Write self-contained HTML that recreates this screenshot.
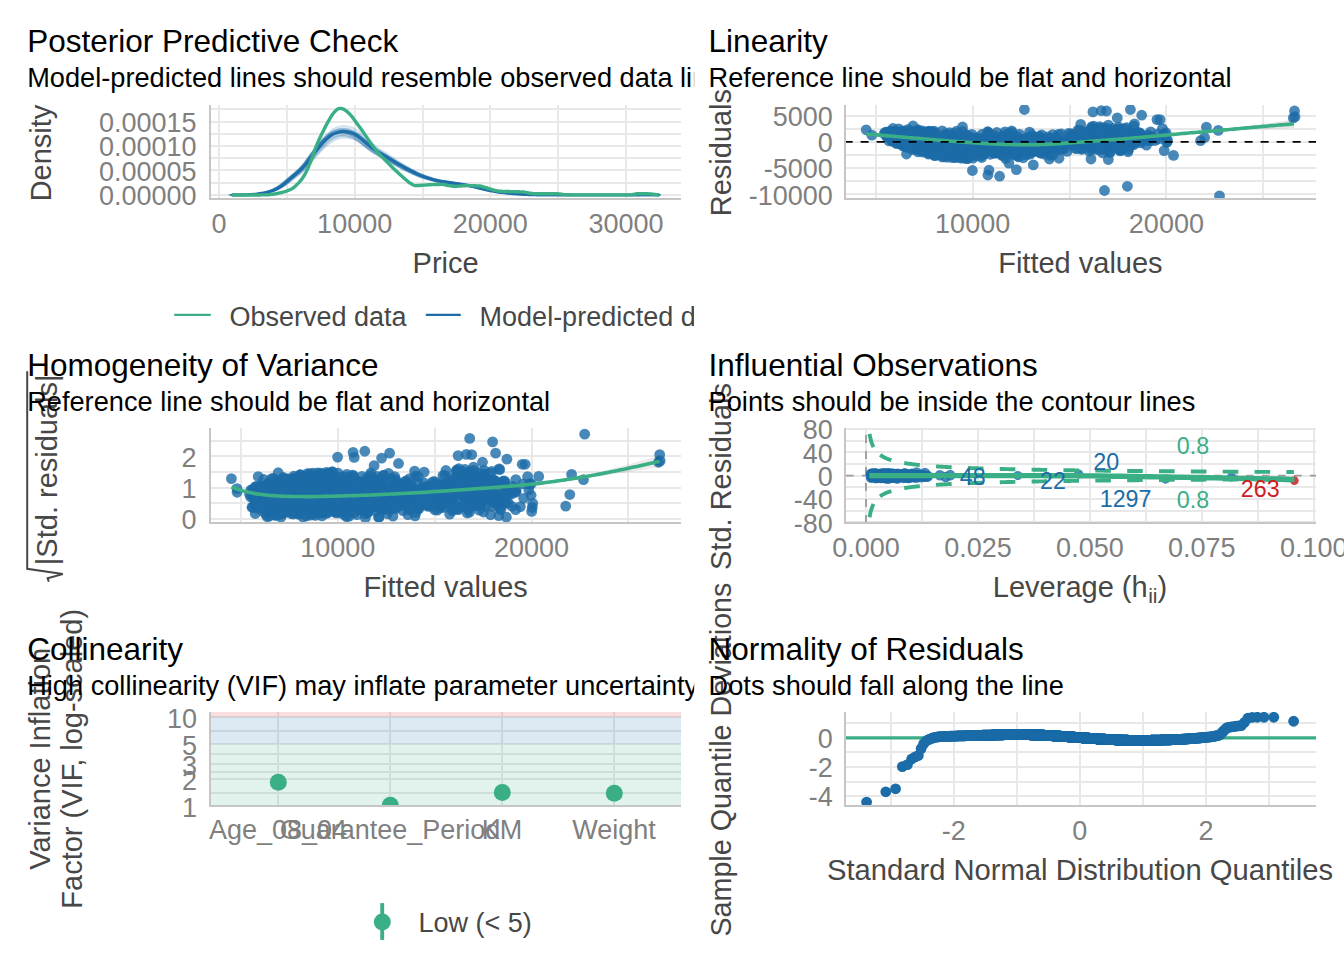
<!DOCTYPE html>
<html lang="en">
<head>
<meta charset="utf-8">
<title>Model assumption checks</title>
<style>
html,body{margin:0;padding:0;background:#fff;}
body{width:1344px;height:960px;overflow:hidden;}
svg{display:block;font-family:"Liberation Sans", sans-serif;}
text{font-family:"Liberation Sans", sans-serif;}
</style>
</head>
<body>
<svg width="1344" height="960" viewBox="0 0 1344 960">
<defs>
<clipPath id="cellL"><rect x="0" y="0" width="694.2" height="960"/></clipPath>
<clipPath id="c1"><rect x="211" y="105" width="470" height="93"/></clipPath>
<clipPath id="c2"><rect x="846" y="105" width="470" height="93"/></clipPath>
<clipPath id="c3"><rect x="211" y="428" width="470" height="94"/></clipPath>
<clipPath id="c4"><rect x="846" y="428" width="470" height="94"/></clipPath>
<clipPath id="c5"><rect x="211" y="712" width="470" height="93"/></clipPath>
<clipPath id="c6"><rect x="846" y="712" width="470" height="93"/></clipPath>
</defs>
<rect x="0" y="0" width="1344" height="960" fill="#fff"/>
<g>
<g shape-rendering="crispEdges" stroke="#e8e8e8" stroke-width="2">
<path d="M287 105 V199"/>
<path d="M423 105 V199"/>
<path d="M558 105 V199"/>
<path d="M219 105 V199"/>
<path d="M355 105 V199"/>
<path d="M490 105 V199"/>
<path d="M626 105 V199"/>
<path d="M210 183 H681"/>
<path d="M210 158 H681"/>
<path d="M210 134 H681"/>
<path d="M210 109 H681"/>
<path d="M210 195 H681"/>
<path d="M210 170 H681"/>
<path d="M210 146 H681"/>
<path d="M210 122 H681"/>
</g>
<g shape-rendering="crispEdges" stroke="#c6c6c6" stroke-width="2"><path d="M210 105 V200"/><path d="M209 199 H681"/></g>
<g clip-path="url(#c1)" fill="none" stroke-linejoin="round" stroke-linecap="butt">
<path d="M233.8 194.9 L235.45 194.89 L237.1 194.88 L238.75 194.87 L240.4 194.86 L242.05 194.85 L243.7 194.84 L245.35 194.82 L247 194.8 L248.66 194.76 L250.31 194.69 L251.96 194.6 L253.61 194.49 L255.26 194.36 L256.91 194.22 L258.56 194.06 L260.21 193.86 L261.86 193.62 L263.51 193.35 L265.16 193.05 L266.81 192.73 L268.46 192.36 L270.11 191.95 L271.76 191.49 L273.41 190.97 L275.06 190.4 L276.72 189.75 L278.37 188.95 L280.02 188.05 L281.67 187.07 L283.32 186.01 L284.97 184.82 L286.62 183.54 L288.27 182.17 L289.92 180.76 L291.57 179.33 L293.22 177.91 L294.87 176.5 L296.52 175.12 L298.17 173.72 L299.82 172.3 L301.47 170.83 L303.12 169.29 L304.77 167.65 L306.43 165.89 L308.08 163.92 L309.73 161.77 L311.38 159.51 L313.03 157.2 L314.68 154.92 L316.33 152.72 L317.98 150.68 L319.63 148.68 L321.28 146.67 L322.93 144.7 L324.58 142.8 L326.23 141.01 L327.88 139.37 L329.53 137.91 L331.18 136.57 L332.83 135.29 L334.49 134.16 L336.14 133.28 L337.79 132.67 L339.44 132.14 L341.09 131.68 L342.74 131.34 L344.39 131.15 L346.04 131.16 L347.69 131.31 L349.34 131.58 L350.99 131.91 L352.64 132.29 L354.29 132.84 L355.94 133.57 L357.59 134.42 L359.24 135.36 L360.89 136.48 L362.55 137.86 L364.2 139.33 L365.85 140.71 L367.5 142.08 L369.15 143.46 L370.8 144.85 L372.45 146.21 L374.1 147.52 L375.75 148.78 L377.4 149.95 L379.05 151.03 L380.7 152.05 L382.35 153.03 L384 153.99 L385.65 154.93 L387.3 155.88 L388.95 156.85 L390.61 157.85 L392.26 158.87 L393.91 159.89 L395.56 160.91 L397.21 161.92 L398.86 162.91 L400.51 163.89 L402.16 164.83 L403.81 165.77 L405.46 166.7 L407.11 167.61 L408.76 168.51 L410.41 169.38 L412.06 170.23 L413.71 171.05 L415.36 171.87 L417.01 172.68 L418.66 173.48 L420.32 174.24 L421.97 174.97 L423.62 175.64 L425.27 176.25 L426.92 176.83 L428.57 177.4 L430.22 177.94 L431.87 178.46 L433.52 178.96 L435.17 179.43 L436.82 179.87 L438.47 180.28 L440.12 180.65 L441.77 180.99 L443.42 181.29 L445.07 181.55 L446.72 181.79 L448.38 182.04 L450.03 182.29 L451.68 182.53 L453.33 182.78 L454.98 183.02 L456.63 183.26 L458.28 183.5 L459.93 183.75 L461.58 184.01 L463.23 184.27 L464.88 184.55 L466.53 184.82 L468.18 185.11 L469.83 185.4 L471.48 185.7 L473.13 186.01 L474.78 186.34 L476.44 186.68 L478.09 187.06 L479.74 187.47 L481.39 187.9 L483.04 188.34 L484.69 188.77 L486.34 189.2 L487.99 189.59 L489.64 189.95 L491.29 190.29 L492.94 190.62 L494.59 190.94 L496.24 191.25 L497.89 191.55 L499.54 191.82 L501.19 192.08 L502.84 192.31 L504.5 192.52 L506.15 192.72 L507.8 192.91 L509.45 193.09 L511.1 193.26 L512.75 193.41 L514.4 193.56 L516.05 193.69 L517.7 193.82 L519.35 193.94 L521 194.05 L522.65 194.16 L524.3 194.26 L525.95 194.35 L527.6 194.42 L529.25 194.49 L530.9 194.55 L532.55 194.6 L534.21 194.65 L535.86 194.7 L537.51 194.75 L539.16 194.79 L540.81 194.82 L542.46 194.85 L544.11 194.88 L545.76 194.89 L547.41 194.9 L549.06 194.91 L550.71 194.91 L552.36 194.92 L554.01 194.93 L555.66 194.93 L557.31 194.94 L558.96 194.94 L560.61 194.95 L562.27 194.95 L563.92 194.95 L565.57 194.96 L567.22 194.96 L568.87 194.97 L570.52 194.97 L572.17 194.97 L573.82 194.98 L575.47 194.98 L577.12 194.98 L578.77 194.98 L580.42 194.99 L582.07 194.99 L583.72 194.99 L585.37 194.99 L587.02 194.99 L588.67 194.99 L590.33 195 L591.98 195 L593.63 195 L595.28 195 L596.93 195 L598.58 195 L600.23 195 L601.88 195 L603.53 195 L605.18 195 L606.83 195 L608.48 195 L610.13 195 L611.78 195 L613.43 195 L615.08 195 L616.73 195 L618.38 195 L620.04 195 L621.69 195 L623.34 195 L624.99 195 L626.64 195 L628.29 195 L629.94 195 L631.59 195 L633.24 195 L634.89 195 L636.54 195 L638.19 195 L639.84 195 L641.49 195 L643.14 195 L644.79 195 L646.44 195 L648.1 195 L649.75 195 L651.4 195 L653.05 195 L654.7 195 L656.35 195 L658 195 L659.65 195 L661.3 195" stroke="#1b6ca8" stroke-width="1.6" stroke-opacity="0.22"/>
<path d="M233.39 194.9 L235.04 194.89 L236.69 194.88 L238.34 194.88 L239.99 194.87 L241.64 194.86 L243.29 194.84 L244.94 194.83 L246.59 194.81 L248.24 194.77 L249.89 194.71 L251.54 194.62 L253.19 194.51 L254.85 194.39 L256.5 194.26 L258.15 194.11 L259.8 193.91 L261.45 193.69 L263.1 193.42 L264.75 193.14 L266.4 192.83 L268.05 192.49 L269.7 192.09 L271.35 191.65 L273 191.16 L274.65 190.61 L276.3 189.99 L277.95 189.23 L279.6 188.37 L281.25 187.43 L282.91 186.42 L284.56 185.29 L286.21 184.06 L287.86 182.76 L289.51 181.42 L291.16 180.05 L292.81 178.69 L294.46 177.35 L296.11 176.03 L297.76 174.7 L299.41 173.35 L301.06 171.94 L302.71 170.47 L304.36 168.91 L306.01 167.23 L307.66 165.35 L309.31 163.3 L310.97 161.14 L312.62 158.94 L314.27 156.76 L315.92 154.67 L317.57 152.72 L319.22 150.81 L320.87 148.9 L322.52 147.02 L324.17 145.2 L325.82 143.5 L327.47 141.93 L329.12 140.54 L330.77 139.26 L332.42 138.04 L334.07 136.96 L335.72 136.11 L337.37 135.54 L339.02 135.03 L340.68 134.59 L342.33 134.26 L343.98 134.08 L345.63 134.09 L347.28 134.24 L348.93 134.5 L350.58 134.82 L352.23 135.17 L353.88 135.7 L355.53 136.39 L357.18 137.21 L358.83 138.1 L360.48 139.17 L362.13 140.49 L363.78 141.89 L365.43 143.21 L367.08 144.51 L368.74 145.83 L370.39 147.15 L372.04 148.45 L373.69 149.71 L375.34 150.9 L376.99 152.02 L378.64 153.05 L380.29 154.03 L381.94 154.96 L383.59 155.87 L385.24 156.77 L386.89 157.68 L388.54 158.6 L390.19 159.56 L391.84 160.53 L393.49 161.5 L395.14 162.48 L396.8 163.44 L398.45 164.39 L400.1 165.32 L401.75 166.22 L403.4 167.12 L405.05 168 L406.7 168.87 L408.35 169.72 L410 170.56 L411.65 171.37 L413.3 172.15 L414.95 172.93 L416.6 173.71 L418.25 174.47 L419.9 175.2 L421.55 175.89 L423.2 176.53 L424.85 177.11 L426.51 177.67 L428.16 178.21 L429.81 178.72 L431.46 179.22 L433.11 179.7 L434.76 180.14 L436.41 180.57 L438.06 180.96 L439.71 181.31 L441.36 181.64 L443.01 181.92 L444.66 182.17 L446.31 182.4 L447.96 182.63 L449.61 182.87 L451.26 183.11 L452.91 183.34 L454.57 183.57 L456.22 183.8 L457.87 184.03 L459.52 184.26 L461.17 184.51 L462.82 184.77 L464.47 185.03 L466.12 185.29 L467.77 185.56 L469.42 185.84 L471.07 186.13 L472.72 186.42 L474.37 186.73 L476.02 187.06 L477.67 187.42 L479.32 187.81 L480.97 188.22 L482.63 188.64 L484.28 189.06 L485.93 189.46 L487.58 189.84 L489.23 190.18 L490.88 190.51 L492.53 190.82 L494.18 191.13 L495.83 191.43 L497.48 191.71 L499.13 191.97 L500.78 192.21 L502.43 192.43 L504.08 192.63 L505.73 192.83 L507.38 193.01 L509.03 193.18 L510.69 193.34 L512.34 193.49 L513.99 193.62 L515.64 193.75 L517.29 193.87 L518.94 193.98 L520.59 194.09 L522.24 194.2 L523.89 194.29 L525.54 194.38 L527.19 194.45 L528.84 194.51 L530.49 194.57 L532.14 194.62 L533.79 194.67 L535.44 194.71 L537.09 194.76 L538.74 194.8 L540.4 194.83 L542.05 194.86 L543.7 194.88 L545.35 194.9 L547 194.91 L548.65 194.91 L550.3 194.92 L551.95 194.92 L553.6 194.93 L555.25 194.93 L556.9 194.94 L558.55 194.94 L560.2 194.95 L561.85 194.95 L563.5 194.96 L565.15 194.96 L566.8 194.96 L568.46 194.97 L570.11 194.97 L571.76 194.97 L573.41 194.98 L575.06 194.98 L576.71 194.98 L578.36 194.98 L580.01 194.99 L581.66 194.99 L583.31 194.99 L584.96 194.99 L586.61 194.99 L588.26 195 L589.91 195 L591.56 195 L593.21 195 L594.86 195 L596.52 195 L598.17 195 L599.82 195 L601.47 195 L603.12 195 L604.77 195 L606.42 195 L608.07 195 L609.72 195 L611.37 195 L613.02 195 L614.67 195 L616.32 195 L617.97 195 L619.62 195 L621.27 195 L622.92 195 L624.58 195 L626.23 195 L627.88 195 L629.53 195 L631.18 195 L632.83 195 L634.48 195 L636.13 195 L637.78 195 L639.43 195 L641.08 195 L642.73 195 L644.38 195 L646.03 195 L647.68 195 L649.33 195 L650.98 195 L652.63 195 L654.29 195 L655.94 195 L657.59 195 L659.24 195 L660.89 195" stroke="#1b6ca8" stroke-width="1.6" stroke-opacity="0.22"/>
<path d="M231.38 194.9 L233.03 194.89 L234.68 194.88 L236.33 194.87 L237.98 194.86 L239.63 194.85 L241.29 194.84 L242.94 194.82 L244.59 194.8 L246.24 194.76 L247.89 194.7 L249.54 194.6 L251.19 194.49 L252.84 194.37 L254.49 194.23 L256.14 194.08 L257.79 193.88 L259.44 193.64 L261.09 193.38 L262.74 193.08 L264.39 192.76 L266.04 192.41 L267.69 192 L269.34 191.54 L271 191.04 L272.65 190.48 L274.3 189.83 L275.95 189.05 L277.6 188.16 L279.25 187.2 L280.9 186.15 L282.55 184.98 L284.2 183.72 L285.85 182.38 L287.5 180.99 L289.15 179.58 L290.8 178.18 L292.45 176.8 L294.1 175.43 L295.75 174.06 L297.4 172.66 L299.06 171.21 L300.71 169.69 L302.36 168.08 L304.01 166.35 L305.66 164.41 L307.31 162.3 L308.96 160.07 L310.61 157.8 L312.26 155.55 L313.91 153.39 L315.56 151.38 L317.21 149.41 L318.86 147.44 L320.51 145.5 L322.16 143.63 L323.81 141.87 L325.46 140.25 L327.12 138.82 L328.77 137.5 L330.42 136.24 L332.07 135.13 L333.72 134.26 L335.37 133.66 L337.02 133.14 L338.67 132.69 L340.32 132.35 L341.97 132.16 L343.62 132.17 L345.27 132.32 L346.92 132.59 L348.57 132.91 L350.22 133.29 L351.87 133.83 L353.52 134.54 L355.18 135.38 L356.83 136.3 L358.48 137.4 L360.13 138.77 L361.78 140.21 L363.43 141.57 L365.08 142.92 L366.73 144.28 L368.38 145.64 L370.03 146.98 L371.68 148.28 L373.33 149.51 L374.98 150.66 L376.63 151.73 L378.28 152.74 L379.93 153.7 L381.58 154.64 L383.23 155.56 L384.89 156.5 L386.54 157.46 L388.19 158.44 L389.84 159.44 L391.49 160.45 L393.14 161.45 L394.79 162.44 L396.44 163.42 L398.09 164.38 L399.74 165.31 L401.39 166.23 L403.04 167.15 L404.69 168.05 L406.34 168.93 L407.99 169.79 L409.64 170.62 L411.29 171.43 L412.95 172.24 L414.6 173.04 L416.25 173.82 L417.9 174.57 L419.55 175.28 L421.2 175.95 L422.85 176.55 L424.5 177.12 L426.15 177.68 L427.8 178.21 L429.45 178.72 L431.1 179.21 L432.75 179.68 L434.4 180.11 L436.05 180.51 L437.7 180.88 L439.35 181.22 L441.01 181.51 L442.66 181.76 L444.31 182 L445.96 182.24 L447.61 182.49 L449.26 182.73 L450.91 182.97 L452.56 183.21 L454.21 183.44 L455.86 183.68 L457.51 183.93 L459.16 184.18 L460.81 184.44 L462.46 184.71 L464.11 184.98 L465.76 185.26 L467.41 185.55 L469.06 185.84 L470.72 186.15 L472.37 186.47 L474.02 186.81 L475.67 187.18 L477.32 187.59 L478.97 188.01 L480.62 188.44 L482.27 188.87 L483.92 189.29 L485.57 189.68 L487.22 190.03 L488.87 190.36 L490.52 190.69 L492.17 191.01 L493.82 191.31 L495.47 191.6 L497.12 191.87 L498.78 192.12 L500.43 192.35 L502.08 192.56 L503.73 192.76 L505.38 192.94 L507.03 193.12 L508.68 193.29 L510.33 193.44 L511.98 193.58 L513.63 193.71 L515.28 193.83 L516.93 193.95 L518.58 194.07 L520.23 194.17 L521.88 194.27 L523.53 194.36 L525.18 194.43 L526.84 194.5 L528.49 194.55 L530.14 194.61 L531.79 194.66 L533.44 194.7 L535.09 194.75 L536.74 194.79 L538.39 194.82 L540.04 194.85 L541.69 194.88 L543.34 194.89 L544.99 194.9 L546.64 194.91 L548.29 194.92 L549.94 194.92 L551.59 194.93 L553.24 194.93 L554.9 194.94 L556.55 194.94 L558.2 194.95 L559.85 194.95 L561.5 194.96 L563.15 194.96 L564.8 194.96 L566.45 194.97 L568.1 194.97 L569.75 194.97 L571.4 194.98 L573.05 194.98 L574.7 194.98 L576.35 194.98 L578 194.99 L579.65 194.99 L581.3 194.99 L582.95 194.99 L584.61 194.99 L586.26 194.99 L587.91 195 L589.56 195 L591.21 195 L592.86 195 L594.51 195 L596.16 195 L597.81 195 L599.46 195 L601.11 195 L602.76 195 L604.41 195 L606.06 195 L607.71 195 L609.36 195 L611.01 195 L612.67 195 L614.32 195 L615.97 195 L617.62 195 L619.27 195 L620.92 195 L622.57 195 L624.22 195 L625.87 195 L627.52 195 L629.17 195 L630.82 195 L632.47 195 L634.12 195 L635.77 195 L637.42 195 L639.07 195 L640.73 195 L642.38 195 L644.03 195 L645.68 195 L647.33 195 L648.98 195 L650.63 195 L652.28 195 L653.93 195 L655.58 195 L657.23 195 L658.88 195" stroke="#1b6ca8" stroke-width="1.6" stroke-opacity="0.22"/>
<path d="M232.05 194.89 L233.7 194.88 L235.35 194.87 L237 194.86 L238.65 194.85 L240.3 194.84 L241.96 194.82 L243.61 194.81 L245.26 194.78 L246.91 194.74 L248.56 194.67 L250.21 194.57 L251.86 194.44 L253.51 194.31 L255.16 194.16 L256.81 193.99 L258.46 193.77 L260.11 193.51 L261.76 193.22 L263.41 192.89 L265.06 192.55 L266.71 192.15 L268.36 191.7 L270.02 191.2 L271.67 190.65 L273.32 190.03 L274.97 189.32 L276.62 188.46 L278.27 187.49 L279.92 186.43 L281.57 185.28 L283.22 184 L284.87 182.61 L286.52 181.14 L288.17 179.61 L289.82 178.07 L291.47 176.52 L293.12 175.01 L294.77 173.51 L296.42 172 L298.08 170.47 L299.73 168.87 L301.38 167.21 L303.03 165.44 L304.68 163.54 L306.33 161.41 L307.98 159.08 L309.63 156.64 L311.28 154.15 L312.93 151.68 L314.58 149.3 L316.23 147.09 L317.88 144.93 L319.53 142.76 L321.18 140.63 L322.83 138.58 L324.48 136.65 L326.14 134.87 L327.79 133.29 L329.44 131.84 L331.09 130.46 L332.74 129.24 L334.39 128.28 L336.04 127.63 L337.69 127.06 L339.34 126.56 L340.99 126.19 L342.64 125.98 L344.29 125.99 L345.94 126.16 L347.59 126.45 L349.24 126.81 L350.89 127.22 L352.54 127.81 L354.19 128.6 L355.85 129.52 L357.5 130.53 L359.15 131.74 L360.8 133.24 L362.45 134.83 L364.1 136.32 L365.75 137.8 L367.4 139.3 L369.05 140.79 L370.7 142.26 L372.35 143.68 L374 145.04 L375.65 146.3 L377.3 147.47 L378.95 148.58 L380.6 149.64 L382.25 150.67 L383.91 151.69 L385.56 152.71 L387.21 153.77 L388.86 154.85 L390.51 155.95 L392.16 157.05 L393.81 158.15 L395.46 159.24 L397.11 160.32 L398.76 161.37 L400.41 162.39 L402.06 163.41 L403.71 164.41 L405.36 165.4 L407.01 166.36 L408.66 167.31 L410.31 168.22 L411.97 169.11 L413.62 170 L415.27 170.88 L416.92 171.74 L418.57 172.56 L420.22 173.35 L421.87 174.07 L423.52 174.73 L425.17 175.36 L426.82 175.97 L428.47 176.56 L430.12 177.12 L431.77 177.66 L433.42 178.17 L435.07 178.65 L436.72 179.09 L438.37 179.49 L440.03 179.86 L441.68 180.18 L443.33 180.46 L444.98 180.73 L446.63 180.99 L448.28 181.26 L449.93 181.53 L451.58 181.79 L453.23 182.05 L454.88 182.31 L456.53 182.57 L458.18 182.84 L459.83 183.12 L461.48 183.41 L463.13 183.7 L464.78 184 L466.43 184.31 L468.08 184.62 L469.74 184.95 L471.39 185.28 L473.04 185.63 L474.69 186.01 L476.34 186.41 L477.99 186.86 L479.64 187.32 L481.29 187.8 L482.94 188.27 L484.59 188.73 L486.24 189.15 L487.89 189.54 L489.54 189.91 L491.19 190.27 L492.84 190.62 L494.49 190.95 L496.14 191.27 L497.8 191.57 L499.45 191.84 L501.1 192.09 L502.75 192.32 L504.4 192.54 L506.05 192.74 L507.7 192.94 L509.35 193.12 L511 193.29 L512.65 193.44 L514.3 193.58 L515.95 193.72 L517.6 193.85 L519.25 193.97 L520.9 194.09 L522.55 194.2 L524.2 194.29 L525.86 194.38 L527.51 194.45 L529.16 194.51 L530.81 194.57 L532.46 194.62 L534.11 194.68 L535.76 194.72 L537.41 194.77 L539.06 194.81 L540.71 194.84 L542.36 194.87 L544.01 194.88 L545.66 194.89 L547.31 194.9 L548.96 194.91 L550.61 194.91 L552.26 194.92 L553.91 194.93 L555.57 194.93 L557.22 194.94 L558.87 194.94 L560.52 194.95 L562.17 194.95 L563.82 194.96 L565.47 194.96 L567.12 194.96 L568.77 194.97 L570.42 194.97 L572.07 194.97 L573.72 194.98 L575.37 194.98 L577.02 194.98 L578.67 194.99 L580.32 194.99 L581.97 194.99 L583.63 194.99 L585.28 194.99 L586.93 194.99 L588.58 195 L590.23 195 L591.88 195 L593.53 195 L595.18 195 L596.83 195 L598.48 195 L600.13 195 L601.78 195 L603.43 195 L605.08 195 L606.73 195 L608.38 195 L610.03 195 L611.69 195 L613.34 195 L614.99 195 L616.64 195 L618.29 195 L619.94 195 L621.59 195 L623.24 195 L624.89 195 L626.54 195 L628.19 195 L629.84 195 L631.49 195 L633.14 195 L634.79 195 L636.44 195 L638.09 195 L639.75 195 L641.4 195 L643.05 195 L644.7 195 L646.35 195 L648 195 L649.65 195 L651.3 195 L652.95 195 L654.6 195 L656.25 195 L657.9 195 L659.55 195" stroke="#1b6ca8" stroke-width="1.6" stroke-opacity="0.22"/>
<path d="M232.97 194.9 L234.62 194.89 L236.27 194.88 L237.92 194.87 L239.57 194.86 L241.22 194.85 L242.87 194.84 L244.52 194.82 L246.17 194.8 L247.82 194.76 L249.47 194.69 L251.12 194.6 L252.77 194.49 L254.42 194.36 L256.08 194.23 L257.73 194.07 L259.38 193.87 L261.03 193.63 L262.68 193.36 L264.33 193.06 L265.98 192.74 L267.63 192.38 L269.28 191.97 L270.93 191.51 L272.58 191 L274.23 190.43 L275.88 189.78 L277.53 188.99 L279.18 188.09 L280.83 187.12 L282.48 186.06 L284.14 184.89 L285.79 183.61 L287.44 182.25 L289.09 180.85 L290.74 179.43 L292.39 178.01 L294.04 176.62 L295.69 175.24 L297.34 173.85 L298.99 172.44 L300.64 170.98 L302.29 169.45 L303.94 167.82 L305.59 166.07 L307.24 164.11 L308.89 161.98 L310.54 159.73 L312.19 157.44 L313.85 155.17 L315.5 152.98 L317.15 150.95 L318.8 148.96 L320.45 146.97 L322.1 145.01 L323.75 143.13 L325.4 141.35 L327.05 139.71 L328.7 138.26 L330.35 136.93 L332 135.66 L333.65 134.54 L335.3 133.66 L336.95 133.06 L338.6 132.53 L340.25 132.07 L341.91 131.73 L343.56 131.54 L345.21 131.55 L346.86 131.71 L348.51 131.97 L350.16 132.3 L351.81 132.68 L353.46 133.23 L355.11 133.95 L356.76 134.79 L358.41 135.72 L360.06 136.84 L361.71 138.22 L363.36 139.67 L365.01 141.05 L366.66 142.41 L368.31 143.78 L369.97 145.16 L371.62 146.51 L373.27 147.82 L374.92 149.06 L376.57 150.22 L378.22 151.3 L379.87 152.32 L381.52 153.29 L383.17 154.24 L384.82 155.17 L386.47 156.12 L388.12 157.09 L389.77 158.08 L391.42 159.09 L393.07 160.11 L394.72 161.12 L396.37 162.12 L398.03 163.11 L399.68 164.08 L401.33 165.02 L402.98 165.95 L404.63 166.87 L406.28 167.78 L407.93 168.67 L409.58 169.54 L411.23 170.38 L412.88 171.2 L414.53 172.01 L416.18 172.82 L417.83 173.61 L419.48 174.37 L421.13 175.09 L422.78 175.76 L424.43 176.37 L426.08 176.94 L427.74 177.51 L429.39 178.05 L431.04 178.56 L432.69 179.06 L434.34 179.53 L435.99 179.96 L437.64 180.37 L439.29 180.74 L440.94 181.08 L442.59 181.37 L444.24 181.63 L445.89 181.87 L447.54 182.12 L449.19 182.37 L450.84 182.61 L452.49 182.85 L454.14 183.09 L455.8 183.33 L457.45 183.57 L459.1 183.82 L460.75 184.07 L462.4 184.34 L464.05 184.61 L465.7 184.89 L467.35 185.17 L469 185.46 L470.65 185.75 L472.3 186.07 L473.95 186.39 L475.6 186.73 L477.25 187.11 L478.9 187.51 L480.55 187.94 L482.2 188.38 L483.86 188.81 L485.51 189.23 L487.16 189.62 L488.81 189.98 L490.46 190.32 L492.11 190.65 L493.76 190.97 L495.41 191.28 L497.06 191.57 L498.71 191.84 L500.36 192.1 L502.01 192.32 L503.66 192.54 L505.31 192.74 L506.96 192.92 L508.61 193.1 L510.26 193.27 L511.92 193.42 L513.57 193.57 L515.22 193.7 L516.87 193.82 L518.52 193.94 L520.17 194.06 L521.82 194.16 L523.47 194.26 L525.12 194.35 L526.77 194.43 L528.42 194.49 L530.07 194.55 L531.72 194.6 L533.37 194.65 L535.02 194.7 L536.67 194.75 L538.32 194.79 L539.97 194.82 L541.63 194.85 L543.28 194.88 L544.93 194.89 L546.58 194.9 L548.23 194.91 L549.88 194.91 L551.53 194.92 L553.18 194.93 L554.83 194.93 L556.48 194.94 L558.13 194.94 L559.78 194.95 L561.43 194.95 L563.08 194.95 L564.73 194.96 L566.38 194.96 L568.03 194.97 L569.69 194.97 L571.34 194.97 L572.99 194.98 L574.64 194.98 L576.29 194.98 L577.94 194.98 L579.59 194.99 L581.24 194.99 L582.89 194.99 L584.54 194.99 L586.19 194.99 L587.84 194.99 L589.49 195 L591.14 195 L592.79 195 L594.44 195 L596.09 195 L597.75 195 L599.4 195 L601.05 195 L602.7 195 L604.35 195 L606 195 L607.65 195 L609.3 195 L610.95 195 L612.6 195 L614.25 195 L615.9 195 L617.55 195 L619.2 195 L620.85 195 L622.5 195 L624.15 195 L625.81 195 L627.46 195 L629.11 195 L630.76 195 L632.41 195 L634.06 195 L635.71 195 L637.36 195 L639.01 195 L640.66 195 L642.31 195 L643.96 195 L645.61 195 L647.26 195 L648.91 195 L650.56 195 L652.21 195 L653.86 195 L655.52 195 L657.17 195 L658.82 195 L660.47 195" stroke="#1b6ca8" stroke-width="1.6" stroke-opacity="0.22"/>
<path d="M231.75 194.89 L233.4 194.88 L235.05 194.87 L236.7 194.86 L238.35 194.85 L240 194.84 L241.65 194.83 L243.3 194.81 L244.96 194.79 L246.61 194.75 L248.26 194.68 L249.91 194.58 L251.56 194.46 L253.21 194.33 L254.86 194.19 L256.51 194.02 L258.16 193.81 L259.81 193.56 L261.46 193.27 L263.11 192.96 L264.76 192.62 L266.41 192.24 L268.06 191.81 L269.71 191.32 L271.36 190.78 L273.02 190.19 L274.67 189.5 L276.32 188.67 L277.97 187.73 L279.62 186.7 L281.27 185.59 L282.92 184.35 L284.57 183.01 L286.22 181.58 L287.87 180.11 L289.52 178.61 L291.17 177.11 L292.82 175.65 L294.47 174.2 L296.12 172.74 L297.77 171.25 L299.42 169.71 L301.07 168.1 L302.73 166.39 L304.38 164.55 L306.03 162.48 L307.68 160.23 L309.33 157.87 L310.98 155.45 L312.63 153.06 L314.28 150.77 L315.93 148.63 L317.58 146.54 L319.23 144.44 L320.88 142.38 L322.53 140.39 L324.18 138.52 L325.83 136.8 L327.48 135.27 L329.13 133.87 L330.79 132.53 L332.44 131.35 L334.09 130.42 L335.74 129.79 L337.39 129.24 L339.04 128.75 L340.69 128.39 L342.34 128.2 L343.99 128.2 L345.64 128.37 L347.29 128.65 L348.94 129 L350.59 129.39 L352.24 129.97 L353.89 130.73 L355.54 131.62 L357.19 132.6 L358.85 133.77 L360.5 135.22 L362.15 136.76 L363.8 138.2 L365.45 139.63 L367.1 141.08 L368.75 142.53 L370.4 143.95 L372.05 145.33 L373.7 146.64 L375.35 147.86 L377 149 L378.65 150.07 L380.3 151.09 L381.95 152.09 L383.6 153.07 L385.25 154.07 L386.91 155.09 L388.56 156.14 L390.21 157.2 L391.86 158.27 L393.51 159.33 L395.16 160.39 L396.81 161.43 L398.46 162.45 L400.11 163.44 L401.76 164.42 L403.41 165.39 L405.06 166.34 L406.71 167.28 L408.36 168.19 L410.01 169.08 L411.66 169.94 L413.31 170.8 L414.96 171.65 L416.62 172.48 L418.27 173.28 L419.92 174.04 L421.57 174.74 L423.22 175.38 L424.87 175.99 L426.52 176.58 L428.17 177.15 L429.82 177.7 L431.47 178.22 L433.12 178.71 L434.77 179.17 L436.42 179.6 L438.07 179.99 L439.72 180.35 L441.37 180.65 L443.02 180.93 L444.68 181.18 L446.33 181.44 L447.98 181.7 L449.63 181.96 L451.28 182.21 L452.93 182.46 L454.58 182.71 L456.23 182.97 L457.88 183.23 L459.53 183.5 L461.18 183.78 L462.83 184.06 L464.48 184.35 L466.13 184.65 L467.78 184.95 L469.43 185.27 L471.08 185.59 L472.74 185.93 L474.39 186.29 L476.04 186.69 L477.69 187.12 L479.34 187.57 L480.99 188.03 L482.64 188.49 L484.29 188.93 L485.94 189.34 L487.59 189.72 L489.24 190.07 L490.89 190.42 L492.54 190.76 L494.19 191.08 L495.84 191.39 L497.49 191.68 L499.14 191.94 L500.8 192.18 L502.45 192.41 L504.1 192.62 L505.75 192.82 L507.4 193 L509.05 193.18 L510.7 193.34 L512.35 193.49 L514 193.63 L515.65 193.76 L517.3 193.89 L518.95 194.01 L520.6 194.12 L522.25 194.22 L523.9 194.32 L525.55 194.4 L527.2 194.47 L528.85 194.52 L530.51 194.58 L532.16 194.63 L533.81 194.69 L535.46 194.73 L537.11 194.78 L538.76 194.81 L540.41 194.85 L542.06 194.87 L543.71 194.89 L545.36 194.9 L547.01 194.9 L548.66 194.91 L550.31 194.92 L551.96 194.92 L553.61 194.93 L555.26 194.93 L556.91 194.94 L558.57 194.94 L560.22 194.95 L561.87 194.95 L563.52 194.96 L565.17 194.96 L566.82 194.96 L568.47 194.97 L570.12 194.97 L571.77 194.97 L573.42 194.98 L575.07 194.98 L576.72 194.98 L578.37 194.99 L580.02 194.99 L581.67 194.99 L583.32 194.99 L584.97 194.99 L586.63 194.99 L588.28 195 L589.93 195 L591.58 195 L593.23 195 L594.88 195 L596.53 195 L598.18 195 L599.83 195 L601.48 195 L603.13 195 L604.78 195 L606.43 195 L608.08 195 L609.73 195 L611.38 195 L613.03 195 L614.69 195 L616.34 195 L617.99 195 L619.64 195 L621.29 195 L622.94 195 L624.59 195 L626.24 195 L627.89 195 L629.54 195 L631.19 195 L632.84 195 L634.49 195 L636.14 195 L637.79 195 L639.44 195 L641.09 195 L642.74 195 L644.4 195 L646.05 195 L647.7 195 L649.35 195 L651 195 L652.65 195 L654.3 195 L655.95 195 L657.6 195 L659.25 195" stroke="#1b6ca8" stroke-width="1.6" stroke-opacity="0.22"/>
<path d="M230.24 194.9 L231.89 194.89 L233.54 194.88 L235.19 194.87 L236.84 194.86 L238.49 194.85 L240.15 194.83 L241.8 194.82 L243.45 194.79 L245.1 194.75 L246.75 194.68 L248.4 194.59 L250.05 194.47 L251.7 194.34 L253.35 194.2 L255 194.04 L256.65 193.84 L258.3 193.59 L259.95 193.31 L261.6 193.01 L263.25 192.68 L264.9 192.31 L266.55 191.88 L268.21 191.41 L269.86 190.88 L271.51 190.3 L273.16 189.63 L274.81 188.82 L276.46 187.9 L278.11 186.89 L279.76 185.81 L281.41 184.6 L283.06 183.28 L284.71 181.89 L286.36 180.45 L288.01 178.99 L289.66 177.53 L291.31 176.09 L292.96 174.68 L294.61 173.25 L296.27 171.8 L297.92 170.3 L299.57 168.72 L301.22 167.05 L302.87 165.25 L304.52 163.23 L306.17 161.04 L307.82 158.72 L309.47 156.37 L311.12 154.03 L312.77 151.79 L314.42 149.7 L316.07 147.65 L317.72 145.61 L319.37 143.59 L321.02 141.65 L322.67 139.82 L324.33 138.14 L325.98 136.65 L327.63 135.28 L329.28 133.97 L330.93 132.82 L332.58 131.91 L334.23 131.3 L335.88 130.75 L337.53 130.28 L339.18 129.93 L340.83 129.74 L342.48 129.74 L344.13 129.91 L345.78 130.18 L347.43 130.52 L349.08 130.9 L350.73 131.47 L352.38 132.21 L354.04 133.08 L355.69 134.04 L357.34 135.18 L358.99 136.6 L360.64 138.1 L362.29 139.51 L363.94 140.91 L365.59 142.33 L367.24 143.74 L368.89 145.13 L370.54 146.47 L372.19 147.75 L373.84 148.95 L375.49 150.06 L377.14 151.11 L378.79 152.11 L380.44 153.08 L382.1 154.04 L383.75 155.01 L385.4 156.01 L387.05 157.03 L388.7 158.07 L390.35 159.11 L392 160.16 L393.65 161.19 L395.3 162.21 L396.95 163.2 L398.6 164.17 L400.25 165.13 L401.9 166.07 L403.55 167.01 L405.2 167.92 L406.85 168.81 L408.5 169.68 L410.16 170.52 L411.81 171.36 L413.46 172.19 L415.11 173 L416.76 173.78 L418.41 174.52 L420.06 175.21 L421.71 175.84 L423.36 176.43 L425.01 177.01 L426.66 177.56 L428.31 178.1 L429.96 178.6 L431.61 179.08 L433.26 179.54 L434.91 179.95 L436.56 180.34 L438.22 180.68 L439.87 180.99 L441.52 181.25 L443.17 181.5 L444.82 181.75 L446.47 182.01 L448.12 182.26 L449.77 182.51 L451.42 182.75 L453.07 183 L454.72 183.24 L456.37 183.5 L458.02 183.76 L459.67 184.04 L461.32 184.31 L462.97 184.6 L464.62 184.89 L466.27 185.18 L467.93 185.49 L469.58 185.81 L471.23 186.14 L472.88 186.49 L474.53 186.88 L476.18 187.3 L477.83 187.74 L479.48 188.19 L481.13 188.64 L482.78 189.07 L484.43 189.47 L486.08 189.84 L487.73 190.19 L489.38 190.53 L491.03 190.86 L492.68 191.17 L494.33 191.47 L495.99 191.75 L497.64 192.01 L499.29 192.25 L500.94 192.47 L502.59 192.67 L504.24 192.87 L505.89 193.05 L507.54 193.22 L509.19 193.38 L510.84 193.53 L512.49 193.66 L514.14 193.79 L515.79 193.91 L517.44 194.03 L519.09 194.14 L520.74 194.24 L522.39 194.33 L524.05 194.41 L525.7 194.48 L527.35 194.53 L529 194.59 L530.65 194.64 L532.3 194.69 L533.95 194.74 L535.6 194.78 L537.25 194.82 L538.9 194.85 L540.55 194.87 L542.2 194.89 L543.85 194.9 L545.5 194.91 L547.15 194.91 L548.8 194.92 L550.45 194.92 L552.1 194.93 L553.76 194.93 L555.41 194.94 L557.06 194.94 L558.71 194.95 L560.36 194.95 L562.01 194.96 L563.66 194.96 L565.31 194.97 L566.96 194.97 L568.61 194.97 L570.26 194.98 L571.91 194.98 L573.56 194.98 L575.21 194.98 L576.86 194.99 L578.51 194.99 L580.16 194.99 L581.82 194.99 L583.47 194.99 L585.12 194.99 L586.77 195 L588.42 195 L590.07 195 L591.72 195 L593.37 195 L595.02 195 L596.67 195 L598.32 195 L599.97 195 L601.62 195 L603.27 195 L604.92 195 L606.57 195 L608.22 195 L609.88 195 L611.53 195 L613.18 195 L614.83 195 L616.48 195 L618.13 195 L619.78 195 L621.43 195 L623.08 195 L624.73 195 L626.38 195 L628.03 195 L629.68 195 L631.33 195 L632.98 195 L634.63 195 L636.28 195 L637.94 195 L639.59 195 L641.24 195 L642.89 195 L644.54 195 L646.19 195 L647.84 195 L649.49 195 L651.14 195 L652.79 195 L654.44 195 L656.09 195 L657.74 195" stroke="#1b6ca8" stroke-width="1.6" stroke-opacity="0.22"/>
<path d="M231.1 194.9 L232.75 194.89 L234.4 194.88 L236.05 194.87 L237.7 194.86 L239.35 194.85 L241 194.84 L242.65 194.82 L244.3 194.8 L245.95 194.76 L247.6 194.7 L249.26 194.61 L250.91 194.5 L252.56 194.37 L254.21 194.24 L255.86 194.08 L257.51 193.89 L259.16 193.65 L260.81 193.38 L262.46 193.09 L264.11 192.78 L265.76 192.42 L267.41 192.01 L269.06 191.56 L270.71 191.05 L272.36 190.5 L274.01 189.85 L275.66 189.08 L277.32 188.19 L278.97 187.23 L280.62 186.19 L282.27 185.03 L283.92 183.77 L285.57 182.44 L287.22 181.06 L288.87 179.66 L290.52 178.26 L292.17 176.89 L293.82 175.53 L295.47 174.16 L297.12 172.77 L298.77 171.33 L300.42 169.82 L302.07 168.22 L303.72 166.49 L305.38 164.56 L307.03 162.46 L308.68 160.24 L310.33 157.98 L311.98 155.75 L313.63 153.6 L315.28 151.59 L316.93 149.64 L318.58 147.67 L320.23 145.74 L321.88 143.88 L323.53 142.13 L325.18 140.52 L326.83 139.09 L328.48 137.78 L330.13 136.53 L331.78 135.42 L333.43 134.55 L335.09 133.96 L336.74 133.44 L338.39 132.99 L340.04 132.65 L341.69 132.47 L343.34 132.48 L344.99 132.63 L346.64 132.89 L348.29 133.22 L349.94 133.59 L351.59 134.13 L353.24 134.84 L354.89 135.67 L356.54 136.59 L358.19 137.69 L359.84 139.04 L361.49 140.48 L363.15 141.84 L364.8 143.17 L366.45 144.53 L368.1 145.88 L369.75 147.22 L371.4 148.51 L373.05 149.73 L374.7 150.88 L376.35 151.94 L378 152.94 L379.65 153.9 L381.3 154.83 L382.95 155.76 L384.6 156.69 L386.25 157.64 L387.9 158.62 L389.55 159.62 L391.21 160.62 L392.86 161.61 L394.51 162.6 L396.16 163.58 L397.81 164.53 L399.46 165.46 L401.11 166.38 L402.76 167.28 L404.41 168.18 L406.06 169.05 L407.71 169.91 L409.36 170.74 L411.01 171.55 L412.66 172.35 L414.31 173.15 L415.96 173.92 L417.61 174.67 L419.27 175.38 L420.92 176.04 L422.57 176.64 L424.22 177.21 L425.87 177.76 L427.52 178.29 L429.17 178.8 L430.82 179.29 L432.47 179.75 L434.12 180.18 L435.77 180.58 L437.42 180.95 L439.07 181.28 L440.72 181.57 L442.37 181.83 L444.02 182.07 L445.67 182.3 L447.32 182.55 L448.98 182.79 L450.63 183.03 L452.28 183.26 L453.93 183.5 L455.58 183.74 L457.23 183.98 L458.88 184.23 L460.53 184.5 L462.18 184.76 L463.83 185.03 L465.48 185.31 L467.13 185.6 L468.78 185.89 L470.43 186.2 L472.08 186.51 L473.73 186.85 L475.38 187.22 L477.04 187.62 L478.69 188.05 L480.34 188.48 L481.99 188.9 L483.64 189.32 L485.29 189.7 L486.94 190.05 L488.59 190.39 L490.24 190.71 L491.89 191.03 L493.54 191.33 L495.19 191.62 L496.84 191.89 L498.49 192.14 L500.14 192.36 L501.79 192.57 L503.44 192.77 L505.1 192.95 L506.75 193.13 L508.4 193.29 L510.05 193.45 L511.7 193.59 L513.35 193.72 L515 193.84 L516.65 193.96 L518.3 194.07 L519.95 194.18 L521.6 194.27 L523.25 194.36 L524.9 194.44 L526.55 194.5 L528.2 194.55 L529.85 194.61 L531.5 194.66 L533.15 194.71 L534.81 194.75 L536.46 194.79 L538.11 194.83 L539.76 194.86 L541.41 194.88 L543.06 194.89 L544.71 194.9 L546.36 194.91 L548.01 194.92 L549.66 194.92 L551.31 194.93 L552.96 194.93 L554.61 194.94 L556.26 194.94 L557.91 194.95 L559.56 194.95 L561.21 194.96 L562.87 194.96 L564.52 194.96 L566.17 194.97 L567.82 194.97 L569.47 194.97 L571.12 194.98 L572.77 194.98 L574.42 194.98 L576.07 194.98 L577.72 194.99 L579.37 194.99 L581.02 194.99 L582.67 194.99 L584.32 194.99 L585.97 194.99 L587.62 195 L589.27 195 L590.93 195 L592.58 195 L594.23 195 L595.88 195 L597.53 195 L599.18 195 L600.83 195 L602.48 195 L604.13 195 L605.78 195 L607.43 195 L609.08 195 L610.73 195 L612.38 195 L614.03 195 L615.68 195 L617.33 195 L618.99 195 L620.64 195 L622.29 195 L623.94 195 L625.59 195 L627.24 195 L628.89 195 L630.54 195 L632.19 195 L633.84 195 L635.49 195 L637.14 195 L638.79 195 L640.44 195 L642.09 195 L643.74 195 L645.39 195 L647.04 195 L648.7 195 L650.35 195 L652 195 L653.65 195 L655.3 195 L656.95 195 L658.6 195" stroke="#1b6ca8" stroke-width="1.6" stroke-opacity="0.22"/>
<path d="M229.39 194.91 L231.04 194.9 L232.69 194.89 L234.34 194.88 L235.99 194.87 L237.64 194.86 L239.29 194.85 L240.94 194.83 L242.59 194.81 L244.24 194.78 L245.89 194.71 L247.54 194.62 L249.19 194.52 L250.84 194.4 L252.49 194.27 L254.15 194.12 L255.8 193.94 L257.45 193.71 L259.1 193.45 L260.75 193.18 L262.4 192.87 L264.05 192.53 L265.7 192.15 L267.35 191.71 L269 191.23 L270.65 190.7 L272.3 190.08 L273.95 189.34 L275.6 188.49 L277.25 187.58 L278.9 186.58 L280.55 185.47 L282.2 184.27 L283.86 182.99 L285.51 181.67 L287.16 180.33 L288.81 179 L290.46 177.69 L292.11 176.39 L293.76 175.08 L295.41 173.75 L297.06 172.38 L298.71 170.93 L300.36 169.4 L302.01 167.75 L303.66 165.91 L305.31 163.9 L306.96 161.78 L308.61 159.62 L310.26 157.48 L311.92 155.43 L313.57 153.51 L315.22 151.64 L316.87 149.76 L318.52 147.92 L320.17 146.14 L321.82 144.47 L323.47 142.93 L325.12 141.56 L326.77 140.31 L328.42 139.11 L330.07 138.05 L331.72 137.22 L333.37 136.66 L335.02 136.16 L336.67 135.73 L338.32 135.41 L339.98 135.23 L341.63 135.24 L343.28 135.39 L344.93 135.64 L346.58 135.95 L348.23 136.3 L349.88 136.82 L351.53 137.5 L353.18 138.29 L354.83 139.17 L356.48 140.22 L358.13 141.52 L359.78 142.89 L361.43 144.18 L363.08 145.46 L364.73 146.76 L366.38 148.05 L368.04 149.33 L369.69 150.56 L371.34 151.73 L372.99 152.83 L374.64 153.84 L376.29 154.8 L377.94 155.72 L379.59 156.61 L381.24 157.49 L382.89 158.38 L384.54 159.29 L386.19 160.23 L387.84 161.18 L389.49 162.14 L391.14 163.09 L392.79 164.04 L394.44 164.97 L396.09 165.88 L397.75 166.76 L399.4 167.64 L401.05 168.51 L402.7 169.36 L404.35 170.2 L406 171.02 L407.65 171.81 L409.3 172.58 L410.95 173.35 L412.6 174.11 L414.25 174.85 L415.9 175.57 L417.55 176.25 L419.2 176.88 L420.85 177.45 L422.5 177.99 L424.15 178.52 L425.81 179.03 L427.46 179.52 L429.11 179.98 L430.76 180.42 L432.41 180.84 L434.06 181.22 L435.71 181.57 L437.36 181.89 L439.01 182.17 L440.66 182.41 L442.31 182.64 L443.96 182.86 L445.61 183.1 L447.26 183.33 L448.91 183.56 L450.56 183.78 L452.21 184.01 L453.87 184.23 L455.52 184.47 L457.17 184.71 L458.82 184.96 L460.47 185.21 L462.12 185.47 L463.77 185.74 L465.42 186.01 L467.07 186.29 L468.72 186.58 L470.37 186.89 L472.02 187.21 L473.67 187.56 L475.32 187.95 L476.97 188.35 L478.62 188.76 L480.27 189.17 L481.92 189.57 L483.58 189.94 L485.23 190.27 L486.88 190.59 L488.53 190.9 L490.18 191.2 L491.83 191.49 L493.48 191.77 L495.13 192.03 L496.78 192.26 L498.43 192.48 L500.08 192.68 L501.73 192.87 L503.38 193.05 L505.03 193.21 L506.68 193.37 L508.33 193.52 L509.98 193.65 L511.64 193.77 L513.29 193.89 L514.94 194 L516.59 194.11 L518.24 194.21 L519.89 194.3 L521.54 194.39 L523.19 194.46 L524.84 194.52 L526.49 194.57 L528.14 194.62 L529.79 194.67 L531.44 194.72 L533.09 194.76 L534.74 194.8 L536.39 194.83 L538.04 194.86 L539.7 194.88 L541.35 194.9 L543 194.91 L544.65 194.91 L546.3 194.92 L547.95 194.92 L549.6 194.93 L551.25 194.94 L552.9 194.94 L554.55 194.94 L556.2 194.95 L557.85 194.95 L559.5 194.96 L561.15 194.96 L562.8 194.96 L564.45 194.97 L566.1 194.97 L567.76 194.97 L569.41 194.98 L571.06 194.98 L572.71 194.98 L574.36 194.98 L576.01 194.99 L577.66 194.99 L579.31 194.99 L580.96 194.99 L582.61 194.99 L584.26 195 L585.91 195 L587.56 195 L589.21 195 L590.86 195 L592.51 195 L594.16 195 L595.81 195 L597.47 195 L599.12 195 L600.77 195 L602.42 195 L604.07 195 L605.72 195 L607.37 195 L609.02 195 L610.67 195 L612.32 195 L613.97 195 L615.62 195 L617.27 195 L618.92 195 L620.57 195 L622.22 195 L623.87 195 L625.53 195 L627.18 195 L628.83 195 L630.48 195 L632.13 195 L633.78 195 L635.43 195 L637.08 195 L638.73 195 L640.38 195 L642.03 195 L643.68 195 L645.33 195 L646.98 195 L648.63 195 L650.28 195 L651.93 195 L653.59 195 L655.24 195 L656.89 195" stroke="#1b6ca8" stroke-width="1.6" stroke-opacity="0.22"/>
<path d="M231.42 194.91 L233.07 194.9 L234.72 194.89 L236.37 194.88 L238.02 194.87 L239.67 194.86 L241.32 194.85 L242.97 194.83 L244.62 194.81 L246.27 194.78 L247.92 194.71 L249.57 194.63 L251.23 194.53 L252.88 194.41 L254.53 194.28 L256.18 194.14 L257.83 193.95 L259.48 193.73 L261.13 193.48 L262.78 193.2 L264.43 192.9 L266.08 192.57 L267.73 192.19 L269.38 191.76 L271.03 191.28 L272.68 190.76 L274.33 190.15 L275.98 189.42 L277.63 188.59 L279.28 187.68 L280.94 186.7 L282.59 185.61 L284.24 184.42 L285.89 183.16 L287.54 181.86 L289.19 180.54 L290.84 179.22 L292.49 177.93 L294.14 176.65 L295.79 175.37 L297.44 174.05 L299.09 172.69 L300.74 171.27 L302.39 169.76 L304.04 168.14 L305.69 166.32 L307.34 164.33 L309 162.25 L310.65 160.12 L312.3 158.01 L313.95 155.98 L315.6 154.1 L317.25 152.25 L318.9 150.4 L320.55 148.58 L322.2 146.83 L323.85 145.18 L325.5 143.66 L327.15 142.32 L328.8 141.08 L330.45 139.9 L332.1 138.86 L333.75 138.04 L335.4 137.48 L337.06 136.99 L338.71 136.57 L340.36 136.25 L342.01 136.07 L343.66 136.08 L345.31 136.23 L346.96 136.47 L348.61 136.78 L350.26 137.13 L351.91 137.64 L353.56 138.31 L355.21 139.09 L356.86 139.96 L358.51 140.99 L360.16 142.27 L361.81 143.63 L363.46 144.9 L365.12 146.16 L366.77 147.44 L368.42 148.72 L370.07 149.97 L371.72 151.19 L373.37 152.34 L375.02 153.42 L376.67 154.42 L378.32 155.37 L379.97 156.27 L381.62 157.15 L383.27 158.02 L384.92 158.89 L386.57 159.79 L388.22 160.72 L389.87 161.66 L391.52 162.6 L393.17 163.54 L394.83 164.47 L396.48 165.39 L398.13 166.29 L399.78 167.16 L401.43 168.03 L403.08 168.88 L404.73 169.72 L406.38 170.55 L408.03 171.36 L409.68 172.14 L411.33 172.9 L412.98 173.66 L414.63 174.41 L416.28 175.14 L417.93 175.84 L419.58 176.51 L421.23 177.13 L422.89 177.7 L424.54 178.23 L426.19 178.75 L427.84 179.26 L429.49 179.74 L431.14 180.2 L432.79 180.63 L434.44 181.04 L436.09 181.41 L437.74 181.76 L439.39 182.07 L441.04 182.35 L442.69 182.59 L444.34 182.81 L445.99 183.04 L447.64 183.27 L449.29 183.5 L450.95 183.72 L452.6 183.94 L454.25 184.16 L455.9 184.39 L457.55 184.62 L459.2 184.85 L460.85 185.1 L462.5 185.35 L464.15 185.61 L465.8 185.87 L467.45 186.14 L469.1 186.42 L470.75 186.7 L472.4 187 L474.05 187.32 L475.7 187.67 L477.35 188.05 L479.01 188.45 L480.66 188.85 L482.31 189.25 L483.96 189.64 L485.61 190.01 L487.26 190.34 L488.91 190.65 L490.56 190.96 L492.21 191.26 L493.86 191.54 L495.51 191.82 L497.16 192.07 L498.81 192.3 L500.46 192.52 L502.11 192.71 L503.76 192.9 L505.41 193.07 L507.06 193.24 L508.72 193.39 L510.37 193.54 L512.02 193.67 L513.67 193.79 L515.32 193.91 L516.97 194.02 L518.62 194.12 L520.27 194.22 L521.92 194.31 L523.57 194.4 L525.22 194.47 L526.87 194.53 L528.52 194.58 L530.17 194.63 L531.82 194.68 L533.47 194.72 L535.12 194.76 L536.78 194.8 L538.43 194.84 L540.08 194.86 L541.73 194.89 L543.38 194.9 L545.03 194.91 L546.68 194.91 L548.33 194.92 L549.98 194.93 L551.63 194.93 L553.28 194.94 L554.93 194.94 L556.58 194.95 L558.23 194.95 L559.88 194.95 L561.53 194.96 L563.18 194.96 L564.84 194.97 L566.49 194.97 L568.14 194.97 L569.79 194.97 L571.44 194.98 L573.09 194.98 L574.74 194.98 L576.39 194.99 L578.04 194.99 L579.69 194.99 L581.34 194.99 L582.99 194.99 L584.64 194.99 L586.29 195 L587.94 195 L589.59 195 L591.24 195 L592.89 195 L594.55 195 L596.2 195 L597.85 195 L599.5 195 L601.15 195 L602.8 195 L604.45 195 L606.1 195 L607.75 195 L609.4 195 L611.05 195 L612.7 195 L614.35 195 L616 195 L617.65 195 L619.3 195 L620.95 195 L622.61 195 L624.26 195 L625.91 195 L627.56 195 L629.21 195 L630.86 195 L632.51 195 L634.16 195 L635.81 195 L637.46 195 L639.11 195 L640.76 195 L642.41 195 L644.06 195 L645.71 195 L647.36 195 L649.01 195 L650.67 195 L652.32 195 L653.97 195 L655.62 195 L657.27 195 L658.92 195" stroke="#1b6ca8" stroke-width="1.6" stroke-opacity="0.22"/>
<path d="M231.29 194.9 L232.94 194.89 L234.59 194.88 L236.24 194.87 L237.89 194.86 L239.54 194.85 L241.19 194.84 L242.84 194.82 L244.49 194.8 L246.14 194.76 L247.79 194.69 L249.44 194.6 L251.09 194.49 L252.74 194.37 L254.4 194.23 L256.05 194.08 L257.7 193.88 L259.35 193.64 L261 193.37 L262.65 193.07 L264.3 192.76 L265.95 192.4 L267.6 191.99 L269.25 191.53 L270.9 191.02 L272.55 190.46 L274.2 189.81 L275.85 189.02 L277.5 188.13 L279.15 187.16 L280.8 186.12 L282.46 184.94 L284.11 183.67 L285.76 182.33 L287.41 180.93 L289.06 179.52 L290.71 178.11 L292.36 176.73 L294.01 175.36 L295.66 173.98 L297.31 172.57 L298.96 171.12 L300.61 169.59 L302.26 167.98 L303.91 166.24 L305.56 164.29 L307.21 162.17 L308.86 159.93 L310.52 157.66 L312.17 155.4 L313.82 153.23 L315.47 151.21 L317.12 149.23 L318.77 147.25 L320.42 145.3 L322.07 143.43 L323.72 141.66 L325.37 140.04 L327.02 138.6 L328.67 137.27 L330.32 136.01 L331.97 134.89 L333.62 134.02 L335.27 133.42 L336.92 132.9 L338.58 132.44 L340.23 132.1 L341.88 131.91 L343.53 131.92 L345.18 132.08 L346.83 132.34 L348.48 132.67 L350.13 133.04 L351.78 133.59 L353.43 134.3 L355.08 135.15 L356.73 136.07 L358.38 137.18 L360.03 138.55 L361.68 140 L363.33 141.36 L364.98 142.71 L366.63 144.08 L368.29 145.45 L369.94 146.79 L371.59 148.09 L373.24 149.33 L374.89 150.48 L376.54 151.56 L378.19 152.57 L379.84 153.54 L381.49 154.48 L383.14 155.41 L384.79 156.35 L386.44 157.31 L388.09 158.3 L389.74 159.3 L391.39 160.31 L393.04 161.32 L394.69 162.32 L396.35 163.3 L398 164.26 L399.65 165.19 L401.3 166.12 L402.95 167.04 L404.6 167.94 L406.25 168.82 L407.9 169.69 L409.55 170.52 L411.2 171.34 L412.85 172.15 L414.5 172.95 L416.15 173.74 L417.8 174.49 L419.45 175.21 L421.1 175.87 L422.75 176.48 L424.41 177.05 L426.06 177.61 L427.71 178.14 L429.36 178.66 L431.01 179.15 L432.66 179.62 L434.31 180.05 L435.96 180.46 L437.61 180.83 L439.26 181.16 L440.91 181.45 L442.56 181.71 L444.21 181.95 L445.86 182.19 L447.51 182.44 L449.16 182.68 L450.81 182.92 L452.47 183.16 L454.12 183.4 L455.77 183.64 L457.42 183.88 L459.07 184.14 L460.72 184.4 L462.37 184.67 L464.02 184.94 L465.67 185.22 L467.32 185.51 L468.97 185.81 L470.62 186.12 L472.27 186.44 L473.92 186.78 L475.57 187.15 L477.22 187.56 L478.87 187.98 L480.52 188.42 L482.18 188.85 L483.83 189.27 L485.48 189.66 L487.13 190.01 L488.78 190.35 L490.43 190.67 L492.08 190.99 L493.73 191.3 L495.38 191.59 L497.03 191.86 L498.68 192.11 L500.33 192.34 L501.98 192.55 L503.63 192.75 L505.28 192.94 L506.93 193.11 L508.58 193.28 L510.24 193.43 L511.89 193.58 L513.54 193.71 L515.19 193.83 L516.84 193.95 L518.49 194.06 L520.14 194.17 L521.79 194.27 L523.44 194.35 L525.09 194.43 L526.74 194.5 L528.39 194.55 L530.04 194.6 L531.69 194.66 L533.34 194.7 L534.99 194.75 L536.64 194.79 L538.3 194.82 L539.95 194.85 L541.6 194.88 L543.25 194.89 L544.9 194.9 L546.55 194.91 L548.2 194.91 L549.85 194.92 L551.5 194.93 L553.15 194.93 L554.8 194.94 L556.45 194.94 L558.1 194.95 L559.75 194.95 L561.4 194.95 L563.05 194.96 L564.7 194.96 L566.36 194.97 L568.01 194.97 L569.66 194.97 L571.31 194.98 L572.96 194.98 L574.61 194.98 L576.26 194.98 L577.91 194.99 L579.56 194.99 L581.21 194.99 L582.86 194.99 L584.51 194.99 L586.16 194.99 L587.81 195 L589.46 195 L591.11 195 L592.76 195 L594.41 195 L596.07 195 L597.72 195 L599.37 195 L601.02 195 L602.67 195 L604.32 195 L605.97 195 L607.62 195 L609.27 195 L610.92 195 L612.57 195 L614.22 195 L615.87 195 L617.52 195 L619.17 195 L620.82 195 L622.47 195 L624.13 195 L625.78 195 L627.43 195 L629.08 195 L630.73 195 L632.38 195 L634.03 195 L635.68 195 L637.33 195 L638.98 195 L640.63 195 L642.28 195 L643.93 195 L645.58 195 L647.23 195 L648.88 195 L650.53 195 L652.19 195 L653.84 195 L655.49 195 L657.14 195 L658.79 195" stroke="#1b6ca8" stroke-width="1.6" stroke-opacity="0.22"/>
<path d="M229.66 194.9 L231.31 194.89 L232.96 194.88 L234.61 194.87 L236.27 194.86 L237.92 194.85 L239.57 194.84 L241.22 194.82 L242.87 194.8 L244.52 194.76 L246.17 194.69 L247.82 194.6 L249.47 194.49 L251.12 194.36 L252.77 194.22 L254.42 194.07 L256.07 193.86 L257.72 193.62 L259.37 193.35 L261.02 193.05 L262.67 192.73 L264.33 192.37 L265.98 191.95 L267.63 191.49 L269.28 190.98 L270.93 190.41 L272.58 189.75 L274.23 188.96 L275.88 188.06 L277.53 187.08 L279.18 186.02 L280.83 184.83 L282.48 183.55 L284.13 182.19 L285.78 180.78 L287.43 179.35 L289.08 177.92 L290.73 176.52 L292.39 175.14 L294.04 173.75 L295.69 172.33 L297.34 170.86 L298.99 169.32 L300.64 167.68 L302.29 165.93 L303.94 163.96 L305.59 161.81 L307.24 159.55 L308.89 157.25 L310.54 154.96 L312.19 152.77 L313.84 150.73 L315.49 148.73 L317.14 146.73 L318.79 144.76 L320.44 142.86 L322.1 141.08 L323.75 139.43 L325.4 137.98 L327.05 136.64 L328.7 135.36 L330.35 134.23 L332 133.35 L333.65 132.74 L335.3 132.22 L336.95 131.76 L338.6 131.41 L340.25 131.22 L341.9 131.23 L343.55 131.39 L345.2 131.65 L346.85 131.99 L348.5 132.36 L350.16 132.91 L351.81 133.64 L353.46 134.49 L355.11 135.42 L356.76 136.54 L358.41 137.93 L360.06 139.4 L361.71 140.77 L363.36 142.14 L365.01 143.52 L366.66 144.9 L368.31 146.26 L369.96 147.58 L371.61 148.83 L373.26 150 L374.91 151.08 L376.56 152.1 L378.22 153.08 L379.87 154.03 L381.52 154.97 L383.17 155.92 L384.82 156.89 L386.47 157.9 L388.12 158.91 L389.77 159.93 L391.42 160.95 L393.07 161.96 L394.72 162.95 L396.37 163.92 L398.02 164.87 L399.67 165.8 L401.32 166.73 L402.97 167.64 L404.62 168.54 L406.28 169.41 L407.93 170.26 L409.58 171.08 L411.23 171.9 L412.88 172.71 L414.53 173.5 L416.18 174.27 L417.83 174.99 L419.48 175.66 L421.13 176.27 L422.78 176.85 L424.43 177.42 L426.08 177.96 L427.73 178.48 L429.38 178.98 L431.03 179.45 L432.68 179.89 L434.33 180.3 L435.99 180.67 L437.64 181.01 L439.29 181.3 L440.94 181.57 L442.59 181.81 L444.24 182.05 L445.89 182.3 L447.54 182.55 L449.19 182.79 L450.84 183.03 L452.49 183.27 L454.14 183.51 L455.79 183.76 L457.44 184.02 L459.09 184.29 L460.74 184.56 L462.39 184.83 L464.05 185.12 L465.7 185.41 L467.35 185.71 L469 186.02 L470.65 186.35 L472.3 186.69 L473.95 187.07 L475.6 187.48 L477.25 187.91 L478.9 188.35 L480.55 188.78 L482.2 189.2 L483.85 189.6 L485.5 189.95 L487.15 190.29 L488.8 190.63 L490.45 190.95 L492.11 191.26 L493.76 191.55 L495.41 191.83 L497.06 192.08 L498.71 192.31 L500.36 192.52 L502.01 192.72 L503.66 192.91 L505.31 193.09 L506.96 193.26 L508.61 193.42 L510.26 193.56 L511.91 193.69 L513.56 193.82 L515.21 193.94 L516.86 194.05 L518.51 194.16 L520.16 194.26 L521.82 194.35 L523.47 194.43 L525.12 194.49 L526.77 194.55 L528.42 194.6 L530.07 194.65 L531.72 194.7 L533.37 194.75 L535.02 194.79 L536.67 194.82 L538.32 194.85 L539.97 194.88 L541.62 194.89 L543.27 194.9 L544.92 194.91 L546.57 194.91 L548.22 194.92 L549.88 194.93 L551.53 194.93 L553.18 194.94 L554.83 194.94 L556.48 194.95 L558.13 194.95 L559.78 194.95 L561.43 194.96 L563.08 194.96 L564.73 194.97 L566.38 194.97 L568.03 194.97 L569.68 194.98 L571.33 194.98 L572.98 194.98 L574.63 194.98 L576.28 194.99 L577.94 194.99 L579.59 194.99 L581.24 194.99 L582.89 194.99 L584.54 194.99 L586.19 195 L587.84 195 L589.49 195 L591.14 195 L592.79 195 L594.44 195 L596.09 195 L597.74 195 L599.39 195 L601.04 195 L602.69 195 L604.34 195 L606 195 L607.65 195 L609.3 195 L610.95 195 L612.6 195 L614.25 195 L615.9 195 L617.55 195 L619.2 195 L620.85 195 L622.5 195 L624.15 195 L625.8 195 L627.45 195 L629.1 195 L630.75 195 L632.4 195 L634.05 195 L635.71 195 L637.36 195 L639.01 195 L640.66 195 L642.31 195 L643.96 195 L645.61 195 L647.26 195 L648.91 195 L650.56 195 L652.21 195 L653.86 195 L655.51 195 L657.16 195" stroke="#1b6ca8" stroke-width="1.6" stroke-opacity="0.22"/>
<path d="M232.18 194.9 L233.83 194.89 L235.48 194.88 L237.13 194.87 L238.78 194.86 L240.43 194.85 L242.08 194.84 L243.74 194.82 L245.39 194.8 L247.04 194.76 L248.69 194.69 L250.34 194.6 L251.99 194.49 L253.64 194.36 L255.29 194.23 L256.94 194.07 L258.59 193.87 L260.24 193.63 L261.89 193.36 L263.54 193.07 L265.19 192.75 L266.84 192.38 L268.49 191.97 L270.14 191.51 L271.79 191 L273.45 190.44 L275.1 189.79 L276.75 189 L278.4 188.1 L280.05 187.13 L281.7 186.08 L283.35 184.9 L285 183.63 L286.65 182.27 L288.3 180.88 L289.95 179.45 L291.6 178.04 L293.25 176.65 L294.9 175.27 L296.55 173.89 L298.2 172.48 L299.85 171.02 L301.51 169.49 L303.16 167.86 L304.81 166.12 L306.46 164.16 L308.11 162.03 L309.76 159.79 L311.41 157.5 L313.06 155.23 L314.71 153.05 L316.36 151.02 L318.01 149.04 L319.66 147.05 L321.31 145.1 L322.96 143.21 L324.61 141.43 L326.26 139.8 L327.91 138.36 L329.57 137.03 L331.22 135.76 L332.87 134.64 L334.52 133.76 L336.17 133.16 L337.82 132.63 L339.47 132.18 L341.12 131.83 L342.77 131.65 L344.42 131.65 L346.07 131.81 L347.72 132.08 L349.37 132.41 L351.02 132.78 L352.67 133.33 L354.32 134.05 L355.97 134.89 L357.62 135.82 L359.28 136.93 L360.93 138.31 L362.58 139.77 L364.23 141.14 L365.88 142.49 L367.53 143.87 L369.18 145.24 L370.83 146.59 L372.48 147.89 L374.13 149.14 L375.78 150.3 L377.43 151.37 L379.08 152.39 L380.73 153.36 L382.38 154.31 L384.03 155.24 L385.68 156.18 L387.34 157.15 L388.99 158.14 L390.64 159.15 L392.29 160.16 L393.94 161.18 L395.59 162.18 L397.24 163.16 L398.89 164.13 L400.54 165.07 L402.19 166 L403.84 166.92 L405.49 167.82 L407.14 168.71 L408.79 169.58 L410.44 170.42 L412.09 171.24 L413.74 172.05 L415.4 172.86 L417.05 173.65 L418.7 174.4 L420.35 175.12 L422 175.79 L423.65 176.4 L425.3 176.97 L426.95 177.53 L428.6 178.07 L430.25 178.59 L431.9 179.08 L433.55 179.55 L435.2 179.99 L436.85 180.39 L438.5 180.77 L440.15 181.1 L441.8 181.4 L443.46 181.66 L445.11 181.9 L446.76 182.14 L448.41 182.39 L450.06 182.63 L451.71 182.87 L453.36 183.11 L455.01 183.35 L456.66 183.59 L458.31 183.84 L459.96 184.09 L461.61 184.36 L463.26 184.63 L464.91 184.9 L466.56 185.18 L468.21 185.47 L469.86 185.77 L471.51 186.08 L473.17 186.4 L474.82 186.74 L476.47 187.12 L478.12 187.53 L479.77 187.95 L481.42 188.39 L483.07 188.82 L484.72 189.24 L486.37 189.63 L488.02 189.99 L489.67 190.33 L491.32 190.66 L492.97 190.98 L494.62 191.28 L496.27 191.58 L497.92 191.85 L499.57 192.1 L501.23 192.33 L502.88 192.54 L504.53 192.74 L506.18 192.93 L507.83 193.11 L509.48 193.27 L511.13 193.43 L512.78 193.57 L514.43 193.7 L516.08 193.82 L517.73 193.94 L519.38 194.06 L521.03 194.16 L522.68 194.26 L524.33 194.35 L525.98 194.43 L527.63 194.49 L529.29 194.55 L530.94 194.6 L532.59 194.65 L534.24 194.7 L535.89 194.75 L537.54 194.79 L539.19 194.82 L540.84 194.85 L542.49 194.88 L544.14 194.89 L545.79 194.9 L547.44 194.91 L549.09 194.91 L550.74 194.92 L552.39 194.93 L554.04 194.93 L555.69 194.94 L557.35 194.94 L559 194.95 L560.65 194.95 L562.3 194.95 L563.95 194.96 L565.6 194.96 L567.25 194.97 L568.9 194.97 L570.55 194.97 L572.2 194.98 L573.85 194.98 L575.5 194.98 L577.15 194.98 L578.8 194.99 L580.45 194.99 L582.1 194.99 L583.75 194.99 L585.4 194.99 L587.06 194.99 L588.71 195 L590.36 195 L592.01 195 L593.66 195 L595.31 195 L596.96 195 L598.61 195 L600.26 195 L601.91 195 L603.56 195 L605.21 195 L606.86 195 L608.51 195 L610.16 195 L611.81 195 L613.46 195 L615.12 195 L616.77 195 L618.42 195 L620.07 195 L621.72 195 L623.37 195 L625.02 195 L626.67 195 L628.32 195 L629.97 195 L631.62 195 L633.27 195 L634.92 195 L636.57 195 L638.22 195 L639.87 195 L641.52 195 L643.18 195 L644.83 195 L646.48 195 L648.13 195 L649.78 195 L651.43 195 L653.08 195 L654.73 195 L656.38 195 L658.03 195 L659.68 195" stroke="#1b6ca8" stroke-width="1.6" stroke-opacity="0.22"/>
<path d="M230.45 194.9 L232.1 194.88 L233.75 194.87 L235.4 194.87 L237.05 194.86 L238.7 194.84 L240.35 194.83 L242 194.81 L243.65 194.79 L245.3 194.75 L246.95 194.68 L248.6 194.59 L250.25 194.47 L251.9 194.34 L253.55 194.2 L255.2 194.04 L256.86 193.83 L258.51 193.58 L260.16 193.3 L261.81 192.99 L263.46 192.66 L265.11 192.29 L266.76 191.86 L268.41 191.38 L270.06 190.85 L271.71 190.27 L273.36 189.59 L275.01 188.77 L276.66 187.85 L278.31 186.84 L279.96 185.74 L281.61 184.52 L283.26 183.2 L284.92 181.8 L286.57 180.35 L288.22 178.87 L289.87 177.4 L291.52 175.96 L293.17 174.53 L294.82 173.1 L296.47 171.63 L298.12 170.12 L299.77 168.53 L301.42 166.85 L303.07 165.04 L304.72 163.01 L306.37 160.79 L308.02 158.47 L309.67 156.09 L311.32 153.74 L312.98 151.48 L314.63 149.37 L316.28 147.32 L317.93 145.25 L319.58 143.22 L321.23 141.27 L322.88 139.43 L324.53 137.73 L326.18 136.23 L327.83 134.85 L329.48 133.54 L331.13 132.38 L332.78 131.46 L334.43 130.84 L336.08 130.29 L337.73 129.82 L339.38 129.46 L341.03 129.27 L342.69 129.28 L344.34 129.44 L345.99 129.72 L347.64 130.06 L349.29 130.45 L350.94 131.01 L352.59 131.76 L354.24 132.64 L355.89 133.6 L357.54 134.76 L359.19 136.18 L360.84 137.69 L362.49 139.12 L364.14 140.52 L365.79 141.95 L367.44 143.37 L369.09 144.77 L370.75 146.13 L372.4 147.42 L374.05 148.62 L375.7 149.74 L377.35 150.79 L379 151.8 L380.65 152.78 L382.3 153.75 L383.95 154.73 L385.6 155.73 L387.25 156.76 L388.9 157.81 L390.55 158.86 L392.2 159.91 L393.85 160.95 L395.5 161.97 L397.15 162.97 L398.81 163.95 L400.46 164.91 L402.11 165.87 L403.76 166.81 L405.41 167.73 L407.06 168.63 L408.71 169.5 L410.36 170.35 L412.01 171.19 L413.66 172.03 L415.31 172.84 L416.96 173.63 L418.61 174.38 L420.26 175.07 L421.91 175.7 L423.56 176.3 L425.21 176.88 L426.86 177.44 L428.52 177.98 L430.17 178.49 L431.82 178.97 L433.47 179.42 L435.12 179.85 L436.77 180.23 L438.42 180.58 L440.07 180.89 L441.72 181.15 L443.37 181.41 L445.02 181.65 L446.67 181.91 L448.32 182.17 L449.97 182.42 L451.62 182.66 L453.27 182.91 L454.92 183.16 L456.58 183.42 L458.23 183.68 L459.88 183.96 L461.53 184.24 L463.18 184.52 L464.83 184.81 L466.48 185.11 L468.13 185.42 L469.78 185.75 L471.43 186.08 L473.08 186.43 L474.73 186.82 L476.38 187.25 L478.03 187.69 L479.68 188.14 L481.33 188.59 L482.98 189.03 L484.64 189.43 L486.29 189.8 L487.94 190.15 L489.59 190.49 L491.24 190.83 L492.89 191.14 L494.54 191.45 L496.19 191.73 L497.84 191.99 L499.49 192.23 L501.14 192.45 L502.79 192.65 L504.44 192.85 L506.09 193.03 L507.74 193.21 L509.39 193.37 L511.04 193.52 L512.7 193.65 L514.35 193.78 L516 193.9 L517.65 194.02 L519.3 194.13 L520.95 194.24 L522.6 194.33 L524.25 194.41 L525.9 194.47 L527.55 194.53 L529.2 194.59 L530.85 194.64 L532.5 194.69 L534.15 194.74 L535.8 194.78 L537.45 194.82 L539.1 194.85 L540.75 194.87 L542.41 194.89 L544.06 194.9 L545.71 194.9 L547.36 194.91 L549.01 194.92 L550.66 194.92 L552.31 194.93 L553.96 194.93 L555.61 194.94 L557.26 194.94 L558.91 194.95 L560.56 194.95 L562.21 194.96 L563.86 194.96 L565.51 194.97 L567.16 194.97 L568.81 194.97 L570.47 194.98 L572.12 194.98 L573.77 194.98 L575.42 194.98 L577.07 194.99 L578.72 194.99 L580.37 194.99 L582.02 194.99 L583.67 194.99 L585.32 194.99 L586.97 195 L588.62 195 L590.27 195 L591.92 195 L593.57 195 L595.22 195 L596.87 195 L598.53 195 L600.18 195 L601.83 195 L603.48 195 L605.13 195 L606.78 195 L608.43 195 L610.08 195 L611.73 195 L613.38 195 L615.03 195 L616.68 195 L618.33 195 L619.98 195 L621.63 195 L623.28 195 L624.93 195 L626.59 195 L628.24 195 L629.89 195 L631.54 195 L633.19 195 L634.84 195 L636.49 195 L638.14 195 L639.79 195 L641.44 195 L643.09 195 L644.74 195 L646.39 195 L648.04 195 L649.69 195 L651.34 195 L652.99 195 L654.64 195 L656.3 195 L657.95 195" stroke="#1b6ca8" stroke-width="1.6" stroke-opacity="0.22"/>
<path d="M228.58 194.9 L230.23 194.89 L231.88 194.88 L233.53 194.87 L235.18 194.86 L236.83 194.85 L238.48 194.84 L240.13 194.82 L241.78 194.8 L243.43 194.77 L245.08 194.7 L246.73 194.61 L248.38 194.5 L250.03 194.37 L251.68 194.24 L253.33 194.08 L254.98 193.89 L256.64 193.65 L258.29 193.39 L259.94 193.09 L261.59 192.78 L263.24 192.42 L264.89 192.02 L266.54 191.56 L268.19 191.06 L269.84 190.5 L271.49 189.86 L273.14 189.09 L274.79 188.2 L276.44 187.25 L278.09 186.21 L279.74 185.05 L281.39 183.79 L283.04 182.46 L284.7 181.08 L286.35 179.68 L288 178.28 L289.65 176.91 L291.3 175.56 L292.95 174.2 L294.6 172.8 L296.25 171.37 L297.9 169.86 L299.55 168.26 L301.2 166.54 L302.85 164.61 L304.5 162.51 L306.15 160.3 L307.8 158.04 L309.45 155.81 L311.1 153.66 L312.76 151.66 L314.41 149.7 L316.06 147.74 L317.71 145.82 L319.36 143.96 L321.01 142.21 L322.66 140.6 L324.31 139.18 L325.96 137.86 L327.61 136.61 L329.26 135.51 L330.91 134.64 L332.56 134.05 L334.21 133.54 L335.86 133.09 L337.51 132.75 L339.16 132.56 L340.82 132.57 L342.47 132.73 L344.12 132.99 L345.77 133.31 L347.42 133.68 L349.07 134.22 L350.72 134.93 L352.37 135.76 L354.02 136.68 L355.67 137.77 L357.32 139.13 L358.97 140.57 L360.62 141.92 L362.27 143.25 L363.92 144.61 L365.57 145.96 L367.22 147.29 L368.87 148.58 L370.53 149.8 L372.18 150.94 L373.83 152.01 L375.48 153.01 L377.13 153.96 L378.78 154.89 L380.43 155.82 L382.08 156.74 L383.73 157.7 L385.38 158.68 L387.03 159.67 L388.68 160.67 L390.33 161.67 L391.98 162.65 L393.63 163.63 L395.28 164.58 L396.93 165.5 L398.59 166.42 L400.24 167.33 L401.89 168.22 L403.54 169.09 L405.19 169.95 L406.84 170.78 L408.49 171.58 L410.14 172.38 L411.79 173.18 L413.44 173.95 L415.09 174.7 L416.74 175.41 L418.39 176.07 L420.04 176.67 L421.69 177.24 L423.34 177.79 L424.99 178.32 L426.65 178.83 L428.3 179.31 L429.95 179.77 L431.6 180.21 L433.25 180.61 L434.9 180.97 L436.55 181.3 L438.2 181.59 L439.85 181.85 L441.5 182.09 L443.15 182.32 L444.8 182.57 L446.45 182.81 L448.1 183.05 L449.75 183.28 L451.4 183.52 L453.05 183.75 L454.71 184 L456.36 184.25 L458.01 184.51 L459.66 184.78 L461.31 185.05 L462.96 185.33 L464.61 185.61 L466.26 185.9 L467.91 186.21 L469.56 186.53 L471.21 186.86 L472.86 187.23 L474.51 187.63 L476.16 188.06 L477.81 188.49 L479.46 188.91 L481.11 189.32 L482.76 189.71 L484.42 190.06 L486.07 190.39 L487.72 190.72 L489.37 191.03 L491.02 191.34 L492.67 191.63 L494.32 191.89 L495.97 192.14 L497.62 192.37 L499.27 192.57 L500.92 192.77 L502.57 192.96 L504.22 193.13 L505.87 193.3 L507.52 193.45 L509.17 193.59 L510.82 193.72 L512.48 193.84 L514.13 193.96 L515.78 194.07 L517.43 194.18 L519.08 194.27 L520.73 194.36 L522.38 194.44 L524.03 194.5 L525.68 194.56 L527.33 194.61 L528.98 194.66 L530.63 194.71 L532.28 194.75 L533.93 194.79 L535.58 194.83 L537.23 194.86 L538.88 194.88 L540.54 194.89 L542.19 194.9 L543.84 194.91 L545.49 194.92 L547.14 194.92 L548.79 194.93 L550.44 194.93 L552.09 194.94 L553.74 194.94 L555.39 194.95 L557.04 194.95 L558.69 194.96 L560.34 194.96 L561.99 194.96 L563.64 194.97 L565.29 194.97 L566.94 194.97 L568.6 194.98 L570.25 194.98 L571.9 194.98 L573.55 194.98 L575.2 194.99 L576.85 194.99 L578.5 194.99 L580.15 194.99 L581.8 194.99 L583.45 194.99 L585.1 195 L586.75 195 L588.4 195 L590.05 195 L591.7 195 L593.35 195 L595 195 L596.65 195 L598.31 195 L599.96 195 L601.61 195 L603.26 195 L604.91 195 L606.56 195 L608.21 195 L609.86 195 L611.51 195 L613.16 195 L614.81 195 L616.46 195 L618.11 195 L619.76 195 L621.41 195 L623.06 195 L624.71 195 L626.37 195 L628.02 195 L629.67 195 L631.32 195 L632.97 195 L634.62 195 L636.27 195 L637.92 195 L639.57 195 L641.22 195 L642.87 195 L644.52 195 L646.17 195 L647.82 195 L649.47 195 L651.12 195 L652.77 195 L654.43 195 L656.08 195" stroke="#1b6ca8" stroke-width="1.6" stroke-opacity="0.22"/>
<path d="M228.29 194.9 L229.94 194.89 L231.59 194.88 L233.24 194.87 L234.89 194.86 L236.54 194.85 L238.19 194.84 L239.84 194.82 L241.49 194.8 L243.14 194.77 L244.79 194.7 L246.44 194.61 L248.09 194.5 L249.74 194.38 L251.39 194.24 L253.04 194.09 L254.69 193.89 L256.35 193.66 L258 193.39 L259.65 193.1 L261.3 192.79 L262.95 192.43 L264.6 192.03 L266.25 191.58 L267.9 191.08 L269.55 190.53 L271.2 189.89 L272.85 189.11 L274.5 188.24 L276.15 187.28 L277.8 186.25 L279.45 185.1 L281.1 183.84 L282.75 182.52 L284.4 181.15 L286.06 179.75 L287.71 178.36 L289.36 177 L291.01 175.65 L292.66 174.29 L294.31 172.91 L295.96 171.48 L297.61 169.98 L299.26 168.38 L300.91 166.67 L302.56 164.75 L304.21 162.66 L305.86 160.46 L307.51 158.22 L309.16 155.99 L310.81 153.86 L312.46 151.87 L314.12 149.92 L315.77 147.97 L317.42 146.05 L319.07 144.2 L320.72 142.46 L322.37 140.86 L324.02 139.44 L325.67 138.14 L327.32 136.89 L328.97 135.8 L330.62 134.93 L332.27 134.34 L333.92 133.83 L335.57 133.38 L337.22 133.04 L338.87 132.86 L340.52 132.87 L342.18 133.02 L343.83 133.28 L345.48 133.61 L347.13 133.97 L348.78 134.51 L350.43 135.21 L352.08 136.04 L353.73 136.96 L355.38 138.05 L357.03 139.4 L358.68 140.82 L360.33 142.17 L361.98 143.5 L363.63 144.85 L365.28 146.19 L366.93 147.52 L368.58 148.8 L370.24 150.02 L371.89 151.15 L373.54 152.21 L375.19 153.21 L376.84 154.16 L378.49 155.09 L380.14 156 L381.79 156.93 L383.44 157.87 L385.09 158.85 L386.74 159.84 L388.39 160.83 L390.04 161.82 L391.69 162.81 L393.34 163.77 L394.99 164.72 L396.64 165.64 L398.29 166.56 L399.95 167.46 L401.6 168.35 L403.25 169.22 L404.9 170.07 L406.55 170.89 L408.2 171.69 L409.85 172.49 L411.5 173.28 L413.15 174.05 L414.8 174.8 L416.45 175.5 L418.1 176.16 L419.75 176.75 L421.4 177.32 L423.05 177.87 L424.7 178.4 L426.35 178.91 L428.01 179.39 L429.66 179.85 L431.31 180.28 L432.96 180.67 L434.61 181.04 L436.26 181.37 L437.91 181.66 L439.56 181.91 L441.21 182.15 L442.86 182.38 L444.51 182.63 L446.16 182.87 L447.81 183.1 L449.46 183.34 L451.11 183.57 L452.76 183.81 L454.41 184.05 L456.07 184.3 L457.72 184.56 L459.37 184.83 L461.02 185.1 L462.67 185.37 L464.32 185.65 L465.97 185.95 L467.62 186.25 L469.27 186.57 L470.92 186.9 L472.57 187.27 L474.22 187.67 L475.87 188.09 L477.52 188.52 L479.17 188.94 L480.82 189.35 L482.47 189.74 L484.13 190.08 L485.78 190.42 L487.43 190.74 L489.08 191.05 L490.73 191.36 L492.38 191.64 L494.03 191.91 L495.68 192.16 L497.33 192.38 L498.98 192.59 L500.63 192.78 L502.28 192.97 L503.93 193.14 L505.58 193.3 L507.23 193.46 L508.88 193.6 L510.53 193.73 L512.18 193.85 L513.84 193.96 L515.49 194.08 L517.14 194.18 L518.79 194.28 L520.44 194.36 L522.09 194.44 L523.74 194.5 L525.39 194.56 L527.04 194.61 L528.69 194.66 L530.34 194.71 L531.99 194.75 L533.64 194.79 L535.29 194.83 L536.94 194.86 L538.59 194.88 L540.24 194.9 L541.9 194.9 L543.55 194.91 L545.2 194.92 L546.85 194.92 L548.5 194.93 L550.15 194.93 L551.8 194.94 L553.45 194.94 L555.1 194.95 L556.75 194.95 L558.4 194.96 L560.05 194.96 L561.7 194.96 L563.35 194.97 L565 194.97 L566.65 194.97 L568.3 194.98 L569.96 194.98 L571.61 194.98 L573.26 194.98 L574.91 194.99 L576.56 194.99 L578.21 194.99 L579.86 194.99 L581.51 194.99 L583.16 195 L584.81 195 L586.46 195 L588.11 195 L589.76 195 L591.41 195 L593.06 195 L594.71 195 L596.36 195 L598.02 195 L599.67 195 L601.32 195 L602.97 195 L604.62 195 L606.27 195 L607.92 195 L609.57 195 L611.22 195 L612.87 195 L614.52 195 L616.17 195 L617.82 195 L619.47 195 L621.12 195 L622.77 195 L624.42 195 L626.07 195 L627.73 195 L629.38 195 L631.03 195 L632.68 195 L634.33 195 L635.98 195 L637.63 195 L639.28 195 L640.93 195 L642.58 195 L644.23 195 L645.88 195 L647.53 195 L649.18 195 L650.83 195 L652.48 195 L654.13 195 L655.79 195" stroke="#1b6ca8" stroke-width="1.6" stroke-opacity="0.22"/>
<path d="M233.56 194.91 L235.21 194.9 L236.86 194.89 L238.51 194.88 L240.16 194.87 L241.82 194.86 L243.47 194.85 L245.12 194.83 L246.77 194.81 L248.42 194.78 L250.07 194.71 L251.72 194.63 L253.37 194.52 L255.02 194.4 L256.67 194.27 L258.32 194.13 L259.97 193.94 L261.62 193.72 L263.27 193.46 L264.92 193.18 L266.57 192.88 L268.22 192.54 L269.88 192.16 L271.53 191.73 L273.18 191.24 L274.83 190.71 L276.48 190.1 L278.13 189.36 L279.78 188.52 L281.43 187.61 L283.08 186.62 L284.73 185.51 L286.38 184.31 L288.03 183.04 L289.68 181.73 L291.33 180.4 L292.98 179.06 L294.63 177.76 L296.28 176.47 L297.94 175.17 L299.59 173.84 L301.24 172.47 L302.89 171.03 L304.54 169.51 L306.19 167.87 L307.84 166.03 L309.49 164.02 L311.14 161.92 L312.79 159.77 L314.44 157.64 L316.09 155.59 L317.74 153.68 L319.39 151.82 L321.04 149.95 L322.69 148.12 L324.34 146.34 L325.99 144.68 L327.65 143.14 L329.3 141.78 L330.95 140.53 L332.6 139.34 L334.25 138.29 L335.9 137.46 L337.55 136.9 L339.2 136.41 L340.85 135.98 L342.5 135.66 L344.15 135.48 L345.8 135.49 L347.45 135.64 L349.1 135.88 L350.75 136.19 L352.4 136.55 L354.05 137.06 L355.71 137.73 L357.36 138.53 L359.01 139.4 L360.66 140.45 L362.31 141.74 L363.96 143.11 L365.61 144.4 L367.26 145.67 L368.91 146.96 L370.56 148.25 L372.21 149.52 L373.86 150.74 L375.51 151.91 L377.16 153 L378.81 154.01 L380.46 154.97 L382.11 155.88 L383.77 156.77 L385.42 157.65 L387.07 158.53 L388.72 159.44 L390.37 160.37 L392.02 161.32 L393.67 162.27 L395.32 163.22 L396.97 164.16 L398.62 165.09 L400.27 166 L401.92 166.88 L403.57 167.75 L405.22 168.62 L406.87 169.47 L408.52 170.3 L410.17 171.12 L411.82 171.91 L413.48 172.68 L415.13 173.44 L416.78 174.2 L418.43 174.94 L420.08 175.65 L421.73 176.32 L423.38 176.95 L425.03 177.52 L426.68 178.07 L428.33 178.59 L429.98 179.1 L431.63 179.58 L433.28 180.05 L434.93 180.49 L436.58 180.9 L438.23 181.28 L439.88 181.63 L441.54 181.94 L443.19 182.22 L444.84 182.46 L446.49 182.69 L448.14 182.91 L449.79 183.15 L451.44 183.38 L453.09 183.61 L454.74 183.83 L456.39 184.05 L458.04 184.28 L459.69 184.51 L461.34 184.75 L462.99 185 L464.64 185.26 L466.29 185.51 L467.94 185.78 L469.6 186.05 L471.25 186.33 L472.9 186.62 L474.55 186.92 L476.2 187.24 L477.85 187.6 L479.5 187.98 L481.15 188.38 L482.8 188.79 L484.45 189.2 L486.1 189.59 L487.75 189.96 L489.4 190.29 L491.05 190.61 L492.7 190.92 L494.35 191.22 L496 191.51 L497.66 191.78 L499.31 192.04 L500.96 192.28 L502.61 192.49 L504.26 192.69 L505.91 192.88 L507.56 193.05 L509.21 193.22 L510.86 193.38 L512.51 193.52 L514.16 193.66 L515.81 193.78 L517.46 193.9 L519.11 194.01 L520.76 194.11 L522.41 194.22 L524.06 194.31 L525.71 194.39 L527.37 194.46 L529.02 194.52 L530.67 194.58 L532.32 194.63 L533.97 194.67 L535.62 194.72 L537.27 194.76 L538.92 194.8 L540.57 194.83 L542.22 194.86 L543.87 194.88 L545.52 194.9 L547.17 194.91 L548.82 194.91 L550.47 194.92 L552.12 194.93 L553.77 194.93 L555.43 194.94 L557.08 194.94 L558.73 194.94 L560.38 194.95 L562.03 194.95 L563.68 194.96 L565.33 194.96 L566.98 194.96 L568.63 194.97 L570.28 194.97 L571.93 194.97 L573.58 194.98 L575.23 194.98 L576.88 194.98 L578.53 194.98 L580.18 194.99 L581.83 194.99 L583.49 194.99 L585.14 194.99 L586.79 194.99 L588.44 195 L590.09 195 L591.74 195 L593.39 195 L595.04 195 L596.69 195 L598.34 195 L599.99 195 L601.64 195 L603.29 195 L604.94 195 L606.59 195 L608.24 195 L609.89 195 L611.55 195 L613.2 195 L614.85 195 L616.5 195 L618.15 195 L619.8 195 L621.45 195 L623.1 195 L624.75 195 L626.4 195 L628.05 195 L629.7 195 L631.35 195 L633 195 L634.65 195 L636.3 195 L637.95 195 L639.6 195 L641.26 195 L642.91 195 L644.56 195 L646.21 195 L647.86 195 L649.51 195 L651.16 195 L652.81 195 L654.46 195 L656.11 195 L657.76 195 L659.41 195 L661.06 195" stroke="#1b6ca8" stroke-width="1.6" stroke-opacity="0.22"/>
<path d="M233.08 194.91 L234.73 194.9 L236.38 194.89 L238.03 194.88 L239.68 194.87 L241.33 194.86 L242.98 194.85 L244.63 194.84 L246.28 194.82 L247.93 194.78 L249.58 194.72 L251.23 194.64 L252.88 194.54 L254.54 194.42 L256.19 194.3 L257.84 194.16 L259.49 193.98 L261.14 193.76 L262.79 193.52 L264.44 193.25 L266.09 192.96 L267.74 192.64 L269.39 192.26 L271.04 191.85 L272.69 191.39 L274.34 190.88 L275.99 190.29 L277.64 189.57 L279.29 188.77 L280.94 187.89 L282.6 186.93 L284.25 185.87 L285.9 184.72 L287.55 183.49 L289.2 182.23 L290.85 180.94 L292.5 179.66 L294.15 178.41 L295.8 177.16 L297.45 175.91 L299.1 174.64 L300.75 173.32 L302.4 171.93 L304.05 170.47 L305.7 168.89 L307.35 167.12 L309 165.19 L310.65 163.16 L312.31 161.09 L313.96 159.04 L315.61 157.07 L317.26 155.24 L318.91 153.44 L320.56 151.65 L322.21 149.88 L323.86 148.17 L325.51 146.57 L327.16 145.09 L328.81 143.79 L330.46 142.58 L332.11 141.44 L333.76 140.42 L335.41 139.63 L337.06 139.09 L338.71 138.61 L340.37 138.2 L342.02 137.89 L343.67 137.72 L345.32 137.72 L346.97 137.87 L348.62 138.11 L350.27 138.41 L351.92 138.74 L353.57 139.24 L355.22 139.89 L356.87 140.65 L358.52 141.49 L360.17 142.5 L361.82 143.74 L363.47 145.06 L365.12 146.3 L366.77 147.53 L368.43 148.77 L370.08 150.01 L371.73 151.23 L373.38 152.41 L375.03 153.53 L376.68 154.58 L378.33 155.55 L379.98 156.47 L381.63 157.35 L383.28 158.21 L384.93 159.05 L386.58 159.9 L388.23 160.78 L389.88 161.68 L391.53 162.59 L393.18 163.5 L394.83 164.42 L396.49 165.32 L398.14 166.22 L399.79 167.09 L401.44 167.94 L403.09 168.78 L404.74 169.61 L406.39 170.43 L408.04 171.23 L409.69 172.02 L411.34 172.78 L412.99 173.52 L414.64 174.25 L416.29 174.98 L417.94 175.69 L419.59 176.38 L421.24 177.03 L422.89 177.63 L424.54 178.18 L426.2 178.7 L427.85 179.21 L429.5 179.7 L431.15 180.16 L432.8 180.61 L434.45 181.03 L436.1 181.43 L437.75 181.79 L439.4 182.13 L441.05 182.43 L442.7 182.7 L444.35 182.93 L446 183.15 L447.65 183.37 L449.3 183.6 L450.95 183.82 L452.6 184.03 L454.26 184.25 L455.91 184.46 L457.56 184.68 L459.21 184.91 L460.86 185.14 L462.51 185.38 L464.16 185.62 L465.81 185.87 L467.46 186.12 L469.11 186.38 L470.76 186.65 L472.41 186.93 L474.06 187.23 L475.71 187.53 L477.36 187.87 L479.01 188.24 L480.66 188.63 L482.32 189.02 L483.97 189.42 L485.62 189.79 L487.27 190.15 L488.92 190.47 L490.57 190.77 L492.22 191.07 L493.87 191.36 L495.52 191.64 L497.17 191.9 L498.82 192.15 L500.47 192.38 L502.12 192.58 L503.77 192.78 L505.42 192.96 L507.07 193.13 L508.72 193.29 L510.37 193.44 L512.03 193.58 L513.68 193.71 L515.33 193.83 L516.98 193.94 L518.63 194.04 L520.28 194.15 L521.93 194.24 L523.58 194.33 L525.23 194.41 L526.88 194.48 L528.53 194.54 L530.18 194.59 L531.83 194.64 L533.48 194.69 L535.13 194.73 L536.78 194.77 L538.43 194.81 L540.09 194.84 L541.74 194.87 L543.39 194.89 L545.04 194.9 L546.69 194.91 L548.34 194.92 L549.99 194.92 L551.64 194.93 L553.29 194.93 L554.94 194.94 L556.59 194.94 L558.24 194.95 L559.89 194.95 L561.54 194.96 L563.19 194.96 L564.84 194.96 L566.49 194.97 L568.15 194.97 L569.8 194.97 L571.45 194.98 L573.1 194.98 L574.75 194.98 L576.4 194.98 L578.05 194.99 L579.7 194.99 L581.35 194.99 L583 194.99 L584.65 194.99 L586.3 194.99 L587.95 195 L589.6 195 L591.25 195 L592.9 195 L594.55 195 L596.21 195 L597.86 195 L599.51 195 L601.16 195 L602.81 195 L604.46 195 L606.11 195 L607.76 195 L609.41 195 L611.06 195 L612.71 195 L614.36 195 L616.01 195 L617.66 195 L619.31 195 L620.96 195 L622.61 195 L624.26 195 L625.92 195 L627.57 195 L629.22 195 L630.87 195 L632.52 195 L634.17 195 L635.82 195 L637.47 195 L639.12 195 L640.77 195 L642.42 195 L644.07 195 L645.72 195 L647.37 195 L649.02 195 L650.67 195 L652.32 195 L653.98 195 L655.63 195 L657.28 195 L658.93 195 L660.58 195" stroke="#1b6ca8" stroke-width="1.6" stroke-opacity="0.22"/>
<path d="M231.3 194.9 L232.95 194.89 L234.6 194.88 L236.25 194.87 L237.9 194.86 L239.55 194.85 L241.2 194.83 L242.85 194.82 L244.5 194.8 L246.16 194.76 L247.81 194.69 L249.46 194.59 L251.11 194.48 L252.76 194.35 L254.41 194.21 L256.06 194.05 L257.71 193.85 L259.36 193.61 L261.01 193.33 L262.66 193.03 L264.31 192.71 L265.96 192.34 L267.61 191.92 L269.26 191.45 L270.91 190.93 L272.56 190.35 L274.22 189.69 L275.87 188.89 L277.52 187.98 L279.17 186.99 L280.82 185.91 L282.47 184.72 L284.12 183.42 L285.77 182.04 L287.42 180.62 L289.07 179.17 L290.72 177.73 L292.37 176.31 L294.02 174.91 L295.67 173.5 L297.32 172.06 L298.97 170.58 L300.62 169.02 L302.28 167.37 L303.93 165.59 L305.58 163.6 L307.23 161.42 L308.88 159.14 L310.53 156.81 L312.18 154.5 L313.83 152.28 L315.48 150.21 L317.13 148.19 L318.78 146.17 L320.43 144.18 L322.08 142.26 L323.73 140.45 L325.38 138.79 L327.03 137.32 L328.68 135.96 L330.34 134.67 L331.99 133.53 L333.64 132.63 L335.29 132.02 L336.94 131.49 L338.59 131.02 L340.24 130.67 L341.89 130.48 L343.54 130.49 L345.19 130.65 L346.84 130.92 L348.49 131.26 L350.14 131.64 L351.79 132.19 L353.44 132.93 L355.09 133.79 L356.74 134.73 L358.39 135.87 L360.05 137.27 L361.7 138.75 L363.35 140.15 L365 141.53 L366.65 142.93 L368.3 144.32 L369.95 145.7 L371.6 147.03 L373.25 148.29 L374.9 149.47 L376.55 150.57 L378.2 151.61 L379.85 152.59 L381.5 153.56 L383.15 154.51 L384.8 155.47 L386.45 156.45 L388.11 157.47 L389.76 158.49 L391.41 159.52 L393.06 160.55 L394.71 161.57 L396.36 162.58 L398.01 163.56 L399.66 164.52 L401.31 165.47 L402.96 166.4 L404.61 167.32 L406.26 168.23 L407.91 169.11 L409.56 169.97 L411.21 170.8 L412.86 171.63 L414.51 172.45 L416.17 173.25 L417.82 174.02 L419.47 174.76 L421.12 175.44 L422.77 176.06 L424.42 176.64 L426.07 177.21 L427.72 177.76 L429.37 178.29 L431.02 178.79 L432.67 179.27 L434.32 179.71 L435.97 180.13 L437.62 180.5 L439.27 180.85 L440.92 181.15 L442.57 181.41 L444.22 181.66 L445.88 181.9 L447.53 182.15 L449.18 182.4 L450.83 182.65 L452.48 182.89 L454.13 183.13 L455.78 183.38 L457.43 183.63 L459.08 183.89 L460.73 184.16 L462.38 184.44 L464.03 184.72 L465.68 185 L467.33 185.3 L468.98 185.6 L470.63 185.92 L472.28 186.25 L473.94 186.59 L475.59 186.97 L477.24 187.39 L478.89 187.82 L480.54 188.27 L482.19 188.71 L483.84 189.14 L485.49 189.53 L487.14 189.9 L488.79 190.24 L490.44 190.58 L492.09 190.9 L493.74 191.22 L495.39 191.51 L497.04 191.79 L498.69 192.05 L500.34 192.28 L502 192.49 L503.65 192.7 L505.3 192.89 L506.95 193.07 L508.6 193.24 L510.25 193.4 L511.9 193.54 L513.55 193.68 L515.2 193.8 L516.85 193.92 L518.5 194.04 L520.15 194.15 L521.8 194.25 L523.45 194.34 L525.1 194.42 L526.75 194.48 L528.4 194.54 L530.06 194.59 L531.71 194.65 L533.36 194.7 L535.01 194.74 L536.66 194.78 L538.31 194.82 L539.96 194.85 L541.61 194.87 L543.26 194.89 L544.91 194.9 L546.56 194.91 L548.21 194.91 L549.86 194.92 L551.51 194.92 L553.16 194.93 L554.81 194.94 L556.46 194.94 L558.11 194.94 L559.77 194.95 L561.42 194.95 L563.07 194.96 L564.72 194.96 L566.37 194.97 L568.02 194.97 L569.67 194.97 L571.32 194.98 L572.97 194.98 L574.62 194.98 L576.27 194.98 L577.92 194.99 L579.57 194.99 L581.22 194.99 L582.87 194.99 L584.52 194.99 L586.17 194.99 L587.83 195 L589.48 195 L591.13 195 L592.78 195 L594.43 195 L596.08 195 L597.73 195 L599.38 195 L601.03 195 L602.68 195 L604.33 195 L605.98 195 L607.63 195 L609.28 195 L610.93 195 L612.58 195 L614.23 195 L615.89 195 L617.54 195 L619.19 195 L620.84 195 L622.49 195 L624.14 195 L625.79 195 L627.44 195 L629.09 195 L630.74 195 L632.39 195 L634.04 195 L635.69 195 L637.34 195 L638.99 195 L640.64 195 L642.29 195 L643.95 195 L645.6 195 L647.25 195 L648.9 195 L650.55 195 L652.2 195 L653.85 195 L655.5 195 L657.15 195 L658.8 195" stroke="#1b6ca8" stroke-width="1.6" stroke-opacity="0.22"/>
<path d="M232.64 194.9 L234.29 194.89 L235.95 194.88 L237.6 194.87 L239.25 194.86 L240.9 194.85 L242.55 194.83 L244.2 194.82 L245.85 194.8 L247.5 194.76 L249.15 194.69 L250.8 194.59 L252.45 194.48 L254.1 194.35 L255.75 194.21 L257.4 194.05 L259.05 193.84 L260.7 193.6 L262.35 193.32 L264 193.02 L265.66 192.69 L267.31 192.32 L268.96 191.9 L270.61 191.43 L272.26 190.91 L273.91 190.33 L275.56 189.66 L277.21 188.85 L278.86 187.94 L280.51 186.94 L282.16 185.86 L283.81 184.66 L285.46 183.35 L287.11 181.96 L288.76 180.53 L290.41 179.08 L292.06 177.63 L293.72 176.2 L295.37 174.79 L297.02 173.38 L298.67 171.93 L300.32 170.43 L301.97 168.87 L303.62 167.2 L305.27 165.42 L306.92 163.41 L308.57 161.23 L310.22 158.93 L311.87 156.59 L313.52 154.26 L315.17 152.03 L316.82 149.95 L318.47 147.92 L320.12 145.88 L321.78 143.88 L323.43 141.95 L325.08 140.13 L326.73 138.46 L328.38 136.98 L330.03 135.62 L331.68 134.32 L333.33 133.17 L334.98 132.27 L336.63 131.65 L338.28 131.12 L339.93 130.65 L341.58 130.3 L343.23 130.11 L344.88 130.11 L346.53 130.27 L348.18 130.55 L349.84 130.88 L351.49 131.27 L353.14 131.83 L354.79 132.56 L356.44 133.43 L358.09 134.38 L359.74 135.52 L361.39 136.93 L363.04 138.42 L364.69 139.83 L366.34 141.22 L367.99 142.62 L369.64 144.03 L371.29 145.41 L372.94 146.75 L374.59 148.02 L376.24 149.21 L377.89 150.31 L379.55 151.35 L381.2 152.35 L382.85 153.32 L384.5 154.27 L386.15 155.24 L387.8 156.23 L389.45 157.25 L391.1 158.28 L392.75 159.32 L394.4 160.35 L396.05 161.38 L397.7 162.39 L399.35 163.38 L401 164.34 L402.65 165.29 L404.3 166.24 L405.95 167.16 L407.61 168.07 L409.26 168.96 L410.91 169.82 L412.56 170.66 L414.21 171.49 L415.86 172.32 L417.51 173.13 L419.16 173.9 L420.81 174.64 L422.46 175.32 L424.11 175.95 L425.76 176.54 L427.41 177.11 L429.06 177.66 L430.71 178.19 L432.36 178.7 L434.01 179.17 L435.67 179.62 L437.32 180.04 L438.97 180.42 L440.62 180.76 L442.27 181.07 L443.92 181.33 L445.57 181.58 L447.22 181.82 L448.87 182.08 L450.52 182.33 L452.17 182.58 L453.82 182.82 L455.47 183.06 L457.12 183.31 L458.77 183.56 L460.42 183.83 L462.07 184.1 L463.73 184.38 L465.38 184.66 L467.03 184.94 L468.68 185.24 L470.33 185.55 L471.98 185.86 L473.63 186.19 L475.28 186.54 L476.93 186.93 L478.58 187.34 L480.23 187.78 L481.88 188.23 L483.53 188.67 L485.18 189.1 L486.83 189.5 L488.48 189.87 L490.13 190.21 L491.78 190.55 L493.44 190.88 L495.09 191.19 L496.74 191.49 L498.39 191.77 L500.04 192.03 L501.69 192.26 L503.34 192.48 L504.99 192.68 L506.64 192.88 L508.29 193.06 L509.94 193.23 L511.59 193.39 L513.24 193.53 L514.89 193.67 L516.54 193.8 L518.19 193.92 L519.84 194.03 L521.5 194.14 L523.15 194.25 L524.8 194.34 L526.45 194.41 L528.1 194.48 L529.75 194.54 L531.4 194.59 L533.05 194.65 L534.7 194.69 L536.35 194.74 L538 194.78 L539.65 194.82 L541.3 194.85 L542.95 194.87 L544.6 194.89 L546.25 194.9 L547.9 194.91 L549.56 194.91 L551.21 194.92 L552.86 194.92 L554.51 194.93 L556.16 194.93 L557.81 194.94 L559.46 194.94 L561.11 194.95 L562.76 194.95 L564.41 194.96 L566.06 194.96 L567.71 194.97 L569.36 194.97 L571.01 194.97 L572.66 194.98 L574.31 194.98 L575.96 194.98 L577.61 194.98 L579.27 194.99 L580.92 194.99 L582.57 194.99 L584.22 194.99 L585.87 194.99 L587.52 194.99 L589.17 195 L590.82 195 L592.47 195 L594.12 195 L595.77 195 L597.42 195 L599.07 195 L600.72 195 L602.37 195 L604.02 195 L605.67 195 L607.33 195 L608.98 195 L610.63 195 L612.28 195 L613.93 195 L615.58 195 L617.23 195 L618.88 195 L620.53 195 L622.18 195 L623.83 195 L625.48 195 L627.13 195 L628.78 195 L630.43 195 L632.08 195 L633.73 195 L635.39 195 L637.04 195 L638.69 195 L640.34 195 L641.99 195 L643.64 195 L645.29 195 L646.94 195 L648.59 195 L650.24 195 L651.89 195 L653.54 195 L655.19 195 L656.84 195 L658.49 195 L660.14 195" stroke="#1b6ca8" stroke-width="1.6" stroke-opacity="0.22"/>
<path d="M231.43 194.9 L233.08 194.88 L234.73 194.87 L236.38 194.86 L238.03 194.85 L239.68 194.84 L241.33 194.83 L242.99 194.81 L244.64 194.79 L246.29 194.75 L247.94 194.68 L249.59 194.58 L251.24 194.46 L252.89 194.33 L254.54 194.19 L256.19 194.02 L257.84 193.81 L259.49 193.56 L261.14 193.28 L262.79 192.97 L264.44 192.63 L266.09 192.25 L267.74 191.82 L269.39 191.34 L271.05 190.8 L272.7 190.21 L274.35 189.52 L276 188.69 L277.65 187.75 L279.3 186.73 L280.95 185.63 L282.6 184.39 L284.25 183.05 L285.9 181.63 L287.55 180.16 L289.2 178.67 L290.85 177.18 L292.5 175.72 L294.15 174.27 L295.8 172.82 L297.45 171.33 L299.11 169.8 L300.76 168.19 L302.41 166.49 L304.06 164.65 L305.71 162.6 L307.36 160.35 L309.01 158 L310.66 155.59 L312.31 153.21 L313.96 150.92 L315.61 148.79 L317.26 146.7 L318.91 144.61 L320.56 142.56 L322.21 140.58 L323.86 138.71 L325.51 137 L327.16 135.48 L328.82 134.08 L330.47 132.75 L332.12 131.57 L333.77 130.65 L335.42 130.02 L337.07 129.47 L338.72 128.99 L340.37 128.62 L342.02 128.43 L343.67 128.44 L345.32 128.6 L346.97 128.88 L348.62 129.23 L350.27 129.62 L351.92 130.19 L353.57 130.95 L355.22 131.84 L356.88 132.82 L358.53 133.98 L360.18 135.43 L361.83 136.96 L363.48 138.4 L365.13 139.83 L366.78 141.27 L368.43 142.71 L370.08 144.13 L371.73 145.5 L373.38 146.81 L375.03 148.03 L376.68 149.16 L378.33 150.22 L379.98 151.25 L381.63 152.24 L383.28 153.22 L384.94 154.21 L386.59 155.23 L388.24 156.27 L389.89 157.33 L391.54 158.39 L393.19 159.46 L394.84 160.51 L396.49 161.55 L398.14 162.56 L399.79 163.55 L401.44 164.53 L403.09 165.49 L404.74 166.44 L406.39 167.38 L408.04 168.29 L409.69 169.17 L411.34 170.03 L413 170.89 L414.65 171.73 L416.3 172.56 L417.95 173.36 L419.6 174.11 L421.25 174.81 L422.9 175.45 L424.55 176.06 L426.2 176.65 L427.85 177.21 L429.5 177.76 L431.15 178.28 L432.8 178.77 L434.45 179.23 L436.1 179.65 L437.75 180.04 L439.4 180.4 L441.05 180.7 L442.71 180.98 L444.36 181.23 L446.01 181.48 L447.66 181.75 L449.31 182 L450.96 182.25 L452.61 182.5 L454.26 182.75 L455.91 183.01 L457.56 183.27 L459.21 183.54 L460.86 183.82 L462.51 184.1 L464.16 184.39 L465.81 184.68 L467.46 184.99 L469.11 185.3 L470.77 185.63 L472.42 185.97 L474.07 186.32 L475.72 186.72 L477.37 187.15 L479.02 187.6 L480.67 188.05 L482.32 188.51 L483.97 188.95 L485.62 189.36 L487.27 189.73 L488.92 190.09 L490.57 190.44 L492.22 190.77 L493.87 191.1 L495.52 191.4 L497.17 191.69 L498.83 191.95 L500.48 192.19 L502.13 192.41 L503.78 192.62 L505.43 192.82 L507.08 193.01 L508.73 193.18 L510.38 193.35 L512.03 193.5 L513.68 193.63 L515.33 193.76 L516.98 193.89 L518.63 194.01 L520.28 194.12 L521.93 194.23 L523.58 194.32 L525.23 194.4 L526.89 194.47 L528.54 194.53 L530.19 194.58 L531.84 194.64 L533.49 194.69 L535.14 194.73 L536.79 194.78 L538.44 194.81 L540.09 194.85 L541.74 194.87 L543.39 194.89 L545.04 194.9 L546.69 194.9 L548.34 194.91 L549.99 194.92 L551.64 194.92 L553.29 194.93 L554.94 194.93 L556.6 194.94 L558.25 194.94 L559.9 194.95 L561.55 194.95 L563.2 194.96 L564.85 194.96 L566.5 194.96 L568.15 194.97 L569.8 194.97 L571.45 194.97 L573.1 194.98 L574.75 194.98 L576.4 194.98 L578.05 194.99 L579.7 194.99 L581.35 194.99 L583 194.99 L584.66 194.99 L586.31 194.99 L587.96 195 L589.61 195 L591.26 195 L592.91 195 L594.56 195 L596.21 195 L597.86 195 L599.51 195 L601.16 195 L602.81 195 L604.46 195 L606.11 195 L607.76 195 L609.41 195 L611.06 195 L612.72 195 L614.37 195 L616.02 195 L617.67 195 L619.32 195 L620.97 195 L622.62 195 L624.27 195 L625.92 195 L627.57 195 L629.22 195 L630.87 195 L632.52 195 L634.17 195 L635.82 195 L637.47 195 L639.12 195 L640.78 195 L642.43 195 L644.08 195 L645.73 195 L647.38 195 L649.03 195 L650.68 195 L652.33 195 L653.98 195 L655.63 195 L657.28 195 L658.93 195" stroke="#1b6ca8" stroke-width="1.6" stroke-opacity="0.22"/>
<path d="M230.83 194.9 L232.48 194.89 L234.13 194.88 L235.78 194.87 L237.43 194.86 L239.09 194.85 L240.74 194.84 L242.39 194.83 L244.04 194.81 L245.69 194.77 L247.34 194.7 L248.99 194.61 L250.64 194.5 L252.29 194.38 L253.94 194.25 L255.59 194.09 L257.24 193.9 L258.89 193.66 L260.54 193.4 L262.19 193.11 L263.84 192.8 L265.49 192.45 L267.15 192.04 L268.8 191.59 L270.45 191.1 L272.1 190.54 L273.75 189.91 L275.4 189.14 L277.05 188.26 L278.7 187.31 L280.35 186.29 L282 185.14 L283.65 183.89 L285.3 182.57 L286.95 181.2 L288.6 179.81 L290.25 178.43 L291.9 177.07 L293.55 175.73 L295.21 174.38 L296.86 173 L298.51 171.57 L300.16 170.08 L301.81 168.49 L303.46 166.79 L305.11 164.88 L306.76 162.79 L308.41 160.6 L310.06 158.37 L311.71 156.15 L313.36 154.02 L315.01 152.04 L316.66 150.1 L318.31 148.16 L319.96 146.25 L321.61 144.41 L323.27 142.68 L324.92 141.08 L326.57 139.67 L328.22 138.37 L329.87 137.13 L331.52 136.04 L333.17 135.18 L334.82 134.59 L336.47 134.08 L338.12 133.63 L339.77 133.3 L341.42 133.11 L343.07 133.12 L344.72 133.27 L346.37 133.53 L348.02 133.86 L349.67 134.22 L351.32 134.76 L352.98 135.46 L354.63 136.28 L356.28 137.19 L357.93 138.28 L359.58 139.62 L361.23 141.05 L362.88 142.38 L364.53 143.71 L366.18 145.05 L367.83 146.39 L369.48 147.71 L371.13 148.99 L372.78 150.2 L374.43 151.33 L376.08 152.38 L377.73 153.38 L379.38 154.33 L381.04 155.25 L382.69 156.16 L384.34 157.08 L385.99 158.03 L387.64 159 L389.29 159.98 L390.94 160.97 L392.59 161.96 L394.24 162.94 L395.89 163.9 L397.54 164.84 L399.19 165.76 L400.84 166.67 L402.49 167.57 L404.14 168.45 L405.79 169.32 L407.44 170.17 L409.1 170.99 L410.75 171.79 L412.4 172.58 L414.05 173.37 L415.7 174.14 L417.35 174.88 L419 175.58 L420.65 176.23 L422.3 176.83 L423.95 177.39 L425.6 177.94 L427.25 178.47 L428.9 178.97 L430.55 179.45 L432.2 179.91 L433.85 180.34 L435.5 180.73 L437.16 181.1 L438.81 181.42 L440.46 181.71 L442.11 181.96 L443.76 182.2 L445.41 182.43 L447.06 182.68 L448.71 182.92 L450.36 183.15 L452.01 183.38 L453.66 183.62 L455.31 183.85 L456.96 184.09 L458.61 184.34 L460.26 184.6 L461.91 184.87 L463.56 185.14 L465.21 185.41 L466.87 185.69 L468.52 185.98 L470.17 186.29 L471.82 186.6 L473.47 186.93 L475.12 187.3 L476.77 187.7 L478.42 188.12 L480.07 188.54 L481.72 188.97 L483.37 189.37 L485.02 189.76 L486.67 190.1 L488.32 190.43 L489.97 190.76 L491.62 191.07 L493.27 191.37 L494.93 191.66 L496.58 191.92 L498.23 192.17 L499.88 192.39 L501.53 192.6 L503.18 192.79 L504.83 192.98 L506.48 193.15 L508.13 193.31 L509.78 193.46 L511.43 193.6 L513.08 193.73 L514.73 193.85 L516.38 193.97 L518.03 194.08 L519.68 194.18 L521.33 194.28 L522.99 194.37 L524.64 194.44 L526.29 194.51 L527.94 194.56 L529.59 194.61 L531.24 194.66 L532.89 194.71 L534.54 194.75 L536.19 194.79 L537.84 194.83 L539.49 194.86 L541.14 194.88 L542.79 194.9 L544.44 194.9 L546.09 194.91 L547.74 194.92 L549.39 194.92 L551.04 194.93 L552.7 194.93 L554.35 194.94 L556 194.94 L557.65 194.95 L559.3 194.95 L560.95 194.96 L562.6 194.96 L564.25 194.96 L565.9 194.97 L567.55 194.97 L569.2 194.97 L570.85 194.98 L572.5 194.98 L574.15 194.98 L575.8 194.98 L577.45 194.99 L579.1 194.99 L580.76 194.99 L582.41 194.99 L584.06 194.99 L585.71 195 L587.36 195 L589.01 195 L590.66 195 L592.31 195 L593.96 195 L595.61 195 L597.26 195 L598.91 195 L600.56 195 L602.21 195 L603.86 195 L605.51 195 L607.16 195 L608.82 195 L610.47 195 L612.12 195 L613.77 195 L615.42 195 L617.07 195 L618.72 195 L620.37 195 L622.02 195 L623.67 195 L625.32 195 L626.97 195 L628.62 195 L630.27 195 L631.92 195 L633.57 195 L635.22 195 L636.88 195 L638.53 195 L640.18 195 L641.83 195 L643.48 195 L645.13 195 L646.78 195 L648.43 195 L650.08 195 L651.73 195 L653.38 195 L655.03 195 L656.68 195 L658.33 195" stroke="#1b6ca8" stroke-width="1.6" stroke-opacity="0.22"/>
<path d="M231.8 194.9 L233.45 194.89 L235.1 194.88 L236.75 194.87 L238.4 194.86 L240.05 194.85 L241.7 194.84 L243.35 194.82 L245 194.8 L246.66 194.76 L248.31 194.69 L249.96 194.6 L251.61 194.49 L253.26 194.36 L254.91 194.22 L256.56 194.07 L258.21 193.87 L259.86 193.63 L261.51 193.36 L263.16 193.06 L264.81 192.74 L266.46 192.38 L268.11 191.96 L269.76 191.5 L271.41 190.99 L273.06 190.42 L274.72 189.77 L276.37 188.98 L278.02 188.08 L279.67 187.1 L281.32 186.05 L282.97 184.87 L284.62 183.58 L286.27 182.23 L287.92 180.82 L289.57 179.4 L291.22 177.98 L292.87 176.58 L294.52 175.2 L296.17 173.81 L297.82 172.4 L299.47 170.93 L301.12 169.4 L302.77 167.77 L304.43 166.02 L306.08 164.05 L307.73 161.91 L309.38 159.66 L311.03 157.36 L312.68 155.09 L314.33 152.9 L315.98 150.87 L317.63 148.87 L319.28 146.88 L320.93 144.92 L322.58 143.03 L324.23 141.24 L325.88 139.61 L327.53 138.15 L329.18 136.82 L330.83 135.55 L332.49 134.42 L334.14 133.54 L335.79 132.94 L337.44 132.41 L339.09 131.95 L340.74 131.61 L342.39 131.42 L344.04 131.43 L345.69 131.58 L347.34 131.85 L348.99 132.18 L350.64 132.56 L352.29 133.11 L353.94 133.83 L355.59 134.68 L357.24 135.61 L358.89 136.73 L360.55 138.11 L362.2 139.57 L363.85 140.94 L365.5 142.3 L367.15 143.68 L368.8 145.06 L370.45 146.41 L372.1 147.73 L373.75 148.97 L375.4 150.14 L377.05 151.22 L378.7 152.24 L380.35 153.21 L382 154.16 L383.65 155.1 L385.3 156.04 L386.95 157.01 L388.61 158.01 L390.26 159.02 L391.91 160.04 L393.56 161.05 L395.21 162.06 L396.86 163.05 L398.51 164.02 L400.16 164.96 L401.81 165.9 L403.46 166.82 L405.11 167.73 L406.76 168.62 L408.41 169.49 L410.06 170.33 L411.71 171.15 L413.36 171.97 L415.01 172.78 L416.66 173.57 L418.32 174.33 L419.97 175.05 L421.62 175.72 L423.27 176.33 L424.92 176.91 L426.57 177.47 L428.22 178.01 L429.87 178.53 L431.52 179.03 L433.17 179.5 L434.82 179.93 L436.47 180.34 L438.12 180.72 L439.77 181.05 L441.42 181.35 L443.07 181.61 L444.72 181.85 L446.38 182.09 L448.03 182.34 L449.68 182.59 L451.33 182.83 L452.98 183.07 L454.63 183.31 L456.28 183.55 L457.93 183.8 L459.58 184.05 L461.23 184.32 L462.88 184.59 L464.53 184.87 L466.18 185.15 L467.83 185.44 L469.48 185.74 L471.13 186.05 L472.78 186.37 L474.44 186.71 L476.09 187.09 L477.74 187.5 L479.39 187.93 L481.04 188.37 L482.69 188.8 L484.34 189.22 L485.99 189.61 L487.64 189.97 L489.29 190.31 L490.94 190.64 L492.59 190.96 L494.24 191.27 L495.89 191.56 L497.54 191.84 L499.19 192.09 L500.84 192.32 L502.49 192.53 L504.15 192.73 L505.8 192.92 L507.45 193.1 L509.1 193.27 L510.75 193.42 L512.4 193.56 L514.05 193.7 L515.7 193.82 L517.35 193.94 L519 194.05 L520.65 194.16 L522.3 194.26 L523.95 194.35 L525.6 194.43 L527.25 194.49 L528.9 194.55 L530.55 194.6 L532.21 194.65 L533.86 194.7 L535.51 194.75 L537.16 194.79 L538.81 194.82 L540.46 194.85 L542.11 194.88 L543.76 194.89 L545.41 194.9 L547.06 194.91 L548.71 194.91 L550.36 194.92 L552.01 194.93 L553.66 194.93 L555.31 194.94 L556.96 194.94 L558.61 194.95 L560.27 194.95 L561.92 194.95 L563.57 194.96 L565.22 194.96 L566.87 194.97 L568.52 194.97 L570.17 194.97 L571.82 194.98 L573.47 194.98 L575.12 194.98 L576.77 194.98 L578.42 194.99 L580.07 194.99 L581.72 194.99 L583.37 194.99 L585.02 194.99 L586.67 194.99 L588.33 195 L589.98 195 L591.63 195 L593.28 195 L594.93 195 L596.58 195 L598.23 195 L599.88 195 L601.53 195 L603.18 195 L604.83 195 L606.48 195 L608.13 195 L609.78 195 L611.43 195 L613.08 195 L614.73 195 L616.38 195 L618.04 195 L619.69 195 L621.34 195 L622.99 195 L624.64 195 L626.29 195 L627.94 195 L629.59 195 L631.24 195 L632.89 195 L634.54 195 L636.19 195 L637.84 195 L639.49 195 L641.14 195 L642.79 195 L644.44 195 L646.1 195 L647.75 195 L649.4 195 L651.05 195 L652.7 195 L654.35 195 L656 195 L657.65 195 L659.3 195" stroke="#1b6ca8" stroke-width="3.2" stroke-opacity="0.9"/>
<path d="M231.8 195 L232.82 195 L233.84 195 L234.86 195 L235.88 195 L236.9 195 L237.92 195 L238.94 195 L239.96 195 L240.98 195 L242 195 L243.02 195 L244.04 195 L245.06 195 L246.08 195 L247.1 195 L248.12 195 L249.14 195 L250.17 195 L251.19 195 L252.21 195 L253.23 195 L254.25 195 L255.27 195 L256.29 195 L257.31 194.99 L258.33 194.98 L259.35 194.96 L260.37 194.94 L261.39 194.92 L262.41 194.9 L263.43 194.87 L264.45 194.84 L265.47 194.8 L266.49 194.77 L267.51 194.73 L268.53 194.69 L269.55 194.62 L270.57 194.53 L271.59 194.42 L272.61 194.28 L273.63 194.13 L274.65 193.96 L275.67 193.78 L276.69 193.58 L277.71 193.38 L278.73 193.17 L279.75 192.95 L280.77 192.73 L281.79 192.49 L282.81 192.22 L283.83 191.94 L284.85 191.62 L285.88 191.29 L286.9 190.92 L287.92 190.53 L288.94 190.11 L289.96 189.65 L290.98 189.17 L292 188.65 L293.02 188.02 L294.04 187.26 L295.06 186.38 L296.08 185.42 L297.1 184.41 L298.12 183.38 L299.14 182.3 L300.16 181.14 L301.18 179.9 L302.2 178.55 L303.22 177.09 L304.24 175.49 L305.26 173.67 L306.28 171.66 L307.3 169.48 L308.32 167.19 L309.34 164.82 L310.36 162.37 L311.38 159.67 L312.4 156.78 L313.42 153.82 L314.44 150.92 L315.46 148.19 L316.48 145.69 L317.5 143.28 L318.52 140.94 L319.54 138.68 L320.56 136.48 L321.59 134.32 L322.61 132.21 L323.63 130.14 L324.65 128.12 L325.67 126.15 L326.69 124.25 L327.71 122.41 L328.73 120.6 L329.75 118.81 L330.77 117.1 L331.79 115.49 L332.81 114.05 L333.83 112.75 L334.85 111.55 L335.87 110.52 L336.89 109.7 L337.91 108.93 L338.93 108.4 L339.95 108.32 L340.97 108.46 L341.99 108.71 L343.01 109 L344.03 109.43 L345.05 110.05 L346.07 110.79 L347.09 111.57 L348.11 112.46 L349.13 113.47 L350.15 114.58 L351.17 115.74 L352.19 116.95 L353.21 118.27 L354.23 119.65 L355.25 121.08 L356.27 122.5 L357.3 123.9 L358.32 125.29 L359.34 126.68 L360.36 128.08 L361.38 129.49 L362.4 130.92 L363.42 132.37 L364.44 133.85 L365.46 135.37 L366.48 136.9 L367.5 138.42 L368.52 139.91 L369.54 141.36 L370.56 142.79 L371.58 144.21 L372.6 145.61 L373.62 146.97 L374.64 148.29 L375.66 149.57 L376.68 150.8 L377.7 152 L378.72 153.17 L379.74 154.32 L380.76 155.44 L381.78 156.54 L382.8 157.62 L383.82 158.67 L384.84 159.71 L385.86 160.74 L386.88 161.78 L387.9 162.83 L388.92 163.88 L389.94 164.93 L390.96 165.97 L391.98 167 L393.01 168.01 L394.03 168.99 L395.05 169.95 L396.07 170.9 L397.09 171.85 L398.11 172.78 L399.13 173.72 L400.15 174.66 L401.17 175.6 L402.19 176.53 L403.21 177.45 L404.23 178.35 L405.25 179.21 L406.27 180.08 L407.29 180.95 L408.31 181.79 L409.33 182.57 L410.35 183.25 L411.37 183.83 L412.39 184.42 L413.41 184.96 L414.43 185.38 L415.45 185.59 L416.47 185.59 L417.49 185.56 L418.51 185.51 L419.53 185.44 L420.55 185.37 L421.57 185.29 L422.59 185.22 L423.61 185.16 L424.63 185.1 L425.65 185.03 L426.67 184.95 L427.69 184.88 L428.72 184.82 L429.74 184.76 L430.76 184.71 L431.78 184.67 L432.8 184.63 L433.82 184.59 L434.84 184.55 L435.86 184.51 L436.88 184.48 L437.9 184.45 L438.92 184.43 L439.94 184.41 L440.96 184.4 L441.98 184.4 L443 184.47 L444.02 184.61 L445.04 184.8 L446.06 185.03 L447.08 185.25 L448.1 185.46 L449.12 185.62 L450.14 185.76 L451.16 185.92 L452.18 186.06 L453.2 186.19 L454.22 186.27 L455.24 186.3 L456.26 186.28 L457.28 186.23 L458.3 186.17 L459.32 186.09 L460.34 186.01 L461.36 185.94 L462.38 185.88 L463.41 185.82 L464.43 185.76 L465.45 185.7 L466.47 185.65 L467.49 185.61 L468.51 185.6 L469.53 185.6 L470.55 185.61 L471.57 185.63 L472.59 185.66 L473.61 185.69 L474.63 185.73 L475.65 185.78 L476.67 185.83 L477.69 185.89 L478.71 185.96 L479.73 186.04 L480.75 186.21 L481.77 186.45 L482.79 186.74 L483.81 187.05 L484.83 187.35 L485.85 187.66 L486.87 187.99 L487.89 188.34 L488.91 188.68 L489.93 188.98 L490.95 189.26 L491.97 189.54 L492.99 189.82 L494.01 190.09 L495.03 190.36 L496.05 190.6 L497.07 190.82 L498.09 191.01 L499.12 191.16 L500.14 191.26 L501.16 191.32 L502.18 191.37 L503.2 191.4 L504.22 191.44 L505.24 191.46 L506.26 191.49 L507.28 191.51 L508.3 191.53 L509.32 191.56 L510.34 191.58 L511.36 191.61 L512.38 191.63 L513.4 191.66 L514.42 191.68 L515.44 191.7 L516.46 191.72 L517.48 191.74 L518.5 191.77 L519.52 191.79 L520.54 191.83 L521.56 191.87 L522.58 191.92 L523.6 192.03 L524.62 192.2 L525.64 192.39 L526.66 192.6 L527.68 192.79 L528.7 192.96 L529.72 193.1 L530.74 193.24 L531.76 193.38 L532.78 193.51 L533.8 193.61 L534.83 193.68 L535.85 193.7 L536.87 193.71 L537.89 193.72 L538.91 193.73 L539.93 193.73 L540.95 193.74 L541.97 193.74 L542.99 193.75 L544.01 193.75 L545.03 193.75 L546.05 193.75 L547.07 193.75 L548.09 193.76 L549.11 193.76 L550.13 193.76 L551.15 193.76 L552.17 193.77 L553.19 193.77 L554.21 193.78 L555.23 193.78 L556.25 193.79 L557.27 193.8 L558.29 193.85 L559.31 193.93 L560.33 194.04 L561.35 194.17 L562.37 194.31 L563.39 194.44 L564.41 194.57 L565.43 194.68 L566.45 194.76 L567.47 194.8 L568.49 194.81 L569.51 194.81 L570.54 194.82 L571.56 194.83 L572.58 194.83 L573.6 194.84 L574.62 194.84 L575.64 194.85 L576.66 194.85 L577.68 194.86 L578.7 194.86 L579.72 194.86 L580.74 194.87 L581.76 194.87 L582.78 194.88 L583.8 194.88 L584.82 194.88 L585.84 194.88 L586.86 194.89 L587.88 194.89 L588.9 194.89 L589.92 194.89 L590.94 194.89 L591.96 194.9 L592.98 194.9 L594 194.9 L595.02 194.9 L596.04 194.9 L597.06 194.9 L598.08 194.9 L599.1 194.9 L600.12 194.9 L601.14 194.9 L602.16 194.9 L603.18 194.9 L604.2 194.9 L605.22 194.9 L606.25 194.9 L607.27 194.9 L608.29 194.9 L609.31 194.9 L610.33 194.9 L611.35 194.9 L612.37 194.9 L613.39 194.9 L614.41 194.9 L615.43 194.9 L616.45 194.9 L617.47 194.9 L618.49 194.9 L619.51 194.9 L620.53 194.9 L621.55 194.9 L622.57 194.9 L623.59 194.9 L624.61 194.9 L625.63 194.9 L626.65 194.9 L627.67 194.9 L628.69 194.9 L629.71 194.9 L630.73 194.87 L631.75 194.74 L632.77 194.54 L633.79 194.32 L634.81 194.1 L635.83 193.92 L636.85 193.81 L637.87 193.8 L638.89 193.8 L639.91 193.8 L640.93 193.8 L641.96 193.8 L642.98 193.8 L644 193.8 L645.02 193.8 L646.04 193.8 L647.06 193.8 L648.08 193.8 L649.1 193.83 L650.12 193.91 L651.14 194.01 L652.16 194.14 L653.18 194.27 L654.2 194.41 L655.22 194.52 L656.24 194.64 L657.26 194.76 L658.28 194.88 L659.3 195" stroke="#3aaf85" stroke-width="3.4"/>
</g>
<text x="196.6" y="205.3" font-size="27" fill="#7f7f7f" text-anchor="end">0.00000</text>
<text x="196.6" y="180.8" font-size="27" fill="#7f7f7f" text-anchor="end">0.00005</text>
<text x="196.6" y="156.3" font-size="27" fill="#7f7f7f" text-anchor="end">0.00010</text>
<text x="196.6" y="131.8" font-size="27" fill="#7f7f7f" text-anchor="end">0.00015</text>
<text x="219" y="232.8" font-size="27" fill="#7f7f7f" text-anchor="middle">0</text>
<text x="354.67" y="232.8" font-size="27" fill="#7f7f7f" text-anchor="middle">10000</text>
<text x="490.34" y="232.8" font-size="27" fill="#7f7f7f" text-anchor="middle">20000</text>
<text x="626.01" y="232.8" font-size="27" fill="#7f7f7f" text-anchor="middle">30000</text>
<text x="445.6" y="272.6" font-size="29" fill="#474747" text-anchor="middle">Price</text>
<text x="51" y="153" font-size="29" fill="#474747" text-anchor="middle" transform="rotate(-90 51 153)">Density</text>
<g clip-path="url(#cellL)">
<line x1="174.2" y1="314.9" x2="210.8" y2="314.9" stroke="#3aaf85" stroke-width="2.2"/>
<text x="229.4" y="325.8" font-size="27" fill="#474747" text-anchor="start">Observed data</text>
<line x1="425.8" y1="314.9" x2="460.8" y2="314.9" stroke="#1b6ca8" stroke-width="2.2"/>
<text x="479.6" y="325.8" font-size="27" fill="#474747" text-anchor="start">Model-predicted data</text>
</g>
<g clip-path="url(#cellL)">
<text x="27.2" y="51.6" font-size="31.5" fill="#000" text-anchor="start">Posterior Predictive Check</text>
<text x="27.2" y="86.8" font-size="27.2" fill="#000" text-anchor="start">Model-predicted lines should resemble observed data line</text>
</g>
</g>
<g>
<g shape-rendering="crispEdges" stroke="#e8e8e8" stroke-width="2">
<path d="M876 105 V199"/>
<path d="M1070 105 V199"/>
<path d="M1263 105 V199"/>
<path d="M973 105 V199"/>
<path d="M1166 105 V199"/>
<path d="M845 129 H1316"/>
<path d="M845 155 H1316"/>
<path d="M845 181 H1316"/>
<path d="M845 116 H1316"/>
<path d="M845 142 H1316"/>
<path d="M845 168 H1316"/>
<path d="M845 194 H1316"/>
</g>
<g shape-rendering="crispEdges" stroke="#c6c6c6" stroke-width="2"><path d="M845 105 V200"/><path d="M844 199 H1316"/></g>
<g clip-path="url(#c2)">
<g fill="#1b6ca8" fill-opacity="0.8">
<circle cx="962.03" cy="141.97" r="5.4"/>
<circle cx="928.86" cy="143.28" r="5.4"/>
<circle cx="931.72" cy="141.49" r="5.4"/>
<circle cx="911.11" cy="143.47" r="5.4"/>
<circle cx="920.17" cy="145.15" r="5.4"/>
<circle cx="904.33" cy="143.36" r="5.4"/>
<circle cx="933.49" cy="139.41" r="5.4"/>
<circle cx="895.49" cy="133.32" r="5.4"/>
<circle cx="916.89" cy="147.33" r="5.4"/>
<circle cx="898.05" cy="132.17" r="5.4"/>
<circle cx="972.82" cy="147.35" r="5.4"/>
<circle cx="912.09" cy="149.55" r="5.4"/>
<circle cx="925.67" cy="143.68" r="5.4"/>
<circle cx="993.64" cy="145.66" r="5.4"/>
<circle cx="976.6" cy="138.48" r="5.4"/>
<circle cx="941.79" cy="139.94" r="5.4"/>
<circle cx="937.33" cy="144.99" r="5.4"/>
<circle cx="981.25" cy="149.89" r="5.4"/>
<circle cx="918.94" cy="144.73" r="5.4"/>
<circle cx="941.39" cy="148.26" r="5.4"/>
<circle cx="937.53" cy="146.49" r="5.4"/>
<circle cx="950.29" cy="149.52" r="5.4"/>
<circle cx="1016.46" cy="147.94" r="5.4"/>
<circle cx="929.76" cy="146.55" r="5.4"/>
<circle cx="923.82" cy="144.28" r="5.4"/>
<circle cx="953.63" cy="143.01" r="5.4"/>
<circle cx="1013.41" cy="139.35" r="5.4"/>
<circle cx="928.67" cy="152.81" r="5.4"/>
<circle cx="937.54" cy="143.71" r="5.4"/>
<circle cx="901.84" cy="137.43" r="5.4"/>
<circle cx="917.2" cy="144.21" r="5.4"/>
<circle cx="937.28" cy="147.17" r="5.4"/>
<circle cx="925.22" cy="151.22" r="5.4"/>
<circle cx="992.11" cy="137.93" r="5.4"/>
<circle cx="968.65" cy="156.75" r="5.4"/>
<circle cx="942.18" cy="156.84" r="5.4"/>
<circle cx="1006.28" cy="134.52" r="5.4"/>
<circle cx="938.63" cy="140.83" r="5.4"/>
<circle cx="1031.6" cy="152.25" r="5.4"/>
<circle cx="1054.41" cy="137.92" r="5.4"/>
<circle cx="925.52" cy="137.16" r="5.4"/>
<circle cx="985.98" cy="138.67" r="5.4"/>
<circle cx="933.6" cy="153.39" r="5.4"/>
<circle cx="957.34" cy="144.37" r="5.4"/>
<circle cx="978.5" cy="147.03" r="5.4"/>
<circle cx="980.31" cy="145.85" r="5.4"/>
<circle cx="916.59" cy="141.14" r="5.4"/>
<circle cx="933.1" cy="149.37" r="5.4"/>
<circle cx="1003.08" cy="139.64" r="5.4"/>
<circle cx="923.03" cy="137.39" r="5.4"/>
<circle cx="920.11" cy="138.83" r="5.4"/>
<circle cx="980.97" cy="143.49" r="5.4"/>
<circle cx="924.9" cy="147.63" r="5.4"/>
<circle cx="923.67" cy="143.79" r="5.4"/>
<circle cx="981.21" cy="142.47" r="5.4"/>
<circle cx="949.07" cy="149.04" r="5.4"/>
<circle cx="894.14" cy="132.02" r="5.4"/>
<circle cx="972.02" cy="141.68" r="5.4"/>
<circle cx="912.77" cy="135.95" r="5.4"/>
<circle cx="943.59" cy="147.28" r="5.4"/>
<circle cx="923.51" cy="138.25" r="5.4"/>
<circle cx="887.37" cy="136.92" r="5.4"/>
<circle cx="904.89" cy="143.76" r="5.4"/>
<circle cx="898.59" cy="128.78" r="5.4"/>
<circle cx="940.94" cy="148.02" r="5.4"/>
<circle cx="927.28" cy="140.13" r="5.4"/>
<circle cx="899.68" cy="142.11" r="5.4"/>
<circle cx="927.54" cy="138.13" r="5.4"/>
<circle cx="888.17" cy="134.87" r="5.4"/>
<circle cx="926.13" cy="151.05" r="5.4"/>
<circle cx="915.31" cy="132.85" r="5.4"/>
<circle cx="1039.52" cy="146.86" r="5.4"/>
<circle cx="976.45" cy="141.78" r="5.4"/>
<circle cx="1047.49" cy="145.68" r="5.4"/>
<circle cx="1026.02" cy="141.08" r="5.4"/>
<circle cx="896.54" cy="143.35" r="5.4"/>
<circle cx="986.26" cy="137.48" r="5.4"/>
<circle cx="911.63" cy="131.87" r="5.4"/>
<circle cx="902.04" cy="140.96" r="5.4"/>
<circle cx="907.24" cy="140.4" r="5.4"/>
<circle cx="959.48" cy="149.83" r="5.4"/>
<circle cx="940.21" cy="152" r="5.4"/>
<circle cx="918.49" cy="146.4" r="5.4"/>
<circle cx="967.61" cy="158.69" r="5.4"/>
<circle cx="950.88" cy="137.41" r="5.4"/>
<circle cx="957.32" cy="149.56" r="5.4"/>
<circle cx="922.75" cy="131" r="5.4"/>
<circle cx="965.96" cy="141.02" r="5.4"/>
<circle cx="964.98" cy="157.25" r="5.4"/>
<circle cx="916.72" cy="142.25" r="5.4"/>
<circle cx="963.39" cy="144.48" r="5.4"/>
<circle cx="945.98" cy="137.37" r="5.4"/>
<circle cx="1008.55" cy="134.01" r="5.4"/>
<circle cx="913.66" cy="146.84" r="5.4"/>
<circle cx="935.87" cy="142.39" r="5.4"/>
<circle cx="932.76" cy="146" r="5.4"/>
<circle cx="963.83" cy="158.01" r="5.4"/>
<circle cx="925.95" cy="132.35" r="5.4"/>
<circle cx="952.7" cy="147.69" r="5.4"/>
<circle cx="1003.46" cy="151.55" r="5.4"/>
<circle cx="908.92" cy="146.13" r="5.4"/>
<circle cx="988.07" cy="135.93" r="5.4"/>
<circle cx="988.26" cy="140.61" r="5.4"/>
<circle cx="971.34" cy="149.93" r="5.4"/>
<circle cx="919.58" cy="135.8" r="5.4"/>
<circle cx="989.64" cy="142.73" r="5.4"/>
<circle cx="950.95" cy="146.96" r="5.4"/>
<circle cx="908.09" cy="135.54" r="5.4"/>
<circle cx="901.33" cy="143.86" r="5.4"/>
<circle cx="928.21" cy="133.7" r="5.4"/>
<circle cx="925.05" cy="150.66" r="5.4"/>
<circle cx="919.19" cy="140.64" r="5.4"/>
<circle cx="906.87" cy="137.88" r="5.4"/>
<circle cx="932.45" cy="152.42" r="5.4"/>
<circle cx="1016.48" cy="146.36" r="5.4"/>
<circle cx="927.53" cy="138.27" r="5.4"/>
<circle cx="933.99" cy="147.15" r="5.4"/>
<circle cx="982.82" cy="143.68" r="5.4"/>
<circle cx="966.71" cy="158.63" r="5.4"/>
<circle cx="936.22" cy="145" r="5.4"/>
<circle cx="983.58" cy="149.88" r="5.4"/>
<circle cx="940.93" cy="149.98" r="5.4"/>
<circle cx="936.47" cy="146.69" r="5.4"/>
<circle cx="898.41" cy="136.05" r="5.4"/>
<circle cx="902.43" cy="139.07" r="5.4"/>
<circle cx="927.28" cy="136.88" r="5.4"/>
<circle cx="943.11" cy="148.19" r="5.4"/>
<circle cx="929.49" cy="144.25" r="5.4"/>
<circle cx="919.69" cy="144.49" r="5.4"/>
<circle cx="931.59" cy="143.4" r="5.4"/>
<circle cx="917.08" cy="137.78" r="5.4"/>
<circle cx="960.92" cy="158.21" r="5.4"/>
<circle cx="975.69" cy="154.28" r="5.4"/>
<circle cx="987.61" cy="131.7" r="5.4"/>
<circle cx="934.96" cy="144.6" r="5.4"/>
<circle cx="1017.77" cy="149.38" r="5.4"/>
<circle cx="985.2" cy="143.52" r="5.4"/>
<circle cx="930.42" cy="143.1" r="5.4"/>
<circle cx="921.78" cy="150.57" r="5.4"/>
<circle cx="967.48" cy="153.14" r="5.4"/>
<circle cx="938.77" cy="141.3" r="5.4"/>
<circle cx="954.99" cy="143.38" r="5.4"/>
<circle cx="902.01" cy="139.44" r="5.4"/>
<circle cx="920.84" cy="144.9" r="5.4"/>
<circle cx="971.94" cy="134.37" r="5.4"/>
<circle cx="925.57" cy="146.66" r="5.4"/>
<circle cx="943.72" cy="151.09" r="5.4"/>
<circle cx="890.54" cy="131.33" r="5.4"/>
<circle cx="898.23" cy="138.18" r="5.4"/>
<circle cx="1006.06" cy="142.15" r="5.4"/>
<circle cx="884.31" cy="133.43" r="5.4"/>
<circle cx="998.93" cy="150.74" r="5.4"/>
<circle cx="902.51" cy="145.79" r="5.4"/>
<circle cx="908.99" cy="135.89" r="5.4"/>
<circle cx="987.34" cy="142.73" r="5.4"/>
<circle cx="934.58" cy="154.3" r="5.4"/>
<circle cx="957.3" cy="143.16" r="5.4"/>
<circle cx="922.88" cy="149.23" r="5.4"/>
<circle cx="973.27" cy="138.99" r="5.4"/>
<circle cx="965.36" cy="152.97" r="5.4"/>
<circle cx="1018.21" cy="142.61" r="5.4"/>
<circle cx="894.91" cy="140.49" r="5.4"/>
<circle cx="900.47" cy="140.27" r="5.4"/>
<circle cx="968.37" cy="150.48" r="5.4"/>
<circle cx="1000.11" cy="144.63" r="5.4"/>
<circle cx="981.71" cy="157.5" r="5.4"/>
<circle cx="932.8" cy="140.38" r="5.4"/>
<circle cx="912.01" cy="143.77" r="5.4"/>
<circle cx="921.25" cy="145.48" r="5.4"/>
<circle cx="934.14" cy="141.56" r="5.4"/>
<circle cx="955.82" cy="139.02" r="5.4"/>
<circle cx="914.64" cy="142.39" r="5.4"/>
<circle cx="917.46" cy="137.35" r="5.4"/>
<circle cx="919.15" cy="143.94" r="5.4"/>
<circle cx="922.11" cy="145.12" r="5.4"/>
<circle cx="1057.33" cy="141.18" r="5.4"/>
<circle cx="939.76" cy="143.56" r="5.4"/>
<circle cx="943.8" cy="138.51" r="5.4"/>
<circle cx="1011.04" cy="142.28" r="5.4"/>
<circle cx="905.53" cy="135.32" r="5.4"/>
<circle cx="932.15" cy="149.8" r="5.4"/>
<circle cx="940.11" cy="147.27" r="5.4"/>
<circle cx="934.29" cy="137.26" r="5.4"/>
<circle cx="1008.04" cy="138.31" r="5.4"/>
<circle cx="910.46" cy="135.52" r="5.4"/>
<circle cx="988.37" cy="145.85" r="5.4"/>
<circle cx="918.47" cy="136.88" r="5.4"/>
<circle cx="963.95" cy="156.02" r="5.4"/>
<circle cx="936.75" cy="137.35" r="5.4"/>
<circle cx="920.57" cy="138.06" r="5.4"/>
<circle cx="961.16" cy="150.15" r="5.4"/>
<circle cx="926.88" cy="144.55" r="5.4"/>
<circle cx="934.99" cy="141.2" r="5.4"/>
<circle cx="921.49" cy="139.98" r="5.4"/>
<circle cx="958.53" cy="144.15" r="5.4"/>
<circle cx="1039.46" cy="136.39" r="5.4"/>
<circle cx="903.31" cy="133.5" r="5.4"/>
<circle cx="907.31" cy="136.23" r="5.4"/>
<circle cx="1041.64" cy="148.16" r="5.4"/>
<circle cx="944.42" cy="156.85" r="5.4"/>
<circle cx="1013.02" cy="147.07" r="5.4"/>
<circle cx="1048.8" cy="148.98" r="5.4"/>
<circle cx="951.07" cy="145.54" r="5.4"/>
<circle cx="958.76" cy="138.91" r="5.4"/>
<circle cx="932.69" cy="141.04" r="5.4"/>
<circle cx="1037.7" cy="144.95" r="5.4"/>
<circle cx="894.47" cy="134.23" r="5.4"/>
<circle cx="1017.12" cy="144.77" r="5.4"/>
<circle cx="953.25" cy="145.45" r="5.4"/>
<circle cx="1050.63" cy="146.02" r="5.4"/>
<circle cx="920.75" cy="138.83" r="5.4"/>
<circle cx="911.43" cy="140.12" r="5.4"/>
<circle cx="972.15" cy="142.91" r="5.4"/>
<circle cx="966.9" cy="145.33" r="5.4"/>
<circle cx="923.94" cy="140.61" r="5.4"/>
<circle cx="920.61" cy="140.91" r="5.4"/>
<circle cx="903.42" cy="137.19" r="5.4"/>
<circle cx="921.19" cy="145.2" r="5.4"/>
<circle cx="905.3" cy="138.31" r="5.4"/>
<circle cx="977.6" cy="137.84" r="5.4"/>
<circle cx="913.66" cy="139.75" r="5.4"/>
<circle cx="948.5" cy="138.12" r="5.4"/>
<circle cx="904.1" cy="133.41" r="5.4"/>
<circle cx="899.33" cy="136.67" r="5.4"/>
<circle cx="933.72" cy="144.33" r="5.4"/>
<circle cx="917.38" cy="138.81" r="5.4"/>
<circle cx="940.86" cy="140.39" r="5.4"/>
<circle cx="988.6" cy="133.42" r="5.4"/>
<circle cx="1018.18" cy="141.2" r="5.4"/>
<circle cx="970.61" cy="138.13" r="5.4"/>
<circle cx="907.13" cy="140.78" r="5.4"/>
<circle cx="917.66" cy="134.34" r="5.4"/>
<circle cx="932.16" cy="144.36" r="5.4"/>
<circle cx="910.49" cy="139.11" r="5.4"/>
<circle cx="928.51" cy="154.17" r="5.4"/>
<circle cx="937.37" cy="146.98" r="5.4"/>
<circle cx="1013.76" cy="144.21" r="5.4"/>
<circle cx="976.87" cy="148.7" r="5.4"/>
<circle cx="975.77" cy="155.97" r="5.4"/>
<circle cx="913.92" cy="140.58" r="5.4"/>
<circle cx="935.79" cy="147.49" r="5.4"/>
<circle cx="950.51" cy="144.86" r="5.4"/>
<circle cx="974.7" cy="151.53" r="5.4"/>
<circle cx="1044.31" cy="142.91" r="5.4"/>
<circle cx="930.47" cy="140.63" r="5.4"/>
<circle cx="931.74" cy="141.17" r="5.4"/>
<circle cx="903.99" cy="130.94" r="5.4"/>
<circle cx="903.43" cy="135.84" r="5.4"/>
<circle cx="930.28" cy="146.11" r="5.4"/>
<circle cx="980.44" cy="146.82" r="5.4"/>
<circle cx="908.2" cy="138.44" r="5.4"/>
<circle cx="958.58" cy="141.4" r="5.4"/>
<circle cx="989.84" cy="145.61" r="5.4"/>
<circle cx="904.61" cy="140.08" r="5.4"/>
<circle cx="1015.17" cy="143.45" r="5.4"/>
<circle cx="969.19" cy="148.83" r="5.4"/>
<circle cx="904.27" cy="132.52" r="5.4"/>
<circle cx="934.75" cy="140.45" r="5.4"/>
<circle cx="950.72" cy="140.76" r="5.4"/>
<circle cx="966.19" cy="155.87" r="5.4"/>
<circle cx="962.95" cy="145.71" r="5.4"/>
<circle cx="943.03" cy="142.44" r="5.4"/>
<circle cx="910.58" cy="140.44" r="5.4"/>
<circle cx="928.36" cy="144.37" r="5.4"/>
<circle cx="946.41" cy="142.96" r="5.4"/>
<circle cx="890.28" cy="132.23" r="5.4"/>
<circle cx="1010.09" cy="136.83" r="5.4"/>
<circle cx="932.19" cy="136.96" r="5.4"/>
<circle cx="977.51" cy="143.44" r="5.4"/>
<circle cx="970.85" cy="144.44" r="5.4"/>
<circle cx="980.09" cy="144.26" r="5.4"/>
<circle cx="983.7" cy="137.97" r="5.4"/>
<circle cx="939.42" cy="144.07" r="5.4"/>
<circle cx="948.98" cy="138.86" r="5.4"/>
<circle cx="1011.68" cy="132.29" r="5.4"/>
<circle cx="945.54" cy="139.09" r="5.4"/>
<circle cx="1002.61" cy="145.56" r="5.4"/>
<circle cx="962.48" cy="157.51" r="5.4"/>
<circle cx="918.19" cy="151.87" r="5.4"/>
<circle cx="988.98" cy="142.56" r="5.4"/>
<circle cx="926.59" cy="144.97" r="5.4"/>
<circle cx="907.98" cy="137.79" r="5.4"/>
<circle cx="966.39" cy="145.42" r="5.4"/>
<circle cx="973.62" cy="147.75" r="5.4"/>
<circle cx="938.22" cy="151.75" r="5.4"/>
<circle cx="920.21" cy="145.44" r="5.4"/>
<circle cx="940.35" cy="136.92" r="5.4"/>
<circle cx="1007.04" cy="149.08" r="5.4"/>
<circle cx="1040.86" cy="138.72" r="5.4"/>
<circle cx="1040.17" cy="152.8" r="5.4"/>
<circle cx="1020.57" cy="148.54" r="5.4"/>
<circle cx="927.21" cy="136.48" r="5.4"/>
<circle cx="897.25" cy="143.43" r="5.4"/>
<circle cx="946.91" cy="147.58" r="5.4"/>
<circle cx="1043.54" cy="142.98" r="5.4"/>
<circle cx="906.22" cy="141.29" r="5.4"/>
<circle cx="892.17" cy="139.8" r="5.4"/>
<circle cx="958.14" cy="147.13" r="5.4"/>
<circle cx="942.19" cy="155.11" r="5.4"/>
<circle cx="897.24" cy="135.58" r="5.4"/>
<circle cx="1008.98" cy="143.24" r="5.4"/>
<circle cx="918.15" cy="130.61" r="5.4"/>
<circle cx="944.66" cy="144.6" r="5.4"/>
<circle cx="913.62" cy="145.34" r="5.4"/>
<circle cx="938.33" cy="142.2" r="5.4"/>
<circle cx="914.79" cy="144.69" r="5.4"/>
<circle cx="957.05" cy="148.13" r="5.4"/>
<circle cx="887.92" cy="132.59" r="5.4"/>
<circle cx="954.27" cy="147.63" r="5.4"/>
<circle cx="935.66" cy="135.62" r="5.4"/>
<circle cx="969.32" cy="149.43" r="5.4"/>
<circle cx="996.21" cy="137.21" r="5.4"/>
<circle cx="956.82" cy="152.61" r="5.4"/>
<circle cx="915.12" cy="148.02" r="5.4"/>
<circle cx="894.37" cy="133.53" r="5.4"/>
<circle cx="924.19" cy="140.06" r="5.4"/>
<circle cx="924.08" cy="140.19" r="5.4"/>
<circle cx="941.33" cy="137.16" r="5.4"/>
<circle cx="921.8" cy="143.02" r="5.4"/>
<circle cx="910.71" cy="142.83" r="5.4"/>
<circle cx="924.05" cy="144.56" r="5.4"/>
<circle cx="937.65" cy="143.01" r="5.4"/>
<circle cx="890.05" cy="138.27" r="5.4"/>
<circle cx="908.27" cy="135.06" r="5.4"/>
<circle cx="939.87" cy="147.88" r="5.4"/>
<circle cx="938" cy="149.3" r="5.4"/>
<circle cx="897.35" cy="135.58" r="5.4"/>
<circle cx="948.62" cy="141.13" r="5.4"/>
<circle cx="951.29" cy="145.31" r="5.4"/>
<circle cx="956.88" cy="143.54" r="5.4"/>
<circle cx="947.68" cy="138.54" r="5.4"/>
<circle cx="999.78" cy="140.63" r="5.4"/>
<circle cx="1029.55" cy="132.11" r="5.4"/>
<circle cx="923.36" cy="140.99" r="5.4"/>
<circle cx="994.12" cy="142.12" r="5.4"/>
<circle cx="1007.28" cy="145.24" r="5.4"/>
<circle cx="911.92" cy="133.9" r="5.4"/>
<circle cx="950.77" cy="145.49" r="5.4"/>
<circle cx="979.47" cy="150.6" r="5.4"/>
<circle cx="909.06" cy="131.19" r="5.4"/>
<circle cx="966.83" cy="145.14" r="5.4"/>
<circle cx="948.78" cy="145.8" r="5.4"/>
<circle cx="957.72" cy="145.25" r="5.4"/>
<circle cx="964.24" cy="145.86" r="5.4"/>
<circle cx="949.34" cy="137.37" r="5.4"/>
<circle cx="945.85" cy="142.72" r="5.4"/>
<circle cx="997.27" cy="138.98" r="5.4"/>
<circle cx="956.31" cy="148.13" r="5.4"/>
<circle cx="894.69" cy="131.3" r="5.4"/>
<circle cx="925.92" cy="146.54" r="5.4"/>
<circle cx="931.71" cy="142.8" r="5.4"/>
<circle cx="944.8" cy="145.08" r="5.4"/>
<circle cx="997.03" cy="150.99" r="5.4"/>
<circle cx="1024.42" cy="152.47" r="5.4"/>
<circle cx="957.72" cy="147.64" r="5.4"/>
<circle cx="967.53" cy="152.02" r="5.4"/>
<circle cx="1000.67" cy="138.68" r="5.4"/>
<circle cx="927.98" cy="141.93" r="5.4"/>
<circle cx="927.67" cy="134.95" r="5.4"/>
<circle cx="942.63" cy="144.64" r="5.4"/>
<circle cx="961.41" cy="149.05" r="5.4"/>
<circle cx="902.96" cy="140.56" r="5.4"/>
<circle cx="1054.56" cy="148.03" r="5.4"/>
<circle cx="1023.1" cy="139.82" r="5.4"/>
<circle cx="994.7" cy="144.93" r="5.4"/>
<circle cx="962.22" cy="148.73" r="5.4"/>
<circle cx="913.15" cy="143.23" r="5.4"/>
<circle cx="918.39" cy="140.95" r="5.4"/>
<circle cx="912.23" cy="144.5" r="5.4"/>
<circle cx="918.52" cy="145.97" r="5.4"/>
<circle cx="963.01" cy="146.15" r="5.4"/>
<circle cx="966.91" cy="135.16" r="5.4"/>
<circle cx="991.21" cy="149.9" r="5.4"/>
<circle cx="990.31" cy="149.56" r="5.4"/>
<circle cx="998.33" cy="139.86" r="5.4"/>
<circle cx="885.48" cy="134.42" r="5.4"/>
<circle cx="935.37" cy="151.24" r="5.4"/>
<circle cx="910.65" cy="139.25" r="5.4"/>
<circle cx="961.44" cy="147.65" r="5.4"/>
<circle cx="919.8" cy="134.08" r="5.4"/>
<circle cx="943.47" cy="150.85" r="5.4"/>
<circle cx="971.58" cy="151.92" r="5.4"/>
<circle cx="940.53" cy="149.81" r="5.4"/>
<circle cx="958.53" cy="151.24" r="5.4"/>
<circle cx="925.09" cy="135.72" r="5.4"/>
<circle cx="1017.05" cy="136.29" r="5.4"/>
<circle cx="960.16" cy="141.03" r="5.4"/>
<circle cx="979.53" cy="142.99" r="5.4"/>
<circle cx="945.5" cy="146.27" r="5.4"/>
<circle cx="951.06" cy="147.66" r="5.4"/>
<circle cx="941.77" cy="149.73" r="5.4"/>
<circle cx="949.37" cy="144.63" r="5.4"/>
<circle cx="913.12" cy="142.03" r="5.4"/>
<circle cx="907.07" cy="133.62" r="5.4"/>
<circle cx="925.83" cy="136.95" r="5.4"/>
<circle cx="914.59" cy="138.06" r="5.4"/>
<circle cx="943.13" cy="151.39" r="5.4"/>
<circle cx="961.7" cy="143.72" r="5.4"/>
<circle cx="917.68" cy="137.16" r="5.4"/>
<circle cx="920.06" cy="138.2" r="5.4"/>
<circle cx="886.83" cy="136.85" r="5.4"/>
<circle cx="896.69" cy="132.27" r="5.4"/>
<circle cx="950.86" cy="142.62" r="5.4"/>
<circle cx="921.95" cy="135.75" r="5.4"/>
<circle cx="1010.96" cy="136.92" r="5.4"/>
<circle cx="1005.08" cy="131.87" r="5.4"/>
<circle cx="920.72" cy="136.99" r="5.4"/>
<circle cx="915.11" cy="140.58" r="5.4"/>
<circle cx="942.4" cy="145.93" r="5.4"/>
<circle cx="950.23" cy="143.61" r="5.4"/>
<circle cx="920.65" cy="135.82" r="5.4"/>
<circle cx="971.06" cy="137.95" r="5.4"/>
<circle cx="957.09" cy="151.44" r="5.4"/>
<circle cx="917.16" cy="132.69" r="5.4"/>
<circle cx="967.05" cy="145" r="5.4"/>
<circle cx="952.36" cy="143.87" r="5.4"/>
<circle cx="910.76" cy="134.42" r="5.4"/>
<circle cx="945.73" cy="135.47" r="5.4"/>
<circle cx="911.42" cy="141.51" r="5.4"/>
<circle cx="930.56" cy="137" r="5.4"/>
<circle cx="949.57" cy="132.54" r="5.4"/>
<circle cx="922.82" cy="142.29" r="5.4"/>
<circle cx="919.61" cy="142.84" r="5.4"/>
<circle cx="1025.25" cy="145.46" r="5.4"/>
<circle cx="920.13" cy="133.98" r="5.4"/>
<circle cx="938.28" cy="144.15" r="5.4"/>
<circle cx="994.66" cy="153.31" r="5.4"/>
<circle cx="918.06" cy="129.77" r="5.4"/>
<circle cx="981.13" cy="152.21" r="5.4"/>
<circle cx="980.08" cy="141.47" r="5.4"/>
<circle cx="914.72" cy="133.81" r="5.4"/>
<circle cx="966.72" cy="139.39" r="5.4"/>
<circle cx="953.28" cy="146.88" r="5.4"/>
<circle cx="936.08" cy="141.05" r="5.4"/>
<circle cx="929.81" cy="153.18" r="5.4"/>
<circle cx="1055.24" cy="148.41" r="5.4"/>
<circle cx="916.38" cy="132.75" r="5.4"/>
<circle cx="961.91" cy="149.99" r="5.4"/>
<circle cx="907.77" cy="139.63" r="5.4"/>
<circle cx="1016.83" cy="146.83" r="5.4"/>
<circle cx="900.81" cy="138.76" r="5.4"/>
<circle cx="980.93" cy="146.38" r="5.4"/>
<circle cx="912.35" cy="139.53" r="5.4"/>
<circle cx="970.31" cy="148.84" r="5.4"/>
<circle cx="907.74" cy="134.96" r="5.4"/>
<circle cx="942.27" cy="146.33" r="5.4"/>
<circle cx="1048.48" cy="148.79" r="5.4"/>
<circle cx="938.68" cy="144.98" r="5.4"/>
<circle cx="906.96" cy="136.77" r="5.4"/>
<circle cx="1001.09" cy="140.06" r="5.4"/>
<circle cx="901.76" cy="131.29" r="5.4"/>
<circle cx="971.73" cy="144.57" r="5.4"/>
<circle cx="1001.99" cy="153.94" r="5.4"/>
<circle cx="934.54" cy="155.45" r="5.4"/>
<circle cx="939.94" cy="146.74" r="5.4"/>
<circle cx="913.5" cy="138.33" r="5.4"/>
<circle cx="939.96" cy="151.99" r="5.4"/>
<circle cx="1044.47" cy="154.21" r="5.4"/>
<circle cx="942.71" cy="150.54" r="5.4"/>
<circle cx="931.92" cy="140.84" r="5.4"/>
<circle cx="985.82" cy="141.19" r="5.4"/>
<circle cx="912.82" cy="134.57" r="5.4"/>
<circle cx="949.65" cy="142.07" r="5.4"/>
<circle cx="1012.2" cy="148.29" r="5.4"/>
<circle cx="990.84" cy="138.36" r="5.4"/>
<circle cx="919.25" cy="149.68" r="5.4"/>
<circle cx="972.89" cy="142.46" r="5.4"/>
<circle cx="993.31" cy="147.63" r="5.4"/>
<circle cx="959.88" cy="145.45" r="5.4"/>
<circle cx="931.12" cy="144.27" r="5.4"/>
<circle cx="963.38" cy="148.78" r="5.4"/>
<circle cx="954.79" cy="143.32" r="5.4"/>
<circle cx="926.77" cy="142.99" r="5.4"/>
<circle cx="909.32" cy="137.24" r="5.4"/>
<circle cx="908.55" cy="141.4" r="5.4"/>
<circle cx="936.13" cy="146.38" r="5.4"/>
<circle cx="919.98" cy="135.26" r="5.4"/>
<circle cx="970.38" cy="142.66" r="5.4"/>
<circle cx="909.79" cy="133.29" r="5.4"/>
<circle cx="945.66" cy="140.99" r="5.4"/>
<circle cx="977.83" cy="140.42" r="5.4"/>
<circle cx="1004.27" cy="152.2" r="5.4"/>
<circle cx="949.08" cy="145.24" r="5.4"/>
<circle cx="939.74" cy="144.62" r="5.4"/>
<circle cx="908.84" cy="136.49" r="5.4"/>
<circle cx="898.64" cy="137.59" r="5.4"/>
<circle cx="934.28" cy="146.2" r="5.4"/>
<circle cx="916.32" cy="144.46" r="5.4"/>
<circle cx="929.08" cy="142.54" r="5.4"/>
<circle cx="969.02" cy="139.42" r="5.4"/>
<circle cx="952.41" cy="157.59" r="5.4"/>
<circle cx="900.83" cy="139.4" r="5.4"/>
<circle cx="948.88" cy="152.29" r="5.4"/>
<circle cx="1001.96" cy="136.28" r="5.4"/>
<circle cx="910.67" cy="137.19" r="5.4"/>
<circle cx="1002.32" cy="146.39" r="5.4"/>
<circle cx="952.91" cy="145.38" r="5.4"/>
<circle cx="933.1" cy="142.7" r="5.4"/>
<circle cx="892.93" cy="132.34" r="5.4"/>
<circle cx="959.21" cy="142.37" r="5.4"/>
<circle cx="1003.65" cy="141.46" r="5.4"/>
<circle cx="970" cy="137.52" r="5.4"/>
<circle cx="922.99" cy="144.69" r="5.4"/>
<circle cx="959.1" cy="137.96" r="5.4"/>
<circle cx="938.1" cy="142.82" r="5.4"/>
<circle cx="932.83" cy="136.9" r="5.4"/>
<circle cx="979.94" cy="141.12" r="5.4"/>
<circle cx="954.86" cy="145.78" r="5.4"/>
<circle cx="940.22" cy="149.6" r="5.4"/>
<circle cx="951.02" cy="150.44" r="5.4"/>
<circle cx="1015.38" cy="146.54" r="5.4"/>
<circle cx="957.04" cy="157.11" r="5.4"/>
<circle cx="1006.66" cy="142.05" r="5.4"/>
<circle cx="950.02" cy="152.37" r="5.4"/>
<circle cx="1026.27" cy="154.89" r="5.4"/>
<circle cx="945.59" cy="138.25" r="5.4"/>
<circle cx="974.26" cy="141.35" r="5.4"/>
<circle cx="954.89" cy="144.16" r="5.4"/>
<circle cx="907.16" cy="137.98" r="5.4"/>
<circle cx="929.86" cy="148.55" r="5.4"/>
<circle cx="980.08" cy="149.98" r="5.4"/>
<circle cx="939.39" cy="154.27" r="5.4"/>
<circle cx="955.89" cy="139.72" r="5.4"/>
<circle cx="946.44" cy="150.53" r="5.4"/>
<circle cx="977.02" cy="147.42" r="5.4"/>
<circle cx="940.75" cy="137.76" r="5.4"/>
<circle cx="1018.52" cy="146.67" r="5.4"/>
<circle cx="890.78" cy="136.13" r="5.4"/>
<circle cx="986.72" cy="145.48" r="5.4"/>
<circle cx="890.07" cy="134.23" r="5.4"/>
<circle cx="946.34" cy="143.22" r="5.4"/>
<circle cx="905.8" cy="136.49" r="5.4"/>
<circle cx="971.94" cy="144.96" r="5.4"/>
<circle cx="982.14" cy="153.55" r="5.4"/>
<circle cx="887.48" cy="132.04" r="5.4"/>
<circle cx="990.07" cy="146.05" r="5.4"/>
<circle cx="1000.71" cy="153.75" r="5.4"/>
<circle cx="958.3" cy="144.94" r="5.4"/>
<circle cx="988.99" cy="146.1" r="5.4"/>
<circle cx="903.33" cy="143.15" r="5.4"/>
<circle cx="914.75" cy="144.78" r="5.4"/>
<circle cx="920.78" cy="144.28" r="5.4"/>
<circle cx="1020.42" cy="150.34" r="5.4"/>
<circle cx="953.03" cy="148.18" r="5.4"/>
<circle cx="909.83" cy="135.3" r="5.4"/>
<circle cx="939.49" cy="141.47" r="5.4"/>
<circle cx="964.01" cy="145.7" r="5.4"/>
<circle cx="1027.97" cy="137.71" r="5.4"/>
<circle cx="902.6" cy="142.3" r="5.4"/>
<circle cx="935.03" cy="143.11" r="5.4"/>
<circle cx="943.91" cy="139.4" r="5.4"/>
<circle cx="890.15" cy="136.62" r="5.4"/>
<circle cx="947.67" cy="157.24" r="5.4"/>
<circle cx="962.8" cy="155.92" r="5.4"/>
<circle cx="946.33" cy="148.2" r="5.4"/>
<circle cx="931.18" cy="138.99" r="5.4"/>
<circle cx="901.76" cy="138.72" r="5.4"/>
<circle cx="944.91" cy="143.27" r="5.4"/>
<circle cx="918.45" cy="144.35" r="5.4"/>
<circle cx="949.03" cy="147.36" r="5.4"/>
<circle cx="923.07" cy="152.08" r="5.4"/>
<circle cx="966.7" cy="149.4" r="5.4"/>
<circle cx="939.33" cy="140.37" r="5.4"/>
<circle cx="927.36" cy="147.81" r="5.4"/>
<circle cx="905.19" cy="136.97" r="5.4"/>
<circle cx="937.54" cy="146.42" r="5.4"/>
<circle cx="1026.59" cy="145.06" r="5.4"/>
<circle cx="934.25" cy="139.28" r="5.4"/>
<circle cx="950.9" cy="144.71" r="5.4"/>
<circle cx="909.83" cy="142.57" r="5.4"/>
<circle cx="917.64" cy="131.25" r="5.4"/>
<circle cx="955.45" cy="133.2" r="5.4"/>
<circle cx="943.06" cy="141.67" r="5.4"/>
<circle cx="954.75" cy="145.33" r="5.4"/>
<circle cx="993.69" cy="135.16" r="5.4"/>
<circle cx="928.54" cy="136.42" r="5.4"/>
<circle cx="933.79" cy="141.42" r="5.4"/>
<circle cx="1001.12" cy="139.03" r="5.4"/>
<circle cx="935.93" cy="141.13" r="5.4"/>
<circle cx="1057.16" cy="149.58" r="5.4"/>
<circle cx="922.8" cy="132.66" r="5.4"/>
<circle cx="945.5" cy="137.9" r="5.4"/>
<circle cx="934.96" cy="144.81" r="5.4"/>
<circle cx="1014.14" cy="145.41" r="5.4"/>
<circle cx="901.97" cy="138.85" r="5.4"/>
<circle cx="907.57" cy="139.33" r="5.4"/>
<circle cx="926.35" cy="137.59" r="5.4"/>
<circle cx="976.04" cy="140.67" r="5.4"/>
<circle cx="902.2" cy="138.83" r="5.4"/>
<circle cx="893.1" cy="134.13" r="5.4"/>
<circle cx="894.93" cy="136.2" r="5.4"/>
<circle cx="938.85" cy="140.87" r="5.4"/>
<circle cx="953.22" cy="141.91" r="5.4"/>
<circle cx="993.58" cy="142.09" r="5.4"/>
<circle cx="929.69" cy="141.5" r="5.4"/>
<circle cx="989.04" cy="146.46" r="5.4"/>
<circle cx="910.14" cy="140.4" r="5.4"/>
<circle cx="950.16" cy="155.59" r="5.4"/>
<circle cx="942.4" cy="151.02" r="5.4"/>
<circle cx="944.51" cy="143.01" r="5.4"/>
<circle cx="889.09" cy="140.88" r="5.4"/>
<circle cx="978.96" cy="143.82" r="5.4"/>
<circle cx="946.86" cy="144.15" r="5.4"/>
<circle cx="904" cy="144.94" r="5.4"/>
<circle cx="952.57" cy="143.14" r="5.4"/>
<circle cx="1000.89" cy="148.06" r="5.4"/>
<circle cx="946.53" cy="141.31" r="5.4"/>
<circle cx="1026.08" cy="149.07" r="5.4"/>
<circle cx="904.9" cy="135.83" r="5.4"/>
<circle cx="968.83" cy="137.8" r="5.4"/>
<circle cx="968.91" cy="149.88" r="5.4"/>
<circle cx="928.11" cy="140.27" r="5.4"/>
<circle cx="929.3" cy="142.57" r="5.4"/>
<circle cx="964.13" cy="155.67" r="5.4"/>
<circle cx="939.24" cy="144.61" r="5.4"/>
<circle cx="896.55" cy="140.96" r="5.4"/>
<circle cx="940.35" cy="154.79" r="5.4"/>
<circle cx="908.27" cy="138.61" r="5.4"/>
<circle cx="891.81" cy="136.91" r="5.4"/>
<circle cx="997.66" cy="152.29" r="5.4"/>
<circle cx="948.58" cy="153.65" r="5.4"/>
<circle cx="936.49" cy="135.13" r="5.4"/>
<circle cx="944.89" cy="134.5" r="5.4"/>
<circle cx="965.86" cy="146.43" r="5.4"/>
<circle cx="925.67" cy="143.03" r="5.4"/>
<circle cx="946.83" cy="139.68" r="5.4"/>
<circle cx="966.19" cy="140.59" r="5.4"/>
<circle cx="931.44" cy="142.18" r="5.4"/>
<circle cx="932.87" cy="138.33" r="5.4"/>
<circle cx="961.57" cy="138.16" r="5.4"/>
<circle cx="899" cy="140.03" r="5.4"/>
<circle cx="956.28" cy="144.9" r="5.4"/>
<circle cx="962.54" cy="148.3" r="5.4"/>
<circle cx="920.65" cy="141.79" r="5.4"/>
<circle cx="1009.21" cy="147.23" r="5.4"/>
<circle cx="966.21" cy="138.45" r="5.4"/>
<circle cx="933.68" cy="141.47" r="5.4"/>
<circle cx="983.77" cy="154.28" r="5.4"/>
<circle cx="924.87" cy="138.32" r="5.4"/>
<circle cx="915.25" cy="140.4" r="5.4"/>
<circle cx="911.34" cy="137.46" r="5.4"/>
<circle cx="959.22" cy="148.48" r="5.4"/>
<circle cx="952.44" cy="138.36" r="5.4"/>
<circle cx="896.34" cy="135.37" r="5.4"/>
<circle cx="982.49" cy="150.52" r="5.4"/>
<circle cx="946.96" cy="145.93" r="5.4"/>
<circle cx="942.91" cy="149.21" r="5.4"/>
<circle cx="1041.68" cy="134.85" r="5.4"/>
<circle cx="999.3" cy="148.53" r="5.4"/>
<circle cx="927" cy="139.96" r="5.4"/>
<circle cx="894.53" cy="132.98" r="5.4"/>
<circle cx="1031.87" cy="134.74" r="5.4"/>
<circle cx="961.3" cy="148.09" r="5.4"/>
<circle cx="910.52" cy="140.97" r="5.4"/>
<circle cx="936.88" cy="146.1" r="5.4"/>
<circle cx="958.76" cy="147" r="5.4"/>
<circle cx="997.47" cy="150.69" r="5.4"/>
<circle cx="951.28" cy="145.15" r="5.4"/>
<circle cx="958.1" cy="140.66" r="5.4"/>
<circle cx="1054.35" cy="148.36" r="5.4"/>
<circle cx="915.89" cy="139.88" r="5.4"/>
<circle cx="932.76" cy="142.32" r="5.4"/>
<circle cx="914.61" cy="143.91" r="5.4"/>
<circle cx="1054.27" cy="141.88" r="5.4"/>
<circle cx="928.4" cy="146.8" r="5.4"/>
<circle cx="942.19" cy="130.86" r="5.4"/>
<circle cx="908.87" cy="140.79" r="5.4"/>
<circle cx="904.97" cy="134.25" r="5.4"/>
<circle cx="989.17" cy="145.83" r="5.4"/>
<circle cx="950.02" cy="137.91" r="5.4"/>
<circle cx="963.44" cy="144.61" r="5.4"/>
<circle cx="987.31" cy="140.47" r="5.4"/>
<circle cx="909.38" cy="140.73" r="5.4"/>
<circle cx="992.1" cy="149.94" r="5.4"/>
<circle cx="912.69" cy="143.3" r="5.4"/>
<circle cx="952.68" cy="140.84" r="5.4"/>
<circle cx="942.92" cy="145.71" r="5.4"/>
<circle cx="914.45" cy="146.47" r="5.4"/>
<circle cx="933.82" cy="133.51" r="5.4"/>
<circle cx="981.72" cy="150.2" r="5.4"/>
<circle cx="979.39" cy="152.95" r="5.4"/>
<circle cx="904.47" cy="146.54" r="5.4"/>
<circle cx="1050.5" cy="143.55" r="5.4"/>
<circle cx="890.17" cy="137.14" r="5.4"/>
<circle cx="955.15" cy="157.56" r="5.4"/>
<circle cx="897.85" cy="132.09" r="5.4"/>
<circle cx="1027.93" cy="145.14" r="5.4"/>
<circle cx="907.04" cy="135.95" r="5.4"/>
<circle cx="950.01" cy="154.41" r="5.4"/>
<circle cx="936.61" cy="142.49" r="5.4"/>
<circle cx="1010.96" cy="143.33" r="5.4"/>
<circle cx="976.62" cy="142.44" r="5.4"/>
<circle cx="1002.91" cy="152.78" r="5.4"/>
<circle cx="924.26" cy="136.75" r="5.4"/>
<circle cx="970.82" cy="138.9" r="5.4"/>
<circle cx="928.81" cy="138.87" r="5.4"/>
<circle cx="979.49" cy="146.93" r="5.4"/>
<circle cx="1001.94" cy="155.47" r="5.4"/>
<circle cx="904.08" cy="139.6" r="5.4"/>
<circle cx="915.64" cy="136.92" r="5.4"/>
<circle cx="919.68" cy="145.62" r="5.4"/>
<circle cx="921.25" cy="139.64" r="5.4"/>
<circle cx="954.13" cy="144.92" r="5.4"/>
<circle cx="1018.28" cy="156.46" r="5.4"/>
<circle cx="923.75" cy="136.7" r="5.4"/>
<circle cx="892.56" cy="136.02" r="5.4"/>
<circle cx="936.57" cy="137.51" r="5.4"/>
<circle cx="911.35" cy="139.7" r="5.4"/>
<circle cx="1001.22" cy="144.89" r="5.4"/>
<circle cx="978.76" cy="143.75" r="5.4"/>
<circle cx="936.17" cy="147.89" r="5.4"/>
<circle cx="992.5" cy="143.77" r="5.4"/>
<circle cx="929" cy="146.05" r="5.4"/>
<circle cx="910.41" cy="137.98" r="5.4"/>
<circle cx="1033.72" cy="145.13" r="5.4"/>
<circle cx="1007.86" cy="142.82" r="5.4"/>
<circle cx="954.17" cy="148.48" r="5.4"/>
<circle cx="955.18" cy="140.72" r="5.4"/>
<circle cx="1010.67" cy="144.65" r="5.4"/>
<circle cx="994.36" cy="152.33" r="5.4"/>
<circle cx="888.44" cy="134.85" r="5.4"/>
<circle cx="892.36" cy="135.93" r="5.4"/>
<circle cx="993.63" cy="141.54" r="5.4"/>
<circle cx="892.58" cy="137.66" r="5.4"/>
<circle cx="1035.23" cy="137.36" r="5.4"/>
<circle cx="904.02" cy="141.87" r="5.4"/>
<circle cx="919.11" cy="144.24" r="5.4"/>
<circle cx="907.84" cy="139.5" r="5.4"/>
<circle cx="893.58" cy="136.41" r="5.4"/>
<circle cx="1032.45" cy="140.28" r="5.4"/>
<circle cx="898.07" cy="136.05" r="5.4"/>
<circle cx="925.44" cy="138.58" r="5.4"/>
<circle cx="926.9" cy="140.54" r="5.4"/>
<circle cx="922.75" cy="139.4" r="5.4"/>
<circle cx="951.77" cy="152.77" r="5.4"/>
<circle cx="892.13" cy="141.28" r="5.4"/>
<circle cx="983.45" cy="153.4" r="5.4"/>
<circle cx="925.87" cy="141.17" r="5.4"/>
<circle cx="1002.41" cy="151.76" r="5.4"/>
<circle cx="909.45" cy="140.9" r="5.4"/>
<circle cx="949.09" cy="152.98" r="5.4"/>
<circle cx="908.66" cy="135.72" r="5.4"/>
<circle cx="915.77" cy="135.34" r="5.4"/>
<circle cx="948.4" cy="141.53" r="5.4"/>
<circle cx="1030.14" cy="143.26" r="5.4"/>
<circle cx="890.17" cy="131.35" r="5.4"/>
<circle cx="918.36" cy="139.38" r="5.4"/>
<circle cx="905.26" cy="143.54" r="5.4"/>
<circle cx="933.93" cy="139.96" r="5.4"/>
<circle cx="963.23" cy="137.61" r="5.4"/>
<circle cx="905.29" cy="138.52" r="5.4"/>
<circle cx="920.04" cy="141.85" r="5.4"/>
<circle cx="965.65" cy="134.65" r="5.4"/>
<circle cx="983.23" cy="143.26" r="5.4"/>
<circle cx="924.22" cy="140.01" r="5.4"/>
<circle cx="939.59" cy="141.32" r="5.4"/>
<circle cx="914.57" cy="143.83" r="5.4"/>
<circle cx="950.73" cy="142.01" r="5.4"/>
<circle cx="981.6" cy="148.3" r="5.4"/>
<circle cx="885.59" cy="132.15" r="5.4"/>
<circle cx="916.69" cy="138.77" r="5.4"/>
<circle cx="969.52" cy="143.87" r="5.4"/>
<circle cx="915.74" cy="140.9" r="5.4"/>
<circle cx="914.85" cy="135.98" r="5.4"/>
<circle cx="928.98" cy="136.18" r="5.4"/>
<circle cx="929.65" cy="141.21" r="5.4"/>
<circle cx="1022.67" cy="144.84" r="5.4"/>
<circle cx="948.65" cy="142.6" r="5.4"/>
<circle cx="949.93" cy="144.04" r="5.4"/>
<circle cx="932.1" cy="146.07" r="5.4"/>
<circle cx="989.94" cy="148.4" r="5.4"/>
<circle cx="920.75" cy="144.34" r="5.4"/>
<circle cx="1002.4" cy="146.7" r="5.4"/>
<circle cx="899.9" cy="141.52" r="5.4"/>
<circle cx="993.84" cy="141.47" r="5.4"/>
<circle cx="961.75" cy="149.21" r="5.4"/>
<circle cx="949.7" cy="150.37" r="5.4"/>
<circle cx="969.65" cy="143.76" r="5.4"/>
<circle cx="1049.24" cy="140.53" r="5.4"/>
<circle cx="934.21" cy="144.84" r="5.4"/>
<circle cx="1009.04" cy="152.6" r="5.4"/>
<circle cx="961.12" cy="144.55" r="5.4"/>
<circle cx="1002.34" cy="146.95" r="5.4"/>
<circle cx="934.09" cy="135.67" r="5.4"/>
<circle cx="943.23" cy="138.2" r="5.4"/>
<circle cx="975.77" cy="142.03" r="5.4"/>
<circle cx="922.65" cy="133.04" r="5.4"/>
<circle cx="900.85" cy="143.31" r="5.4"/>
<circle cx="1014.75" cy="147.84" r="5.4"/>
<circle cx="926.42" cy="142.2" r="5.4"/>
<circle cx="919.25" cy="139.12" r="5.4"/>
<circle cx="947.32" cy="134.43" r="5.4"/>
<circle cx="936.46" cy="142.35" r="5.4"/>
<circle cx="917.88" cy="146.29" r="5.4"/>
<circle cx="918.35" cy="143.19" r="5.4"/>
<circle cx="931.9" cy="150.11" r="5.4"/>
<circle cx="917.18" cy="137.4" r="5.4"/>
<circle cx="925.27" cy="150.09" r="5.4"/>
<circle cx="929.33" cy="131.62" r="5.4"/>
<circle cx="919.75" cy="138.49" r="5.4"/>
<circle cx="958.2" cy="145.36" r="5.4"/>
<circle cx="956.41" cy="154.08" r="5.4"/>
<circle cx="904.44" cy="132.49" r="5.4"/>
<circle cx="926.46" cy="132.27" r="5.4"/>
<circle cx="969.2" cy="139.39" r="5.4"/>
<circle cx="926.6" cy="142.39" r="5.4"/>
<circle cx="963.79" cy="140" r="5.4"/>
<circle cx="942.5" cy="141.42" r="5.4"/>
<circle cx="952.25" cy="135.63" r="5.4"/>
<circle cx="890.64" cy="135.73" r="5.4"/>
<circle cx="953.06" cy="150.78" r="5.4"/>
<circle cx="928.58" cy="131.26" r="5.4"/>
<circle cx="912.99" cy="140.74" r="5.4"/>
<circle cx="935.32" cy="147.91" r="5.4"/>
<circle cx="988.13" cy="132.21" r="5.4"/>
<circle cx="912.24" cy="144.56" r="5.4"/>
<circle cx="963.6" cy="139.59" r="5.4"/>
<circle cx="904.51" cy="142.13" r="5.4"/>
<circle cx="893.3" cy="136.09" r="5.4"/>
<circle cx="926.61" cy="144.34" r="5.4"/>
<circle cx="915.4" cy="149.08" r="5.4"/>
<circle cx="935.22" cy="150.03" r="5.4"/>
<circle cx="1003.43" cy="155.27" r="5.4"/>
<circle cx="941.26" cy="143.28" r="5.4"/>
<circle cx="1001.81" cy="149.8" r="5.4"/>
<circle cx="897.09" cy="136.41" r="5.4"/>
<circle cx="925.49" cy="139.6" r="5.4"/>
<circle cx="952.73" cy="136.45" r="5.4"/>
<circle cx="900.84" cy="143.82" r="5.4"/>
<circle cx="1050.28" cy="155.33" r="5.4"/>
<circle cx="1036.07" cy="138.65" r="5.4"/>
<circle cx="1005.37" cy="145.91" r="5.4"/>
<circle cx="956.8" cy="143.81" r="5.4"/>
<circle cx="984.02" cy="144.31" r="5.4"/>
<circle cx="955.09" cy="141.98" r="5.4"/>
<circle cx="904.38" cy="142.17" r="5.4"/>
<circle cx="994.92" cy="147.73" r="5.4"/>
<circle cx="956.45" cy="131.2" r="5.4"/>
<circle cx="900.57" cy="136.98" r="5.4"/>
<circle cx="908.29" cy="129.28" r="5.4"/>
<circle cx="983.54" cy="143.02" r="5.4"/>
<circle cx="1031.98" cy="138.76" r="5.4"/>
<circle cx="1029.86" cy="147.34" r="5.4"/>
<circle cx="1035.74" cy="146.33" r="5.4"/>
<circle cx="996.85" cy="132.45" r="5.4"/>
<circle cx="1017.92" cy="140.46" r="5.4"/>
<circle cx="966.78" cy="148.26" r="5.4"/>
<circle cx="1018.38" cy="156.78" r="5.4"/>
<circle cx="1046.38" cy="150.79" r="5.4"/>
<circle cx="970.48" cy="153.9" r="5.4"/>
<circle cx="912.02" cy="131.87" r="5.4"/>
<circle cx="993.93" cy="149.49" r="5.4"/>
<circle cx="1028.97" cy="149.71" r="5.4"/>
<circle cx="991.96" cy="150.07" r="5.4"/>
<circle cx="1004.99" cy="140.19" r="5.4"/>
<circle cx="994.21" cy="145.04" r="5.4"/>
<circle cx="896.35" cy="135.96" r="5.4"/>
<circle cx="908.03" cy="139.01" r="5.4"/>
<circle cx="1031.58" cy="140.88" r="5.4"/>
<circle cx="1047.85" cy="136.85" r="5.4"/>
<circle cx="1021.44" cy="148.55" r="5.4"/>
<circle cx="996.95" cy="150.22" r="5.4"/>
<circle cx="947.24" cy="148.39" r="5.4"/>
<circle cx="925.93" cy="138.9" r="5.4"/>
<circle cx="1044.86" cy="147.28" r="5.4"/>
<circle cx="1015.46" cy="154.52" r="5.4"/>
<circle cx="942.34" cy="147.9" r="5.4"/>
<circle cx="1029.38" cy="151.71" r="5.4"/>
<circle cx="969.21" cy="143.41" r="5.4"/>
<circle cx="974.78" cy="145.23" r="5.4"/>
<circle cx="955.75" cy="139.99" r="5.4"/>
<circle cx="1014.73" cy="137.74" r="5.4"/>
<circle cx="964.36" cy="140.92" r="5.4"/>
<circle cx="989.02" cy="144.15" r="5.4"/>
<circle cx="991.68" cy="143.54" r="5.4"/>
<circle cx="981.84" cy="149" r="5.4"/>
<circle cx="894.64" cy="132.63" r="5.4"/>
<circle cx="964.22" cy="146.77" r="5.4"/>
<circle cx="907.01" cy="142.25" r="5.4"/>
<circle cx="1041.99" cy="145.09" r="5.4"/>
<circle cx="983.14" cy="152.68" r="5.4"/>
<circle cx="948.96" cy="143.34" r="5.4"/>
<circle cx="1004.39" cy="142.33" r="5.4"/>
<circle cx="1037.85" cy="143.26" r="5.4"/>
<circle cx="989.7" cy="146.98" r="5.4"/>
<circle cx="933.2" cy="141.98" r="5.4"/>
<circle cx="967.13" cy="138.81" r="5.4"/>
<circle cx="929.52" cy="138.22" r="5.4"/>
<circle cx="897.87" cy="139.74" r="5.4"/>
<circle cx="917.62" cy="149.4" r="5.4"/>
<circle cx="930.55" cy="147.79" r="5.4"/>
<circle cx="978.36" cy="147.7" r="5.4"/>
<circle cx="916.81" cy="145.71" r="5.4"/>
<circle cx="929.51" cy="142.75" r="5.4"/>
<circle cx="911.19" cy="137.93" r="5.4"/>
<circle cx="899.56" cy="137.13" r="5.4"/>
<circle cx="1037.01" cy="141.87" r="5.4"/>
<circle cx="902.21" cy="137.03" r="5.4"/>
<circle cx="1005.97" cy="149.83" r="5.4"/>
<circle cx="1019.62" cy="134.33" r="5.4"/>
<circle cx="1019.83" cy="148.74" r="5.4"/>
<circle cx="910.22" cy="143.89" r="5.4"/>
<circle cx="920.48" cy="141.02" r="5.4"/>
<circle cx="896" cy="137.68" r="5.4"/>
<circle cx="1026.59" cy="142.19" r="5.4"/>
<circle cx="1030.27" cy="154.13" r="5.4"/>
<circle cx="1039.08" cy="137.26" r="5.4"/>
<circle cx="1038.24" cy="140.04" r="5.4"/>
<circle cx="1002.59" cy="136.38" r="5.4"/>
<circle cx="927.46" cy="138.85" r="5.4"/>
<circle cx="1039.57" cy="141.35" r="5.4"/>
<circle cx="936.69" cy="144.65" r="5.4"/>
<circle cx="1027.81" cy="143.92" r="5.4"/>
<circle cx="1003.04" cy="144.11" r="5.4"/>
<circle cx="995.92" cy="145.41" r="5.4"/>
<circle cx="1020.69" cy="142.65" r="5.4"/>
<circle cx="963.87" cy="138.94" r="5.4"/>
<circle cx="1015.08" cy="139.69" r="5.4"/>
<circle cx="1023.26" cy="157.74" r="5.4"/>
<circle cx="956.56" cy="143.52" r="5.4"/>
<circle cx="989.39" cy="146.47" r="5.4"/>
<circle cx="932.26" cy="136.52" r="5.4"/>
<circle cx="1015.01" cy="147.5" r="5.4"/>
<circle cx="948.17" cy="146.94" r="5.4"/>
<circle cx="972.29" cy="151.86" r="5.4"/>
<circle cx="950.32" cy="149.75" r="5.4"/>
<circle cx="1046.31" cy="150.5" r="5.4"/>
<circle cx="894.97" cy="133.83" r="5.4"/>
<circle cx="934.37" cy="142.04" r="5.4"/>
<circle cx="1010.49" cy="141.55" r="5.4"/>
<circle cx="998.41" cy="146.9" r="5.4"/>
<circle cx="997.5" cy="143.17" r="5.4"/>
<circle cx="951.56" cy="139.85" r="5.4"/>
<circle cx="947.95" cy="147.07" r="5.4"/>
<circle cx="905.92" cy="139.5" r="5.4"/>
<circle cx="984.09" cy="141.67" r="5.4"/>
<circle cx="920.15" cy="134.41" r="5.4"/>
<circle cx="931.59" cy="148.41" r="5.4"/>
<circle cx="912.33" cy="139.78" r="5.4"/>
<circle cx="918.82" cy="131.33" r="5.4"/>
<circle cx="966.87" cy="149.26" r="5.4"/>
<circle cx="910.93" cy="140.75" r="5.4"/>
<circle cx="1009.25" cy="150.15" r="5.4"/>
<circle cx="957.19" cy="144.13" r="5.4"/>
<circle cx="1024.26" cy="143.38" r="5.4"/>
<circle cx="1014.65" cy="139.75" r="5.4"/>
<circle cx="1032.02" cy="144.77" r="5.4"/>
<circle cx="1004.11" cy="149.8" r="5.4"/>
<circle cx="998" cy="143.28" r="5.4"/>
<circle cx="983.92" cy="138.74" r="5.4"/>
<circle cx="893.59" cy="141.24" r="5.4"/>
<circle cx="918.45" cy="145.15" r="5.4"/>
<circle cx="962.84" cy="144.21" r="5.4"/>
<circle cx="901.59" cy="133.34" r="5.4"/>
<circle cx="1011.56" cy="153.57" r="5.4"/>
<circle cx="908.79" cy="146.24" r="5.4"/>
<circle cx="942.33" cy="149.99" r="5.4"/>
<circle cx="913.25" cy="131.39" r="5.4"/>
<circle cx="1009.37" cy="142.32" r="5.4"/>
<circle cx="915.3" cy="137.61" r="5.4"/>
<circle cx="1024.68" cy="140.13" r="5.4"/>
<circle cx="917.25" cy="135.96" r="5.4"/>
<circle cx="970.45" cy="153.35" r="5.4"/>
<circle cx="932.06" cy="141.41" r="5.4"/>
<circle cx="1012.86" cy="150.06" r="5.4"/>
<circle cx="958.92" cy="139.03" r="5.4"/>
<circle cx="949.18" cy="145.03" r="5.4"/>
<circle cx="1016.97" cy="148.26" r="5.4"/>
<circle cx="1039.73" cy="148.22" r="5.4"/>
<circle cx="924.65" cy="142.53" r="5.4"/>
<circle cx="928.58" cy="139.92" r="5.4"/>
<circle cx="905.94" cy="138.76" r="5.4"/>
<circle cx="978.98" cy="147.72" r="5.4"/>
<circle cx="1040.25" cy="145.83" r="5.4"/>
<circle cx="965.73" cy="138.73" r="5.4"/>
<circle cx="941.33" cy="140.22" r="5.4"/>
<circle cx="933.8" cy="146.29" r="5.4"/>
<circle cx="906.27" cy="141.3" r="5.4"/>
<circle cx="1022.75" cy="139.64" r="5.4"/>
<circle cx="981.54" cy="144.32" r="5.4"/>
<circle cx="1022.18" cy="144.23" r="5.4"/>
<circle cx="941.54" cy="140.48" r="5.4"/>
<circle cx="1031.03" cy="147.56" r="5.4"/>
<circle cx="907.29" cy="136.18" r="5.4"/>
<circle cx="930.25" cy="144.79" r="5.4"/>
<circle cx="1005.66" cy="147.25" r="5.4"/>
<circle cx="935.12" cy="155.64" r="5.4"/>
<circle cx="898.79" cy="137.13" r="5.4"/>
<circle cx="1042.73" cy="143.65" r="5.4"/>
<circle cx="1040.87" cy="153.18" r="5.4"/>
<circle cx="1015.47" cy="149.64" r="5.4"/>
<circle cx="947.81" cy="145.28" r="5.4"/>
<circle cx="934.16" cy="131.24" r="5.4"/>
<circle cx="990.82" cy="142.8" r="5.4"/>
<circle cx="955.03" cy="141.4" r="5.4"/>
<circle cx="907.48" cy="147.7" r="5.4"/>
<circle cx="920.95" cy="145.26" r="5.4"/>
<circle cx="1003.09" cy="143.11" r="5.4"/>
<circle cx="937.41" cy="144.06" r="5.4"/>
<circle cx="985.57" cy="140.07" r="5.4"/>
<circle cx="958.97" cy="150.13" r="5.4"/>
<circle cx="969.26" cy="148.91" r="5.4"/>
<circle cx="990.27" cy="154.23" r="5.4"/>
<circle cx="949.46" cy="139.97" r="5.4"/>
<circle cx="991.64" cy="141.7" r="5.4"/>
<circle cx="1017.18" cy="144.67" r="5.4"/>
<circle cx="948.11" cy="135.59" r="5.4"/>
<circle cx="899.67" cy="133.12" r="5.4"/>
<circle cx="967.91" cy="145.88" r="5.4"/>
<circle cx="901.66" cy="140.06" r="5.4"/>
<circle cx="966.5" cy="144.75" r="5.4"/>
<circle cx="1010.94" cy="141.64" r="5.4"/>
<circle cx="931.43" cy="131.28" r="5.4"/>
<circle cx="962.37" cy="150.66" r="5.4"/>
<circle cx="946.72" cy="145.43" r="5.4"/>
<circle cx="909.63" cy="139.05" r="5.4"/>
<circle cx="913.86" cy="137.91" r="5.4"/>
<circle cx="1036.19" cy="151.23" r="5.4"/>
<circle cx="961.15" cy="150.32" r="5.4"/>
<circle cx="898.94" cy="135.75" r="5.4"/>
<circle cx="976.69" cy="144.77" r="5.4"/>
<circle cx="973" cy="158.07" r="5.4"/>
<circle cx="968.77" cy="143.61" r="5.4"/>
<circle cx="909.89" cy="136.02" r="5.4"/>
<circle cx="1047.58" cy="146.37" r="5.4"/>
<circle cx="1002.75" cy="143.86" r="5.4"/>
<circle cx="921.09" cy="135.88" r="5.4"/>
<circle cx="991.77" cy="144.3" r="5.4"/>
<circle cx="934.65" cy="139.57" r="5.4"/>
<circle cx="954.29" cy="139.24" r="5.4"/>
<circle cx="935.1" cy="132.67" r="5.4"/>
<circle cx="920.74" cy="142.29" r="5.4"/>
<circle cx="969.87" cy="139.26" r="5.4"/>
<circle cx="965.56" cy="147.74" r="5.4"/>
<circle cx="1039.46" cy="141.14" r="5.4"/>
<circle cx="1001.08" cy="141.9" r="5.4"/>
<circle cx="1011.12" cy="149.44" r="5.4"/>
<circle cx="923.98" cy="139.02" r="5.4"/>
<circle cx="952.86" cy="149.93" r="5.4"/>
<circle cx="1024.31" cy="139.11" r="5.4"/>
<circle cx="948.23" cy="142.76" r="5.4"/>
<circle cx="986.29" cy="147.21" r="5.4"/>
<circle cx="944.7" cy="138.13" r="5.4"/>
<circle cx="981.79" cy="134.52" r="5.4"/>
<circle cx="934.44" cy="143.76" r="5.4"/>
<circle cx="1012.92" cy="149.35" r="5.4"/>
<circle cx="899.5" cy="137.71" r="5.4"/>
<circle cx="916.47" cy="137.81" r="5.4"/>
<circle cx="995.08" cy="152.71" r="5.4"/>
<circle cx="967.87" cy="143.67" r="5.4"/>
<circle cx="926.16" cy="139.52" r="5.4"/>
<circle cx="925.7" cy="142.03" r="5.4"/>
<circle cx="985.69" cy="151.73" r="5.4"/>
<circle cx="1003.64" cy="145.29" r="5.4"/>
<circle cx="1037.25" cy="146.96" r="5.4"/>
<circle cx="954.34" cy="142.91" r="5.4"/>
<circle cx="959.5" cy="151.3" r="5.4"/>
<circle cx="900.87" cy="136.88" r="5.4"/>
<circle cx="1005.6" cy="158.32" r="5.4"/>
<circle cx="1043.85" cy="140.37" r="5.4"/>
<circle cx="1000.37" cy="143.26" r="5.4"/>
<circle cx="907.4" cy="137.56" r="5.4"/>
<circle cx="912.58" cy="141.36" r="5.4"/>
<circle cx="1033.39" cy="151.18" r="5.4"/>
<circle cx="1024.2" cy="143.36" r="5.4"/>
<circle cx="898.23" cy="140.64" r="5.4"/>
<circle cx="937.66" cy="149.35" r="5.4"/>
<circle cx="897.95" cy="142.94" r="5.4"/>
<circle cx="956.39" cy="141.76" r="5.4"/>
<circle cx="893.29" cy="133.09" r="5.4"/>
<circle cx="993.4" cy="145.49" r="5.4"/>
<circle cx="952.17" cy="145.99" r="5.4"/>
<circle cx="941.25" cy="136.23" r="5.4"/>
<circle cx="977.36" cy="147.62" r="5.4"/>
<circle cx="994.57" cy="152.34" r="5.4"/>
<circle cx="916.73" cy="137.07" r="5.4"/>
<circle cx="1000.2" cy="144.46" r="5.4"/>
<circle cx="1029.45" cy="143.03" r="5.4"/>
<circle cx="966.82" cy="147.82" r="5.4"/>
<circle cx="940.29" cy="151.55" r="5.4"/>
<circle cx="925.5" cy="140.77" r="5.4"/>
<circle cx="916.93" cy="138.72" r="5.4"/>
<circle cx="929.48" cy="132.78" r="5.4"/>
<circle cx="917.94" cy="141.56" r="5.4"/>
<circle cx="1002.43" cy="142.26" r="5.4"/>
<circle cx="1040.17" cy="144.64" r="5.4"/>
<circle cx="1002.53" cy="144.65" r="5.4"/>
<circle cx="1015.83" cy="150.65" r="5.4"/>
<circle cx="1031.89" cy="136.81" r="5.4"/>
<circle cx="898.38" cy="138.69" r="5.4"/>
<circle cx="1010.16" cy="136.4" r="5.4"/>
<circle cx="909.86" cy="145.61" r="5.4"/>
<circle cx="1042.72" cy="149.82" r="5.4"/>
<circle cx="950.89" cy="153.17" r="5.4"/>
<circle cx="949.56" cy="148.68" r="5.4"/>
<circle cx="972.94" cy="150.04" r="5.4"/>
<circle cx="937.98" cy="141.46" r="5.4"/>
<circle cx="1015.95" cy="145.77" r="5.4"/>
<circle cx="1022.96" cy="144.6" r="5.4"/>
<circle cx="962.59" cy="131.32" r="5.4"/>
<circle cx="1013.48" cy="154.73" r="5.4"/>
<circle cx="979.01" cy="145.02" r="5.4"/>
<circle cx="1028.42" cy="145.09" r="5.4"/>
<circle cx="933.28" cy="135.38" r="5.4"/>
<circle cx="1013.43" cy="144.21" r="5.4"/>
<circle cx="906.48" cy="144.08" r="5.4"/>
<circle cx="962.71" cy="135.29" r="5.4"/>
<circle cx="955.37" cy="141.94" r="5.4"/>
<circle cx="962.78" cy="145.28" r="5.4"/>
<circle cx="913.95" cy="148.45" r="5.4"/>
<circle cx="909.52" cy="135.02" r="5.4"/>
<circle cx="990.65" cy="140.9" r="5.4"/>
<circle cx="1026.79" cy="138.04" r="5.4"/>
<circle cx="1026.79" cy="149.39" r="5.4"/>
<circle cx="912.76" cy="132.85" r="5.4"/>
<circle cx="907.4" cy="140.91" r="5.4"/>
<circle cx="918.96" cy="135.13" r="5.4"/>
<circle cx="970.93" cy="143.74" r="5.4"/>
<circle cx="980.82" cy="155.89" r="5.4"/>
<circle cx="917.01" cy="140" r="5.4"/>
<circle cx="991.19" cy="139.13" r="5.4"/>
<circle cx="944.99" cy="152.21" r="5.4"/>
<circle cx="1015.17" cy="142.09" r="5.4"/>
<circle cx="975.02" cy="144.09" r="5.4"/>
<circle cx="974.43" cy="138.62" r="5.4"/>
<circle cx="961.47" cy="154.15" r="5.4"/>
<circle cx="945.1" cy="137.33" r="5.4"/>
<circle cx="947.89" cy="145.34" r="5.4"/>
<circle cx="934.05" cy="145.77" r="5.4"/>
<circle cx="985.53" cy="152.99" r="5.4"/>
<circle cx="1051.87" cy="145.14" r="5.4"/>
<circle cx="1049.18" cy="147.38" r="5.4"/>
<circle cx="1064.25" cy="148.74" r="5.4"/>
<circle cx="1058.55" cy="134.4" r="5.4"/>
<circle cx="1064.15" cy="141.44" r="5.4"/>
<circle cx="1059.76" cy="146.74" r="5.4"/>
<circle cx="1063.07" cy="145.25" r="5.4"/>
<circle cx="1061.02" cy="148.87" r="5.4"/>
<circle cx="1060.14" cy="141.04" r="5.4"/>
<circle cx="1061.46" cy="147.42" r="5.4"/>
<circle cx="1056.26" cy="138.1" r="5.4"/>
<circle cx="1053.05" cy="155.03" r="5.4"/>
<circle cx="1053.46" cy="142.56" r="5.4"/>
<circle cx="1053.26" cy="142.5" r="5.4"/>
<circle cx="1062.61" cy="141.88" r="5.4"/>
<circle cx="1067.03" cy="151.47" r="5.4"/>
<circle cx="1049.87" cy="143.26" r="5.4"/>
<circle cx="1061.8" cy="149.33" r="5.4"/>
<circle cx="1053" cy="145.58" r="5.4"/>
<circle cx="1048.31" cy="141.99" r="5.4"/>
<circle cx="1060.9" cy="141.72" r="5.4"/>
<circle cx="1049.89" cy="138.6" r="5.4"/>
<circle cx="1054.25" cy="144.62" r="5.4"/>
<circle cx="1052.62" cy="134.63" r="5.4"/>
<circle cx="1053.64" cy="141.62" r="5.4"/>
<circle cx="1052.64" cy="145.92" r="5.4"/>
<circle cx="1065.81" cy="143.81" r="5.4"/>
<circle cx="1060.64" cy="141.71" r="5.4"/>
<circle cx="1057.08" cy="145.07" r="5.4"/>
<circle cx="1052.73" cy="145.82" r="5.4"/>
<circle cx="1096.62" cy="142.55" r="5.4"/>
<circle cx="1085.54" cy="134.5" r="5.4"/>
<circle cx="1113.65" cy="139.17" r="5.4"/>
<circle cx="1129.15" cy="132.34" r="5.4"/>
<circle cx="1151" cy="136.46" r="5.4"/>
<circle cx="1073.54" cy="140.17" r="5.4"/>
<circle cx="1101.43" cy="134.43" r="5.4"/>
<circle cx="1109.88" cy="129.46" r="5.4"/>
<circle cx="1085.49" cy="134.57" r="5.4"/>
<circle cx="1091.57" cy="127.88" r="5.4"/>
<circle cx="1133.24" cy="138.29" r="5.4"/>
<circle cx="1068.86" cy="139.47" r="5.4"/>
<circle cx="1130.49" cy="133.11" r="5.4"/>
<circle cx="1084.61" cy="134.12" r="5.4"/>
<circle cx="1133.61" cy="141.55" r="5.4"/>
<circle cx="1150.62" cy="131.91" r="5.4"/>
<circle cx="1086.89" cy="141.04" r="5.4"/>
<circle cx="1138.07" cy="139.85" r="5.4"/>
<circle cx="1120.95" cy="150.29" r="5.4"/>
<circle cx="1139.14" cy="135.23" r="5.4"/>
<circle cx="1091.72" cy="126.85" r="5.4"/>
<circle cx="1143.13" cy="139.91" r="5.4"/>
<circle cx="1118.46" cy="129.4" r="5.4"/>
<circle cx="1116.55" cy="143.31" r="5.4"/>
<circle cx="1104.3" cy="141.9" r="5.4"/>
<circle cx="1112.79" cy="134.49" r="5.4"/>
<circle cx="1111.32" cy="140.41" r="5.4"/>
<circle cx="1098.8" cy="128.21" r="5.4"/>
<circle cx="1099.07" cy="133.72" r="5.4"/>
<circle cx="1093.9" cy="145.67" r="5.4"/>
<circle cx="1105.53" cy="145.08" r="5.4"/>
<circle cx="1103.8" cy="128.14" r="5.4"/>
<circle cx="1125.76" cy="138.87" r="5.4"/>
<circle cx="1119.82" cy="138.67" r="5.4"/>
<circle cx="1074.91" cy="142.73" r="5.4"/>
<circle cx="1118.26" cy="130.45" r="5.4"/>
<circle cx="1099.57" cy="143.5" r="5.4"/>
<circle cx="1096.25" cy="137.44" r="5.4"/>
<circle cx="1155.16" cy="140.48" r="5.4"/>
<circle cx="1137.86" cy="133.53" r="5.4"/>
<circle cx="1141.72" cy="136.76" r="5.4"/>
<circle cx="1104.51" cy="144.23" r="5.4"/>
<circle cx="1121.75" cy="148.73" r="5.4"/>
<circle cx="1129.67" cy="132.62" r="5.4"/>
<circle cx="1122.96" cy="132.63" r="5.4"/>
<circle cx="1113.11" cy="136.15" r="5.4"/>
<circle cx="1167.06" cy="142.19" r="5.4"/>
<circle cx="1112.08" cy="137.44" r="5.4"/>
<circle cx="1076.47" cy="134.67" r="5.4"/>
<circle cx="1105.87" cy="143.19" r="5.4"/>
<circle cx="1101.41" cy="134.34" r="5.4"/>
<circle cx="1164.65" cy="133.85" r="5.4"/>
<circle cx="1092.86" cy="130.36" r="5.4"/>
<circle cx="1090.22" cy="145.57" r="5.4"/>
<circle cx="1088.22" cy="136.6" r="5.4"/>
<circle cx="1105.55" cy="148.99" r="5.4"/>
<circle cx="1109.24" cy="139.66" r="5.4"/>
<circle cx="1099.79" cy="126.6" r="5.4"/>
<circle cx="1137.72" cy="132.77" r="5.4"/>
<circle cx="1118.42" cy="139.31" r="5.4"/>
<circle cx="1091.7" cy="142.22" r="5.4"/>
<circle cx="1079.59" cy="130.13" r="5.4"/>
<circle cx="1080.79" cy="145.11" r="5.4"/>
<circle cx="1112.36" cy="138.52" r="5.4"/>
<circle cx="1127.97" cy="137.22" r="5.4"/>
<circle cx="1118.96" cy="149.57" r="5.4"/>
<circle cx="1102.39" cy="144.15" r="5.4"/>
<circle cx="1078.97" cy="141" r="5.4"/>
<circle cx="1116.36" cy="140.1" r="5.4"/>
<circle cx="1119.05" cy="138.83" r="5.4"/>
<circle cx="1124.75" cy="128.59" r="5.4"/>
<circle cx="1070.8" cy="138.78" r="5.4"/>
<circle cx="1097.95" cy="138.1" r="5.4"/>
<circle cx="1113.95" cy="145.6" r="5.4"/>
<circle cx="1141.12" cy="141.44" r="5.4"/>
<circle cx="1116.59" cy="143.4" r="5.4"/>
<circle cx="1082.34" cy="149.19" r="5.4"/>
<circle cx="1071.07" cy="133.84" r="5.4"/>
<circle cx="1107.76" cy="145.25" r="5.4"/>
<circle cx="1109.92" cy="146.81" r="5.4"/>
<circle cx="1129.61" cy="146.21" r="5.4"/>
<circle cx="1128.69" cy="149.31" r="5.4"/>
<circle cx="1080.9" cy="149.02" r="5.4"/>
<circle cx="1124.32" cy="136.65" r="5.4"/>
<circle cx="1150.43" cy="140.88" r="5.4"/>
<circle cx="1142.41" cy="136.39" r="5.4"/>
<circle cx="1125.26" cy="137.56" r="5.4"/>
<circle cx="1085.04" cy="131.7" r="5.4"/>
<circle cx="1119.23" cy="130.61" r="5.4"/>
<circle cx="1083.63" cy="143.09" r="5.4"/>
<circle cx="1149.94" cy="136.8" r="5.4"/>
<circle cx="1129.58" cy="133.33" r="5.4"/>
<circle cx="1084.74" cy="136.82" r="5.4"/>
<circle cx="1076.32" cy="137.11" r="5.4"/>
<circle cx="1108.8" cy="144.6" r="5.4"/>
<circle cx="1109.58" cy="151.92" r="5.4"/>
<circle cx="1101.41" cy="140.82" r="5.4"/>
<circle cx="1090.95" cy="149.44" r="5.4"/>
<circle cx="1103.24" cy="141.1" r="5.4"/>
<circle cx="1158.08" cy="133.91" r="5.4"/>
<circle cx="1104.27" cy="136.53" r="5.4"/>
<circle cx="1093.52" cy="142.39" r="5.4"/>
<circle cx="1095.19" cy="148.99" r="5.4"/>
<circle cx="1074.26" cy="140.1" r="5.4"/>
<circle cx="1121.57" cy="147.14" r="5.4"/>
<circle cx="1111.9" cy="133.99" r="5.4"/>
<circle cx="1101.98" cy="141.84" r="5.4"/>
<circle cx="1106.05" cy="128.6" r="5.4"/>
<circle cx="1088.32" cy="143.24" r="5.4"/>
<circle cx="1131.44" cy="142.7" r="5.4"/>
<circle cx="1098.83" cy="135.34" r="5.4"/>
<circle cx="1124.15" cy="143.84" r="5.4"/>
<circle cx="1072.04" cy="141.46" r="5.4"/>
<circle cx="1119.36" cy="136.23" r="5.4"/>
<circle cx="1109.07" cy="130.33" r="5.4"/>
<circle cx="1099.75" cy="146.62" r="5.4"/>
<circle cx="1097.9" cy="133.36" r="5.4"/>
<circle cx="1089.45" cy="131.79" r="5.4"/>
<circle cx="1125.39" cy="141.64" r="5.4"/>
<circle cx="1101.08" cy="129.4" r="5.4"/>
<circle cx="1075.24" cy="148.47" r="5.4"/>
<circle cx="1104.94" cy="131.99" r="5.4"/>
<circle cx="1135.52" cy="140.27" r="5.4"/>
<circle cx="1123.11" cy="138.16" r="5.4"/>
<circle cx="1087.78" cy="144.44" r="5.4"/>
<circle cx="1072.19" cy="144.65" r="5.4"/>
<circle cx="1072.18" cy="144.35" r="5.4"/>
<circle cx="1150.71" cy="137.05" r="5.4"/>
<circle cx="1079.09" cy="140.39" r="5.4"/>
<circle cx="1109.66" cy="146.69" r="5.4"/>
<circle cx="1145.52" cy="137.23" r="5.4"/>
<circle cx="1165.89" cy="138.03" r="5.4"/>
<circle cx="1126.46" cy="138.09" r="5.4"/>
<circle cx="1105.38" cy="129.42" r="5.4"/>
<circle cx="1114.12" cy="141.15" r="5.4"/>
<circle cx="1140.16" cy="137.36" r="5.4"/>
<circle cx="1104.87" cy="127.85" r="5.4"/>
<circle cx="1120.15" cy="142.46" r="5.4"/>
<circle cx="1131.62" cy="138.97" r="5.4"/>
<circle cx="1112.04" cy="136.58" r="5.4"/>
<circle cx="1123.5" cy="134.92" r="5.4"/>
<circle cx="1080.34" cy="138.01" r="5.4"/>
<circle cx="1093.64" cy="138.12" r="5.4"/>
<circle cx="1092.69" cy="145.32" r="5.4"/>
<circle cx="1073.5" cy="135.44" r="5.4"/>
<circle cx="1134.34" cy="143.55" r="5.4"/>
<circle cx="1134.68" cy="133.64" r="5.4"/>
<circle cx="1123.04" cy="132.75" r="5.4"/>
<circle cx="1123.86" cy="143.86" r="5.4"/>
<circle cx="1113.18" cy="128.44" r="5.4"/>
<circle cx="1077.69" cy="130.34" r="5.4"/>
<circle cx="1124.05" cy="144.36" r="5.4"/>
<circle cx="1133.82" cy="144.72" r="5.4"/>
<circle cx="1127.42" cy="144.5" r="5.4"/>
<circle cx="1098.06" cy="149.79" r="5.4"/>
<circle cx="1104.35" cy="136.99" r="5.4"/>
<circle cx="1131.24" cy="139.61" r="5.4"/>
<circle cx="1089.85" cy="136.58" r="5.4"/>
<circle cx="1103.93" cy="131.24" r="5.4"/>
<circle cx="1147.87" cy="134.94" r="5.4"/>
<circle cx="1167.52" cy="139.96" r="5.4"/>
<circle cx="1103.83" cy="129.44" r="5.4"/>
<circle cx="1163.56" cy="136.25" r="5.4"/>
<circle cx="1133.8" cy="126.15" r="5.4"/>
<circle cx="1091.36" cy="147.47" r="5.4"/>
<circle cx="1102.62" cy="152.82" r="5.4"/>
<circle cx="1096.01" cy="131.82" r="5.4"/>
<circle cx="1118.92" cy="127.09" r="5.4"/>
<circle cx="1120.17" cy="136.47" r="5.4"/>
<circle cx="1126.95" cy="139.39" r="5.4"/>
<circle cx="1084.49" cy="141.58" r="5.4"/>
<circle cx="1131.17" cy="143.64" r="5.4"/>
<circle cx="1134.85" cy="140.91" r="5.4"/>
<circle cx="1111.76" cy="142.64" r="5.4"/>
<circle cx="1134.07" cy="139.16" r="5.4"/>
<circle cx="1076.96" cy="148.51" r="5.4"/>
<circle cx="1120.15" cy="150.87" r="5.4"/>
<circle cx="1069.49" cy="142.45" r="5.4"/>
<circle cx="1119.63" cy="129.12" r="5.4"/>
<circle cx="1085.36" cy="140.46" r="5.4"/>
<circle cx="1099.9" cy="144.52" r="5.4"/>
<circle cx="1086.88" cy="139.83" r="5.4"/>
<circle cx="1085.81" cy="144.84" r="5.4"/>
<circle cx="1073.99" cy="139.86" r="5.4"/>
<circle cx="1096.27" cy="140.74" r="5.4"/>
<circle cx="1115.54" cy="140.44" r="5.4"/>
<circle cx="1127.74" cy="143.24" r="5.4"/>
<circle cx="1146.44" cy="145.15" r="5.4"/>
<circle cx="1089.29" cy="151.09" r="5.4"/>
<circle cx="1158.51" cy="138.82" r="5.4"/>
<circle cx="1087.09" cy="142.06" r="5.4"/>
<circle cx="1125.41" cy="144.13" r="5.4"/>
<circle cx="1093.1" cy="128.56" r="5.4"/>
<circle cx="1094.6" cy="144.1" r="5.4"/>
<circle cx="1142.2" cy="138.32" r="5.4"/>
<circle cx="1068.77" cy="133.38" r="5.4"/>
<circle cx="1072.1" cy="136.22" r="5.4"/>
<circle cx="1086.16" cy="132.99" r="5.4"/>
<circle cx="1110.02" cy="152.65" r="5.4"/>
<circle cx="1118.3" cy="141.86" r="5.4"/>
<circle cx="1100.12" cy="146.88" r="5.4"/>
<circle cx="1139.26" cy="132.65" r="5.4"/>
<circle cx="1096.55" cy="137.78" r="5.4"/>
<circle cx="1077.11" cy="137.81" r="5.4"/>
<circle cx="1075.24" cy="141.14" r="5.4"/>
<circle cx="1095.72" cy="134.33" r="5.4"/>
<circle cx="1108.16" cy="150.47" r="5.4"/>
<circle cx="1084.44" cy="135.62" r="5.4"/>
<circle cx="1106.5" cy="135.54" r="5.4"/>
<circle cx="1140.8" cy="142.93" r="5.4"/>
<circle cx="1104.87" cy="137.95" r="5.4"/>
<circle cx="1074.55" cy="139.38" r="5.4"/>
<circle cx="1102.67" cy="133.25" r="5.4"/>
<circle cx="1123.31" cy="134.44" r="5.4"/>
<circle cx="1107.05" cy="140.62" r="5.4"/>
<circle cx="1119.57" cy="133.7" r="5.4"/>
<circle cx="1108.33" cy="125.14" r="5.4"/>
<circle cx="1093.74" cy="126.06" r="5.4"/>
<circle cx="1146.76" cy="140.43" r="5.4"/>
<circle cx="1126.68" cy="127.71" r="5.4"/>
<circle cx="1092.48" cy="146.31" r="5.4"/>
<circle cx="1083.38" cy="144.73" r="5.4"/>
<circle cx="1084.31" cy="140.31" r="5.4"/>
<circle cx="1126.98" cy="140.62" r="5.4"/>
<circle cx="1137.75" cy="134.86" r="5.4"/>
<circle cx="1140.26" cy="133.35" r="5.4"/>
<circle cx="1103.14" cy="142.89" r="5.4"/>
<circle cx="1085.94" cy="136.93" r="5.4"/>
<circle cx="1099.32" cy="138.41" r="5.4"/>
<circle cx="1093.22" cy="142.14" r="5.4"/>
<circle cx="1069.39" cy="138.69" r="5.4"/>
<circle cx="1133.53" cy="138.17" r="5.4"/>
<circle cx="1102.75" cy="149.32" r="5.4"/>
<circle cx="1104.81" cy="144.39" r="5.4"/>
<circle cx="1138.47" cy="138.64" r="5.4"/>
<circle cx="1097.93" cy="130.5" r="5.4"/>
<circle cx="1135.73" cy="140.91" r="5.4"/>
<circle cx="1111.68" cy="136.55" r="5.4"/>
<circle cx="1077.39" cy="137.54" r="5.4"/>
<circle cx="1100.39" cy="132.64" r="5.4"/>
<circle cx="866.2" cy="129.8" r="5.4"/>
<circle cx="871.8" cy="135.1" r="5.4"/>
<circle cx="972.4" cy="170.5" r="5.4"/>
<circle cx="987.9" cy="175" r="5.4"/>
<circle cx="989" cy="170.2" r="5.4"/>
<circle cx="999.6" cy="176.2" r="5.4"/>
<circle cx="1024.4" cy="109.5" r="5.4"/>
<circle cx="1016.4" cy="169.6" r="5.4"/>
<circle cx="1033.3" cy="164.9" r="5.4"/>
<circle cx="1008.9" cy="163.1" r="5.4"/>
<circle cx="1080.7" cy="124.4" r="5.4"/>
<circle cx="1092.9" cy="111.9" r="5.4"/>
<circle cx="1101.2" cy="110.7" r="5.4"/>
<circle cx="1106.5" cy="111" r="5.4"/>
<circle cx="1130.4" cy="109.5" r="5.4"/>
<circle cx="1141.7" cy="115.2" r="5.4"/>
<circle cx="1117.3" cy="117.9" r="5.4"/>
<circle cx="1134.5" cy="123.8" r="5.4"/>
<circle cx="1157" cy="119.6" r="5.4"/>
<circle cx="1108.3" cy="159.5" r="5.4"/>
<circle cx="1128" cy="151.8" r="5.4"/>
<circle cx="1104.5" cy="190.5" r="5.4"/>
<circle cx="1127.4" cy="186.3" r="5.4"/>
<circle cx="1091" cy="159" r="5.4"/>
<circle cx="1059" cy="158.3" r="5.4"/>
<circle cx="1049.4" cy="159" r="5.4"/>
<circle cx="1160" cy="119.6" r="5.4"/>
<circle cx="1162.4" cy="128.6" r="5.4"/>
<circle cx="1166" cy="132.7" r="5.4"/>
<circle cx="1166.5" cy="142.3" r="5.4"/>
<circle cx="1164.2" cy="150.6" r="5.4"/>
<circle cx="1173.5" cy="155.4" r="5.4"/>
<circle cx="1206.4" cy="127.1" r="5.4"/>
<circle cx="1204.6" cy="137.5" r="5.4"/>
<circle cx="1200.5" cy="140.7" r="5.4"/>
<circle cx="1218.3" cy="130.4" r="5.4"/>
<circle cx="1219.5" cy="195.8" r="5.4"/>
<circle cx="1294.5" cy="111" r="5.4"/>
<circle cx="1293.3" cy="117.9" r="5.4"/>
<circle cx="1295" cy="116.7" r="5.4"/>
<circle cx="893" cy="128.5" r="5.4"/>
<circle cx="913" cy="126" r="5.4"/>
<circle cx="962.5" cy="127" r="5.4"/>
<circle cx="906.5" cy="154" r="5.4"/>
<circle cx="1011.7" cy="131" r="5.4"/>
<circle cx="1061.3" cy="134" r="5.4"/>
</g>
<path d="M1186.56 133.2 L1188.71 132.99 L1190.86 132.79 L1193.01 132.58 L1195.16 132.36 L1197.31 132.15 L1199.46 131.93 L1201.6 131.71 L1203.75 131.48 L1205.9 131.26 L1208.05 131.03 L1210.2 130.79 L1212.35 130.56 L1214.5 130.32 L1216.65 130.07 L1218.79 129.82 L1220.94 129.56 L1223.09 129.3 L1225.24 129.03 L1227.39 128.76 L1229.54 128.49 L1231.69 128.21 L1233.84 127.93 L1235.98 127.65 L1238.13 127.36 L1240.28 127.07 L1242.43 126.78 L1244.58 126.5 L1246.73 126.21 L1248.88 125.92 L1251.03 125.62 L1253.17 125.33 L1255.32 125.04 L1257.47 124.75 L1259.62 124.45 L1261.77 124.16 L1263.92 123.86 L1266.07 123.56 L1268.22 123.26 L1270.36 122.96 L1272.51 122.66 L1274.66 122.36 L1276.81 122.05 L1278.96 121.75 L1281.11 121.45 L1283.26 121.14 L1285.41 120.84 L1287.55 120.53 L1289.7 120.22 L1291.85 119.91 L1294 119.6 L1294 128 L1291.85 128.05 L1289.7 128.1 L1287.55 128.15 L1285.41 128.2 L1283.26 128.26 L1281.11 128.31 L1278.96 128.37 L1276.81 128.44 L1274.66 128.5 L1272.51 128.57 L1270.36 128.64 L1268.22 128.71 L1266.07 128.79 L1263.92 128.87 L1261.77 128.95 L1259.62 129.03 L1257.47 129.12 L1255.32 129.21 L1253.17 129.3 L1251.03 129.39 L1248.88 129.49 L1246.73 129.59 L1244.58 129.69 L1242.43 129.8 L1240.28 129.91 L1238.13 130.02 L1235.98 130.14 L1233.84 130.25 L1231.69 130.37 L1229.54 130.49 L1227.39 130.62 L1225.24 130.74 L1223.09 130.86 L1220.94 130.98 L1218.79 131.11 L1216.65 131.23 L1214.5 131.35 L1212.35 131.48 L1210.2 131.6 L1208.05 131.73 L1205.9 131.86 L1203.75 131.99 L1201.6 132.12 L1199.46 132.26 L1197.31 132.4 L1195.16 132.55 L1193.01 132.7 L1190.86 132.86 L1188.71 133.03 L1186.56 133.21 Z" fill="#000" fill-opacity="0.10"/>
<path d="M866.4 133.9 L868.55 134.1 L870.7 134.3 L872.85 134.49 L874.99 134.69 L877.14 134.89 L879.29 135.09 L881.44 135.28 L883.59 135.48 L885.74 135.66 L887.89 135.85 L890.04 136.04 L892.18 136.22 L894.33 136.4 L896.48 136.58 L898.63 136.76 L900.78 136.94 L902.93 137.13 L905.08 137.31 L907.23 137.49 L909.37 137.67 L911.52 137.85 L913.67 138.03 L915.82 138.22 L917.97 138.4 L920.12 138.58 L922.27 138.76 L924.42 138.94 L926.56 139.12 L928.71 139.29 L930.86 139.47 L933.01 139.65 L935.16 139.82 L937.31 140 L939.46 140.18 L941.61 140.36 L943.75 140.53 L945.9 140.71 L948.05 140.88 L950.2 141.05 L952.35 141.22 L954.5 141.39 L956.65 141.55 L958.8 141.71 L960.94 141.87 L963.09 142.03 L965.24 142.19 L967.39 142.34 L969.54 142.5 L971.69 142.65 L973.84 142.8 L975.99 142.95 L978.13 143.09 L980.28 143.22 L982.43 143.35 L984.58 143.48 L986.73 143.59 L988.88 143.71 L991.03 143.83 L993.18 143.94 L995.32 144.04 L997.47 144.14 L999.62 144.23 L1001.77 144.31 L1003.92 144.38 L1006.07 144.44 L1008.22 144.5 L1010.37 144.56 L1012.51 144.62 L1014.66 144.67 L1016.81 144.71 L1018.96 144.75 L1021.11 144.78 L1023.26 144.8 L1025.41 144.8 L1027.56 144.79 L1029.7 144.77 L1031.85 144.74 L1034 144.7 L1036.15 144.65 L1038.3 144.59 L1040.45 144.53 L1042.6 144.47 L1044.75 144.41 L1046.89 144.34 L1049.04 144.25 L1051.19 144.14 L1053.34 144.03 L1055.49 143.9 L1057.64 143.76 L1059.79 143.61 L1061.94 143.46 L1064.08 143.31 L1066.23 143.16 L1068.38 143.01 L1070.53 142.86 L1072.68 142.72 L1074.83 142.56 L1076.98 142.4 L1079.13 142.24 L1081.27 142.08 L1083.42 141.91 L1085.57 141.74 L1087.72 141.57 L1089.87 141.4 L1092.02 141.23 L1094.17 141.06 L1096.32 140.89 L1098.46 140.72 L1100.61 140.55 L1102.76 140.39 L1104.91 140.23 L1107.06 140.07 L1109.21 139.91 L1111.36 139.75 L1113.51 139.59 L1115.65 139.42 L1117.8 139.26 L1119.95 139.1 L1122.1 138.93 L1124.25 138.76 L1126.4 138.59 L1128.55 138.42 L1130.7 138.24 L1132.84 138.06 L1134.99 137.88 L1137.14 137.69 L1139.29 137.5 L1141.44 137.3 L1143.59 137.11 L1145.74 136.91 L1147.89 136.71 L1150.03 136.51 L1152.18 136.31 L1154.33 136.12 L1156.48 135.92 L1158.63 135.72 L1160.78 135.53 L1162.93 135.34 L1165.08 135.14 L1167.22 134.95 L1169.37 134.75 L1171.52 134.56 L1173.67 134.36 L1175.82 134.17 L1177.97 133.97 L1180.12 133.78 L1182.27 133.58 L1184.41 133.39 L1186.56 133.2 L1188.71 133.01 L1190.86 132.83 L1193.01 132.64 L1195.16 132.46 L1197.31 132.27 L1199.46 132.09 L1201.6 131.92 L1203.75 131.74 L1205.9 131.56 L1208.05 131.38 L1210.2 131.2 L1212.35 131.02 L1214.5 130.83 L1216.65 130.65 L1218.79 130.46 L1220.94 130.27 L1223.09 130.08 L1225.24 129.89 L1227.39 129.69 L1229.54 129.49 L1231.69 129.29 L1233.84 129.09 L1235.98 128.89 L1238.13 128.69 L1240.28 128.49 L1242.43 128.29 L1244.58 128.09 L1246.73 127.9 L1248.88 127.7 L1251.03 127.51 L1253.17 127.32 L1255.32 127.12 L1257.47 126.93 L1259.62 126.74 L1261.77 126.55 L1263.92 126.36 L1266.07 126.18 L1268.22 125.99 L1270.36 125.8 L1272.51 125.61 L1274.66 125.43 L1276.81 125.24 L1278.96 125.06 L1281.11 124.88 L1283.26 124.7 L1285.41 124.52 L1287.55 124.34 L1289.7 124.16 L1291.85 123.98 L1294 123.8" fill="none" stroke="#3aaf85" stroke-width="3.6"/>
<line x1="844.6" y1="141.9" x2="1316" y2="141.9" stroke="#000" stroke-width="1.9" stroke-dasharray="8 8"/>
</g>
<text x="832.8" y="126" font-size="27" fill="#7f7f7f" text-anchor="end">5000</text>
<text x="832.8" y="152.2" font-size="27" fill="#7f7f7f" text-anchor="end">0</text>
<text x="832.8" y="178.4" font-size="27" fill="#7f7f7f" text-anchor="end">-5000</text>
<text x="832.8" y="204.6" font-size="27" fill="#7f7f7f" text-anchor="end">-10000</text>
<text x="972.65" y="232.8" font-size="27" fill="#7f7f7f" text-anchor="middle">10000</text>
<text x="1166.4" y="232.8" font-size="27" fill="#7f7f7f" text-anchor="middle">20000</text>
<text x="1080.4" y="272.6" font-size="29" fill="#474747" text-anchor="middle">Fitted values</text>
<text x="730.6" y="152.6" font-size="29" fill="#474747" text-anchor="middle" transform="rotate(-90 730.6 152.6)">Residuals</text>
<text x="708.6" y="51.6" font-size="31.5" fill="#000" text-anchor="start">Linearity</text>
<text x="708.6" y="86.8" font-size="27.2" fill="#000" text-anchor="start">Reference line should be flat and horizontal</text>
</g>
<g>
<g shape-rendering="crispEdges" stroke="#e8e8e8" stroke-width="2">
<path d="M241 428 V523"/>
<path d="M435 428 V523"/>
<path d="M628 428 V523"/>
<path d="M338 428 V523"/>
<path d="M532 428 V523"/>
<path d="M210 503 H681"/>
<path d="M210 472 H681"/>
<path d="M210 441 H681"/>
<path d="M210 519 H681"/>
<path d="M210 488 H681"/>
<path d="M210 456 H681"/>
</g>
<g shape-rendering="crispEdges" stroke="#c6c6c6" stroke-width="2"><path d="M210 428 V524"/><path d="M209 523 H681"/></g>
<g clip-path="url(#c3)">
<g fill="#1b6ca8" fill-opacity="0.8">
<circle cx="327.23" cy="501.55" r="5.4"/>
<circle cx="294.06" cy="505.75" r="5.4"/>
<circle cx="296.92" cy="506.83" r="5.4"/>
<circle cx="276.31" cy="497.34" r="5.4"/>
<circle cx="285.37" cy="494.79" r="5.4"/>
<circle cx="269.53" cy="495.18" r="5.4"/>
<circle cx="298.69" cy="496.85" r="5.4"/>
<circle cx="260.69" cy="490.31" r="5.4"/>
<circle cx="282.09" cy="487.95" r="5.4"/>
<circle cx="263.25" cy="486.76" r="5.4"/>
<circle cx="338.02" cy="497.26" r="5.4"/>
<circle cx="277.29" cy="481.95" r="5.4"/>
<circle cx="290.87" cy="502.17" r="5.4"/>
<circle cx="358.84" cy="505.12" r="5.4"/>
<circle cx="341.8" cy="489.14" r="5.4"/>
<circle cx="306.99" cy="496.44" r="5.4"/>
<circle cx="302.53" cy="501.25" r="5.4"/>
<circle cx="346.45" cy="489.87" r="5.4"/>
<circle cx="284.14" cy="495.76" r="5.4"/>
<circle cx="306.59" cy="491.26" r="5.4"/>
<circle cx="302.73" cy="495.74" r="5.4"/>
<circle cx="315.49" cy="488.76" r="5.4"/>
<circle cx="381.66" cy="494.95" r="5.4"/>
<circle cx="294.96" cy="493.28" r="5.4"/>
<circle cx="289.02" cy="498.95" r="5.4"/>
<circle cx="318.83" cy="508.91" r="5.4"/>
<circle cx="378.61" cy="491.68" r="5.4"/>
<circle cx="293.87" cy="478.72" r="5.4"/>
<circle cx="302.74" cy="508.2" r="5.4"/>
<circle cx="267.04" cy="501.5" r="5.4"/>
<circle cx="282.4" cy="496.96" r="5.4"/>
<circle cx="302.48" cy="493.56" r="5.4"/>
<circle cx="290.42" cy="481.17" r="5.4"/>
<circle cx="357.31" cy="487.54" r="5.4"/>
<circle cx="333.85" cy="475.25" r="5.4"/>
<circle cx="307.38" cy="473.6" r="5.4"/>
<circle cx="371.48" cy="480.31" r="5.4"/>
<circle cx="303.83" cy="500.35" r="5.4"/>
<circle cx="396.8" cy="483.3" r="5.4"/>
<circle cx="419.61" cy="490.66" r="5.4"/>
<circle cx="290.72" cy="492.22" r="5.4"/>
<circle cx="351.18" cy="489.46" r="5.4"/>
<circle cx="298.8" cy="478.5" r="5.4"/>
<circle cx="322.54" cy="509.25" r="5.4"/>
<circle cx="343.7" cy="498.57" r="5.4"/>
<circle cx="345.51" cy="503.66" r="5.4"/>
<circle cx="281.79" cy="514.05" r="5.4"/>
<circle cx="298.3" cy="486.76" r="5.4"/>
<circle cx="368.28" cy="491.98" r="5.4"/>
<circle cx="288.23" cy="493.58" r="5.4"/>
<circle cx="285.31" cy="499.35" r="5.4"/>
<circle cx="346.17" cy="507.38" r="5.4"/>
<circle cx="290.1" cy="489.1" r="5.4"/>
<circle cx="288.87" cy="500.85" r="5.4"/>
<circle cx="346.41" cy="501.95" r="5.4"/>
<circle cx="314.27" cy="489.87" r="5.4"/>
<circle cx="259.34" cy="487.43" r="5.4"/>
<circle cx="337.22" cy="499.03" r="5.4"/>
<circle cx="277.97" cy="492.28" r="5.4"/>
<circle cx="308.79" cy="494.31" r="5.4"/>
<circle cx="288.71" cy="496.12" r="5.4"/>
<circle cx="252.57" cy="507.3" r="5.4"/>
<circle cx="270.09" cy="494.15" r="5.4"/>
<circle cx="263.79" cy="479.5" r="5.4"/>
<circle cx="306.14" cy="491.89" r="5.4"/>
<circle cx="292.48" cy="501.91" r="5.4"/>
<circle cx="264.88" cy="497.69" r="5.4"/>
<circle cx="292.74" cy="494.51" r="5.4"/>
<circle cx="253.37" cy="497.46" r="5.4"/>
<circle cx="291.33" cy="481.68" r="5.4"/>
<circle cx="280.51" cy="484.04" r="5.4"/>
<circle cx="404.72" cy="496.75" r="5.4"/>
<circle cx="341.65" cy="499.23" r="5.4"/>
<circle cx="412.69" cy="500.17" r="5.4"/>
<circle cx="391.22" cy="497.79" r="5.4"/>
<circle cx="261.74" cy="492.63" r="5.4"/>
<circle cx="351.46" cy="486.55" r="5.4"/>
<circle cx="276.83" cy="482.78" r="5.4"/>
<circle cx="267.24" cy="503.52" r="5.4"/>
<circle cx="272.44" cy="510.88" r="5.4"/>
<circle cx="324.68" cy="488.75" r="5.4"/>
<circle cx="305.41" cy="482.39" r="5.4"/>
<circle cx="283.69" cy="490.72" r="5.4"/>
<circle cx="332.81" cy="471.97" r="5.4"/>
<circle cx="316.08" cy="488.36" r="5.4"/>
<circle cx="322.52" cy="489.26" r="5.4"/>
<circle cx="287.95" cy="478.89" r="5.4"/>
<circle cx="331.16" cy="497.37" r="5.4"/>
<circle cx="330.18" cy="474.19" r="5.4"/>
<circle cx="281.92" cy="505.05" r="5.4"/>
<circle cx="328.59" cy="510.03" r="5.4"/>
<circle cx="311.18" cy="488.66" r="5.4"/>
<circle cx="373.75" cy="479.41" r="5.4"/>
<circle cx="278.86" cy="488.38" r="5.4"/>
<circle cx="301.07" cy="510.66" r="5.4"/>
<circle cx="297.96" cy="495.9" r="5.4"/>
<circle cx="329.03" cy="472.86" r="5.4"/>
<circle cx="291.15" cy="480.92" r="5.4"/>
<circle cx="317.9" cy="494" r="5.4"/>
<circle cx="368.66" cy="485.99" r="5.4"/>
<circle cx="274.12" cy="488.84" r="5.4"/>
<circle cx="353.27" cy="483.11" r="5.4"/>
<circle cx="353.46" cy="494.9" r="5.4"/>
<circle cx="336.54" cy="489.5" r="5.4"/>
<circle cx="284.78" cy="490.05" r="5.4"/>
<circle cx="354.84" cy="502.89" r="5.4"/>
<circle cx="316.15" cy="496.12" r="5.4"/>
<circle cx="273.29" cy="492.6" r="5.4"/>
<circle cx="266.53" cy="492.68" r="5.4"/>
<circle cx="293.41" cy="483.25" r="5.4"/>
<circle cx="290.25" cy="482.26" r="5.4"/>
<circle cx="284.39" cy="509.19" r="5.4"/>
<circle cx="272.07" cy="501.06" r="5.4"/>
<circle cx="297.65" cy="480.13" r="5.4"/>
<circle cx="381.68" cy="500.57" r="5.4"/>
<circle cx="292.73" cy="494.96" r="5.4"/>
<circle cx="299.19" cy="492.71" r="5.4"/>
<circle cx="348.02" cy="508.62" r="5.4"/>
<circle cx="331.91" cy="472.02" r="5.4"/>
<circle cx="301.42" cy="500.77" r="5.4"/>
<circle cx="348.78" cy="489.94" r="5.4"/>
<circle cx="306.13" cy="486.89" r="5.4"/>
<circle cx="301.67" cy="494.81" r="5.4"/>
<circle cx="263.61" cy="497.6" r="5.4"/>
<circle cx="267.63" cy="510.98" r="5.4"/>
<circle cx="292.48" cy="491" r="5.4"/>
<circle cx="308.31" cy="491.63" r="5.4"/>
<circle cx="294.69" cy="501.26" r="5.4"/>
<circle cx="284.89" cy="496.78" r="5.4"/>
<circle cx="296.79" cy="506.57" r="5.4"/>
<circle cx="282.28" cy="496.6" r="5.4"/>
<circle cx="326.12" cy="472.39" r="5.4"/>
<circle cx="340.89" cy="480.03" r="5.4"/>
<circle cx="352.81" cy="475.1" r="5.4"/>
<circle cx="300.16" cy="501.97" r="5.4"/>
<circle cx="382.97" cy="490.69" r="5.4"/>
<circle cx="350.4" cy="507.39" r="5.4"/>
<circle cx="295.62" cy="507.8" r="5.4"/>
<circle cx="286.98" cy="481.82" r="5.4"/>
<circle cx="332.68" cy="481.92" r="5.4"/>
<circle cx="303.97" cy="502.3" r="5.4"/>
<circle cx="320.19" cy="511.82" r="5.4"/>
<circle cx="267.21" cy="516.71" r="5.4"/>
<circle cx="286.04" cy="495.79" r="5.4"/>
<circle cx="337.14" cy="480.21" r="5.4"/>
<circle cx="290.77" cy="491.83" r="5.4"/>
<circle cx="308.92" cy="484.57" r="5.4"/>
<circle cx="255.74" cy="486.75" r="5.4"/>
<circle cx="263.43" cy="507.63" r="5.4"/>
<circle cx="371.26" cy="500.54" r="5.4"/>
<circle cx="249.51" cy="494.18" r="5.4"/>
<circle cx="364.13" cy="488.04" r="5.4"/>
<circle cx="267.71" cy="487.93" r="5.4"/>
<circle cx="274.19" cy="493.33" r="5.4"/>
<circle cx="352.54" cy="502.97" r="5.4"/>
<circle cx="299.78" cy="477.02" r="5.4"/>
<circle cx="322.5" cy="509.16" r="5.4"/>
<circle cx="288.08" cy="484.86" r="5.4"/>
<circle cx="338.47" cy="490.52" r="5.4"/>
<circle cx="330.56" cy="482.12" r="5.4"/>
<circle cx="383.41" cy="503.56" r="5.4"/>
<circle cx="260.11" cy="502.02" r="5.4"/>
<circle cx="265.67" cy="506.31" r="5.4"/>
<circle cx="333.57" cy="487.88" r="5.4"/>
<circle cx="365.31" cy="513.6" r="5.4"/>
<circle cx="346.91" cy="474.31" r="5.4"/>
<circle cx="298" cy="500.76" r="5.4"/>
<circle cx="277.21" cy="496.64" r="5.4"/>
<circle cx="286.45" cy="494.07" r="5.4"/>
<circle cx="299.34" cy="505.88" r="5.4"/>
<circle cx="321.02" cy="492.17" r="5.4"/>
<circle cx="279.84" cy="503.32" r="5.4"/>
<circle cx="282.66" cy="495.05" r="5.4"/>
<circle cx="284.35" cy="498.57" r="5.4"/>
<circle cx="287.31" cy="495.46" r="5.4"/>
<circle cx="422.53" cy="501.81" r="5.4"/>
<circle cx="304.96" cy="511.22" r="5.4"/>
<circle cx="309" cy="491.85" r="5.4"/>
<circle cx="376.24" cy="501.44" r="5.4"/>
<circle cx="270.73" cy="492.79" r="5.4"/>
<circle cx="297.35" cy="485.57" r="5.4"/>
<circle cx="305.31" cy="493.99" r="5.4"/>
<circle cx="299.49" cy="490.24" r="5.4"/>
<circle cx="373.24" cy="488.7" r="5.4"/>
<circle cx="275.66" cy="491.81" r="5.4"/>
<circle cx="353.57" cy="503.92" r="5.4"/>
<circle cx="283.67" cy="493.34" r="5.4"/>
<circle cx="329.15" cy="476.26" r="5.4"/>
<circle cx="301.95" cy="489.87" r="5.4"/>
<circle cx="285.77" cy="496.43" r="5.4"/>
<circle cx="326.36" cy="488.1" r="5.4"/>
<circle cx="292.08" cy="499.02" r="5.4"/>
<circle cx="300.19" cy="503.55" r="5.4"/>
<circle cx="286.69" cy="503.81" r="5.4"/>
<circle cx="323.73" cy="511.61" r="5.4"/>
<circle cx="404.66" cy="485.74" r="5.4"/>
<circle cx="268.51" cy="488.58" r="5.4"/>
<circle cx="272.51" cy="494.94" r="5.4"/>
<circle cx="406.84" cy="492.49" r="5.4"/>
<circle cx="309.62" cy="473.72" r="5.4"/>
<circle cx="378.22" cy="498.09" r="5.4"/>
<circle cx="414" cy="489.66" r="5.4"/>
<circle cx="316.27" cy="501.51" r="5.4"/>
<circle cx="323.96" cy="491.56" r="5.4"/>
<circle cx="297.89" cy="503.79" r="5.4"/>
<circle cx="402.9" cy="505.02" r="5.4"/>
<circle cx="259.67" cy="493.15" r="5.4"/>
<circle cx="382.32" cy="509.11" r="5.4"/>
<circle cx="318.45" cy="502.23" r="5.4"/>
<circle cx="415.83" cy="498.48" r="5.4"/>
<circle cx="285.95" cy="499.13" r="5.4"/>
<circle cx="276.63" cy="511.61" r="5.4"/>
<circle cx="337.35" cy="504.44" r="5.4"/>
<circle cx="332.1" cy="505.08" r="5.4"/>
<circle cx="289.14" cy="505.98" r="5.4"/>
<circle cx="285.81" cy="510.35" r="5.4"/>
<circle cx="268.62" cy="499.8" r="5.4"/>
<circle cx="286.39" cy="494.93" r="5.4"/>
<circle cx="270.5" cy="503.87" r="5.4"/>
<circle cx="342.8" cy="487.54" r="5.4"/>
<circle cx="278.86" cy="506.77" r="5.4"/>
<circle cx="313.7" cy="490.36" r="5.4"/>
<circle cx="269.3" cy="488.12" r="5.4"/>
<circle cx="264.53" cy="499.54" r="5.4"/>
<circle cx="298.92" cy="502.68" r="5.4"/>
<circle cx="282.58" cy="500.28" r="5.4"/>
<circle cx="306.06" cy="498.09" r="5.4"/>
<circle cx="353.8" cy="478.15" r="5.4"/>
<circle cx="383.38" cy="497.7" r="5.4"/>
<circle cx="335.81" cy="488.51" r="5.4"/>
<circle cx="272.33" cy="507.77" r="5.4"/>
<circle cx="282.86" cy="486.88" r="5.4"/>
<circle cx="297.36" cy="501.88" r="5.4"/>
<circle cx="275.69" cy="505.03" r="5.4"/>
<circle cx="293.71" cy="476.22" r="5.4"/>
<circle cx="302.57" cy="494.16" r="5.4"/>
<circle cx="378.96" cy="517.53" r="5.4"/>
<circle cx="342.07" cy="493.07" r="5.4"/>
<circle cx="340.97" cy="476.89" r="5.4"/>
<circle cx="279.12" cy="513.89" r="5.4"/>
<circle cx="300.99" cy="492.23" r="5.4"/>
<circle cx="315.71" cy="504.65" r="5.4"/>
<circle cx="339.9" cy="485.79" r="5.4"/>
<circle cx="409.51" cy="509.34" r="5.4"/>
<circle cx="295.67" cy="502.83" r="5.4"/>
<circle cx="296.94" cy="504.97" r="5.4"/>
<circle cx="269.19" cy="482.6" r="5.4"/>
<circle cx="268.63" cy="495.05" r="5.4"/>
<circle cx="295.48" cy="494.78" r="5.4"/>
<circle cx="345.64" cy="499.43" r="5.4"/>
<circle cx="273.4" cy="502.92" r="5.4"/>
<circle cx="323.78" cy="499.68" r="5.4"/>
<circle cx="355.04" cy="505.21" r="5.4"/>
<circle cx="269.81" cy="511.21" r="5.4"/>
<circle cx="380.37" cy="508.16" r="5.4"/>
<circle cx="334.39" cy="492.28" r="5.4"/>
<circle cx="269.47" cy="485.98" r="5.4"/>
<circle cx="299.95" cy="500.29" r="5.4"/>
<circle cx="315.92" cy="498.24" r="5.4"/>
<circle cx="331.39" cy="476.65" r="5.4"/>
<circle cx="328.15" cy="502.5" r="5.4"/>
<circle cx="308.23" cy="507.4" r="5.4"/>
<circle cx="275.78" cy="515.34" r="5.4"/>
<circle cx="293.56" cy="500.28" r="5.4"/>
<circle cx="311.61" cy="510.49" r="5.4"/>
<circle cx="255.48" cy="488.99" r="5.4"/>
<circle cx="375.29" cy="485.27" r="5.4"/>
<circle cx="297.39" cy="489.96" r="5.4"/>
<circle cx="342.71" cy="507.25" r="5.4"/>
<circle cx="336.05" cy="513" r="5.4"/>
<circle cx="345.29" cy="515.38" r="5.4"/>
<circle cx="348.9" cy="487.76" r="5.4"/>
<circle cx="304.62" cy="506.97" r="5.4"/>
<circle cx="314.18" cy="492.36" r="5.4"/>
<circle cx="376.88" cy="476.36" r="5.4"/>
<circle cx="310.74" cy="493.35" r="5.4"/>
<circle cx="367.81" cy="505.63" r="5.4"/>
<circle cx="327.68" cy="473.61" r="5.4"/>
<circle cx="283.39" cy="478.61" r="5.4"/>
<circle cx="354.18" cy="502.14" r="5.4"/>
<circle cx="291.79" cy="497.41" r="5.4"/>
<circle cx="273.18" cy="500.2" r="5.4"/>
<circle cx="331.59" cy="504.49" r="5.4"/>
<circle cx="338.82" cy="495.94" r="5.4"/>
<circle cx="303.42" cy="482.59" r="5.4"/>
<circle cx="285.41" cy="493.89" r="5.4"/>
<circle cx="305.55" cy="488.01" r="5.4"/>
<circle cx="372.24" cy="492.05" r="5.4"/>
<circle cx="406.06" cy="491.66" r="5.4"/>
<circle cx="405.37" cy="481.62" r="5.4"/>
<circle cx="385.77" cy="492.89" r="5.4"/>
<circle cx="292.41" cy="489.94" r="5.4"/>
<circle cx="262.45" cy="492.63" r="5.4"/>
<circle cx="312.11" cy="493.75" r="5.4"/>
<circle cx="408.74" cy="509.76" r="5.4"/>
<circle cx="271.42" cy="504.17" r="5.4"/>
<circle cx="257.37" cy="503.86" r="5.4"/>
<circle cx="323.34" cy="496.35" r="5.4"/>
<circle cx="307.39" cy="476.58" r="5.4"/>
<circle cx="262.44" cy="496.43" r="5.4"/>
<circle cx="374.18" cy="506.1" r="5.4"/>
<circle cx="283.35" cy="478.98" r="5.4"/>
<circle cx="309.86" cy="505.02" r="5.4"/>
<circle cx="278.82" cy="492.34" r="5.4"/>
<circle cx="303.53" cy="507.39" r="5.4"/>
<circle cx="279.99" cy="494.63" r="5.4"/>
<circle cx="322.25" cy="493.13" r="5.4"/>
<circle cx="253.12" cy="490.62" r="5.4"/>
<circle cx="319.47" cy="494.34" r="5.4"/>
<circle cx="300.86" cy="485.91" r="5.4"/>
<circle cx="334.52" cy="490.63" r="5.4"/>
<circle cx="361.41" cy="485.78" r="5.4"/>
<circle cx="322.02" cy="482.27" r="5.4"/>
<circle cx="280.32" cy="485.93" r="5.4"/>
<circle cx="259.57" cy="491.21" r="5.4"/>
<circle cx="289.39" cy="502.95" r="5.4"/>
<circle cx="289.28" cy="503.62" r="5.4"/>
<circle cx="306.53" cy="488.51" r="5.4"/>
<circle cx="287" cy="503.55" r="5.4"/>
<circle cx="275.91" cy="499.52" r="5.4"/>
<circle cx="289.25" cy="497.99" r="5.4"/>
<circle cx="302.85" cy="516.9" r="5.4"/>
<circle cx="255.25" cy="513.48" r="5.4"/>
<circle cx="273.47" cy="491.19" r="5.4"/>
<circle cx="305.07" cy="492.19" r="5.4"/>
<circle cx="303.2" cy="488.03" r="5.4"/>
<circle cx="262.55" cy="496.38" r="5.4"/>
<circle cx="313.82" cy="499.95" r="5.4"/>
<circle cx="316.49" cy="502.56" r="5.4"/>
<circle cx="322.08" cy="513.06" r="5.4"/>
<circle cx="312.88" cy="491.59" r="5.4"/>
<circle cx="364.98" cy="494.74" r="5.4"/>
<circle cx="394.75" cy="476.61" r="5.4"/>
<circle cx="288.56" cy="508.87" r="5.4"/>
<circle cx="359.32" cy="500.09" r="5.4"/>
<circle cx="372.48" cy="507.07" r="5.4"/>
<circle cx="277.12" cy="487.23" r="5.4"/>
<circle cx="315.97" cy="501.65" r="5.4"/>
<circle cx="344.67" cy="488.06" r="5.4"/>
<circle cx="274.26" cy="481.96" r="5.4"/>
<circle cx="332.03" cy="506.18" r="5.4"/>
<circle cx="313.98" cy="500.09" r="5.4"/>
<circle cx="322.92" cy="503.87" r="5.4"/>
<circle cx="329.44" cy="502.04" r="5.4"/>
<circle cx="314.54" cy="488.38" r="5.4"/>
<circle cx="311.05" cy="508.66" r="5.4"/>
<circle cx="362.47" cy="490.08" r="5.4"/>
<circle cx="321.51" cy="493.04" r="5.4"/>
<circle cx="259.89" cy="485.6" r="5.4"/>
<circle cx="291.12" cy="492.27" r="5.4"/>
<circle cx="296.91" cy="511.25" r="5.4"/>
<circle cx="310" cy="502.61" r="5.4"/>
<circle cx="362.23" cy="487.39" r="5.4"/>
<circle cx="389.62" cy="483.15" r="5.4"/>
<circle cx="322.92" cy="494.68" r="5.4"/>
<circle cx="332.73" cy="484.29" r="5.4"/>
<circle cx="365.87" cy="489.29" r="5.4"/>
<circle cx="293.18" cy="514.04" r="5.4"/>
<circle cx="292.87" cy="486.11" r="5.4"/>
<circle cx="307.83" cy="504.43" r="5.4"/>
<circle cx="326.61" cy="490.95" r="5.4"/>
<circle cx="268.16" cy="506.26" r="5.4"/>
<circle cx="419.76" cy="491.71" r="5.4"/>
<circle cx="388.3" cy="493.51" r="5.4"/>
<circle cx="359.9" cy="510.11" r="5.4"/>
<circle cx="327.42" cy="491.91" r="5.4"/>
<circle cx="278.35" cy="499.04" r="5.4"/>
<circle cx="283.59" cy="513.06" r="5.4"/>
<circle cx="277.43" cy="494.35" r="5.4"/>
<circle cx="283.72" cy="491.91" r="5.4"/>
<circle cx="328.21" cy="500.6" r="5.4"/>
<circle cx="332.11" cy="482.12" r="5.4"/>
<circle cx="356.41" cy="490.03" r="5.4"/>
<circle cx="355.51" cy="490.91" r="5.4"/>
<circle cx="363.53" cy="492.46" r="5.4"/>
<circle cx="250.68" cy="496.98" r="5.4"/>
<circle cx="300.57" cy="483.08" r="5.4"/>
<circle cx="275.85" cy="505.73" r="5.4"/>
<circle cx="326.64" cy="495.02" r="5.4"/>
<circle cx="285" cy="485.82" r="5.4"/>
<circle cx="308.67" cy="485.09" r="5.4"/>
<circle cx="336.78" cy="484.8" r="5.4"/>
<circle cx="305.73" cy="487.26" r="5.4"/>
<circle cx="323.73" cy="485.35" r="5.4"/>
<circle cx="290.29" cy="488.52" r="5.4"/>
<circle cx="382.25" cy="484.36" r="5.4"/>
<circle cx="325.36" cy="498.08" r="5.4"/>
<circle cx="344.73" cy="504.51" r="5.4"/>
<circle cx="310.7" cy="497.89" r="5.4"/>
<circle cx="316.26" cy="493.92" r="5.4"/>
<circle cx="306.97" cy="487.56" r="5.4"/>
<circle cx="314.57" cy="505.74" r="5.4"/>
<circle cx="278.32" cy="504.3" r="5.4"/>
<circle cx="272.27" cy="487.84" r="5.4"/>
<circle cx="291.03" cy="491.56" r="5.4"/>
<circle cx="279.79" cy="498.41" r="5.4"/>
<circle cx="308.33" cy="483.89" r="5.4"/>
<circle cx="326.9" cy="513.28" r="5.4"/>
<circle cx="282.88" cy="494.42" r="5.4"/>
<circle cx="285.26" cy="497.05" r="5.4"/>
<circle cx="252.03" cy="507.26" r="5.4"/>
<circle cx="261.89" cy="487.34" r="5.4"/>
<circle cx="316.06" cy="506.86" r="5.4"/>
<circle cx="287.15" cy="489.35" r="5.4"/>
<circle cx="376.16" cy="485.52" r="5.4"/>
<circle cx="370.28" cy="475.41" r="5.4"/>
<circle cx="285.92" cy="493.04" r="5.4"/>
<circle cx="280.31" cy="512.28" r="5.4"/>
<circle cx="307.6" cy="498.73" r="5.4"/>
<circle cx="315.43" cy="515.46" r="5.4"/>
<circle cx="285.85" cy="489.85" r="5.4"/>
<circle cx="336.26" cy="488.04" r="5.4"/>
<circle cx="322.29" cy="484.78" r="5.4"/>
<circle cx="282.36" cy="483.31" r="5.4"/>
<circle cx="332.25" cy="507.06" r="5.4"/>
<circle cx="317.56" cy="512.4" r="5.4"/>
<circle cx="275.96" cy="488.82" r="5.4"/>
<circle cx="310.93" cy="484.27" r="5.4"/>
<circle cx="276.62" cy="506.13" r="5.4"/>
<circle cx="295.76" cy="490.47" r="5.4"/>
<circle cx="314.77" cy="478.15" r="5.4"/>
<circle cx="288.02" cy="508.43" r="5.4"/>
<circle cx="284.81" cy="503.41" r="5.4"/>
<circle cx="390.45" cy="503.97" r="5.4"/>
<circle cx="285.33" cy="485.53" r="5.4"/>
<circle cx="303.48" cy="505.87" r="5.4"/>
<circle cx="359.86" cy="482.23" r="5.4"/>
<circle cx="283.26" cy="477.43" r="5.4"/>
<circle cx="346.33" cy="484.37" r="5.4"/>
<circle cx="345.28" cy="498" r="5.4"/>
<circle cx="279.92" cy="486.29" r="5.4"/>
<circle cx="331.92" cy="492.19" r="5.4"/>
<circle cx="318.48" cy="496.65" r="5.4"/>
<circle cx="301.28" cy="502.32" r="5.4"/>
<circle cx="295.01" cy="478.23" r="5.4"/>
<circle cx="420.44" cy="490.61" r="5.4"/>
<circle cx="281.58" cy="483.6" r="5.4"/>
<circle cx="327.11" cy="488.55" r="5.4"/>
<circle cx="272.97" cy="510.71" r="5.4"/>
<circle cx="382.03" cy="498.74" r="5.4"/>
<circle cx="266.01" cy="509.8" r="5.4"/>
<circle cx="346.13" cy="501.23" r="5.4"/>
<circle cx="277.55" cy="506.27" r="5.4"/>
<circle cx="335.51" cy="492.34" r="5.4"/>
<circle cx="272.94" cy="491.08" r="5.4"/>
<circle cx="307.47" cy="497.29" r="5.4"/>
<circle cx="413.68" cy="490.18" r="5.4"/>
<circle cx="303.88" cy="501.88" r="5.4"/>
<circle cx="272.16" cy="496.84" r="5.4"/>
<circle cx="366.29" cy="493.08" r="5.4"/>
<circle cx="266.96" cy="483.86" r="5.4"/>
<circle cx="336.93" cy="511.78" r="5.4"/>
<circle cx="367.19" cy="480.96" r="5.4"/>
<circle cx="299.74" cy="474.99" r="5.4"/>
<circle cx="305.14" cy="495.66" r="5.4"/>
<circle cx="278.7" cy="499.93" r="5.4"/>
<circle cx="305.16" cy="482.4" r="5.4"/>
<circle cx="409.67" cy="478.62" r="5.4"/>
<circle cx="307.91" cy="485.72" r="5.4"/>
<circle cx="297.12" cy="503.18" r="5.4"/>
<circle cx="351.02" cy="496.86" r="5.4"/>
<circle cx="278.02" cy="488.62" r="5.4"/>
<circle cx="314.85" cy="503.97" r="5.4"/>
<circle cx="377.4" cy="494.08" r="5.4"/>
<circle cx="356.04" cy="488.59" r="5.4"/>
<circle cx="284.45" cy="483.15" r="5.4"/>
<circle cx="338.09" cy="502.16" r="5.4"/>
<circle cx="358.51" cy="496.77" r="5.4"/>
<circle cx="325.08" cy="503.25" r="5.4"/>
<circle cx="296.32" cy="501.81" r="5.4"/>
<circle cx="328.58" cy="491.87" r="5.4"/>
<circle cx="319.99" cy="511.24" r="5.4"/>
<circle cx="291.97" cy="506.26" r="5.4"/>
<circle cx="274.52" cy="497.56" r="5.4"/>
<circle cx="273.75" cy="504.95" r="5.4"/>
<circle cx="301.33" cy="495.68" r="5.4"/>
<circle cx="285.18" cy="488.59" r="5.4"/>
<circle cx="335.58" cy="503.48" r="5.4"/>
<circle cx="274.99" cy="486.35" r="5.4"/>
<circle cx="310.86" cy="499.76" r="5.4"/>
<circle cx="343.03" cy="494.52" r="5.4"/>
<circle cx="369.47" cy="484.49" r="5.4"/>
<circle cx="314.28" cy="502.52" r="5.4"/>
<circle cx="304.94" cy="504.02" r="5.4"/>
<circle cx="274.04" cy="495.21" r="5.4"/>
<circle cx="263.84" cy="503.91" r="5.4"/>
<circle cx="299.48" cy="495.71" r="5.4"/>
<circle cx="281.52" cy="495.82" r="5.4"/>
<circle cx="294.28" cy="511.38" r="5.4"/>
<circle cx="334.22" cy="492.04" r="5.4"/>
<circle cx="317.61" cy="472.94" r="5.4"/>
<circle cx="266.03" cy="514.52" r="5.4"/>
<circle cx="314.08" cy="482.39" r="5.4"/>
<circle cx="367.16" cy="483.77" r="5.4"/>
<circle cx="275.87" cy="496.85" r="5.4"/>
<circle cx="367.52" cy="501.53" r="5.4"/>
<circle cx="318.11" cy="502.49" r="5.4"/>
<circle cx="298.3" cy="514.12" r="5.4"/>
<circle cx="258.13" cy="488.53" r="5.4"/>
<circle cx="324.41" cy="503.9" r="5.4"/>
<circle cx="368.85" cy="497.7" r="5.4"/>
<circle cx="335.2" cy="487.07" r="5.4"/>
<circle cx="288.19" cy="497.2" r="5.4"/>
<circle cx="324.3" cy="489.04" r="5.4"/>
<circle cx="303.3" cy="513.13" r="5.4"/>
<circle cx="298.03" cy="489.65" r="5.4"/>
<circle cx="345.14" cy="496.74" r="5.4"/>
<circle cx="320.06" cy="501.02" r="5.4"/>
<circle cx="305.42" cy="487.74" r="5.4"/>
<circle cx="316.22" cy="486.6" r="5.4"/>
<circle cx="380.58" cy="499.93" r="5.4"/>
<circle cx="322.24" cy="473.99" r="5.4"/>
<circle cx="371.86" cy="500.17" r="5.4"/>
<circle cx="315.22" cy="482.31" r="5.4"/>
<circle cx="391.47" cy="478.3" r="5.4"/>
<circle cx="310.79" cy="490.97" r="5.4"/>
<circle cx="339.46" cy="497.71" r="5.4"/>
<circle cx="320.09" cy="510.31" r="5.4"/>
<circle cx="272.36" cy="501.39" r="5.4"/>
<circle cx="295.06" cy="487.99" r="5.4"/>
<circle cx="345.28" cy="489.62" r="5.4"/>
<circle cx="304.59" cy="477.89" r="5.4"/>
<circle cx="321.09" cy="494.2" r="5.4"/>
<circle cx="311.64" cy="486.03" r="5.4"/>
<circle cx="342.22" cy="497.11" r="5.4"/>
<circle cx="305.95" cy="490.1" r="5.4"/>
<circle cx="383.72" cy="499.2" r="5.4"/>
<circle cx="255.98" cy="501.2" r="5.4"/>
<circle cx="351.92" cy="505.85" r="5.4"/>
<circle cx="255.27" cy="494.63" r="5.4"/>
<circle cx="311.54" cy="513.42" r="5.4"/>
<circle cx="271" cy="496.31" r="5.4"/>
<circle cx="337.14" cy="508.49" r="5.4"/>
<circle cx="347.34" cy="481.58" r="5.4"/>
<circle cx="252.68" cy="489.31" r="5.4"/>
<circle cx="355.27" cy="503" r="5.4"/>
<circle cx="365.91" cy="481.37" r="5.4"/>
<circle cx="323.5" cy="505.66" r="5.4"/>
<circle cx="354.19" cy="502.72" r="5.4"/>
<circle cx="268.53" cy="495.51" r="5.4"/>
<circle cx="279.95" cy="494.34" r="5.4"/>
<circle cx="285.98" cy="497.88" r="5.4"/>
<circle cx="385.62" cy="488.13" r="5.4"/>
<circle cx="318.23" cy="492.59" r="5.4"/>
<circle cx="275.03" cy="491.38" r="5.4"/>
<circle cx="304.69" cy="502.77" r="5.4"/>
<circle cx="329.21" cy="502.72" r="5.4"/>
<circle cx="393.17" cy="488.08" r="5.4"/>
<circle cx="267.8" cy="498.17" r="5.4"/>
<circle cx="300.23" cy="511.28" r="5.4"/>
<circle cx="309.11" cy="494.46" r="5.4"/>
<circle cx="255.35" cy="503.79" r="5.4"/>
<circle cx="312.87" cy="473.24" r="5.4"/>
<circle cx="328" cy="476.36" r="5.4"/>
<circle cx="311.53" cy="491.89" r="5.4"/>
<circle cx="296.38" cy="496.17" r="5.4"/>
<circle cx="266.96" cy="508.7" r="5.4"/>
<circle cx="310.11" cy="515.07" r="5.4"/>
<circle cx="283.65" cy="496.88" r="5.4"/>
<circle cx="314.23" cy="494.65" r="5.4"/>
<circle cx="288.27" cy="479.09" r="5.4"/>
<circle cx="331.9" cy="490.48" r="5.4"/>
<circle cx="304.53" cy="498.3" r="5.4"/>
<circle cx="292.56" cy="489.23" r="5.4"/>
<circle cx="270.39" cy="498.24" r="5.4"/>
<circle cx="302.74" cy="496.01" r="5.4"/>
<circle cx="391.79" cy="506.04" r="5.4"/>
<circle cx="299.45" cy="496.18" r="5.4"/>
<circle cx="316.1" cy="505.58" r="5.4"/>
<circle cx="275.03" cy="500.17" r="5.4"/>
<circle cx="282.84" cy="480.31" r="5.4"/>
<circle cx="320.65" cy="479.02" r="5.4"/>
<circle cx="308.26" cy="503.08" r="5.4"/>
<circle cx="319.95" cy="503.02" r="5.4"/>
<circle cx="358.89" cy="481.44" r="5.4"/>
<circle cx="293.74" cy="489.47" r="5.4"/>
<circle cx="298.99" cy="505.26" r="5.4"/>
<circle cx="366.32" cy="490.22" r="5.4"/>
<circle cx="301.13" cy="502.74" r="5.4"/>
<circle cx="422.36" cy="487.51" r="5.4"/>
<circle cx="288" cy="482.14" r="5.4"/>
<circle cx="310.7" cy="490.06" r="5.4"/>
<circle cx="300.16" cy="501.04" r="5.4"/>
<circle cx="379.34" cy="505.32" r="5.4"/>
<circle cx="267.17" cy="509.54" r="5.4"/>
<circle cx="272.77" cy="508.47" r="5.4"/>
<circle cx="291.55" cy="493.23" r="5.4"/>
<circle cx="341.24" cy="495.36" r="5.4"/>
<circle cx="267.4" cy="509.19" r="5.4"/>
<circle cx="258.3" cy="493.31" r="5.4"/>
<circle cx="260.13" cy="499.61" r="5.4"/>
<circle cx="304.05" cy="500.39" r="5.4"/>
<circle cx="318.42" cy="502.63" r="5.4"/>
<circle cx="358.78" cy="500.01" r="5.4"/>
<circle cx="294.89" cy="508.2" r="5.4"/>
<circle cx="354.24" cy="501.11" r="5.4"/>
<circle cx="275.34" cy="515.05" r="5.4"/>
<circle cx="315.36" cy="476.2" r="5.4"/>
<circle cx="307.6" cy="484.63" r="5.4"/>
<circle cx="309.71" cy="511.58" r="5.4"/>
<circle cx="254.29" cy="497.88" r="5.4"/>
<circle cx="344.16" cy="509.98" r="5.4"/>
<circle cx="312.06" cy="508.27" r="5.4"/>
<circle cx="269.2" cy="490.52" r="5.4"/>
<circle cx="317.77" cy="510.28" r="5.4"/>
<circle cx="366.09" cy="495.44" r="5.4"/>
<circle cx="311.73" cy="500.96" r="5.4"/>
<circle cx="391.28" cy="491.13" r="5.4"/>
<circle cx="270.1" cy="494.52" r="5.4"/>
<circle cx="334.03" cy="487.83" r="5.4"/>
<circle cx="334.11" cy="489.41" r="5.4"/>
<circle cx="293.31" cy="502.19" r="5.4"/>
<circle cx="294.5" cy="511.25" r="5.4"/>
<circle cx="329.33" cy="476.89" r="5.4"/>
<circle cx="304.44" cy="503.84" r="5.4"/>
<circle cx="261.75" cy="500.77" r="5.4"/>
<circle cx="305.55" cy="477.04" r="5.4"/>
<circle cx="273.47" cy="503.72" r="5.4"/>
<circle cx="257.01" cy="504.3" r="5.4"/>
<circle cx="362.86" cy="484.44" r="5.4"/>
<circle cx="313.78" cy="479.68" r="5.4"/>
<circle cx="301.69" cy="484.63" r="5.4"/>
<circle cx="310.09" cy="482.27" r="5.4"/>
<circle cx="331.06" cy="499.84" r="5.4"/>
<circle cx="290.87" cy="505.4" r="5.4"/>
<circle cx="312.03" cy="495.03" r="5.4"/>
<circle cx="331.39" cy="495.87" r="5.4"/>
<circle cx="296.64" cy="512.9" r="5.4"/>
<circle cx="298.07" cy="493.61" r="5.4"/>
<circle cx="326.77" cy="489.34" r="5.4"/>
<circle cx="264.2" cy="506.81" r="5.4"/>
<circle cx="321.48" cy="505.51" r="5.4"/>
<circle cx="327.74" cy="493.15" r="5.4"/>
<circle cx="285.85" cy="510.83" r="5.4"/>
<circle cx="374.41" cy="497.75" r="5.4"/>
<circle cx="331.41" cy="489.69" r="5.4"/>
<circle cx="298.88" cy="505.64" r="5.4"/>
<circle cx="348.97" cy="480.14" r="5.4"/>
<circle cx="290.07" cy="495.95" r="5.4"/>
<circle cx="280.45" cy="510.35" r="5.4"/>
<circle cx="276.54" cy="497.53" r="5.4"/>
<circle cx="324.42" cy="492.31" r="5.4"/>
<circle cx="317.64" cy="490.64" r="5.4"/>
<circle cx="261.54" cy="496.05" r="5.4"/>
<circle cx="347.69" cy="488.3" r="5.4"/>
<circle cx="312.16" cy="499.32" r="5.4"/>
<circle cx="308.11" cy="488.91" r="5.4"/>
<circle cx="406.88" cy="482.55" r="5.4"/>
<circle cx="364.5" cy="494.03" r="5.4"/>
<circle cx="292.2" cy="501.32" r="5.4"/>
<circle cx="259.73" cy="489.71" r="5.4"/>
<circle cx="397.07" cy="481.69" r="5.4"/>
<circle cx="326.5" cy="493.67" r="5.4"/>
<circle cx="275.72" cy="509.11" r="5.4"/>
<circle cx="302.08" cy="496.87" r="5.4"/>
<circle cx="323.96" cy="496.88" r="5.4"/>
<circle cx="362.67" cy="488.13" r="5.4"/>
<circle cx="316.48" cy="503.32" r="5.4"/>
<circle cx="323.3" cy="497.01" r="5.4"/>
<circle cx="419.55" cy="490.82" r="5.4"/>
<circle cx="281.09" cy="506.14" r="5.4"/>
<circle cx="297.96" cy="513.09" r="5.4"/>
<circle cx="279.81" cy="497.15" r="5.4"/>
<circle cx="419.47" cy="504.78" r="5.4"/>
<circle cx="293.6" cy="492.19" r="5.4"/>
<circle cx="307.39" cy="475.59" r="5.4"/>
<circle cx="274.07" cy="509.14" r="5.4"/>
<circle cx="270.17" cy="490.02" r="5.4"/>
<circle cx="354.37" cy="504.05" r="5.4"/>
<circle cx="315.22" cy="489.7" r="5.4"/>
<circle cx="328.64" cy="508.98" r="5.4"/>
<circle cx="352.51" cy="494.48" r="5.4"/>
<circle cx="274.58" cy="510.05" r="5.4"/>
<circle cx="357.3" cy="489.93" r="5.4"/>
<circle cx="277.89" cy="498.58" r="5.4"/>
<circle cx="317.88" cy="498.29" r="5.4"/>
<circle cx="308.12" cy="499.65" r="5.4"/>
<circle cx="279.65" cy="489.54" r="5.4"/>
<circle cx="299.02" cy="481.75" r="5.4"/>
<circle cx="346.92" cy="489.09" r="5.4"/>
<circle cx="344.59" cy="482.76" r="5.4"/>
<circle cx="269.67" cy="486.67" r="5.4"/>
<circle cx="415.7" cy="512.53" r="5.4"/>
<circle cx="255.37" cy="506.69" r="5.4"/>
<circle cx="320.35" cy="473.13" r="5.4"/>
<circle cx="263.05" cy="486.63" r="5.4"/>
<circle cx="393.13" cy="505.43" r="5.4"/>
<circle cx="272.24" cy="494.16" r="5.4"/>
<circle cx="315.21" cy="478.33" r="5.4"/>
<circle cx="301.81" cy="510.95" r="5.4"/>
<circle cx="376.16" cy="506.86" r="5.4"/>
<circle cx="341.82" cy="501.94" r="5.4"/>
<circle cx="368.11" cy="483.29" r="5.4"/>
<circle cx="289.46" cy="491.41" r="5.4"/>
<circle cx="336.02" cy="490.45" r="5.4"/>
<circle cx="294.01" cy="496.53" r="5.4"/>
<circle cx="344.69" cy="498.97" r="5.4"/>
<circle cx="367.14" cy="478.04" r="5.4"/>
<circle cx="269.28" cy="516.1" r="5.4"/>
<circle cx="280.84" cy="494.26" r="5.4"/>
<circle cx="284.88" cy="493.23" r="5.4"/>
<circle cx="286.45" cy="502.31" r="5.4"/>
<circle cx="319.33" cy="505.01" r="5.4"/>
<circle cx="383.48" cy="475.74" r="5.4"/>
<circle cx="288.95" cy="491.4" r="5.4"/>
<circle cx="257.76" cy="499.93" r="5.4"/>
<circle cx="301.77" cy="490.31" r="5.4"/>
<circle cx="276.55" cy="508.09" r="5.4"/>
<circle cx="366.42" cy="510.51" r="5.4"/>
<circle cx="343.96" cy="509.4" r="5.4"/>
<circle cx="301.37" cy="491.21" r="5.4"/>
<circle cx="357.7" cy="508.83" r="5.4"/>
<circle cx="294.2" cy="494.6" r="5.4"/>
<circle cx="275.61" cy="499.88" r="5.4"/>
<circle cx="398.92" cy="504.74" r="5.4"/>
<circle cx="373.06" cy="503.67" r="5.4"/>
<circle cx="319.37" cy="491.85" r="5.4"/>
<circle cx="320.38" cy="497.58" r="5.4"/>
<circle cx="375.87" cy="511.2" r="5.4"/>
<circle cx="359.56" cy="484.31" r="5.4"/>
<circle cx="253.64" cy="497.29" r="5.4"/>
<circle cx="257.56" cy="499.65" r="5.4"/>
<circle cx="358.83" cy="497.9" r="5.4"/>
<circle cx="257.78" cy="508.34" r="5.4"/>
<circle cx="400.43" cy="487.69" r="5.4"/>
<circle cx="269.22" cy="500.42" r="5.4"/>
<circle cx="284.31" cy="497.46" r="5.4"/>
<circle cx="273.04" cy="509.55" r="5.4"/>
<circle cx="258.78" cy="501.05" r="5.4"/>
<circle cx="397.65" cy="495.53" r="5.4"/>
<circle cx="263.27" cy="497.73" r="5.4"/>
<circle cx="290.64" cy="496.63" r="5.4"/>
<circle cx="292.1" cy="504.06" r="5.4"/>
<circle cx="287.95" cy="500.64" r="5.4"/>
<circle cx="316.97" cy="481.61" r="5.4"/>
<circle cx="257.33" cy="497.67" r="5.4"/>
<circle cx="348.65" cy="481.9" r="5.4"/>
<circle cx="291.07" cy="508.42" r="5.4"/>
<circle cx="367.61" cy="485.54" r="5.4"/>
<circle cx="274.65" cy="508.77" r="5.4"/>
<circle cx="314.29" cy="481" r="5.4"/>
<circle cx="273.86" cy="492.93" r="5.4"/>
<circle cx="280.97" cy="489.8" r="5.4"/>
<circle cx="313.6" cy="501.62" r="5.4"/>
<circle cx="395.34" cy="508.71" r="5.4"/>
<circle cx="255.37" cy="486.88" r="5.4"/>
<circle cx="283.56" cy="502.35" r="5.4"/>
<circle cx="270.46" cy="494.95" r="5.4"/>
<circle cx="299.13" cy="498.69" r="5.4"/>
<circle cx="328.43" cy="487.83" r="5.4"/>
<circle cx="270.49" cy="504.94" r="5.4"/>
<circle cx="285.24" cy="509.84" r="5.4"/>
<circle cx="330.85" cy="481.18" r="5.4"/>
<circle cx="348.43" cy="505.87" r="5.4"/>
<circle cx="289.42" cy="502.72" r="5.4"/>
<circle cx="304.79" cy="502.03" r="5.4"/>
<circle cx="279.77" cy="497.39" r="5.4"/>
<circle cx="315.93" cy="503.49" r="5.4"/>
<circle cx="346.8" cy="494.36" r="5.4"/>
<circle cx="250.79" cy="490.16" r="5.4"/>
<circle cx="281.89" cy="500.39" r="5.4"/>
<circle cx="334.72" cy="511.93" r="5.4"/>
<circle cx="280.94" cy="517.13" r="5.4"/>
<circle cx="280.05" cy="491.74" r="5.4"/>
<circle cx="294.18" cy="488.74" r="5.4"/>
<circle cx="294.85" cy="506.33" r="5.4"/>
<circle cx="387.87" cy="507.93" r="5.4"/>
<circle cx="313.85" cy="507.2" r="5.4"/>
<circle cx="315.13" cy="509.88" r="5.4"/>
<circle cx="297.3" cy="495.46" r="5.4"/>
<circle cx="355.14" cy="494.23" r="5.4"/>
<circle cx="285.95" cy="497.67" r="5.4"/>
<circle cx="367.6" cy="500.23" r="5.4"/>
<circle cx="265.1" cy="499.99" r="5.4"/>
<circle cx="359.04" cy="497.64" r="5.4"/>
<circle cx="326.95" cy="490.55" r="5.4"/>
<circle cx="314.9" cy="486.67" r="5.4"/>
<circle cx="334.85" cy="510.72" r="5.4"/>
<circle cx="414.44" cy="498.19" r="5.4"/>
<circle cx="299.41" cy="500.66" r="5.4"/>
<circle cx="374.24" cy="483.44" r="5.4"/>
<circle cx="326.32" cy="508.82" r="5.4"/>
<circle cx="367.54" cy="499.26" r="5.4"/>
<circle cx="299.29" cy="486.35" r="5.4"/>
<circle cx="308.43" cy="491.06" r="5.4"/>
<circle cx="340.97" cy="500.24" r="5.4"/>
<circle cx="287.85" cy="482.96" r="5.4"/>
<circle cx="266.05" cy="494.16" r="5.4"/>
<circle cx="379.95" cy="495.35" r="5.4"/>
<circle cx="291.62" cy="512.28" r="5.4"/>
<circle cx="284.45" cy="500.87" r="5.4"/>
<circle cx="312.52" cy="481.95" r="5.4"/>
<circle cx="301.66" cy="509.84" r="5.4"/>
<circle cx="283.08" cy="490.85" r="5.4"/>
<circle cx="283.55" cy="501.26" r="5.4"/>
<circle cx="297.1" cy="484.81" r="5.4"/>
<circle cx="282.38" cy="495.32" r="5.4"/>
<circle cx="290.47" cy="483.5" r="5.4"/>
<circle cx="294.53" cy="478.88" r="5.4"/>
<circle cx="284.95" cy="498.19" r="5.4"/>
<circle cx="323.4" cy="503.44" r="5.4"/>
<circle cx="321.61" cy="479.35" r="5.4"/>
<circle cx="269.64" cy="485.88" r="5.4"/>
<circle cx="291.66" cy="480.67" r="5.4"/>
<circle cx="334.4" cy="491.93" r="5.4"/>
<circle cx="291.8" cy="510.49" r="5.4"/>
<circle cx="328.99" cy="494.27" r="5.4"/>
<circle cx="307.7" cy="502.02" r="5.4"/>
<circle cx="317.45" cy="484.14" r="5.4"/>
<circle cx="255.84" cy="499.62" r="5.4"/>
<circle cx="318.26" cy="485.98" r="5.4"/>
<circle cx="293.78" cy="478.34" r="5.4"/>
<circle cx="278.19" cy="514.56" r="5.4"/>
<circle cx="300.52" cy="490.95" r="5.4"/>
<circle cx="353.33" cy="475.99" r="5.4"/>
<circle cx="277.44" cy="494.18" r="5.4"/>
<circle cx="328.8" cy="493.05" r="5.4"/>
<circle cx="269.71" cy="499.61" r="5.4"/>
<circle cx="258.5" cy="499.86" r="5.4"/>
<circle cx="291.81" cy="499.75" r="5.4"/>
<circle cx="280.6" cy="483.66" r="5.4"/>
<circle cx="300.42" cy="485.69" r="5.4"/>
<circle cx="368.63" cy="478.36" r="5.4"/>
<circle cx="306.46" cy="516.01" r="5.4"/>
<circle cx="367.01" cy="490.34" r="5.4"/>
<circle cx="262.29" cy="499.48" r="5.4"/>
<circle cx="290.69" cy="500.39" r="5.4"/>
<circle cx="317.93" cy="485.92" r="5.4"/>
<circle cx="266.04" cy="492.64" r="5.4"/>
<circle cx="415.48" cy="476.26" r="5.4"/>
<circle cx="401.27" cy="491.06" r="5.4"/>
<circle cx="370.57" cy="503.5" r="5.4"/>
<circle cx="322" cy="515.93" r="5.4"/>
<circle cx="349.22" cy="516.06" r="5.4"/>
<circle cx="320.29" cy="502.65" r="5.4"/>
<circle cx="269.58" cy="499.38" r="5.4"/>
<circle cx="360.12" cy="496.5" r="5.4"/>
<circle cx="321.65" cy="475.35" r="5.4"/>
<circle cx="265.77" cy="500.23" r="5.4"/>
<circle cx="273.49" cy="478.43" r="5.4"/>
<circle cx="348.74" cy="504.52" r="5.4"/>
<circle cx="397.18" cy="491.02" r="5.4"/>
<circle cx="395.06" cy="496.11" r="5.4"/>
<circle cx="400.94" cy="499.08" r="5.4"/>
<circle cx="362.05" cy="476.31" r="5.4"/>
<circle cx="383.12" cy="495.21" r="5.4"/>
<circle cx="331.98" cy="493.69" r="5.4"/>
<circle cx="383.58" cy="475.18" r="5.4"/>
<circle cx="411.58" cy="485.48" r="5.4"/>
<circle cx="335.68" cy="480.61" r="5.4"/>
<circle cx="277.22" cy="482.7" r="5.4"/>
<circle cx="359.13" cy="491.15" r="5.4"/>
<circle cx="394.17" cy="489.32" r="5.4"/>
<circle cx="357.16" cy="489.59" r="5.4"/>
<circle cx="370.19" cy="493.67" r="5.4"/>
<circle cx="359.41" cy="509.12" r="5.4"/>
<circle cx="261.55" cy="498.09" r="5.4"/>
<circle cx="273.23" cy="506.01" r="5.4"/>
<circle cx="396.78" cy="497.47" r="5.4"/>
<circle cx="413.05" cy="487.41" r="5.4"/>
<circle cx="386.64" cy="492.82" r="5.4"/>
<circle cx="362.15" cy="489.3" r="5.4"/>
<circle cx="312.44" cy="491.45" r="5.4"/>
<circle cx="291.13" cy="497.58" r="5.4"/>
<circle cx="410.06" cy="494.82" r="5.4"/>
<circle cx="380.66" cy="479.35" r="5.4"/>
<circle cx="307.54" cy="492.36" r="5.4"/>
<circle cx="394.58" cy="484.59" r="5.4"/>
<circle cx="334.41" cy="508.07" r="5.4"/>
<circle cx="339.98" cy="506.88" r="5.4"/>
<circle cx="320.95" cy="495.05" r="5.4"/>
<circle cx="379.93" cy="487.59" r="5.4"/>
<circle cx="329.56" cy="497.19" r="5.4"/>
<circle cx="354.22" cy="512.66" r="5.4"/>
<circle cx="356.88" cy="507.28" r="5.4"/>
<circle cx="347.04" cy="492.28" r="5.4"/>
<circle cx="259.84" cy="488.79" r="5.4"/>
<circle cx="329.42" cy="498.32" r="5.4"/>
<circle cx="272.21" cy="500.23" r="5.4"/>
<circle cx="407.19" cy="503.6" r="5.4"/>
<circle cx="348.34" cy="483.38" r="5.4"/>
<circle cx="314.16" cy="513.91" r="5.4"/>
<circle cx="369.59" cy="501.17" r="5.4"/>
<circle cx="403.05" cy="510.63" r="5.4"/>
<circle cx="354.9" cy="499.02" r="5.4"/>
<circle cx="298.4" cy="509.34" r="5.4"/>
<circle cx="332.33" cy="490.54" r="5.4"/>
<circle cx="294.72" cy="494.21" r="5.4"/>
<circle cx="263.07" cy="507.87" r="5.4"/>
<circle cx="282.82" cy="483.41" r="5.4"/>
<circle cx="295.75" cy="490.06" r="5.4"/>
<circle cx="343.56" cy="496.21" r="5.4"/>
<circle cx="282.01" cy="492.17" r="5.4"/>
<circle cx="294.71" cy="509.81" r="5.4"/>
<circle cx="276.39" cy="499.35" r="5.4"/>
<circle cx="264.76" cy="501.33" r="5.4"/>
<circle cx="402.21" cy="502.04" r="5.4"/>
<circle cx="267.41" cy="499.7" r="5.4"/>
<circle cx="371.17" cy="490.07" r="5.4"/>
<circle cx="384.82" cy="480.42" r="5.4"/>
<circle cx="385.03" cy="492.37" r="5.4"/>
<circle cx="275.42" cy="495.57" r="5.4"/>
<circle cx="285.68" cy="511.56" r="5.4"/>
<circle cx="261.2" cy="505.99" r="5.4"/>
<circle cx="391.79" cy="502.26" r="5.4"/>
<circle cx="395.47" cy="479.6" r="5.4"/>
<circle cx="404.28" cy="487.75" r="5.4"/>
<circle cx="403.44" cy="495.33" r="5.4"/>
<circle cx="367.79" cy="483.99" r="5.4"/>
<circle cx="292.66" cy="496.88" r="5.4"/>
<circle cx="404.77" cy="500.18" r="5.4"/>
<circle cx="301.89" cy="502.5" r="5.4"/>
<circle cx="393.01" cy="516.08" r="5.4"/>
<circle cx="368.24" cy="512.02" r="5.4"/>
<circle cx="361.12" cy="506.62" r="5.4"/>
<circle cx="385.89" cy="504" r="5.4"/>
<circle cx="329.07" cy="491.2" r="5.4"/>
<circle cx="380.28" cy="492.72" r="5.4"/>
<circle cx="388.46" cy="473.41" r="5.4"/>
<circle cx="321.76" cy="512.9" r="5.4"/>
<circle cx="354.59" cy="501.07" r="5.4"/>
<circle cx="297.46" cy="488.81" r="5.4"/>
<circle cx="380.21" cy="496.46" r="5.4"/>
<circle cx="313.37" cy="495.87" r="5.4"/>
<circle cx="337.49" cy="484.98" r="5.4"/>
<circle cx="315.52" cy="488.19" r="5.4"/>
<circle cx="411.51" cy="486.15" r="5.4"/>
<circle cx="260.17" cy="491.84" r="5.4"/>
<circle cx="299.57" cy="508.95" r="5.4"/>
<circle cx="375.69" cy="498.47" r="5.4"/>
<circle cx="363.61" cy="499.57" r="5.4"/>
<circle cx="362.7" cy="504.82" r="5.4"/>
<circle cx="316.76" cy="495.06" r="5.4"/>
<circle cx="313.15" cy="495.44" r="5.4"/>
<circle cx="271.12" cy="511.48" r="5.4"/>
<circle cx="349.29" cy="498.6" r="5.4"/>
<circle cx="285.35" cy="486.49" r="5.4"/>
<circle cx="296.79" cy="488.73" r="5.4"/>
<circle cx="277.53" cy="507.93" r="5.4"/>
<circle cx="284.02" cy="480.23" r="5.4"/>
<circle cx="332.07" cy="490.88" r="5.4"/>
<circle cx="276.13" cy="511.53" r="5.4"/>
<circle cx="374.45" cy="489.1" r="5.4"/>
<circle cx="322.39" cy="511.38" r="5.4"/>
<circle cx="389.46" cy="508.84" r="5.4"/>
<circle cx="379.85" cy="492.88" r="5.4"/>
<circle cx="397.22" cy="507.16" r="5.4"/>
<circle cx="369.31" cy="490.23" r="5.4"/>
<circle cx="363.2" cy="505.4" r="5.4"/>
<circle cx="349.12" cy="489.68" r="5.4"/>
<circle cx="258.79" cy="498.4" r="5.4"/>
<circle cx="283.65" cy="494.28" r="5.4"/>
<circle cx="328.04" cy="512.54" r="5.4"/>
<circle cx="266.79" cy="488.63" r="5.4"/>
<circle cx="376.76" cy="481.34" r="5.4"/>
<circle cx="273.99" cy="488.53" r="5.4"/>
<circle cx="307.53" cy="486.97" r="5.4"/>
<circle cx="278.45" cy="481.43" r="5.4"/>
<circle cx="374.57" cy="501.5" r="5.4"/>
<circle cx="280.5" cy="496.57" r="5.4"/>
<circle cx="389.88" cy="494.53" r="5.4"/>
<circle cx="282.45" cy="491.06" r="5.4"/>
<circle cx="335.65" cy="481.69" r="5.4"/>
<circle cx="297.26" cy="506.19" r="5.4"/>
<circle cx="378.06" cy="489.17" r="5.4"/>
<circle cx="324.12" cy="491.9" r="5.4"/>
<circle cx="314.38" cy="503.57" r="5.4"/>
<circle cx="382.17" cy="493.93" r="5.4"/>
<circle cx="404.93" cy="492.48" r="5.4"/>
<circle cx="289.85" cy="507.92" r="5.4"/>
<circle cx="293.78" cy="500.51" r="5.4"/>
<circle cx="271.14" cy="505.89" r="5.4"/>
<circle cx="344.18" cy="496.15" r="5.4"/>
<circle cx="405.45" cy="500.49" r="5.4"/>
<circle cx="330.93" cy="490.47" r="5.4"/>
<circle cx="306.53" cy="497.43" r="5.4"/>
<circle cx="299" cy="495.28" r="5.4"/>
<circle cx="271.47" cy="504.17" r="5.4"/>
<circle cx="387.95" cy="492.96" r="5.4"/>
<circle cx="346.74" cy="516.74" r="5.4"/>
<circle cx="387.38" cy="513.78" r="5.4"/>
<circle cx="306.74" cy="498.35" r="5.4"/>
<circle cx="396.23" cy="495.32" r="5.4"/>
<circle cx="272.49" cy="494.76" r="5.4"/>
<circle cx="295.45" cy="499.34" r="5.4"/>
<circle cx="370.86" cy="497.91" r="5.4"/>
<circle cx="300.32" cy="474.75" r="5.4"/>
<circle cx="263.99" cy="501.68" r="5.4"/>
<circle cx="407.93" cy="514.6" r="5.4"/>
<circle cx="406.07" cy="480.81" r="5.4"/>
<circle cx="380.67" cy="490.13" r="5.4"/>
<circle cx="313.01" cy="502.15" r="5.4"/>
<circle cx="299.36" cy="477.33" r="5.4"/>
<circle cx="356.02" cy="503.17" r="5.4"/>
<circle cx="320.23" cy="500.16" r="5.4"/>
<circle cx="272.68" cy="484.77" r="5.4"/>
<circle cx="286.15" cy="494.69" r="5.4"/>
<circle cx="368.29" cy="504.74" r="5.4"/>
<circle cx="302.61" cy="505.88" r="5.4"/>
<circle cx="350.77" cy="493.32" r="5.4"/>
<circle cx="324.17" cy="487.97" r="5.4"/>
<circle cx="334.46" cy="492.07" r="5.4"/>
<circle cx="355.47" cy="480.33" r="5.4"/>
<circle cx="314.66" cy="495.68" r="5.4"/>
<circle cx="356.84" cy="498.54" r="5.4"/>
<circle cx="382.38" cy="509.93" r="5.4"/>
<circle cx="313.31" cy="484.35" r="5.4"/>
<circle cx="264.87" cy="488.62" r="5.4"/>
<circle cx="333.11" cy="502.48" r="5.4"/>
<circle cx="266.86" cy="508.6" r="5.4"/>
<circle cx="331.7" cy="508.68" r="5.4"/>
<circle cx="376.14" cy="498.84" r="5.4"/>
<circle cx="296.63" cy="477.88" r="5.4"/>
<circle cx="327.57" cy="486.97" r="5.4"/>
<circle cx="311.92" cy="501.32" r="5.4"/>
<circle cx="274.83" cy="505.24" r="5.4"/>
<circle cx="279.06" cy="498.17" r="5.4"/>
<circle cx="401.39" cy="485.21" r="5.4"/>
<circle cx="326.35" cy="487.7" r="5.4"/>
<circle cx="264.14" cy="496.36" r="5.4"/>
<circle cx="341.89" cy="510.43" r="5.4"/>
<circle cx="338.2" cy="473.27" r="5.4"/>
<circle cx="333.97" cy="509.71" r="5.4"/>
<circle cx="275.09" cy="493.42" r="5.4"/>
<circle cx="412.78" cy="497.57" r="5.4"/>
<circle cx="367.95" cy="509.55" r="5.4"/>
<circle cx="286.29" cy="489.89" r="5.4"/>
<circle cx="356.97" cy="514.65" r="5.4"/>
<circle cx="299.85" cy="497.04" r="5.4"/>
<circle cx="319.49" cy="492.95" r="5.4"/>
<circle cx="300.3" cy="479.85" r="5.4"/>
<circle cx="285.94" cy="507.06" r="5.4"/>
<circle cx="335.07" cy="491.53" r="5.4"/>
<circle cx="330.76" cy="495.17" r="5.4"/>
<circle cx="404.66" cy="499.33" r="5.4"/>
<circle cx="366.28" cy="499.19" r="5.4"/>
<circle cx="376.32" cy="490.86" r="5.4"/>
<circle cx="289.18" cy="498.69" r="5.4"/>
<circle cx="318.06" cy="487.96" r="5.4"/>
<circle cx="389.51" cy="491.53" r="5.4"/>
<circle cx="313.43" cy="508.38" r="5.4"/>
<circle cx="351.49" cy="498.11" r="5.4"/>
<circle cx="309.9" cy="490.73" r="5.4"/>
<circle cx="346.99" cy="480.33" r="5.4"/>
<circle cx="299.64" cy="506.01" r="5.4"/>
<circle cx="378.12" cy="491.02" r="5.4"/>
<circle cx="264.7" cy="504.04" r="5.4"/>
<circle cx="281.67" cy="496.88" r="5.4"/>
<circle cx="360.28" cy="483.49" r="5.4"/>
<circle cx="333.07" cy="510.47" r="5.4"/>
<circle cx="291.36" cy="499.82" r="5.4"/>
<circle cx="290.9" cy="513.55" r="5.4"/>
<circle cx="350.89" cy="485.51" r="5.4"/>
<circle cx="368.84" cy="507.13" r="5.4"/>
<circle cx="402.45" cy="496.65" r="5.4"/>
<circle cx="319.54" cy="508.01" r="5.4"/>
<circle cx="324.7" cy="485.27" r="5.4"/>
<circle cx="266.07" cy="499.7" r="5.4"/>
<circle cx="370.8" cy="472.98" r="5.4"/>
<circle cx="409.05" cy="497.04" r="5.4"/>
<circle cx="365.57" cy="505.29" r="5.4"/>
<circle cx="272.6" cy="499.51" r="5.4"/>
<circle cx="277.78" cy="507.9" r="5.4"/>
<circle cx="398.59" cy="485.54" r="5.4"/>
<circle cx="389.4" cy="508.63" r="5.4"/>
<circle cx="263.43" cy="503.03" r="5.4"/>
<circle cx="302.86" cy="487.83" r="5.4"/>
<circle cx="263.15" cy="494.3" r="5.4"/>
<circle cx="321.59" cy="501.49" r="5.4"/>
<circle cx="258.49" cy="490.35" r="5.4"/>
<circle cx="358.6" cy="506.07" r="5.4"/>
<circle cx="317.37" cy="499.76" r="5.4"/>
<circle cx="306.45" cy="486.31" r="5.4"/>
<circle cx="342.56" cy="496.45" r="5.4"/>
<circle cx="359.77" cy="484.28" r="5.4"/>
<circle cx="281.93" cy="494.42" r="5.4"/>
<circle cx="365.4" cy="517.82" r="5.4"/>
<circle cx="394.65" cy="506.99" r="5.4"/>
<circle cx="332.02" cy="495.05" r="5.4"/>
<circle cx="305.49" cy="483.33" r="5.4"/>
<circle cx="290.7" cy="506.02" r="5.4"/>
<circle cx="282.13" cy="500.11" r="5.4"/>
<circle cx="294.68" cy="481.1" r="5.4"/>
<circle cx="283.14" cy="510.64" r="5.4"/>
<circle cx="367.63" cy="500.7" r="5.4"/>
<circle cx="405.37" cy="506.32" r="5.4"/>
<circle cx="367.73" cy="512.76" r="5.4"/>
<circle cx="381.03" cy="487.57" r="5.4"/>
<circle cx="397.09" cy="486.15" r="5.4"/>
<circle cx="263.58" cy="511.69" r="5.4"/>
<circle cx="375.36" cy="484.32" r="5.4"/>
<circle cx="275.06" cy="490.44" r="5.4"/>
<circle cx="407.92" cy="488.03" r="5.4"/>
<circle cx="316.09" cy="480.76" r="5.4"/>
<circle cx="314.76" cy="490.88" r="5.4"/>
<circle cx="338.14" cy="489.35" r="5.4"/>
<circle cx="303.18" cy="503.42" r="5.4"/>
<circle cx="381.15" cy="503.27" r="5.4"/>
<circle cx="388.16" cy="509.65" r="5.4"/>
<circle cx="327.79" cy="475.21" r="5.4"/>
<circle cx="378.68" cy="479.04" r="5.4"/>
<circle cx="344.21" cy="508.51" r="5.4"/>
<circle cx="393.62" cy="505.69" r="5.4"/>
<circle cx="298.48" cy="485.87" r="5.4"/>
<circle cx="378.63" cy="516.98" r="5.4"/>
<circle cx="271.68" cy="493.71" r="5.4"/>
<circle cx="327.91" cy="482.68" r="5.4"/>
<circle cx="320.57" cy="502.45" r="5.4"/>
<circle cx="327.98" cy="504.62" r="5.4"/>
<circle cx="279.15" cy="484.71" r="5.4"/>
<circle cx="274.72" cy="490.71" r="5.4"/>
<circle cx="355.85" cy="495.79" r="5.4"/>
<circle cx="391.99" cy="488.86" r="5.4"/>
<circle cx="391.99" cy="490.26" r="5.4"/>
<circle cx="277.96" cy="484.61" r="5.4"/>
<circle cx="272.6" cy="507.08" r="5.4"/>
<circle cx="284.16" cy="488.49" r="5.4"/>
<circle cx="336.13" cy="510.13" r="5.4"/>
<circle cx="346.02" cy="477.1" r="5.4"/>
<circle cx="282.21" cy="506.23" r="5.4"/>
<circle cx="356.39" cy="490.58" r="5.4"/>
<circle cx="310.19" cy="482.29" r="5.4"/>
<circle cx="380.37" cy="500.94" r="5.4"/>
<circle cx="340.22" cy="513.13" r="5.4"/>
<circle cx="339.63" cy="489.55" r="5.4"/>
<circle cx="326.67" cy="479.54" r="5.4"/>
<circle cx="310.3" cy="488.64" r="5.4"/>
<circle cx="313.09" cy="501.91" r="5.4"/>
<circle cx="299.25" cy="497.06" r="5.4"/>
<circle cx="350.73" cy="482.76" r="5.4"/>
<circle cx="417.07" cy="501.88" r="5.4"/>
<circle cx="414.38" cy="494.08" r="5.4"/>
<circle cx="429.45" cy="489.02" r="5.4"/>
<circle cx="423.75" cy="482.72" r="5.4"/>
<circle cx="429.35" cy="504.11" r="5.4"/>
<circle cx="424.96" cy="495.04" r="5.4"/>
<circle cx="428.27" cy="499.91" r="5.4"/>
<circle cx="426.22" cy="488.95" r="5.4"/>
<circle cx="425.34" cy="501.6" r="5.4"/>
<circle cx="426.66" cy="492.81" r="5.4"/>
<circle cx="421.46" cy="491.31" r="5.4"/>
<circle cx="418.25" cy="476.63" r="5.4"/>
<circle cx="418.66" cy="508.92" r="5.4"/>
<circle cx="418.46" cy="508.42" r="5.4"/>
<circle cx="427.81" cy="506.25" r="5.4"/>
<circle cx="432.23" cy="482.32" r="5.4"/>
<circle cx="415.07" cy="515.87" r="5.4"/>
<circle cx="427" cy="487.75" r="5.4"/>
<circle cx="418.2" cy="499.9" r="5.4"/>
<circle cx="413.51" cy="504.34" r="5.4"/>
<circle cx="426.1" cy="505.04" r="5.4"/>
<circle cx="415.09" cy="492.12" r="5.4"/>
<circle cx="419.45" cy="503.98" r="5.4"/>
<circle cx="417.82" cy="482.81" r="5.4"/>
<circle cx="418.84" cy="503.35" r="5.4"/>
<circle cx="417.84" cy="498.63" r="5.4"/>
<circle cx="431.01" cy="506.36" r="5.4"/>
<circle cx="425.84" cy="504.91" r="5.4"/>
<circle cx="422.28" cy="501.47" r="5.4"/>
<circle cx="417.93" cy="498.98" r="5.4"/>
<circle cx="461.82" cy="506.54" r="5.4"/>
<circle cx="450.74" cy="484.63" r="5.4"/>
<circle cx="478.85" cy="498.84" r="5.4"/>
<circle cx="494.35" cy="480.18" r="5.4"/>
<circle cx="516.2" cy="490.5" r="5.4"/>
<circle cx="438.74" cy="502.07" r="5.4"/>
<circle cx="466.63" cy="484.57" r="5.4"/>
<circle cx="475.08" cy="474.37" r="5.4"/>
<circle cx="450.69" cy="484.77" r="5.4"/>
<circle cx="456.77" cy="471.56" r="5.4"/>
<circle cx="498.44" cy="495.98" r="5.4"/>
<circle cx="434.06" cy="498.61" r="5.4"/>
<circle cx="495.69" cy="481.85" r="5.4"/>
<circle cx="449.81" cy="483.7" r="5.4"/>
<circle cx="498.81" cy="515.58" r="5.4"/>
<circle cx="515.82" cy="479.57" r="5.4"/>
<circle cx="452.09" cy="508.6" r="5.4"/>
<circle cx="503.27" cy="502.64" r="5.4"/>
<circle cx="486.15" cy="481.16" r="5.4"/>
<circle cx="504.34" cy="487.03" r="5.4"/>
<circle cx="456.92" cy="469.82" r="5.4"/>
<circle cx="508.33" cy="503.15" r="5.4"/>
<circle cx="483.66" cy="474.34" r="5.4"/>
<circle cx="481.75" cy="502.03" r="5.4"/>
<circle cx="469.5" cy="512.22" r="5.4"/>
<circle cx="477.99" cy="484.78" r="5.4"/>
<circle cx="476.52" cy="504.71" r="5.4"/>
<circle cx="464" cy="472.12" r="5.4"/>
<circle cx="464.27" cy="482.94" r="5.4"/>
<circle cx="459.1" cy="493.19" r="5.4"/>
<circle cx="470.73" cy="495.11" r="5.4"/>
<circle cx="469" cy="472" r="5.4"/>
<circle cx="490.96" cy="497.91" r="5.4"/>
<circle cx="485.02" cy="497.04" r="5.4"/>
<circle cx="440.11" cy="506.84" r="5.4"/>
<circle cx="483.46" cy="476.28" r="5.4"/>
<circle cx="464.77" cy="501.34" r="5.4"/>
<circle cx="461.45" cy="492.66" r="5.4"/>
<circle cx="520.36" cy="506.59" r="5.4"/>
<circle cx="503.06" cy="482.94" r="5.4"/>
<circle cx="506.92" cy="491.26" r="5.4"/>
<circle cx="469.71" cy="498.23" r="5.4"/>
<circle cx="486.95" cy="484.69" r="5.4"/>
<circle cx="494.87" cy="480.79" r="5.4"/>
<circle cx="488.16" cy="480.72" r="5.4"/>
<circle cx="478.31" cy="488.99" r="5.4"/>
<circle cx="532.26" cy="507.51" r="5.4"/>
<circle cx="477.28" cy="492.71" r="5.4"/>
<circle cx="441.67" cy="484.69" r="5.4"/>
<circle cx="471.07" cy="502.88" r="5.4"/>
<circle cx="466.61" cy="484.36" r="5.4"/>
<circle cx="529.85" cy="483.74" r="5.4"/>
<circle cx="458.06" cy="476.02" r="5.4"/>
<circle cx="455.42" cy="493.49" r="5.4"/>
<circle cx="453.42" cy="490.14" r="5.4"/>
<circle cx="470.75" cy="484.24" r="5.4"/>
<circle cx="474.44" cy="500.86" r="5.4"/>
<circle cx="464.99" cy="469.42" r="5.4"/>
<circle cx="502.92" cy="481.26" r="5.4"/>
<circle cx="483.62" cy="499.52" r="5.4"/>
<circle cx="456.9" cy="509.03" r="5.4"/>
<circle cx="444.79" cy="475.31" r="5.4"/>
<circle cx="445.99" cy="495.46" r="5.4"/>
<circle cx="477.56" cy="496.35" r="5.4"/>
<circle cx="493.17" cy="492.3" r="5.4"/>
<circle cx="484.16" cy="482.77" r="5.4"/>
<circle cx="467.59" cy="498.57" r="5.4"/>
<circle cx="444.17" cy="507.38" r="5.4"/>
<circle cx="481.56" cy="503.16" r="5.4"/>
<circle cx="484.25" cy="497.63" r="5.4"/>
<circle cx="489.95" cy="472.95" r="5.4"/>
<circle cx="436" cy="496.11" r="5.4"/>
<circle cx="463.15" cy="494.78" r="5.4"/>
<circle cx="479.15" cy="493.29" r="5.4"/>
<circle cx="506.32" cy="517.18" r="5.4"/>
<circle cx="481.79" cy="501.6" r="5.4"/>
<circle cx="447.54" cy="484.01" r="5.4"/>
<circle cx="436.27" cy="482.55" r="5.4"/>
<circle cx="472.96" cy="494.53" r="5.4"/>
<circle cx="475.12" cy="489.78" r="5.4"/>
<circle cx="494.81" cy="491.17" r="5.4"/>
<circle cx="493.89" cy="483.23" r="5.4"/>
<circle cx="446.1" cy="484.46" r="5.4"/>
<circle cx="489.52" cy="490.55" r="5.4"/>
<circle cx="515.63" cy="509.69" r="5.4"/>
<circle cx="507.61" cy="490.21" r="5.4"/>
<circle cx="490.46" cy="493.33" r="5.4"/>
<circle cx="450.24" cy="478.51" r="5.4"/>
<circle cx="484.43" cy="476.61" r="5.4"/>
<circle cx="448.83" cy="503.82" r="5.4"/>
<circle cx="515.14" cy="491.49" r="5.4"/>
<circle cx="494.78" cy="482.33" r="5.4"/>
<circle cx="449.94" cy="490.61" r="5.4"/>
<circle cx="441.52" cy="491.09" r="5.4"/>
<circle cx="474" cy="496.81" r="5.4"/>
<circle cx="474.78" cy="477.93" r="5.4"/>
<circle cx="466.61" cy="507.2" r="5.4"/>
<circle cx="456.15" cy="483.2" r="5.4"/>
<circle cx="468.44" cy="509.36" r="5.4"/>
<circle cx="523.28" cy="483.91" r="5.4"/>
<circle cx="469.47" cy="489.98" r="5.4"/>
<circle cx="458.72" cy="507.66" r="5.4"/>
<circle cx="460.39" cy="484.24" r="5.4"/>
<circle cx="439.46" cy="501.8" r="5.4"/>
<circle cx="486.77" cy="488.68" r="5.4"/>
<circle cx="477.1" cy="483.6" r="5.4"/>
<circle cx="467.18" cy="513.04" r="5.4"/>
<circle cx="471.25" cy="472.8" r="5.4"/>
<circle cx="453.52" cy="502.65" r="5.4"/>
<circle cx="496.64" cy="504.8" r="5.4"/>
<circle cx="464.03" cy="486.8" r="5.4"/>
<circle cx="489.35" cy="499.48" r="5.4"/>
<circle cx="437.24" cy="510.2" r="5.4"/>
<circle cx="484.56" cy="489.31" r="5.4"/>
<circle cx="474.27" cy="475.96" r="5.4"/>
<circle cx="464.95" cy="490.34" r="5.4"/>
<circle cx="463.1" cy="482.13" r="5.4"/>
<circle cx="454.65" cy="478.82" r="5.4"/>
<circle cx="490.59" cy="514.75" r="5.4"/>
<circle cx="466.28" cy="474.23" r="5.4"/>
<circle cx="440.44" cy="485.99" r="5.4"/>
<circle cx="470.14" cy="479.22" r="5.4"/>
<circle cx="500.72" cy="504.77" r="5.4"/>
<circle cx="488.31" cy="495.27" r="5.4"/>
<circle cx="452.98" cy="497.49" r="5.4"/>
<circle cx="437.39" cy="497.66" r="5.4"/>
<circle cx="437.38" cy="498.84" r="5.4"/>
<circle cx="515.91" cy="492.23" r="5.4"/>
<circle cx="444.29" cy="503.67" r="5.4"/>
<circle cx="474.86" cy="490.12" r="5.4"/>
<circle cx="510.72" cy="492.79" r="5.4"/>
<circle cx="531.09" cy="495.3" r="5.4"/>
<circle cx="491.66" cy="495.08" r="5.4"/>
<circle cx="470.58" cy="474.28" r="5.4"/>
<circle cx="479.32" cy="510.15" r="5.4"/>
<circle cx="505.36" cy="493.07" r="5.4"/>
<circle cx="470.07" cy="471.51" r="5.4"/>
<circle cx="485.35" cy="506.76" r="5.4"/>
<circle cx="496.82" cy="498.48" r="5.4"/>
<circle cx="477.24" cy="490.17" r="5.4"/>
<circle cx="488.7" cy="485.97" r="5.4"/>
<circle cx="445.54" cy="494.04" r="5.4"/>
<circle cx="458.84" cy="494.87" r="5.4"/>
<circle cx="457.89" cy="494.3" r="5.4"/>
<circle cx="438.7" cy="486.43" r="5.4"/>
<circle cx="499.54" cy="500.41" r="5.4"/>
<circle cx="499.88" cy="483.12" r="5.4"/>
<circle cx="488.24" cy="480.98" r="5.4"/>
<circle cx="489.06" cy="499.41" r="5.4"/>
<circle cx="478.38" cy="472.57" r="5.4"/>
<circle cx="442.89" cy="475.66" r="5.4"/>
<circle cx="489.25" cy="497.41" r="5.4"/>
<circle cx="499.02" cy="495.85" r="5.4"/>
<circle cx="492.62" cy="496.81" r="5.4"/>
<circle cx="463.26" cy="482.42" r="5.4"/>
<circle cx="469.55" cy="491.29" r="5.4"/>
<circle cx="496.44" cy="501.19" r="5.4"/>
<circle cx="455.05" cy="490.1" r="5.4"/>
<circle cx="469.13" cy="477.72" r="5.4"/>
<circle cx="513.07" cy="486.45" r="5.4"/>
<circle cx="532.72" cy="503.33" r="5.4"/>
<circle cx="469.03" cy="474.31" r="5.4"/>
<circle cx="528.76" cy="489.83" r="5.4"/>
<circle cx="499" cy="468.94" r="5.4"/>
<circle cx="456.56" cy="488" r="5.4"/>
<circle cx="467.82" cy="476.2" r="5.4"/>
<circle cx="461.21" cy="478.87" r="5.4"/>
<circle cx="484.12" cy="470.32" r="5.4"/>
<circle cx="485.37" cy="489.99" r="5.4"/>
<circle cx="492.15" cy="500.09" r="5.4"/>
<circle cx="449.69" cy="514.17" r="5.4"/>
<circle cx="496.37" cy="500.11" r="5.4"/>
<circle cx="500.05" cy="509.15" r="5.4"/>
<circle cx="476.96" cy="505.87" r="5.4"/>
<circle cx="499.27" cy="499.34" r="5.4"/>
<circle cx="442.16" cy="485.84" r="5.4"/>
<circle cx="485.35" cy="479.95" r="5.4"/>
<circle cx="434.69" cy="509.78" r="5.4"/>
<circle cx="484.83" cy="473.85" r="5.4"/>
<circle cx="450.56" cy="504.6" r="5.4"/>
<circle cx="465.1" cy="497.14" r="5.4"/>
<circle cx="452.08" cy="501.47" r="5.4"/>
<circle cx="451.01" cy="496.12" r="5.4"/>
<circle cx="439.19" cy="500.66" r="5.4"/>
<circle cx="461.47" cy="506.63" r="5.4"/>
<circle cx="480.74" cy="505.03" r="5.4"/>
<circle cx="492.94" cy="502.1" r="5.4"/>
<circle cx="511.64" cy="494.04" r="5.4"/>
<circle cx="454.49" cy="479.62" r="5.4"/>
<circle cx="523.71" cy="498.29" r="5.4"/>
<circle cx="452.29" cy="510.77" r="5.4"/>
<circle cx="490.61" cy="498.28" r="5.4"/>
<circle cx="458.3" cy="472.74" r="5.4"/>
<circle cx="459.8" cy="498.76" r="5.4"/>
<circle cx="507.4" cy="496.35" r="5.4"/>
<circle cx="433.97" cy="481.45" r="5.4"/>
<circle cx="437.3" cy="488.38" r="5.4"/>
<circle cx="451.36" cy="481.24" r="5.4"/>
<circle cx="475.22" cy="476.51" r="5.4"/>
<circle cx="483.5" cy="512" r="5.4"/>
<circle cx="465.32" cy="489.61" r="5.4"/>
<circle cx="504.46" cy="481.01" r="5.4"/>
<circle cx="461.75" cy="493.73" r="5.4"/>
<circle cx="442.31" cy="493.25" r="5.4"/>
<circle cx="440.44" cy="507.96" r="5.4"/>
<circle cx="460.92" cy="484.35" r="5.4"/>
<circle cx="473.36" cy="480.93" r="5.4"/>
<circle cx="449.64" cy="487.34" r="5.4"/>
<circle cx="471.7" cy="487.31" r="5.4"/>
<circle cx="506" cy="503.12" r="5.4"/>
<circle cx="470.07" cy="494.28" r="5.4"/>
<circle cx="439.75" cy="498.66" r="5.4"/>
<circle cx="467.87" cy="481.89" r="5.4"/>
<circle cx="488.51" cy="484.79" r="5.4"/>
<circle cx="472.25" cy="505.9" r="5.4"/>
<circle cx="484.77" cy="483.02" r="5.4"/>
<circle cx="473.53" cy="467.08" r="5.4"/>
<circle cx="458.94" cy="468.53" r="5.4"/>
<circle cx="511.96" cy="506.29" r="5.4"/>
<circle cx="491.88" cy="471.43" r="5.4"/>
<circle cx="457.68" cy="491.23" r="5.4"/>
<circle cx="448.58" cy="496.66" r="5.4"/>
<circle cx="449.51" cy="503.65" r="5.4"/>
<circle cx="492.18" cy="506.55" r="5.4"/>
<circle cx="502.95" cy="486.07" r="5.4"/>
<circle cx="505.46" cy="482.57" r="5.4"/>
<circle cx="468.34" cy="504.49" r="5.4"/>
<circle cx="451.14" cy="490.99" r="5.4"/>
<circle cx="464.52" cy="495.87" r="5.4"/>
<circle cx="458.42" cy="509.67" r="5.4"/>
<circle cx="434.59" cy="495.7" r="5.4"/>
<circle cx="498.73" cy="495.57" r="5.4"/>
<circle cx="467.95" cy="483.48" r="5.4"/>
<circle cx="470.01" cy="497.61" r="5.4"/>
<circle cx="503.67" cy="497.4" r="5.4"/>
<circle cx="463.13" cy="476.28" r="5.4"/>
<circle cx="500.93" cy="509.24" r="5.4"/>
<circle cx="476.88" cy="490.09" r="5.4"/>
<circle cx="442.59" cy="492.42" r="5.4"/>
<circle cx="465.59" cy="480.57" r="5.4"/>
<circle cx="237.1" cy="492.3" r="5.4"/>
<circle cx="231.4" cy="478.63" r="5.4"/>
<circle cx="237" cy="488.66" r="5.4"/>
<circle cx="337.6" cy="457.1" r="5.4"/>
<circle cx="353.1" cy="452.43" r="5.4"/>
<circle cx="354.2" cy="457.42" r="5.4"/>
<circle cx="364.8" cy="451.24" r="5.4"/>
<circle cx="389.6" cy="453.13" r="5.4"/>
<circle cx="381.6" cy="458.07" r="5.4"/>
<circle cx="398.5" cy="463.46" r="5.4"/>
<circle cx="374.1" cy="465.66" r="5.4"/>
<circle cx="445.9" cy="470.51" r="5.4"/>
<circle cx="458.1" cy="455.61" r="5.4"/>
<circle cx="466.4" cy="454.36" r="5.4"/>
<circle cx="471.7" cy="454.67" r="5.4"/>
<circle cx="495.6" cy="453.13" r="5.4"/>
<circle cx="506.9" cy="459.18" r="5.4"/>
<circle cx="482.5" cy="462.27" r="5.4"/>
<circle cx="499.7" cy="469.69" r="5.4"/>
<circle cx="522.2" cy="464.3" r="5.4"/>
<circle cx="473.5" cy="470.37" r="5.4"/>
<circle cx="493.2" cy="482.46" r="5.4"/>
<circle cx="469.7" cy="438.39" r="5.4"/>
<circle cx="492.6" cy="441.94" r="5.4"/>
<circle cx="456.2" cy="471.07" r="5.4"/>
<circle cx="424.2" cy="472.05" r="5.4"/>
<circle cx="414.6" cy="471.07" r="5.4"/>
<circle cx="525.2" cy="464.3" r="5.4"/>
<circle cx="527.6" cy="476.69" r="5.4"/>
<circle cx="531.2" cy="483.76" r="5.4"/>
<circle cx="531.7" cy="511.41" r="5.4"/>
<circle cx="529.4" cy="484.72" r="5.4"/>
<circle cx="538.7" cy="476.38" r="5.4"/>
<circle cx="571.6" cy="474.38" r="5.4"/>
<circle cx="569.8" cy="494.54" r="5.4"/>
<circle cx="565.7" cy="506.08" r="5.4"/>
<circle cx="583.5" cy="479.64" r="5.4"/>
<circle cx="584.7" cy="434.13" r="5.4"/>
<circle cx="659.7" cy="454.67" r="5.4"/>
<circle cx="658.5" cy="462.27" r="5.4"/>
<circle cx="660.2" cy="460.87" r="5.4"/>
<circle cx="258.2" cy="476.53" r="5.4"/>
<circle cx="278.2" cy="472.77" r="5.4"/>
<circle cx="327.7" cy="474.24" r="5.4"/>
<circle cx="271.7" cy="478.63" r="5.4"/>
<circle cx="376.9" cy="480.67" r="5.4"/>
<circle cx="426.5" cy="486.32" r="5.4"/>
</g>
<path d="M541.21 483.11 L543.36 482.82 L545.51 482.51 L547.66 482.2 L549.81 481.87 L551.96 481.53 L554.11 481.18 L556.26 480.82 L558.41 480.46 L560.57 480.09 L562.72 479.71 L564.87 479.32 L567.02 478.92 L569.17 478.52 L571.32 478.1 L573.47 477.68 L575.62 477.24 L577.77 476.8 L579.92 476.36 L582.07 475.9 L584.22 475.44 L586.37 474.97 L588.53 474.5 L590.68 474.01 L592.83 473.52 L594.98 473.02 L597.13 472.52 L599.28 472 L601.43 471.47 L603.58 470.94 L605.73 470.4 L607.88 469.86 L610.03 469.31 L612.18 468.75 L614.33 468.19 L616.48 467.62 L618.64 467.06 L620.79 466.48 L622.94 465.9 L625.09 465.32 L627.24 464.73 L629.39 464.13 L631.54 463.53 L633.69 462.92 L635.84 462.3 L637.99 461.68 L640.14 461.06 L642.29 460.43 L644.44 459.79 L646.6 459.15 L648.75 458.5 L650.9 457.84 L653.05 457.17 L655.2 456.5 L657.35 455.83 L659.5 455.16 L659.5 467.24 L657.35 467.58 L655.2 467.93 L653.05 468.28 L650.9 468.63 L648.75 468.98 L646.6 469.32 L644.44 469.66 L642.29 469.99 L640.14 470.32 L637.99 470.65 L635.84 470.98 L633.69 471.3 L631.54 471.62 L629.39 471.94 L627.24 472.26 L625.09 472.57 L622.94 472.89 L620.79 473.2 L618.64 473.5 L616.48 473.81 L614.33 474.11 L612.18 474.42 L610.03 474.73 L607.88 475.03 L605.73 475.33 L603.58 475.63 L601.43 475.93 L599.28 476.22 L597.13 476.51 L594.98 476.79 L592.83 477.07 L590.68 477.35 L588.53 477.62 L586.37 477.89 L584.22 478.16 L582.07 478.42 L579.92 478.69 L577.77 478.95 L575.62 479.21 L573.47 479.47 L571.32 479.72 L569.17 479.97 L567.02 480.22 L564.87 480.47 L562.72 480.71 L560.57 480.95 L558.41 481.19 L556.26 481.43 L554.11 481.67 L551.96 481.91 L549.81 482.15 L547.66 482.39 L545.51 482.63 L543.36 482.88 L541.21 483.12 Z" fill="#000" fill-opacity="0.08"/>
<path d="M231.5 487 L233.65 487.74 L235.8 488.52 L237.95 489.3 L240.1 490.06 L242.25 490.75 L244.4 491.35 L246.56 491.87 L248.71 492.35 L250.86 492.81 L253.01 493.24 L255.16 493.63 L257.31 493.98 L259.46 494.29 L261.61 494.56 L263.76 494.79 L265.91 495.01 L268.06 495.22 L270.21 495.42 L272.36 495.61 L274.52 495.78 L276.67 495.93 L278.82 496.06 L280.97 496.17 L283.12 496.25 L285.27 496.31 L287.42 496.35 L289.57 496.39 L291.72 496.43 L293.87 496.46 L296.02 496.5 L298.17 496.52 L300.32 496.55 L302.47 496.57 L304.63 496.58 L306.78 496.59 L308.93 496.6 L311.08 496.6 L313.23 496.59 L315.38 496.57 L317.53 496.54 L319.68 496.51 L321.83 496.46 L323.98 496.42 L326.13 496.37 L328.28 496.31 L330.43 496.26 L332.59 496.2 L334.74 496.14 L336.89 496.08 L339.04 496.02 L341.19 495.97 L343.34 495.91 L345.49 495.85 L347.64 495.79 L349.79 495.72 L351.94 495.65 L354.09 495.58 L356.24 495.51 L358.39 495.43 L360.55 495.36 L362.7 495.28 L364.85 495.2 L367 495.12 L369.15 495.03 L371.3 494.95 L373.45 494.86 L375.6 494.77 L377.75 494.68 L379.9 494.58 L382.05 494.48 L384.2 494.38 L386.35 494.28 L388.51 494.18 L390.66 494.07 L392.81 493.96 L394.96 493.86 L397.11 493.75 L399.26 493.64 L401.41 493.53 L403.56 493.42 L405.71 493.3 L407.86 493.19 L410.01 493.07 L412.16 492.95 L414.31 492.83 L416.46 492.71 L418.62 492.58 L420.77 492.46 L422.92 492.33 L425.07 492.21 L427.22 492.08 L429.37 491.95 L431.52 491.82 L433.67 491.68 L435.82 491.55 L437.97 491.41 L440.12 491.27 L442.27 491.13 L444.42 490.99 L446.58 490.84 L448.73 490.7 L450.88 490.55 L453.03 490.4 L455.18 490.25 L457.33 490.1 L459.48 489.95 L461.63 489.79 L463.78 489.64 L465.93 489.49 L468.08 489.34 L470.23 489.18 L472.38 489.03 L474.54 488.88 L476.69 488.73 L478.84 488.57 L480.99 488.42 L483.14 488.27 L485.29 488.11 L487.44 487.96 L489.59 487.8 L491.74 487.64 L493.89 487.48 L496.04 487.31 L498.19 487.14 L500.34 486.97 L502.49 486.8 L504.65 486.63 L506.8 486.45 L508.95 486.28 L511.1 486.1 L513.25 485.92 L515.4 485.74 L517.55 485.55 L519.7 485.36 L521.85 485.16 L524 484.96 L526.15 484.76 L528.3 484.55 L530.45 484.33 L532.61 484.1 L534.76 483.87 L536.91 483.63 L539.06 483.38 L541.21 483.12 L543.36 482.85 L545.51 482.57 L547.66 482.29 L549.81 482.01 L551.96 481.72 L554.11 481.42 L556.26 481.13 L558.41 480.82 L560.57 480.52 L562.72 480.21 L564.87 479.89 L567.02 479.57 L569.17 479.24 L571.32 478.91 L573.47 478.57 L575.62 478.23 L577.77 477.88 L579.92 477.52 L582.07 477.16 L584.22 476.8 L586.37 476.43 L588.53 476.06 L590.68 475.68 L592.83 475.3 L594.98 474.91 L597.13 474.51 L599.28 474.11 L601.43 473.7 L603.58 473.29 L605.73 472.87 L607.88 472.44 L610.03 472.02 L612.18 471.59 L614.33 471.15 L616.48 470.72 L618.64 470.28 L620.79 469.84 L622.94 469.4 L625.09 468.95 L627.24 468.49 L629.39 468.04 L631.54 467.57 L633.69 467.11 L635.84 466.64 L637.99 466.17 L640.14 465.69 L642.29 465.21 L644.44 464.73 L646.6 464.24 L648.75 463.74 L650.9 463.24 L653.05 462.73 L655.2 462.22 L657.35 461.71 L659.5 461.2" fill="none" stroke="#3aaf85" stroke-width="3.6"/>
</g>
<text x="196.6" y="529" font-size="27" fill="#7f7f7f" text-anchor="end">0</text>
<text x="196.6" y="497.8" font-size="27" fill="#7f7f7f" text-anchor="end">1</text>
<text x="196.6" y="466.6" font-size="27" fill="#7f7f7f" text-anchor="end">2</text>
<text x="337.85" y="556.8" font-size="27" fill="#7f7f7f" text-anchor="middle">10000</text>
<text x="531.6" y="556.8" font-size="27" fill="#7f7f7f" text-anchor="middle">20000</text>
<text x="445.6" y="596.8" font-size="29" fill="#474747" text-anchor="middle">Fitted values</text>
<text x="57" y="469.8" font-size="29" fill="#474747" text-anchor="middle" transform="rotate(-90 57 469.8)">|Std. residuals|</text>
<path d="M27.2 371.2 L27.2 568.8 L62.8 574.1 L47.6 578.2 L48.8 581.8" fill="none" stroke="#474747" stroke-width="2" stroke-linejoin="miter"/>
<g clip-path="url(#cellL)">
<text x="27.2" y="375.7" font-size="31.5" fill="#000" text-anchor="start">Homogeneity of Variance</text>
<text x="27.2" y="410.9" font-size="27.2" fill="#000" text-anchor="start">Reference line should be flat and horizontal</text>
</g>
</g>
<g>
<g shape-rendering="crispEdges" stroke="#e8e8e8" stroke-width="2">
<path d="M922 428 V523"/>
<path d="M1034 428 V523"/>
<path d="M1146 428 V523"/>
<path d="M1258 428 V523"/>
<path d="M866 428 V523"/>
<path d="M978 428 V523"/>
<path d="M1090 428 V523"/>
<path d="M1202 428 V523"/>
<path d="M1314 428 V523"/>
<path d="M845 441 H1316"/>
<path d="M845 464 H1316"/>
<path d="M845 487 H1316"/>
<path d="M845 511 H1316"/>
<path d="M845 429 H1316"/>
<path d="M845 452 H1316"/>
<path d="M845 476 H1316"/>
<path d="M845 499 H1316"/>
<path d="M845 522 H1316"/>
</g>
<g shape-rendering="crispEdges" stroke="#c6c6c6" stroke-width="2"><path d="M845 428 V524"/><path d="M844 523 H1316"/></g>
<g clip-path="url(#c4)">
<line x1="866" y1="522.9" x2="866" y2="428" stroke="#9b9b9b" stroke-width="1.8" stroke-dasharray="8 8"/>
<line x1="846" y1="475.6" x2="1316" y2="475.6" stroke="#9b9b9b" stroke-width="1.7" stroke-dasharray="7.6 8.4"/>
<g fill="#1b6ca8" fill-opacity="0.8">
<circle cx="885.08" cy="475.71" r="5.3"/>
<circle cx="884.41" cy="475.85" r="5.3"/>
<circle cx="896.61" cy="477.29" r="5.3"/>
<circle cx="885.5" cy="476.91" r="5.3"/>
<circle cx="879.38" cy="474.24" r="5.3"/>
<circle cx="876.42" cy="474.68" r="5.3"/>
<circle cx="887.76" cy="475.35" r="5.3"/>
<circle cx="880.19" cy="476.45" r="5.3"/>
<circle cx="880.78" cy="477.56" r="5.3"/>
<circle cx="894.83" cy="476.2" r="5.3"/>
<circle cx="880.72" cy="474.91" r="5.3"/>
<circle cx="875.35" cy="474.04" r="5.3"/>
<circle cx="891.12" cy="474.37" r="5.3"/>
<circle cx="907.28" cy="475.64" r="5.3"/>
<circle cx="889.59" cy="475.38" r="5.3"/>
<circle cx="872.21" cy="476.03" r="5.3"/>
<circle cx="882.49" cy="476.63" r="5.3"/>
<circle cx="900.05" cy="475.38" r="5.3"/>
<circle cx="893.54" cy="475.03" r="5.3"/>
<circle cx="895.81" cy="476.15" r="5.3"/>
<circle cx="882.58" cy="473.94" r="5.3"/>
<circle cx="877.43" cy="475.08" r="5.3"/>
<circle cx="881.47" cy="474.61" r="5.3"/>
<circle cx="887.19" cy="476" r="5.3"/>
<circle cx="882.78" cy="475.32" r="5.3"/>
<circle cx="904.63" cy="477.53" r="5.3"/>
<circle cx="924.98" cy="473.1" r="5.3"/>
<circle cx="878.12" cy="476.26" r="5.3"/>
<circle cx="902.58" cy="476.78" r="5.3"/>
<circle cx="885.83" cy="476.13" r="5.3"/>
<circle cx="901.9" cy="474.9" r="5.3"/>
<circle cx="887.91" cy="476.3" r="5.3"/>
<circle cx="890.29" cy="476.64" r="5.3"/>
<circle cx="890.84" cy="475.63" r="5.3"/>
<circle cx="881.64" cy="473.72" r="5.3"/>
<circle cx="897.83" cy="473.83" r="5.3"/>
<circle cx="871.85" cy="476.52" r="5.3"/>
<circle cx="896.7" cy="474.66" r="5.3"/>
<circle cx="896.66" cy="474.92" r="5.3"/>
<circle cx="878.57" cy="476.72" r="5.3"/>
<circle cx="876.45" cy="475.28" r="5.3"/>
<circle cx="877.44" cy="475.9" r="5.3"/>
<circle cx="880.34" cy="475.91" r="5.3"/>
<circle cx="904.6" cy="476.83" r="5.3"/>
<circle cx="871.62" cy="475.31" r="5.3"/>
<circle cx="883.34" cy="475.94" r="5.3"/>
<circle cx="872.49" cy="475.63" r="5.3"/>
<circle cx="875.94" cy="476.17" r="5.3"/>
<circle cx="875.18" cy="474.65" r="5.3"/>
<circle cx="887.02" cy="474.58" r="5.3"/>
<circle cx="882.39" cy="475.09" r="5.3"/>
<circle cx="893.01" cy="474.52" r="5.3"/>
<circle cx="894.71" cy="475.71" r="5.3"/>
<circle cx="876.06" cy="474.53" r="5.3"/>
<circle cx="893.2" cy="475.72" r="5.3"/>
<circle cx="887.32" cy="475.95" r="5.3"/>
<circle cx="916.69" cy="472.54" r="5.3"/>
<circle cx="872.81" cy="474.04" r="5.3"/>
<circle cx="912.27" cy="477.24" r="5.3"/>
<circle cx="887.28" cy="475.72" r="5.3"/>
<circle cx="875.98" cy="475.73" r="5.3"/>
<circle cx="896.96" cy="475.18" r="5.3"/>
<circle cx="886.32" cy="477.15" r="5.3"/>
<circle cx="877.07" cy="477.02" r="5.3"/>
<circle cx="888.51" cy="475.95" r="5.3"/>
<circle cx="898.55" cy="476.27" r="5.3"/>
<circle cx="872.81" cy="475.84" r="5.3"/>
<circle cx="886" cy="476.06" r="5.3"/>
<circle cx="891.21" cy="474.59" r="5.3"/>
<circle cx="881.56" cy="475.76" r="5.3"/>
<circle cx="889.3" cy="475.17" r="5.3"/>
<circle cx="891.35" cy="475.35" r="5.3"/>
<circle cx="899.05" cy="475.15" r="5.3"/>
<circle cx="885.37" cy="476.18" r="5.3"/>
<circle cx="881.75" cy="477.04" r="5.3"/>
<circle cx="877.44" cy="475.7" r="5.3"/>
<circle cx="923.69" cy="475.19" r="5.3"/>
<circle cx="898.66" cy="475.28" r="5.3"/>
<circle cx="917.36" cy="475.02" r="5.3"/>
<circle cx="912.58" cy="474.68" r="5.3"/>
<circle cx="884.57" cy="475.88" r="5.3"/>
<circle cx="902.74" cy="475.82" r="5.3"/>
<circle cx="895.73" cy="475.95" r="5.3"/>
<circle cx="910.7" cy="475.57" r="5.3"/>
<circle cx="879.23" cy="477.64" r="5.3"/>
<circle cx="884.34" cy="473.46" r="5.3"/>
<circle cx="874.63" cy="476.28" r="5.3"/>
<circle cx="883.24" cy="475.72" r="5.3"/>
<circle cx="894.53" cy="474.15" r="5.3"/>
<circle cx="871.57" cy="475.42" r="5.3"/>
<circle cx="895.87" cy="474.28" r="5.3"/>
<circle cx="880.21" cy="477.55" r="5.3"/>
<circle cx="891.89" cy="476.49" r="5.3"/>
<circle cx="880.36" cy="475.62" r="5.3"/>
<circle cx="876.48" cy="475.81" r="5.3"/>
<circle cx="883.93" cy="475.09" r="5.3"/>
<circle cx="884.03" cy="476.39" r="5.3"/>
<circle cx="883.35" cy="475.74" r="5.3"/>
<circle cx="890.53" cy="476.73" r="5.3"/>
<circle cx="881.27" cy="473.79" r="5.3"/>
<circle cx="879.62" cy="476.25" r="5.3"/>
<circle cx="887.56" cy="474.77" r="5.3"/>
<circle cx="876.28" cy="475.53" r="5.3"/>
<circle cx="884.91" cy="475.09" r="5.3"/>
<circle cx="882.31" cy="476.3" r="5.3"/>
<circle cx="889.9" cy="474.97" r="5.3"/>
<circle cx="873.9" cy="476.49" r="5.3"/>
<circle cx="873.66" cy="476.49" r="5.3"/>
<circle cx="898.14" cy="475.68" r="5.3"/>
<circle cx="886.27" cy="474.59" r="5.3"/>
<circle cx="877.31" cy="476.52" r="5.3"/>
<circle cx="882.67" cy="475.33" r="5.3"/>
<circle cx="876.5" cy="475.81" r="5.3"/>
<circle cx="879.87" cy="474.13" r="5.3"/>
<circle cx="893.62" cy="476.24" r="5.3"/>
<circle cx="888.81" cy="475.08" r="5.3"/>
<circle cx="882.5" cy="474.03" r="5.3"/>
<circle cx="871.63" cy="473.97" r="5.3"/>
<circle cx="923.69" cy="476.36" r="5.3"/>
<circle cx="907.87" cy="475.29" r="5.3"/>
<circle cx="878.71" cy="474.36" r="5.3"/>
<circle cx="893.3" cy="475.14" r="5.3"/>
<circle cx="881.86" cy="476.23" r="5.3"/>
<circle cx="878.52" cy="475.1" r="5.3"/>
<circle cx="885.5" cy="474.72" r="5.3"/>
<circle cx="879.52" cy="477.26" r="5.3"/>
<circle cx="874.89" cy="475.05" r="5.3"/>
<circle cx="901.35" cy="476.21" r="5.3"/>
<circle cx="882.26" cy="476.81" r="5.3"/>
<circle cx="908.38" cy="477.98" r="5.3"/>
<circle cx="883.91" cy="477.01" r="5.3"/>
<circle cx="908.76" cy="477.48" r="5.3"/>
<circle cx="873.28" cy="476.71" r="5.3"/>
<circle cx="891.27" cy="475.17" r="5.3"/>
<circle cx="891.41" cy="476.5" r="5.3"/>
<circle cx="898.48" cy="475.79" r="5.3"/>
<circle cx="889.43" cy="475.37" r="5.3"/>
<circle cx="883.48" cy="475.09" r="5.3"/>
<circle cx="897.42" cy="476.03" r="5.3"/>
<circle cx="891.57" cy="476.96" r="5.3"/>
<circle cx="903.22" cy="475.56" r="5.3"/>
<circle cx="881.88" cy="476.33" r="5.3"/>
<circle cx="873.71" cy="475.72" r="5.3"/>
<circle cx="894.88" cy="475.11" r="5.3"/>
<circle cx="916.29" cy="477.38" r="5.3"/>
<circle cx="884.97" cy="475.42" r="5.3"/>
<circle cx="894.68" cy="475.03" r="5.3"/>
<circle cx="883.66" cy="474.66" r="5.3"/>
<circle cx="876.12" cy="475.34" r="5.3"/>
<circle cx="879.2" cy="474.96" r="5.3"/>
<circle cx="891.19" cy="477.34" r="5.3"/>
<circle cx="876.41" cy="475.26" r="5.3"/>
<circle cx="905.71" cy="474.15" r="5.3"/>
<circle cx="879.19" cy="476.38" r="5.3"/>
<circle cx="898.57" cy="476.6" r="5.3"/>
<circle cx="881.94" cy="474.21" r="5.3"/>
<circle cx="883.68" cy="474.93" r="5.3"/>
<circle cx="891.62" cy="475.85" r="5.3"/>
<circle cx="891.5" cy="475.46" r="5.3"/>
<circle cx="891.22" cy="475.46" r="5.3"/>
<circle cx="926.44" cy="476.71" r="5.3"/>
<circle cx="883.08" cy="473.84" r="5.3"/>
<circle cx="880.49" cy="474.92" r="5.3"/>
<circle cx="880.53" cy="476.21" r="5.3"/>
<circle cx="889.11" cy="476.24" r="5.3"/>
<circle cx="895.99" cy="475.15" r="5.3"/>
<circle cx="896.97" cy="474.9" r="5.3"/>
<circle cx="872.56" cy="476.25" r="5.3"/>
<circle cx="880.7" cy="476.3" r="5.3"/>
<circle cx="885.37" cy="475.48" r="5.3"/>
<circle cx="879.96" cy="474.65" r="5.3"/>
<circle cx="907.38" cy="475.93" r="5.3"/>
<circle cx="878.02" cy="476.67" r="5.3"/>
<circle cx="903.46" cy="474.99" r="5.3"/>
<circle cx="902.25" cy="475.72" r="5.3"/>
<circle cx="889.06" cy="475.78" r="5.3"/>
<circle cx="883.26" cy="475.94" r="5.3"/>
<circle cx="903.5" cy="475.39" r="5.3"/>
<circle cx="877.46" cy="474.51" r="5.3"/>
<circle cx="888.32" cy="476.32" r="5.3"/>
<circle cx="875.07" cy="477.16" r="5.3"/>
<circle cx="882.34" cy="475.54" r="5.3"/>
<circle cx="882.2" cy="475" r="5.3"/>
<circle cx="891.55" cy="477.6" r="5.3"/>
<circle cx="876.85" cy="474.42" r="5.3"/>
<circle cx="882.46" cy="476" r="5.3"/>
<circle cx="920.67" cy="477.25" r="5.3"/>
<circle cx="891.52" cy="476.65" r="5.3"/>
<circle cx="878.91" cy="474.8" r="5.3"/>
<circle cx="894.75" cy="475.79" r="5.3"/>
<circle cx="883.5" cy="474.69" r="5.3"/>
<circle cx="910.44" cy="476.53" r="5.3"/>
<circle cx="885.05" cy="475.75" r="5.3"/>
<circle cx="896.1" cy="475.42" r="5.3"/>
<circle cx="899.45" cy="475.8" r="5.3"/>
<circle cx="879.93" cy="475.68" r="5.3"/>
<circle cx="904.51" cy="475.77" r="5.3"/>
<circle cx="880.98" cy="475.97" r="5.3"/>
<circle cx="915.37" cy="477.14" r="5.3"/>
<circle cx="885.84" cy="475.11" r="5.3"/>
<circle cx="883.47" cy="477.18" r="5.3"/>
<circle cx="883.62" cy="476.33" r="5.3"/>
<circle cx="876.9" cy="477.6" r="5.3"/>
<circle cx="897.48" cy="476.21" r="5.3"/>
<circle cx="878.66" cy="474.51" r="5.3"/>
<circle cx="900.07" cy="476.2" r="5.3"/>
<circle cx="885.93" cy="478.05" r="5.3"/>
<circle cx="877.62" cy="474.32" r="5.3"/>
<circle cx="885.36" cy="474.73" r="5.3"/>
<circle cx="871.68" cy="475.62" r="5.3"/>
<circle cx="892.49" cy="475.36" r="5.3"/>
<circle cx="878.8" cy="475.9" r="5.3"/>
<circle cx="898.71" cy="476.11" r="5.3"/>
<circle cx="893.59" cy="475.56" r="5.3"/>
<circle cx="872.69" cy="474.65" r="5.3"/>
<circle cx="879.19" cy="474.43" r="5.3"/>
<circle cx="901.29" cy="476.93" r="5.3"/>
<circle cx="875.79" cy="478.12" r="5.3"/>
<circle cx="875.79" cy="477.28" r="5.3"/>
<circle cx="882.09" cy="476.34" r="5.3"/>
<circle cx="874.82" cy="476.15" r="5.3"/>
<circle cx="893.71" cy="476.28" r="5.3"/>
<circle cx="887.98" cy="473.4" r="5.3"/>
<circle cx="879.73" cy="476.13" r="5.3"/>
<circle cx="908.68" cy="477.09" r="5.3"/>
<circle cx="883.19" cy="476.56" r="5.3"/>
<circle cx="915.67" cy="475.53" r="5.3"/>
<circle cx="880.96" cy="476.39" r="5.3"/>
<circle cx="877.23" cy="475.96" r="5.3"/>
<circle cx="874.73" cy="475.95" r="5.3"/>
<circle cx="893.45" cy="477.01" r="5.3"/>
<circle cx="875.05" cy="473.23" r="5.3"/>
<circle cx="907.29" cy="475.11" r="5.3"/>
<circle cx="879.29" cy="475.89" r="5.3"/>
<circle cx="900.92" cy="475.74" r="5.3"/>
<circle cx="879.07" cy="476.48" r="5.3"/>
<circle cx="871.71" cy="474.8" r="5.3"/>
<circle cx="886.35" cy="476.31" r="5.3"/>
<circle cx="872.14" cy="475.34" r="5.3"/>
<circle cx="890.67" cy="477.14" r="5.3"/>
<circle cx="878.14" cy="475.03" r="5.3"/>
<circle cx="889.91" cy="476.73" r="5.3"/>
<circle cx="890.13" cy="477.01" r="5.3"/>
<circle cx="880" cy="477.6" r="5.3"/>
<circle cx="923.64" cy="476.47" r="5.3"/>
<circle cx="894.84" cy="475.38" r="5.3"/>
<circle cx="917.34" cy="475.88" r="5.3"/>
<circle cx="878" cy="475.58" r="5.3"/>
<circle cx="901.35" cy="474.86" r="5.3"/>
<circle cx="878.08" cy="476.83" r="5.3"/>
<circle cx="884.35" cy="475.1" r="5.3"/>
<circle cx="908.52" cy="475.2" r="5.3"/>
<circle cx="892.21" cy="475.7" r="5.3"/>
<circle cx="877.19" cy="474.92" r="5.3"/>
<circle cx="874.31" cy="475.16" r="5.3"/>
<circle cx="876.93" cy="474.64" r="5.3"/>
<circle cx="921.24" cy="475.04" r="5.3"/>
<circle cx="880.28" cy="474.9" r="5.3"/>
<circle cx="889.37" cy="475.96" r="5.3"/>
<circle cx="890.64" cy="474.49" r="5.3"/>
<circle cx="926.83" cy="476.26" r="5.3"/>
<circle cx="899.21" cy="475.21" r="5.3"/>
<circle cx="886.29" cy="475.36" r="5.3"/>
<circle cx="890.13" cy="475.98" r="5.3"/>
<circle cx="888.11" cy="474.57" r="5.3"/>
<circle cx="892.5" cy="474.54" r="5.3"/>
<circle cx="893.39" cy="475.05" r="5.3"/>
<circle cx="872.14" cy="476.38" r="5.3"/>
<circle cx="877.46" cy="474.94" r="5.3"/>
<circle cx="879.37" cy="475.59" r="5.3"/>
<circle cx="900.65" cy="475.59" r="5.3"/>
<circle cx="906.15" cy="475.99" r="5.3"/>
<circle cx="895.05" cy="476.51" r="5.3"/>
<circle cx="908.69" cy="475.46" r="5.3"/>
<circle cx="879.22" cy="475.05" r="5.3"/>
<circle cx="884.21" cy="477.97" r="5.3"/>
<circle cx="886.02" cy="475.2" r="5.3"/>
<circle cx="890.38" cy="476.78" r="5.3"/>
<circle cx="882.29" cy="476.52" r="5.3"/>
<circle cx="883.32" cy="476.44" r="5.3"/>
<circle cx="884.26" cy="474.25" r="5.3"/>
<circle cx="875.06" cy="475.43" r="5.3"/>
<circle cx="879.63" cy="475.11" r="5.3"/>
<circle cx="886.75" cy="475.79" r="5.3"/>
<circle cx="908.34" cy="477.42" r="5.3"/>
<circle cx="906.09" cy="476.11" r="5.3"/>
<circle cx="871.16" cy="476.66" r="5.3"/>
<circle cx="881.22" cy="475.66" r="5.3"/>
<circle cx="885.28" cy="474.85" r="5.3"/>
<circle cx="879.61" cy="476.27" r="5.3"/>
<circle cx="892.11" cy="474.5" r="5.3"/>
<circle cx="888.36" cy="476.12" r="5.3"/>
<circle cx="875.31" cy="476.09" r="5.3"/>
<circle cx="875.24" cy="475.12" r="5.3"/>
<circle cx="891.1" cy="476.31" r="5.3"/>
<circle cx="878.79" cy="477.56" r="5.3"/>
<circle cx="908.82" cy="475.83" r="5.3"/>
<circle cx="891.26" cy="477.75" r="5.3"/>
<circle cx="911.15" cy="475.22" r="5.3"/>
<circle cx="884.86" cy="476.89" r="5.3"/>
<circle cx="877.41" cy="475.41" r="5.3"/>
<circle cx="889.51" cy="475.09" r="5.3"/>
<circle cx="890.85" cy="474.32" r="5.3"/>
<circle cx="898.08" cy="475.59" r="5.3"/>
<circle cx="884.68" cy="475.62" r="5.3"/>
<circle cx="885.58" cy="476.97" r="5.3"/>
<circle cx="877.75" cy="476.41" r="5.3"/>
<circle cx="916.41" cy="476.13" r="5.3"/>
<circle cx="889.57" cy="475.19" r="5.3"/>
<circle cx="884.98" cy="473.21" r="5.3"/>
<circle cx="886.45" cy="474.8" r="5.3"/>
<circle cx="904.91" cy="475.66" r="5.3"/>
<circle cx="871.74" cy="476.26" r="5.3"/>
<circle cx="880.6" cy="474.99" r="5.3"/>
<circle cx="880.32" cy="474.86" r="5.3"/>
<circle cx="883.67" cy="474.81" r="5.3"/>
<circle cx="889.4" cy="478.1" r="5.3"/>
<circle cx="911.41" cy="474.56" r="5.3"/>
<circle cx="893.17" cy="476.34" r="5.3"/>
<circle cx="887.18" cy="474.85" r="5.3"/>
<circle cx="877.65" cy="476.54" r="5.3"/>
<circle cx="903.32" cy="474.89" r="5.3"/>
<circle cx="896.33" cy="474.5" r="5.3"/>
<circle cx="884.75" cy="476.8" r="5.3"/>
<circle cx="879.53" cy="474.92" r="5.3"/>
<circle cx="919.23" cy="475.29" r="5.3"/>
<circle cx="882.26" cy="476.93" r="5.3"/>
<circle cx="872.66" cy="473.67" r="5.3"/>
<circle cx="892" cy="473.81" r="5.3"/>
<circle cx="892.43" cy="475.02" r="5.3"/>
<circle cx="875.37" cy="475.42" r="5.3"/>
<circle cx="879.12" cy="473.94" r="5.3"/>
<circle cx="886.3" cy="476.64" r="5.3"/>
<circle cx="875.71" cy="476.12" r="5.3"/>
<circle cx="872.91" cy="475.54" r="5.3"/>
<circle cx="892.18" cy="476.46" r="5.3"/>
<circle cx="879.57" cy="476.2" r="5.3"/>
<circle cx="875.46" cy="475.44" r="5.3"/>
<circle cx="882.78" cy="477.26" r="5.3"/>
<circle cx="879.56" cy="475.27" r="5.3"/>
<circle cx="879.11" cy="474.76" r="5.3"/>
<circle cx="881.11" cy="476.43" r="5.3"/>
<circle cx="877.3" cy="476.33" r="5.3"/>
<circle cx="886.41" cy="478.05" r="5.3"/>
<circle cx="878.09" cy="475.51" r="5.3"/>
<circle cx="887.29" cy="476.05" r="5.3"/>
<circle cx="877.13" cy="475.38" r="5.3"/>
<circle cx="893.76" cy="475.48" r="5.3"/>
<circle cx="891.16" cy="476.01" r="5.3"/>
<circle cx="874.28" cy="476.21" r="5.3"/>
<circle cx="878.22" cy="474.96" r="5.3"/>
<circle cx="880.91" cy="474.57" r="5.3"/>
<circle cx="894.88" cy="476.19" r="5.3"/>
<circle cx="873.01" cy="475.55" r="5.3"/>
<circle cx="877.2" cy="474.07" r="5.3"/>
<circle cx="886.89" cy="476.9" r="5.3"/>
<circle cx="907.04" cy="474.68" r="5.3"/>
<circle cx="894.31" cy="476.85" r="5.3"/>
<circle cx="907.79" cy="476.34" r="5.3"/>
<circle cx="887.94" cy="476.04" r="5.3"/>
<circle cx="877.96" cy="475.06" r="5.3"/>
<circle cx="915.85" cy="476.64" r="5.3"/>
<circle cx="882.94" cy="476.68" r="5.3"/>
<circle cx="871.7" cy="475.97" r="5.3"/>
<circle cx="899.01" cy="474.87" r="5.3"/>
<circle cx="880.08" cy="477.82" r="5.3"/>
<circle cx="874.24" cy="474.45" r="5.3"/>
<circle cx="904.73" cy="473.27" r="5.3"/>
<circle cx="901.84" cy="474.21" r="5.3"/>
<circle cx="914.87" cy="475.31" r="5.3"/>
<circle cx="921.75" cy="475.34" r="5.3"/>
<circle cx="881.57" cy="475.76" r="5.3"/>
<circle cx="873.9" cy="476.18" r="5.3"/>
<circle cx="922.1" cy="475.88" r="5.3"/>
<circle cx="892.54" cy="476.31" r="5.3"/>
<circle cx="910.77" cy="475.4" r="5.3"/>
<circle cx="878.15" cy="476.04" r="5.3"/>
<circle cx="878.82" cy="474.53" r="5.3"/>
<circle cx="872.97" cy="474.82" r="5.3"/>
<circle cx="892.65" cy="473.91" r="5.3"/>
<circle cx="886.87" cy="474.57" r="5.3"/>
<circle cx="885.3" cy="476.16" r="5.3"/>
<circle cx="881.26" cy="477.36" r="5.3"/>
<circle cx="871.37" cy="475.33" r="5.3"/>
<circle cx="878.28" cy="474.94" r="5.3"/>
<circle cx="894.51" cy="474.65" r="5.3"/>
<circle cx="917.76" cy="475.7" r="5.3"/>
<circle cx="892.96" cy="475.53" r="5.3"/>
<circle cx="881.15" cy="474.99" r="5.3"/>
<circle cx="889.19" cy="473.4" r="5.3"/>
<circle cx="885.6" cy="474.91" r="5.3"/>
<circle cx="877.12" cy="475.43" r="5.3"/>
<circle cx="914.31" cy="476.65" r="5.3"/>
<circle cx="896.19" cy="475.3" r="5.3"/>
<circle cx="873.22" cy="476.7" r="5.3"/>
<circle cx="894.84" cy="476.09" r="5.3"/>
<circle cx="877.91" cy="477.1" r="5.3"/>
<circle cx="882.98" cy="474.56" r="5.3"/>
<circle cx="889.68" cy="474.82" r="5.3"/>
<circle cx="886.21" cy="476.68" r="5.3"/>
<circle cx="883.48" cy="474.93" r="5.3"/>
<circle cx="921.93" cy="475.96" r="5.3"/>
<circle cx="886.07" cy="474.53" r="5.3"/>
<circle cx="883.98" cy="475.31" r="5.3"/>
<circle cx="927.99" cy="476.14" r="5.3"/>
<circle cx="888.51" cy="476.08" r="5.3"/>
<circle cx="889.42" cy="476.99" r="5.3"/>
<circle cx="877.5" cy="475.62" r="5.3"/>
<circle cx="905.43" cy="474.9" r="5.3"/>
<circle cx="913.98" cy="475.87" r="5.3"/>
<circle cx="874.15" cy="475.3" r="5.3"/>
<circle cx="886.95" cy="475.23" r="5.3"/>
<circle cx="875.16" cy="473.81" r="5.3"/>
<circle cx="889.8" cy="475.54" r="5.3"/>
<circle cx="883.7" cy="475.83" r="5.3"/>
<circle cx="888.41" cy="477.27" r="5.3"/>
<circle cx="889.92" cy="475.3" r="5.3"/>
<circle cx="880.25" cy="476.32" r="5.3"/>
<circle cx="892.95" cy="476.8" r="5.3"/>
<circle cx="894.86" cy="475.63" r="5.3"/>
<circle cx="894.9" cy="474.48" r="5.3"/>
<circle cx="893.21" cy="475.86" r="5.3"/>
<circle cx="880.96" cy="475.01" r="5.3"/>
<circle cx="873.37" cy="474.29" r="5.3"/>
<circle cx="923.87" cy="476.36" r="5.3"/>
<circle cx="879.48" cy="476.22" r="5.3"/>
<circle cx="893.33" cy="476.42" r="5.3"/>
<circle cx="886.51" cy="475.58" r="5.3"/>
<circle cx="889.55" cy="475.17" r="5.3"/>
<circle cx="880.98" cy="477.98" r="5.3"/>
<circle cx="893.04" cy="474.93" r="5.3"/>
<circle cx="878.45" cy="476.55" r="5.3"/>
<circle cx="891.53" cy="477.52" r="5.3"/>
<circle cx="878.19" cy="475.92" r="5.3"/>
<circle cx="884.35" cy="475.44" r="5.3"/>
<circle cx="879.66" cy="475.67" r="5.3"/>
<circle cx="892.29" cy="475.39" r="5.3"/>
<circle cx="888.89" cy="475.54" r="5.3"/>
<circle cx="873.88" cy="474.8" r="5.3"/>
<circle cx="889.84" cy="475.6" r="5.3"/>
<circle cx="871.95" cy="476.76" r="5.3"/>
<circle cx="872.06" cy="476.36" r="5.3"/>
<circle cx="883.06" cy="477.26" r="5.3"/>
<circle cx="896.99" cy="476.58" r="5.3"/>
<circle cx="881.78" cy="474.93" r="5.3"/>
<circle cx="898.59" cy="476.52" r="5.3"/>
<circle cx="873.54" cy="476.48" r="5.3"/>
<circle cx="888.73" cy="475.98" r="5.3"/>
<circle cx="893" cy="476.61" r="5.3"/>
<circle cx="901.11" cy="475.45" r="5.3"/>
<circle cx="888.65" cy="475.25" r="5.3"/>
<circle cx="889" cy="475.75" r="5.3"/>
<circle cx="894.17" cy="474.72" r="5.3"/>
<circle cx="870.99" cy="473.86" r="5.3"/>
<circle cx="876.91" cy="474.22" r="5.3"/>
<circle cx="889.31" cy="475.9" r="5.3"/>
<circle cx="909.28" cy="476.04" r="5.3"/>
<circle cx="877.66" cy="474.66" r="5.3"/>
<circle cx="877.19" cy="476.16" r="5.3"/>
<circle cx="880.94" cy="476.3" r="5.3"/>
<circle cx="896.78" cy="475.41" r="5.3"/>
<circle cx="910.06" cy="475.79" r="5.3"/>
<circle cx="912.46" cy="476.11" r="5.3"/>
<circle cx="897.35" cy="478.41" r="5.3"/>
<circle cx="873.57" cy="474.45" r="5.3"/>
<circle cx="874.45" cy="474.67" r="5.3"/>
<circle cx="878.14" cy="476.08" r="5.3"/>
<circle cx="881.86" cy="475.1" r="5.3"/>
<circle cx="873.76" cy="475.83" r="5.3"/>
<circle cx="883.43" cy="474.46" r="5.3"/>
<circle cx="889.17" cy="475.91" r="5.3"/>
<circle cx="874.7" cy="475.21" r="5.3"/>
<circle cx="890.36" cy="475.39" r="5.3"/>
<circle cx="889.08" cy="474.53" r="5.3"/>
<circle cx="872.83" cy="475.15" r="5.3"/>
<circle cx="902.52" cy="476.26" r="5.3"/>
<circle cx="903.51" cy="477.87" r="5.3"/>
<circle cx="884.36" cy="475.88" r="5.3"/>
<circle cx="874.05" cy="475.97" r="5.3"/>
<circle cx="896.56" cy="478.11" r="5.3"/>
<circle cx="875.75" cy="475.09" r="5.3"/>
<circle cx="890.84" cy="474.74" r="5.3"/>
<circle cx="892.13" cy="475.49" r="5.3"/>
<circle cx="882.58" cy="475.65" r="5.3"/>
<circle cx="899.2" cy="475.95" r="5.3"/>
<circle cx="889.89" cy="475.32" r="5.3"/>
<circle cx="876.88" cy="474.74" r="5.3"/>
<circle cx="891.46" cy="474.74" r="5.3"/>
<circle cx="877.01" cy="475.66" r="5.3"/>
<circle cx="903.19" cy="474.61" r="5.3"/>
<circle cx="874.39" cy="475.72" r="5.3"/>
<circle cx="886.28" cy="475.49" r="5.3"/>
<circle cx="910.43" cy="474.42" r="5.3"/>
<circle cx="887.54" cy="478.76" r="5.3"/>
<circle cx="893.41" cy="475.96" r="5.3"/>
<circle cx="890.06" cy="475.62" r="5.3"/>
<circle cx="890.42" cy="475.99" r="5.3"/>
<circle cx="900.97" cy="476.71" r="5.3"/>
<circle cx="890.69" cy="475.57" r="5.3"/>
<circle cx="885.81" cy="476.96" r="5.3"/>
<circle cx="873.25" cy="475.74" r="5.3"/>
<circle cx="871.39" cy="477.8" r="5.3"/>
<circle cx="885.79" cy="477.12" r="5.3"/>
<circle cx="881.22" cy="476.44" r="5.3"/>
<circle cx="899.15" cy="475.71" r="5.3"/>
<circle cx="881.86" cy="475.92" r="5.3"/>
<circle cx="892.59" cy="474" r="5.3"/>
<circle cx="916.17" cy="475.09" r="5.3"/>
<circle cx="873.14" cy="474.62" r="5.3"/>
<circle cx="888.37" cy="475.41" r="5.3"/>
<circle cx="876.58" cy="474.07" r="5.3"/>
<circle cx="892.11" cy="475.02" r="5.3"/>
<circle cx="911.91" cy="473.86" r="5.3"/>
<circle cx="886.33" cy="474.97" r="5.3"/>
<circle cx="893.13" cy="475.25" r="5.3"/>
<circle cx="896.48" cy="476.49" r="5.3"/>
<circle cx="872.05" cy="474.65" r="5.3"/>
<circle cx="880.32" cy="476.79" r="5.3"/>
<circle cx="885.49" cy="476.33" r="5.3"/>
<circle cx="880.77" cy="476.95" r="5.3"/>
<circle cx="939.89" cy="475.31" r="5.3"/>
<circle cx="945.71" cy="477.06" r="5.3"/>
<circle cx="950.19" cy="475.13" r="5.3"/>
<circle cx="1017.8" cy="475.6" r="4.6"/>
<circle cx="1078.7" cy="474.09" r="4.6"/>
<circle cx="1165.58" cy="479.1" r="4.6"/>
<circle cx="1231.4" cy="477.06" r="4.6"/>
</g>
<path d="M869.4 475.6 L876.61 475.6 L883.81 475.6 L891.02 475.6 L898.22 475.6 L905.43 475.6 L912.63 475.6 L919.84 475.6 L927.04 475.6 L934.25 475.6 L941.45 475.6 L948.66 475.6 L955.86 475.6 L963.07 475.6 L970.27 475.6 L977.48 475.6 L984.68 475.6 L991.89 475.6 L999.09 475.6 L1006.3 475.6 L1013.5 475.61 L1020.71 475.62 L1027.91 475.63 L1035.12 475.64 L1042.32 475.66 L1049.53 475.68 L1056.73 475.71 L1063.94 475.73 L1071.14 475.76 L1078.35 475.79 L1085.55 475.84 L1092.76 475.91 L1099.96 476 L1107.17 476.11 L1114.37 476.2 L1121.58 476.3 L1128.78 476.41 L1135.99 476.52 L1143.19 476.63 L1150.4 476.74 L1157.6 476.86 L1164.81 476.98 L1172.01 477.1 L1179.22 477.22 L1186.42 477.35 L1193.63 477.48 L1200.83 477.62 L1208.04 477.75 L1215.24 477.89 L1222.45 478.03 L1229.65 478.18 L1236.86 478.33 L1244.06 478.47 L1251.27 478.63 L1258.47 478.78 L1265.68 478.94 L1272.88 479.11 L1280.09 479.27 L1287.29 479.44 L1294.5 479.6" fill="none" stroke="#3aaf85" stroke-width="5.4"/>
<path d="M869.5 433.95 L870.5 438.87 L871.5 442.38 L872.5 445.04 L873.5 447.16" fill="none" stroke="#3aaf85" stroke-width="3.9"/>
<path d="M880.1 454.87 L880.97 455.48 L881.84 456.05 L882.71 456.56 L883.58 457.04 L884.45 457.49 L885.32 457.9 L886.18 458.29 L887.05 458.65 L887.92 458.99 L888.79 459.31 L889.66 459.62 L890.53 459.9 L891.4 460.18" fill="none" stroke="#3aaf85" stroke-width="3.9"/>
<path d="M904.2 463.04 L905.07 463.18 L905.93 463.32 L906.8 463.45 L907.67 463.58 L908.53 463.7 L909.4 463.82 L910.27 463.94 L911.13 464.05 L912 464.16 L912.87 464.27 L913.73 464.38 L914.6 464.48 L915.47 464.58 L916.33 464.67 L917.2 464.77 L918.07 464.86 L918.93 464.95 L919.8 465.04" fill="none" stroke="#3aaf85" stroke-width="3.9"/>
<path d="M936.05 466.36 L936.92 466.42 L937.78 466.47 L938.65 466.53 L939.52 466.58 L940.38 466.64 L941.25 466.69 L942.12 466.74 L942.98 466.79 L943.85 466.84 L944.72 466.89 L945.58 466.94 L946.45 466.99 L947.32 467.03 L948.18 467.08 L949.05 467.13 L949.92 467.17 L950.78 467.21 L951.65 467.26" fill="none" stroke="#3aaf85" stroke-width="3.9"/>
<path d="M967.9 467.97 L968.77 468 L969.63 468.03 L970.5 468.06 L971.37 468.1 L972.23 468.13 L973.1 468.16 L973.97 468.19 L974.83 468.22 L975.7 468.25 L976.57 468.28 L977.43 468.31 L978.3 468.34 L979.17 468.36 L980.03 468.39 L980.9 468.42 L981.77 468.45 L982.63 468.48 L983.5 468.5" fill="none" stroke="#3aaf85" stroke-width="3.9"/>
<path d="M999.75 468.96 L1000.62 468.98 L1001.48 469 L1002.35 469.03 L1003.22 469.05 L1004.08 469.07 L1004.95 469.09 L1005.82 469.11 L1006.68 469.13 L1007.55 469.15 L1008.42 469.17 L1009.28 469.19 L1010.15 469.21 L1011.02 469.23 L1011.88 469.25 L1012.75 469.27 L1013.62 469.29 L1014.48 469.31 L1015.35 469.33" fill="none" stroke="#3aaf85" stroke-width="3.9"/>
<path d="M1031.6 469.65 L1032.47 469.67 L1033.33 469.69 L1034.2 469.7 L1035.07 469.72 L1035.93 469.73 L1036.8 469.75 L1037.67 469.77 L1038.53 469.78 L1039.4 469.8 L1040.27 469.81 L1041.13 469.83 L1042 469.84 L1042.87 469.85 L1043.73 469.87 L1044.6 469.88 L1045.47 469.9 L1046.33 469.91 L1047.2 469.93" fill="none" stroke="#3aaf85" stroke-width="3.9"/>
<path d="M1063.45 470.18 L1064.32 470.19 L1065.18 470.2 L1066.05 470.21 L1066.92 470.22 L1067.78 470.24 L1068.65 470.25 L1069.52 470.26 L1070.38 470.27 L1071.25 470.28 L1072.12 470.3 L1072.98 470.31 L1073.85 470.32 L1074.72 470.33 L1075.58 470.34 L1076.45 470.35 L1077.32 470.37 L1078.18 470.38 L1079.05 470.39" fill="none" stroke="#3aaf85" stroke-width="3.9"/>
<path d="M1095.3 470.59 L1096.17 470.6 L1097.03 470.61 L1097.9 470.61 L1098.77 470.62 L1099.63 470.63 L1100.5 470.64 L1101.37 470.65 L1102.23 470.66 L1103.1 470.67 L1103.97 470.68 L1104.83 470.69 L1105.7 470.7 L1106.57 470.71 L1107.43 470.72 L1108.3 470.73 L1109.17 470.74 L1110.03 470.75 L1110.9 470.76" fill="none" stroke="#3aaf85" stroke-width="3.9"/>
<path d="M1127.15 470.92 L1128.02 470.93 L1128.88 470.94 L1129.75 470.94 L1130.62 470.95 L1131.48 470.96 L1132.35 470.97 L1133.22 470.98 L1134.08 470.98 L1134.95 470.99 L1135.82 471 L1136.68 471.01 L1137.55 471.01 L1138.42 471.02 L1139.28 471.03 L1140.15 471.04 L1141.02 471.05 L1141.88 471.05 L1142.75 471.06" fill="none" stroke="#3aaf85" stroke-width="3.9"/>
<path d="M1159 471.2 L1159.87 471.2 L1160.73 471.21 L1161.6 471.22 L1162.47 471.22 L1163.33 471.23 L1164.2 471.24 L1165.07 471.25 L1165.93 471.25 L1166.8 471.26 L1167.67 471.27 L1168.53 471.27 L1169.4 471.28 L1170.27 471.29 L1171.13 471.29 L1172 471.3 L1172.87 471.3 L1173.73 471.31 L1174.6 471.32" fill="none" stroke="#3aaf85" stroke-width="3.9"/>
<path d="M1190.85 471.43 L1191.72 471.44 L1192.58 471.45 L1193.45 471.45 L1194.32 471.46 L1195.18 471.46 L1196.05 471.47 L1196.92 471.48 L1197.78 471.48 L1198.65 471.49 L1199.52 471.49 L1200.38 471.5 L1201.25 471.5 L1202.12 471.51 L1202.98 471.52 L1203.85 471.52 L1204.72 471.53 L1205.58 471.53 L1206.45 471.54" fill="none" stroke="#3aaf85" stroke-width="3.9"/>
<path d="M1222.7 471.64 L1223.57 471.65 L1224.43 471.65 L1225.3 471.66 L1226.17 471.66 L1227.03 471.67 L1227.9 471.67 L1228.77 471.68 L1229.63 471.68 L1230.5 471.69 L1231.37 471.69 L1232.23 471.7 L1233.1 471.7 L1233.97 471.71 L1234.83 471.71 L1235.7 471.72 L1236.57 471.72 L1237.43 471.73 L1238.3 471.73" fill="none" stroke="#3aaf85" stroke-width="3.9"/>
<path d="M1254.55 471.82 L1255.42 471.83 L1256.28 471.83 L1257.15 471.83 L1258.02 471.84 L1258.88 471.84 L1259.75 471.85 L1260.62 471.85 L1261.48 471.86 L1262.35 471.86 L1263.22 471.87 L1264.08 471.87 L1264.95 471.87 L1265.82 471.88 L1266.68 471.88 L1267.55 471.89 L1268.42 471.89 L1269.28 471.9 L1270.15 471.9" fill="none" stroke="#3aaf85" stroke-width="3.9"/>
<path d="M1286.4 471.98 L1287.34 471.99 L1288.27 471.99 L1289.21 471.99 L1290.15 472 L1291.09 472 L1292.02 472.01 L1292.96 472.01 L1293.9 472.02" fill="none" stroke="#3aaf85" stroke-width="3.9"/>
<path d="M869.5 517.25 L870.5 512.33 L871.5 508.82 L872.5 506.16 L873.5 504.04" fill="none" stroke="#3aaf85" stroke-width="3.9"/>
<path d="M880.1 496.33 L880.97 495.72 L881.84 495.15 L882.71 494.64 L883.58 494.16 L884.45 493.71 L885.32 493.3 L886.18 492.91 L887.05 492.55 L887.92 492.21 L888.79 491.89 L889.66 491.58 L890.53 491.3 L891.4 491.02" fill="none" stroke="#3aaf85" stroke-width="3.9"/>
<path d="M904.2 488.16 L905.07 488.02 L905.93 487.88 L906.8 487.75 L907.67 487.62 L908.53 487.5 L909.4 487.38 L910.27 487.26 L911.13 487.15 L912 487.04 L912.87 486.93 L913.73 486.82 L914.6 486.72 L915.47 486.62 L916.33 486.53 L917.2 486.43 L918.07 486.34 L918.93 486.25 L919.8 486.16" fill="none" stroke="#3aaf85" stroke-width="3.9"/>
<path d="M936.05 484.84 L936.92 484.78 L937.78 484.73 L938.65 484.67 L939.52 484.62 L940.38 484.56 L941.25 484.51 L942.12 484.46 L942.98 484.41 L943.85 484.36 L944.72 484.31 L945.58 484.26 L946.45 484.21 L947.32 484.17 L948.18 484.12 L949.05 484.07 L949.92 484.03 L950.78 483.99 L951.65 483.94" fill="none" stroke="#3aaf85" stroke-width="3.9"/>
<path d="M967.9 483.23 L968.77 483.2 L969.63 483.17 L970.5 483.14 L971.37 483.1 L972.23 483.07 L973.1 483.04 L973.97 483.01 L974.83 482.98 L975.7 482.95 L976.57 482.92 L977.43 482.89 L978.3 482.86 L979.17 482.84 L980.03 482.81 L980.9 482.78 L981.77 482.75 L982.63 482.72 L983.5 482.7" fill="none" stroke="#3aaf85" stroke-width="3.9"/>
<path d="M999.75 482.24 L1000.62 482.22 L1001.48 482.2 L1002.35 482.17 L1003.22 482.15 L1004.08 482.13 L1004.95 482.11 L1005.82 482.09 L1006.68 482.07 L1007.55 482.05 L1008.42 482.03 L1009.28 482.01 L1010.15 481.99 L1011.02 481.97 L1011.88 481.95 L1012.75 481.93 L1013.62 481.91 L1014.48 481.89 L1015.35 481.87" fill="none" stroke="#3aaf85" stroke-width="3.9"/>
<path d="M1031.6 481.55 L1032.47 481.53 L1033.33 481.51 L1034.2 481.5 L1035.07 481.48 L1035.93 481.47 L1036.8 481.45 L1037.67 481.43 L1038.53 481.42 L1039.4 481.4 L1040.27 481.39 L1041.13 481.37 L1042 481.36 L1042.87 481.35 L1043.73 481.33 L1044.6 481.32 L1045.47 481.3 L1046.33 481.29 L1047.2 481.27" fill="none" stroke="#3aaf85" stroke-width="3.9"/>
<path d="M1063.45 481.02 L1064.32 481.01 L1065.18 481 L1066.05 480.99 L1066.92 480.98 L1067.78 480.96 L1068.65 480.95 L1069.52 480.94 L1070.38 480.93 L1071.25 480.92 L1072.12 480.9 L1072.98 480.89 L1073.85 480.88 L1074.72 480.87 L1075.58 480.86 L1076.45 480.85 L1077.32 480.83 L1078.18 480.82 L1079.05 480.81" fill="none" stroke="#3aaf85" stroke-width="3.9"/>
<path d="M1095.3 480.61 L1096.17 480.6 L1097.03 480.59 L1097.9 480.59 L1098.77 480.58 L1099.63 480.57 L1100.5 480.56 L1101.37 480.55 L1102.23 480.54 L1103.1 480.53 L1103.97 480.52 L1104.83 480.51 L1105.7 480.5 L1106.57 480.49 L1107.43 480.48 L1108.3 480.47 L1109.17 480.46 L1110.03 480.45 L1110.9 480.44" fill="none" stroke="#3aaf85" stroke-width="3.9"/>
<path d="M1127.15 480.28 L1128.02 480.27 L1128.88 480.26 L1129.75 480.26 L1130.62 480.25 L1131.48 480.24 L1132.35 480.23 L1133.22 480.22 L1134.08 480.22 L1134.95 480.21 L1135.82 480.2 L1136.68 480.19 L1137.55 480.19 L1138.42 480.18 L1139.28 480.17 L1140.15 480.16 L1141.02 480.15 L1141.88 480.15 L1142.75 480.14" fill="none" stroke="#3aaf85" stroke-width="3.9"/>
<path d="M1159 480 L1159.87 480 L1160.73 479.99 L1161.6 479.98 L1162.47 479.98 L1163.33 479.97 L1164.2 479.96 L1165.07 479.95 L1165.93 479.95 L1166.8 479.94 L1167.67 479.93 L1168.53 479.93 L1169.4 479.92 L1170.27 479.91 L1171.13 479.91 L1172 479.9 L1172.87 479.9 L1173.73 479.89 L1174.6 479.88" fill="none" stroke="#3aaf85" stroke-width="3.9"/>
<path d="M1190.85 479.77 L1191.72 479.76 L1192.58 479.75 L1193.45 479.75 L1194.32 479.74 L1195.18 479.74 L1196.05 479.73 L1196.92 479.72 L1197.78 479.72 L1198.65 479.71 L1199.52 479.71 L1200.38 479.7 L1201.25 479.7 L1202.12 479.69 L1202.98 479.68 L1203.85 479.68 L1204.72 479.67 L1205.58 479.67 L1206.45 479.66" fill="none" stroke="#3aaf85" stroke-width="3.9"/>
<path d="M1222.7 479.56 L1223.57 479.55 L1224.43 479.55 L1225.3 479.54 L1226.17 479.54 L1227.03 479.53 L1227.9 479.53 L1228.77 479.52 L1229.63 479.52 L1230.5 479.51 L1231.37 479.51 L1232.23 479.5 L1233.1 479.5 L1233.97 479.49 L1234.83 479.49 L1235.7 479.48 L1236.57 479.48 L1237.43 479.47 L1238.3 479.47" fill="none" stroke="#3aaf85" stroke-width="3.9"/>
<path d="M1254.55 479.38 L1255.42 479.37 L1256.28 479.37 L1257.15 479.37 L1258.02 479.36 L1258.88 479.36 L1259.75 479.35 L1260.62 479.35 L1261.48 479.34 L1262.35 479.34 L1263.22 479.33 L1264.08 479.33 L1264.95 479.33 L1265.82 479.32 L1266.68 479.32 L1267.55 479.31 L1268.42 479.31 L1269.28 479.3 L1270.15 479.3" fill="none" stroke="#3aaf85" stroke-width="3.9"/>
<path d="M1286.4 479.22 L1287.34 479.21 L1288.27 479.21 L1289.21 479.21 L1290.15 479.2 L1291.09 479.2 L1292.02 479.19 L1292.96 479.19 L1293.9 479.18" fill="none" stroke="#3aaf85" stroke-width="3.9"/>
<circle cx="1294.4" cy="480.6" r="4.3" fill="#cd201f" fill-opacity="0.85"/>
<path d="M1270 479.05 L1294.5 479.6" fill="none" stroke="#3aaf85" stroke-width="5.4"/>
<text x="972.8" y="484.6" font-size="23.3" fill="#1b6ca8" text-anchor="middle">48</text>
<text x="1053" y="488.9" font-size="23.3" fill="#1b6ca8" text-anchor="middle">22</text>
<text x="1106.2" y="469.9" font-size="23.3" fill="#1b6ca8" text-anchor="middle">20</text>
<text x="1125.6" y="507.2" font-size="23.3" fill="#1b6ca8" text-anchor="middle">1297</text>
<text x="1193" y="453.8" font-size="23.3" fill="#3aaf85" text-anchor="middle">0.8</text>
<text x="1193" y="508" font-size="23.3" fill="#3aaf85" text-anchor="middle">0.8</text>
<text x="1260.2" y="497" font-size="23.3" fill="#cd201f" text-anchor="middle">263</text>
</g>
<text x="832.8" y="439.3" font-size="27" fill="#7f7f7f" text-anchor="end">80</text>
<text x="832.8" y="462.6" font-size="27" fill="#7f7f7f" text-anchor="end">40</text>
<text x="832.8" y="485.9" font-size="27" fill="#7f7f7f" text-anchor="end">0</text>
<text x="832.8" y="509.2" font-size="27" fill="#7f7f7f" text-anchor="end">-40</text>
<text x="832.8" y="532.5" font-size="27" fill="#7f7f7f" text-anchor="end">-80</text>
<text x="866" y="556.8" font-size="27" fill="#7f7f7f" text-anchor="middle">0.000</text>
<text x="977.95" y="556.8" font-size="27" fill="#7f7f7f" text-anchor="middle">0.025</text>
<text x="1089.9" y="556.8" font-size="27" fill="#7f7f7f" text-anchor="middle">0.050</text>
<text x="1201.85" y="556.8" font-size="27" fill="#7f7f7f" text-anchor="middle">0.075</text>
<text x="1313.8" y="556.8" font-size="27" fill="#7f7f7f" text-anchor="middle">0.100</text>
<text x="1080.0" y="597.2" font-size="29" fill="#474747" text-anchor="middle">Leverage (h<tspan font-size="21" dy="6.2" dx="0.5">ii</tspan><tspan dy="-6.2">)</tspan></text>
<text x="730.6" y="476.5" font-size="29" fill="#474747" text-anchor="middle" transform="rotate(-90 730.6 476.5)">Std. Residuals</text>
<text x="708.6" y="375.7" font-size="31.5" fill="#000" text-anchor="start">Influential Observations</text>
<text x="708.6" y="410.9" font-size="27.2" fill="#000" text-anchor="start">Points should be inside the contour lines</text>
</g>
<g>
<g shape-rendering="crispEdges" stroke="#e8e8e8" stroke-width="2">
<path d="M278 712 V806"/>
<path d="M390 712 V806"/>
<path d="M502 712 V806"/>
<path d="M614 712 V806"/>
<path d="M210 793 H681"/>
<path d="M210 772 H681"/>
<path d="M210 754 H681"/>
<path d="M210 731 H681"/>
<path d="M210 779 H681"/>
<path d="M210 764 H681"/>
<path d="M210 744 H681"/>
<path d="M210 717 H681"/>
</g>
<g shape-rendering="crispEdges" fill-opacity="0.15">
<rect x="211" y="712" width="470" height="5" fill="#cd201f"/>
<rect x="211" y="717" width="470" height="27" fill="#1b6ca8"/>
<rect x="211" y="744" width="470" height="61" fill="#3aaf85"/>
</g>
<g clip-path="url(#c5)" fill="#3aaf85">
<circle cx="278.3" cy="782.2" r="8.5"/>
<circle cx="390.3" cy="805.2" r="8.5"/>
<circle cx="502.3" cy="792.5" r="8.5"/>
<circle cx="614.3" cy="793.3" r="8.5"/>
</g>
<g shape-rendering="crispEdges" stroke="#c6c6c6" stroke-width="2"><path d="M210 712 V807"/><path d="M209 806 H681"/></g>
<text x="197" y="817.1" font-size="27" fill="#7f7f7f" text-anchor="end">1</text>
<text x="197" y="790.34" font-size="27" fill="#7f7f7f" text-anchor="end">2</text>
<text x="197" y="774.68" font-size="27" fill="#7f7f7f" text-anchor="end">3</text>
<text x="197" y="754.96" font-size="27" fill="#7f7f7f" text-anchor="end">5</text>
<text x="197" y="728.2" font-size="27" fill="#7f7f7f" text-anchor="end">10</text>
<text x="278" y="839.2" font-size="27" fill="#7f7f7f" text-anchor="middle">Age_08_04</text>
<text x="390" y="839.2" font-size="27" fill="#7f7f7f" text-anchor="middle">Guarantee_Period</text>
<text x="502" y="839.2" font-size="27" fill="#7f7f7f" text-anchor="middle">KM</text>
<text x="614" y="839.2" font-size="27" fill="#7f7f7f" text-anchor="middle">Weight</text>
<text x="49.6" y="758.8" font-size="29" fill="#474747" text-anchor="middle" transform="rotate(-90 49.6 758.8)">Variance Inflation</text>
<text x="82.4" y="758.8" font-size="29" fill="#474747" text-anchor="middle" transform="rotate(-90 82.4 758.8)">Factor (VIF, log-scaled)</text>
<line x1="382.2" y1="903.1" x2="382.2" y2="939.9" stroke="#3aaf85" stroke-width="3.9"/>
<circle cx="382.3" cy="922.0" r="8.5" fill="#3aaf85"/>
<text x="418.4" y="932.4" font-size="27" fill="#474747" text-anchor="start">Low (&lt; 5)</text>
<g clip-path="url(#cellL)">
<text x="27.2" y="659.8" font-size="31.5" fill="#000" text-anchor="start">Collinearity</text>
<text x="27.2" y="695.2" font-size="27.2" fill="#000" text-anchor="start">High collinearity (VIF) may inflate parameter uncertainty</text>
</g>
</g>
<g>
<g shape-rendering="crispEdges" stroke="#e8e8e8" stroke-width="2">
<path d="M891 712 V806"/>
<path d="M1017 712 V806"/>
<path d="M1143 712 V806"/>
<path d="M1269 712 V806"/>
<path d="M954 712 V806"/>
<path d="M1080 712 V806"/>
<path d="M1206 712 V806"/>
<path d="M845 723 H1316"/>
<path d="M845 752 H1316"/>
<path d="M845 782 H1316"/>
<path d="M845 738 H1316"/>
<path d="M845 767 H1316"/>
<path d="M845 796 H1316"/>
</g>
<g shape-rendering="crispEdges" stroke="#c6c6c6" stroke-width="2"><path d="M845 712 V807"/><path d="M844 806 H1316"/></g>
<g clip-path="url(#c6)">
<line x1="845" y1="737.9" x2="1316" y2="737.9" stroke="#3aaf85" stroke-width="3.4"/>
<g fill="#1b6ca8">
<circle cx="866.6" cy="802.1" r="5.4"/>
<circle cx="885.78" cy="791.78" r="5.4"/>
<circle cx="895.59" cy="788.79" r="5.4"/>
<circle cx="902.3" cy="766.58" r="5.4"/>
<circle cx="907.46" cy="764.56" r="5.4"/>
<circle cx="911.67" cy="758.96" r="5.4"/>
<circle cx="915.24" cy="756.88" r="5.4"/>
<circle cx="918.35" cy="755.49" r="5.4"/>
<circle cx="921.11" cy="748.57" r="5.4"/>
<circle cx="923.59" cy="743.86" r="5.4"/>
<circle cx="925.86" cy="741.3" r="5.4"/>
<circle cx="927.94" cy="739.91" r="5.4"/>
<circle cx="929.87" cy="739.12" r="5.4"/>
<circle cx="931.67" cy="738.37" r="5.4"/>
<circle cx="933.35" cy="737.69" r="5.4"/>
<circle cx="934.94" cy="737.43" r="5.4"/>
<circle cx="936.44" cy="737.18" r="5.4"/>
<circle cx="937.86" cy="736.95" r="5.4"/>
<circle cx="939.22" cy="736.73" r="5.4"/>
<circle cx="940.51" cy="736.58" r="5.4"/>
<circle cx="941.74" cy="736.54" r="5.4"/>
<circle cx="942.93" cy="736.5" r="5.4"/>
<circle cx="944.07" cy="736.46" r="5.4"/>
<circle cx="945.16" cy="736.42" r="5.4"/>
<circle cx="946.22" cy="736.38" r="5.4"/>
<circle cx="947.24" cy="736.35" r="5.4"/>
<circle cx="948.23" cy="736.31" r="5.4"/>
<circle cx="949.18" cy="736.28" r="5.4"/>
<circle cx="950.11" cy="736.25" r="5.4"/>
<circle cx="951.01" cy="736.21" r="5.4"/>
<circle cx="951.88" cy="736.18" r="5.4"/>
<circle cx="952.73" cy="736.15" r="5.4"/>
<circle cx="953.56" cy="736.13" r="5.4"/>
<circle cx="954.37" cy="736.1" r="5.4"/>
<circle cx="955.15" cy="736.07" r="5.4"/>
<circle cx="955.92" cy="736.04" r="5.4"/>
<circle cx="956.67" cy="736.02" r="5.4"/>
<circle cx="957.4" cy="735.99" r="5.4"/>
<circle cx="958.12" cy="735.97" r="5.4"/>
<circle cx="958.82" cy="735.94" r="5.4"/>
<circle cx="959.51" cy="735.92" r="5.4"/>
<circle cx="960.18" cy="735.89" r="5.4"/>
<circle cx="960.84" cy="735.88" r="5.4"/>
<circle cx="961.49" cy="735.86" r="5.4"/>
<circle cx="962.12" cy="735.84" r="5.4"/>
<circle cx="962.74" cy="735.82" r="5.4"/>
<circle cx="963.35" cy="735.81" r="5.4"/>
<circle cx="963.95" cy="735.79" r="5.4"/>
<circle cx="964.54" cy="735.77" r="5.4"/>
<circle cx="965.12" cy="735.76" r="5.4"/>
<circle cx="965.7" cy="735.74" r="5.4"/>
<circle cx="966.26" cy="735.72" r="5.4"/>
<circle cx="966.81" cy="735.71" r="5.4"/>
<circle cx="967.35" cy="735.69" r="5.4"/>
<circle cx="967.89" cy="735.68" r="5.4"/>
<circle cx="968.42" cy="735.66" r="5.4"/>
<circle cx="968.94" cy="735.65" r="5.4"/>
<circle cx="969.45" cy="735.64" r="5.4"/>
<circle cx="969.96" cy="735.62" r="5.4"/>
<circle cx="970.45" cy="735.61" r="5.4"/>
<circle cx="970.95" cy="735.59" r="5.4"/>
<circle cx="971.43" cy="735.58" r="5.4"/>
<circle cx="971.91" cy="735.57" r="5.4"/>
<circle cx="972.38" cy="735.55" r="5.4"/>
<circle cx="972.85" cy="735.54" r="5.4"/>
<circle cx="973.31" cy="735.53" r="5.4"/>
<circle cx="973.77" cy="735.51" r="5.4"/>
<circle cx="974.22" cy="735.5" r="5.4"/>
<circle cx="974.66" cy="735.49" r="5.4"/>
<circle cx="975.1" cy="735.48" r="5.4"/>
<circle cx="975.53" cy="735.47" r="5.4"/>
<circle cx="975.96" cy="735.45" r="5.4"/>
<circle cx="976.39" cy="735.44" r="5.4"/>
<circle cx="976.81" cy="735.43" r="5.4"/>
<circle cx="977.22" cy="735.42" r="5.4"/>
<circle cx="977.64" cy="735.41" r="5.4"/>
<circle cx="978.04" cy="735.39" r="5.4"/>
<circle cx="978.45" cy="735.38" r="5.4"/>
<circle cx="978.84" cy="735.37" r="5.4"/>
<circle cx="979.24" cy="735.36" r="5.4"/>
<circle cx="979.63" cy="735.35" r="5.4"/>
<circle cx="980.02" cy="735.34" r="5.4"/>
<circle cx="980.4" cy="735.33" r="5.4"/>
<circle cx="980.78" cy="735.32" r="5.4"/>
<circle cx="981.16" cy="735.31" r="5.4"/>
<circle cx="981.53" cy="735.3" r="5.4"/>
<circle cx="981.9" cy="735.29" r="5.4"/>
<circle cx="982.26" cy="735.28" r="5.4"/>
<circle cx="982.62" cy="735.27" r="5.4"/>
<circle cx="982.98" cy="735.26" r="5.4"/>
<circle cx="983.34" cy="735.25" r="5.4"/>
<circle cx="983.69" cy="735.24" r="5.4"/>
<circle cx="984.04" cy="735.23" r="5.4"/>
<circle cx="984.39" cy="735.22" r="5.4"/>
<circle cx="984.74" cy="735.21" r="5.4"/>
<circle cx="985.08" cy="735.2" r="5.4"/>
<circle cx="985.42" cy="735.19" r="5.4"/>
<circle cx="985.75" cy="735.18" r="5.4"/>
<circle cx="986.09" cy="735.17" r="5.4"/>
<circle cx="986.42" cy="735.16" r="5.4"/>
<circle cx="986.74" cy="735.16" r="5.4"/>
<circle cx="987.07" cy="735.15" r="5.4"/>
<circle cx="987.39" cy="735.14" r="5.4"/>
<circle cx="987.71" cy="735.13" r="5.4"/>
<circle cx="988.03" cy="735.12" r="5.4"/>
<circle cx="988.35" cy="735.12" r="5.4"/>
<circle cx="988.66" cy="735.11" r="5.4"/>
<circle cx="988.98" cy="735.1" r="5.4"/>
<circle cx="989.28" cy="735.09" r="5.4"/>
<circle cx="989.59" cy="735.09" r="5.4"/>
<circle cx="989.9" cy="735.08" r="5.4"/>
<circle cx="990.2" cy="735.07" r="5.4"/>
<circle cx="990.5" cy="735.06" r="5.4"/>
<circle cx="990.8" cy="735.05" r="5.4"/>
<circle cx="991.1" cy="735.05" r="5.4"/>
<circle cx="991.39" cy="735.04" r="5.4"/>
<circle cx="991.69" cy="735.03" r="5.4"/>
<circle cx="991.98" cy="735.03" r="5.4"/>
<circle cx="992.27" cy="735.02" r="5.4"/>
<circle cx="992.55" cy="735.01" r="5.4"/>
<circle cx="992.84" cy="735" r="5.4"/>
<circle cx="993.12" cy="735" r="5.4"/>
<circle cx="993.41" cy="734.99" r="5.4"/>
<circle cx="993.69" cy="734.98" r="5.4"/>
<circle cx="993.97" cy="734.98" r="5.4"/>
<circle cx="994.24" cy="734.97" r="5.4"/>
<circle cx="994.52" cy="734.96" r="5.4"/>
<circle cx="994.79" cy="734.96" r="5.4"/>
<circle cx="995.06" cy="734.95" r="5.4"/>
<circle cx="995.34" cy="734.94" r="5.4"/>
<circle cx="995.6" cy="734.93" r="5.4"/>
<circle cx="995.87" cy="734.93" r="5.4"/>
<circle cx="996.14" cy="734.92" r="5.4"/>
<circle cx="996.4" cy="734.91" r="5.4"/>
<circle cx="996.67" cy="734.91" r="5.4"/>
<circle cx="996.93" cy="734.9" r="5.4"/>
<circle cx="997.19" cy="734.9" r="5.4"/>
<circle cx="997.45" cy="734.89" r="5.4"/>
<circle cx="997.71" cy="734.88" r="5.4"/>
<circle cx="997.96" cy="734.88" r="5.4"/>
<circle cx="998.22" cy="734.87" r="5.4"/>
<circle cx="998.47" cy="734.86" r="5.4"/>
<circle cx="998.72" cy="734.86" r="5.4"/>
<circle cx="998.97" cy="734.85" r="5.4"/>
<circle cx="999.22" cy="734.84" r="5.4"/>
<circle cx="999.47" cy="734.84" r="5.4"/>
<circle cx="999.72" cy="734.83" r="5.4"/>
<circle cx="999.96" cy="734.83" r="5.4"/>
<circle cx="1000.21" cy="734.82" r="5.4"/>
<circle cx="1000.45" cy="734.81" r="5.4"/>
<circle cx="1000.7" cy="734.81" r="5.4"/>
<circle cx="1000.94" cy="734.8" r="5.4"/>
<circle cx="1001.18" cy="734.8" r="5.4"/>
<circle cx="1001.42" cy="734.79" r="5.4"/>
<circle cx="1001.65" cy="734.78" r="5.4"/>
<circle cx="1001.89" cy="734.78" r="5.4"/>
<circle cx="1002.13" cy="734.77" r="5.4"/>
<circle cx="1002.36" cy="734.77" r="5.4"/>
<circle cx="1002.59" cy="734.76" r="5.4"/>
<circle cx="1002.83" cy="734.75" r="5.4"/>
<circle cx="1003.06" cy="734.75" r="5.4"/>
<circle cx="1003.29" cy="734.74" r="5.4"/>
<circle cx="1003.52" cy="734.74" r="5.4"/>
<circle cx="1003.75" cy="734.73" r="5.4"/>
<circle cx="1003.97" cy="734.73" r="5.4"/>
<circle cx="1004.2" cy="734.72" r="5.4"/>
<circle cx="1004.42" cy="734.71" r="5.4"/>
<circle cx="1004.65" cy="734.71" r="5.4"/>
<circle cx="1004.87" cy="734.7" r="5.4"/>
<circle cx="1005.09" cy="734.7" r="5.4"/>
<circle cx="1005.32" cy="734.69" r="5.4"/>
<circle cx="1005.54" cy="734.69" r="5.4"/>
<circle cx="1005.76" cy="734.68" r="5.4"/>
<circle cx="1005.98" cy="734.68" r="5.4"/>
<circle cx="1006.19" cy="734.67" r="5.4"/>
<circle cx="1006.41" cy="734.66" r="5.4"/>
<circle cx="1006.63" cy="734.66" r="5.4"/>
<circle cx="1006.84" cy="734.65" r="5.4"/>
<circle cx="1007.06" cy="734.65" r="5.4"/>
<circle cx="1007.27" cy="734.64" r="5.4"/>
<circle cx="1007.48" cy="734.64" r="5.4"/>
<circle cx="1007.7" cy="734.63" r="5.4"/>
<circle cx="1007.91" cy="734.63" r="5.4"/>
<circle cx="1008.12" cy="734.62" r="5.4"/>
<circle cx="1008.33" cy="734.62" r="5.4"/>
<circle cx="1008.54" cy="734.61" r="5.4"/>
<circle cx="1008.74" cy="734.61" r="5.4"/>
<circle cx="1008.95" cy="734.6" r="5.4"/>
<circle cx="1009.16" cy="734.6" r="5.4"/>
<circle cx="1009.36" cy="734.59" r="5.4"/>
<circle cx="1009.57" cy="734.59" r="5.4"/>
<circle cx="1009.77" cy="734.58" r="5.4"/>
<circle cx="1009.98" cy="734.58" r="5.4"/>
<circle cx="1010.18" cy="734.57" r="5.4"/>
<circle cx="1010.38" cy="734.57" r="5.4"/>
<circle cx="1010.58" cy="734.56" r="5.4"/>
<circle cx="1010.78" cy="734.56" r="5.4"/>
<circle cx="1010.98" cy="734.55" r="5.4"/>
<circle cx="1011.18" cy="734.55" r="5.4"/>
<circle cx="1011.38" cy="734.54" r="5.4"/>
<circle cx="1011.58" cy="734.54" r="5.4"/>
<circle cx="1011.78" cy="734.53" r="5.4"/>
<circle cx="1011.97" cy="734.53" r="5.4"/>
<circle cx="1012.17" cy="734.52" r="5.4"/>
<circle cx="1012.36" cy="734.52" r="5.4"/>
<circle cx="1012.56" cy="734.51" r="5.4"/>
<circle cx="1012.75" cy="734.51" r="5.4"/>
<circle cx="1012.95" cy="734.5" r="5.4"/>
<circle cx="1013.14" cy="734.5" r="5.4"/>
<circle cx="1013.33" cy="734.49" r="5.4"/>
<circle cx="1013.52" cy="734.49" r="5.4"/>
<circle cx="1013.71" cy="734.48" r="5.4"/>
<circle cx="1013.9" cy="734.48" r="5.4"/>
<circle cx="1014.09" cy="734.47" r="5.4"/>
<circle cx="1014.28" cy="734.47" r="5.4"/>
<circle cx="1014.47" cy="734.46" r="5.4"/>
<circle cx="1014.66" cy="734.46" r="5.4"/>
<circle cx="1014.85" cy="734.45" r="5.4"/>
<circle cx="1015.03" cy="734.45" r="5.4"/>
<circle cx="1015.22" cy="734.44" r="5.4"/>
<circle cx="1015.41" cy="734.44" r="5.4"/>
<circle cx="1015.59" cy="734.44" r="5.4"/>
<circle cx="1015.78" cy="734.43" r="5.4"/>
<circle cx="1015.96" cy="734.43" r="5.4"/>
<circle cx="1016.14" cy="734.42" r="5.4"/>
<circle cx="1016.33" cy="734.42" r="5.4"/>
<circle cx="1016.51" cy="734.41" r="5.4"/>
<circle cx="1016.69" cy="734.41" r="5.4"/>
<circle cx="1016.87" cy="734.4" r="5.4"/>
<circle cx="1017.05" cy="734.4" r="5.4"/>
<circle cx="1017.23" cy="734.41" r="5.4"/>
<circle cx="1017.41" cy="734.41" r="5.4"/>
<circle cx="1017.59" cy="734.42" r="5.4"/>
<circle cx="1017.77" cy="734.42" r="5.4"/>
<circle cx="1017.95" cy="734.42" r="5.4"/>
<circle cx="1018.13" cy="734.43" r="5.4"/>
<circle cx="1018.3" cy="734.43" r="5.4"/>
<circle cx="1018.48" cy="734.44" r="5.4"/>
<circle cx="1018.66" cy="734.44" r="5.4"/>
<circle cx="1018.83" cy="734.45" r="5.4"/>
<circle cx="1019.01" cy="734.45" r="5.4"/>
<circle cx="1019.18" cy="734.46" r="5.4"/>
<circle cx="1019.36" cy="734.46" r="5.4"/>
<circle cx="1019.53" cy="734.47" r="5.4"/>
<circle cx="1019.71" cy="734.47" r="5.4"/>
<circle cx="1019.88" cy="734.48" r="5.4"/>
<circle cx="1020.05" cy="734.48" r="5.4"/>
<circle cx="1020.22" cy="734.48" r="5.4"/>
<circle cx="1020.4" cy="734.49" r="5.4"/>
<circle cx="1020.57" cy="734.49" r="5.4"/>
<circle cx="1020.74" cy="734.5" r="5.4"/>
<circle cx="1020.91" cy="734.5" r="5.4"/>
<circle cx="1021.08" cy="734.51" r="5.4"/>
<circle cx="1021.25" cy="734.51" r="5.4"/>
<circle cx="1021.42" cy="734.52" r="5.4"/>
<circle cx="1021.59" cy="734.52" r="5.4"/>
<circle cx="1021.75" cy="734.52" r="5.4"/>
<circle cx="1021.92" cy="734.53" r="5.4"/>
<circle cx="1022.09" cy="734.53" r="5.4"/>
<circle cx="1022.26" cy="734.54" r="5.4"/>
<circle cx="1022.42" cy="734.54" r="5.4"/>
<circle cx="1022.59" cy="734.55" r="5.4"/>
<circle cx="1022.76" cy="734.55" r="5.4"/>
<circle cx="1022.92" cy="734.55" r="5.4"/>
<circle cx="1023.09" cy="734.56" r="5.4"/>
<circle cx="1023.25" cy="734.56" r="5.4"/>
<circle cx="1023.42" cy="734.57" r="5.4"/>
<circle cx="1023.58" cy="734.57" r="5.4"/>
<circle cx="1023.74" cy="734.58" r="5.4"/>
<circle cx="1023.91" cy="734.58" r="5.4"/>
<circle cx="1024.07" cy="734.58" r="5.4"/>
<circle cx="1024.23" cy="734.59" r="5.4"/>
<circle cx="1024.39" cy="734.59" r="5.4"/>
<circle cx="1024.56" cy="734.6" r="5.4"/>
<circle cx="1024.72" cy="734.6" r="5.4"/>
<circle cx="1024.88" cy="734.61" r="5.4"/>
<circle cx="1025.04" cy="734.61" r="5.4"/>
<circle cx="1025.2" cy="734.61" r="5.4"/>
<circle cx="1025.36" cy="734.62" r="5.4"/>
<circle cx="1025.52" cy="734.62" r="5.4"/>
<circle cx="1025.68" cy="734.63" r="5.4"/>
<circle cx="1025.84" cy="734.63" r="5.4"/>
<circle cx="1026" cy="734.63" r="5.4"/>
<circle cx="1026.15" cy="734.64" r="5.4"/>
<circle cx="1026.31" cy="734.64" r="5.4"/>
<circle cx="1026.47" cy="734.65" r="5.4"/>
<circle cx="1026.63" cy="734.65" r="5.4"/>
<circle cx="1026.78" cy="734.66" r="5.4"/>
<circle cx="1026.94" cy="734.66" r="5.4"/>
<circle cx="1027.1" cy="734.66" r="5.4"/>
<circle cx="1027.25" cy="734.67" r="5.4"/>
<circle cx="1027.41" cy="734.67" r="5.4"/>
<circle cx="1027.56" cy="734.68" r="5.4"/>
<circle cx="1027.72" cy="734.68" r="5.4"/>
<circle cx="1027.87" cy="734.68" r="5.4"/>
<circle cx="1028.03" cy="734.69" r="5.4"/>
<circle cx="1028.18" cy="734.69" r="5.4"/>
<circle cx="1028.33" cy="734.7" r="5.4"/>
<circle cx="1028.49" cy="734.7" r="5.4"/>
<circle cx="1028.64" cy="734.7" r="5.4"/>
<circle cx="1028.79" cy="734.71" r="5.4"/>
<circle cx="1028.95" cy="734.71" r="5.4"/>
<circle cx="1029.1" cy="734.72" r="5.4"/>
<circle cx="1029.25" cy="734.72" r="5.4"/>
<circle cx="1029.4" cy="734.72" r="5.4"/>
<circle cx="1029.55" cy="734.73" r="5.4"/>
<circle cx="1029.7" cy="734.73" r="5.4"/>
<circle cx="1029.85" cy="734.74" r="5.4"/>
<circle cx="1030.01" cy="734.74" r="5.4"/>
<circle cx="1030.16" cy="734.74" r="5.4"/>
<circle cx="1030.31" cy="734.75" r="5.4"/>
<circle cx="1030.46" cy="734.75" r="5.4"/>
<circle cx="1030.6" cy="734.75" r="5.4"/>
<circle cx="1030.75" cy="734.76" r="5.4"/>
<circle cx="1030.9" cy="734.76" r="5.4"/>
<circle cx="1031.05" cy="734.77" r="5.4"/>
<circle cx="1031.2" cy="734.77" r="5.4"/>
<circle cx="1031.35" cy="734.77" r="5.4"/>
<circle cx="1031.49" cy="734.78" r="5.4"/>
<circle cx="1031.64" cy="734.78" r="5.4"/>
<circle cx="1031.79" cy="734.79" r="5.4"/>
<circle cx="1031.94" cy="734.79" r="5.4"/>
<circle cx="1032.08" cy="734.79" r="5.4"/>
<circle cx="1032.23" cy="734.8" r="5.4"/>
<circle cx="1032.38" cy="734.8" r="5.4"/>
<circle cx="1032.52" cy="734.8" r="5.4"/>
<circle cx="1032.67" cy="734.81" r="5.4"/>
<circle cx="1032.81" cy="734.81" r="5.4"/>
<circle cx="1032.96" cy="734.82" r="5.4"/>
<circle cx="1033.1" cy="734.82" r="5.4"/>
<circle cx="1033.25" cy="734.82" r="5.4"/>
<circle cx="1033.39" cy="734.83" r="5.4"/>
<circle cx="1033.54" cy="734.83" r="5.4"/>
<circle cx="1033.68" cy="734.84" r="5.4"/>
<circle cx="1033.82" cy="734.84" r="5.4"/>
<circle cx="1033.97" cy="734.84" r="5.4"/>
<circle cx="1034.11" cy="734.85" r="5.4"/>
<circle cx="1034.25" cy="734.85" r="5.4"/>
<circle cx="1034.4" cy="734.85" r="5.4"/>
<circle cx="1034.54" cy="734.86" r="5.4"/>
<circle cx="1034.68" cy="734.86" r="5.4"/>
<circle cx="1034.82" cy="734.86" r="5.4"/>
<circle cx="1034.96" cy="734.87" r="5.4"/>
<circle cx="1035.11" cy="734.87" r="5.4"/>
<circle cx="1035.25" cy="734.88" r="5.4"/>
<circle cx="1035.39" cy="734.88" r="5.4"/>
<circle cx="1035.53" cy="734.88" r="5.4"/>
<circle cx="1035.67" cy="734.89" r="5.4"/>
<circle cx="1035.81" cy="734.89" r="5.4"/>
<circle cx="1035.95" cy="734.89" r="5.4"/>
<circle cx="1036.09" cy="734.9" r="5.4"/>
<circle cx="1036.23" cy="734.9" r="5.4"/>
<circle cx="1036.37" cy="734.91" r="5.4"/>
<circle cx="1036.51" cy="734.91" r="5.4"/>
<circle cx="1036.65" cy="734.91" r="5.4"/>
<circle cx="1036.79" cy="734.92" r="5.4"/>
<circle cx="1036.93" cy="734.92" r="5.4"/>
<circle cx="1037.07" cy="734.92" r="5.4"/>
<circle cx="1037.2" cy="734.93" r="5.4"/>
<circle cx="1037.34" cy="734.93" r="5.4"/>
<circle cx="1037.48" cy="734.93" r="5.4"/>
<circle cx="1037.62" cy="734.94" r="5.4"/>
<circle cx="1037.76" cy="734.94" r="5.4"/>
<circle cx="1037.89" cy="734.95" r="5.4"/>
<circle cx="1038.03" cy="734.95" r="5.4"/>
<circle cx="1038.17" cy="734.95" r="5.4"/>
<circle cx="1038.3" cy="734.96" r="5.4"/>
<circle cx="1038.44" cy="734.96" r="5.4"/>
<circle cx="1038.58" cy="734.96" r="5.4"/>
<circle cx="1038.71" cy="734.97" r="5.4"/>
<circle cx="1038.85" cy="734.97" r="5.4"/>
<circle cx="1038.98" cy="734.97" r="5.4"/>
<circle cx="1039.12" cy="734.98" r="5.4"/>
<circle cx="1039.26" cy="734.98" r="5.4"/>
<circle cx="1039.39" cy="734.98" r="5.4"/>
<circle cx="1039.53" cy="734.99" r="5.4"/>
<circle cx="1039.66" cy="734.99" r="5.4"/>
<circle cx="1039.8" cy="734.99" r="5.4"/>
<circle cx="1039.93" cy="735" r="5.4"/>
<circle cx="1040.06" cy="735" r="5.4"/>
<circle cx="1040.2" cy="735.01" r="5.4"/>
<circle cx="1040.33" cy="735.02" r="5.4"/>
<circle cx="1040.47" cy="735.03" r="5.4"/>
<circle cx="1040.6" cy="735.04" r="5.4"/>
<circle cx="1040.73" cy="735.04" r="5.4"/>
<circle cx="1040.87" cy="735.05" r="5.4"/>
<circle cx="1041" cy="735.06" r="5.4"/>
<circle cx="1041.13" cy="735.07" r="5.4"/>
<circle cx="1041.27" cy="735.08" r="5.4"/>
<circle cx="1041.4" cy="735.08" r="5.4"/>
<circle cx="1041.53" cy="735.09" r="5.4"/>
<circle cx="1041.66" cy="735.1" r="5.4"/>
<circle cx="1041.79" cy="735.11" r="5.4"/>
<circle cx="1041.93" cy="735.12" r="5.4"/>
<circle cx="1042.06" cy="735.12" r="5.4"/>
<circle cx="1042.19" cy="735.13" r="5.4"/>
<circle cx="1042.32" cy="735.14" r="5.4"/>
<circle cx="1042.45" cy="735.15" r="5.4"/>
<circle cx="1042.58" cy="735.16" r="5.4"/>
<circle cx="1042.71" cy="735.16" r="5.4"/>
<circle cx="1042.85" cy="735.17" r="5.4"/>
<circle cx="1042.98" cy="735.18" r="5.4"/>
<circle cx="1043.11" cy="735.19" r="5.4"/>
<circle cx="1043.24" cy="735.19" r="5.4"/>
<circle cx="1043.37" cy="735.2" r="5.4"/>
<circle cx="1043.5" cy="735.21" r="5.4"/>
<circle cx="1043.63" cy="735.22" r="5.4"/>
<circle cx="1043.76" cy="735.23" r="5.4"/>
<circle cx="1043.89" cy="735.23" r="5.4"/>
<circle cx="1044.02" cy="735.24" r="5.4"/>
<circle cx="1044.14" cy="735.25" r="5.4"/>
<circle cx="1044.27" cy="735.26" r="5.4"/>
<circle cx="1044.4" cy="735.26" r="5.4"/>
<circle cx="1044.53" cy="735.27" r="5.4"/>
<circle cx="1044.66" cy="735.28" r="5.4"/>
<circle cx="1044.79" cy="735.29" r="5.4"/>
<circle cx="1044.92" cy="735.3" r="5.4"/>
<circle cx="1045.04" cy="735.3" r="5.4"/>
<circle cx="1045.17" cy="735.31" r="5.4"/>
<circle cx="1045.3" cy="735.32" r="5.4"/>
<circle cx="1045.43" cy="735.33" r="5.4"/>
<circle cx="1045.56" cy="735.33" r="5.4"/>
<circle cx="1045.68" cy="735.34" r="5.4"/>
<circle cx="1045.81" cy="735.35" r="5.4"/>
<circle cx="1045.94" cy="735.36" r="5.4"/>
<circle cx="1046.07" cy="735.36" r="5.4"/>
<circle cx="1046.19" cy="735.37" r="5.4"/>
<circle cx="1046.32" cy="735.38" r="5.4"/>
<circle cx="1046.45" cy="735.39" r="5.4"/>
<circle cx="1046.57" cy="735.39" r="5.4"/>
<circle cx="1046.7" cy="735.4" r="5.4"/>
<circle cx="1046.82" cy="735.41" r="5.4"/>
<circle cx="1046.95" cy="735.42" r="5.4"/>
<circle cx="1047.08" cy="735.42" r="5.4"/>
<circle cx="1047.2" cy="735.43" r="5.4"/>
<circle cx="1047.33" cy="735.44" r="5.4"/>
<circle cx="1047.45" cy="735.45" r="5.4"/>
<circle cx="1047.58" cy="735.45" r="5.4"/>
<circle cx="1047.71" cy="735.46" r="5.4"/>
<circle cx="1047.83" cy="735.47" r="5.4"/>
<circle cx="1047.96" cy="735.48" r="5.4"/>
<circle cx="1048.08" cy="735.48" r="5.4"/>
<circle cx="1048.21" cy="735.49" r="5.4"/>
<circle cx="1048.33" cy="735.5" r="5.4"/>
<circle cx="1048.45" cy="735.51" r="5.4"/>
<circle cx="1048.58" cy="735.51" r="5.4"/>
<circle cx="1048.7" cy="735.52" r="5.4"/>
<circle cx="1048.83" cy="735.53" r="5.4"/>
<circle cx="1048.95" cy="735.54" r="5.4"/>
<circle cx="1049.08" cy="735.54" r="5.4"/>
<circle cx="1049.2" cy="735.55" r="5.4"/>
<circle cx="1049.32" cy="735.56" r="5.4"/>
<circle cx="1049.45" cy="735.57" r="5.4"/>
<circle cx="1049.57" cy="735.57" r="5.4"/>
<circle cx="1049.69" cy="735.58" r="5.4"/>
<circle cx="1049.82" cy="735.59" r="5.4"/>
<circle cx="1049.94" cy="735.6" r="5.4"/>
<circle cx="1050.06" cy="735.6" r="5.4"/>
<circle cx="1050.19" cy="735.61" r="5.4"/>
<circle cx="1050.31" cy="735.62" r="5.4"/>
<circle cx="1050.43" cy="735.63" r="5.4"/>
<circle cx="1050.55" cy="735.63" r="5.4"/>
<circle cx="1050.68" cy="735.64" r="5.4"/>
<circle cx="1050.8" cy="735.65" r="5.4"/>
<circle cx="1050.92" cy="735.66" r="5.4"/>
<circle cx="1051.04" cy="735.66" r="5.4"/>
<circle cx="1051.17" cy="735.67" r="5.4"/>
<circle cx="1051.29" cy="735.68" r="5.4"/>
<circle cx="1051.41" cy="735.68" r="5.4"/>
<circle cx="1051.53" cy="735.69" r="5.4"/>
<circle cx="1051.65" cy="735.7" r="5.4"/>
<circle cx="1051.77" cy="735.71" r="5.4"/>
<circle cx="1051.9" cy="735.71" r="5.4"/>
<circle cx="1052.02" cy="735.72" r="5.4"/>
<circle cx="1052.14" cy="735.73" r="5.4"/>
<circle cx="1052.26" cy="735.74" r="5.4"/>
<circle cx="1052.38" cy="735.74" r="5.4"/>
<circle cx="1052.5" cy="735.75" r="5.4"/>
<circle cx="1052.62" cy="735.76" r="5.4"/>
<circle cx="1052.74" cy="735.76" r="5.4"/>
<circle cx="1052.86" cy="735.77" r="5.4"/>
<circle cx="1052.98" cy="735.78" r="5.4"/>
<circle cx="1053.1" cy="735.79" r="5.4"/>
<circle cx="1053.23" cy="735.79" r="5.4"/>
<circle cx="1053.35" cy="735.8" r="5.4"/>
<circle cx="1053.47" cy="735.81" r="5.4"/>
<circle cx="1053.59" cy="735.82" r="5.4"/>
<circle cx="1053.71" cy="735.82" r="5.4"/>
<circle cx="1053.83" cy="735.83" r="5.4"/>
<circle cx="1053.95" cy="735.84" r="5.4"/>
<circle cx="1054.06" cy="735.84" r="5.4"/>
<circle cx="1054.18" cy="735.85" r="5.4"/>
<circle cx="1054.3" cy="735.86" r="5.4"/>
<circle cx="1054.42" cy="735.87" r="5.4"/>
<circle cx="1054.54" cy="735.87" r="5.4"/>
<circle cx="1054.66" cy="735.88" r="5.4"/>
<circle cx="1054.78" cy="735.89" r="5.4"/>
<circle cx="1054.9" cy="735.89" r="5.4"/>
<circle cx="1055.02" cy="735.9" r="5.4"/>
<circle cx="1055.14" cy="735.91" r="5.4"/>
<circle cx="1055.26" cy="735.92" r="5.4"/>
<circle cx="1055.38" cy="735.92" r="5.4"/>
<circle cx="1055.49" cy="735.93" r="5.4"/>
<circle cx="1055.61" cy="735.94" r="5.4"/>
<circle cx="1055.73" cy="735.94" r="5.4"/>
<circle cx="1055.85" cy="735.95" r="5.4"/>
<circle cx="1055.97" cy="735.96" r="5.4"/>
<circle cx="1056.09" cy="735.97" r="5.4"/>
<circle cx="1056.2" cy="735.97" r="5.4"/>
<circle cx="1056.32" cy="735.98" r="5.4"/>
<circle cx="1056.44" cy="735.99" r="5.4"/>
<circle cx="1056.56" cy="735.99" r="5.4"/>
<circle cx="1056.67" cy="736" r="5.4"/>
<circle cx="1056.79" cy="736.01" r="5.4"/>
<circle cx="1056.91" cy="736.01" r="5.4"/>
<circle cx="1057.03" cy="736.02" r="5.4"/>
<circle cx="1057.15" cy="736.03" r="5.4"/>
<circle cx="1057.26" cy="736.04" r="5.4"/>
<circle cx="1057.38" cy="736.04" r="5.4"/>
<circle cx="1057.5" cy="736.05" r="5.4"/>
<circle cx="1057.61" cy="736.06" r="5.4"/>
<circle cx="1057.73" cy="736.06" r="5.4"/>
<circle cx="1057.85" cy="736.07" r="5.4"/>
<circle cx="1057.97" cy="736.08" r="5.4"/>
<circle cx="1058.08" cy="736.08" r="5.4"/>
<circle cx="1058.2" cy="736.09" r="5.4"/>
<circle cx="1058.32" cy="736.1" r="5.4"/>
<circle cx="1058.43" cy="736.11" r="5.4"/>
<circle cx="1058.55" cy="736.11" r="5.4"/>
<circle cx="1058.66" cy="736.12" r="5.4"/>
<circle cx="1058.78" cy="736.13" r="5.4"/>
<circle cx="1058.9" cy="736.13" r="5.4"/>
<circle cx="1059.01" cy="736.14" r="5.4"/>
<circle cx="1059.13" cy="736.15" r="5.4"/>
<circle cx="1059.25" cy="736.15" r="5.4"/>
<circle cx="1059.36" cy="736.16" r="5.4"/>
<circle cx="1059.48" cy="736.17" r="5.4"/>
<circle cx="1059.59" cy="736.18" r="5.4"/>
<circle cx="1059.71" cy="736.18" r="5.4"/>
<circle cx="1059.83" cy="736.19" r="5.4"/>
<circle cx="1059.94" cy="736.2" r="5.4"/>
<circle cx="1060.06" cy="736.2" r="5.4"/>
<circle cx="1060.17" cy="736.21" r="5.4"/>
<circle cx="1060.29" cy="736.22" r="5.4"/>
<circle cx="1060.4" cy="736.23" r="5.4"/>
<circle cx="1060.52" cy="736.24" r="5.4"/>
<circle cx="1060.63" cy="736.24" r="5.4"/>
<circle cx="1060.75" cy="736.25" r="5.4"/>
<circle cx="1060.86" cy="736.26" r="5.4"/>
<circle cx="1060.98" cy="736.27" r="5.4"/>
<circle cx="1061.09" cy="736.28" r="5.4"/>
<circle cx="1061.21" cy="736.29" r="5.4"/>
<circle cx="1061.32" cy="736.29" r="5.4"/>
<circle cx="1061.44" cy="736.3" r="5.4"/>
<circle cx="1061.55" cy="736.31" r="5.4"/>
<circle cx="1061.67" cy="736.32" r="5.4"/>
<circle cx="1061.78" cy="736.33" r="5.4"/>
<circle cx="1061.9" cy="736.33" r="5.4"/>
<circle cx="1062.01" cy="736.34" r="5.4"/>
<circle cx="1062.13" cy="736.35" r="5.4"/>
<circle cx="1062.24" cy="736.36" r="5.4"/>
<circle cx="1062.36" cy="736.37" r="5.4"/>
<circle cx="1062.47" cy="736.37" r="5.4"/>
<circle cx="1062.58" cy="736.38" r="5.4"/>
<circle cx="1062.7" cy="736.39" r="5.4"/>
<circle cx="1062.81" cy="736.4" r="5.4"/>
<circle cx="1062.93" cy="736.41" r="5.4"/>
<circle cx="1063.04" cy="736.42" r="5.4"/>
<circle cx="1063.16" cy="736.42" r="5.4"/>
<circle cx="1063.27" cy="736.43" r="5.4"/>
<circle cx="1063.38" cy="736.44" r="5.4"/>
<circle cx="1063.5" cy="736.45" r="5.4"/>
<circle cx="1063.61" cy="736.46" r="5.4"/>
<circle cx="1063.72" cy="736.46" r="5.4"/>
<circle cx="1063.84" cy="736.47" r="5.4"/>
<circle cx="1063.95" cy="736.48" r="5.4"/>
<circle cx="1064.07" cy="736.49" r="5.4"/>
<circle cx="1064.18" cy="736.5" r="5.4"/>
<circle cx="1064.29" cy="736.5" r="5.4"/>
<circle cx="1064.41" cy="736.51" r="5.4"/>
<circle cx="1064.52" cy="736.52" r="5.4"/>
<circle cx="1064.63" cy="736.53" r="5.4"/>
<circle cx="1064.75" cy="736.54" r="5.4"/>
<circle cx="1064.86" cy="736.54" r="5.4"/>
<circle cx="1064.97" cy="736.55" r="5.4"/>
<circle cx="1065.08" cy="736.56" r="5.4"/>
<circle cx="1065.2" cy="736.57" r="5.4"/>
<circle cx="1065.31" cy="736.58" r="5.4"/>
<circle cx="1065.42" cy="736.58" r="5.4"/>
<circle cx="1065.54" cy="736.59" r="5.4"/>
<circle cx="1065.65" cy="736.6" r="5.4"/>
<circle cx="1065.76" cy="736.61" r="5.4"/>
<circle cx="1065.88" cy="736.62" r="5.4"/>
<circle cx="1065.99" cy="736.62" r="5.4"/>
<circle cx="1066.1" cy="736.63" r="5.4"/>
<circle cx="1066.21" cy="736.64" r="5.4"/>
<circle cx="1066.33" cy="736.65" r="5.4"/>
<circle cx="1066.44" cy="736.66" r="5.4"/>
<circle cx="1066.55" cy="736.66" r="5.4"/>
<circle cx="1066.66" cy="736.67" r="5.4"/>
<circle cx="1066.78" cy="736.68" r="5.4"/>
<circle cx="1066.89" cy="736.69" r="5.4"/>
<circle cx="1067" cy="736.7" r="5.4"/>
<circle cx="1067.11" cy="736.7" r="5.4"/>
<circle cx="1067.23" cy="736.71" r="5.4"/>
<circle cx="1067.34" cy="736.72" r="5.4"/>
<circle cx="1067.45" cy="736.73" r="5.4"/>
<circle cx="1067.56" cy="736.73" r="5.4"/>
<circle cx="1067.67" cy="736.74" r="5.4"/>
<circle cx="1067.79" cy="736.75" r="5.4"/>
<circle cx="1067.9" cy="736.76" r="5.4"/>
<circle cx="1068.01" cy="736.77" r="5.4"/>
<circle cx="1068.12" cy="736.77" r="5.4"/>
<circle cx="1068.23" cy="736.78" r="5.4"/>
<circle cx="1068.35" cy="736.79" r="5.4"/>
<circle cx="1068.46" cy="736.8" r="5.4"/>
<circle cx="1068.57" cy="736.81" r="5.4"/>
<circle cx="1068.68" cy="736.81" r="5.4"/>
<circle cx="1068.79" cy="736.82" r="5.4"/>
<circle cx="1068.91" cy="736.83" r="5.4"/>
<circle cx="1069.02" cy="736.84" r="5.4"/>
<circle cx="1069.13" cy="736.85" r="5.4"/>
<circle cx="1069.24" cy="736.85" r="5.4"/>
<circle cx="1069.35" cy="736.86" r="5.4"/>
<circle cx="1069.46" cy="736.87" r="5.4"/>
<circle cx="1069.58" cy="736.88" r="5.4"/>
<circle cx="1069.69" cy="736.88" r="5.4"/>
<circle cx="1069.8" cy="736.89" r="5.4"/>
<circle cx="1069.91" cy="736.9" r="5.4"/>
<circle cx="1070.02" cy="736.91" r="5.4"/>
<circle cx="1070.13" cy="736.92" r="5.4"/>
<circle cx="1070.24" cy="736.92" r="5.4"/>
<circle cx="1070.35" cy="736.93" r="5.4"/>
<circle cx="1070.47" cy="736.94" r="5.4"/>
<circle cx="1070.58" cy="736.95" r="5.4"/>
<circle cx="1070.69" cy="736.96" r="5.4"/>
<circle cx="1070.8" cy="736.96" r="5.4"/>
<circle cx="1070.91" cy="736.97" r="5.4"/>
<circle cx="1071.02" cy="736.98" r="5.4"/>
<circle cx="1071.13" cy="736.99" r="5.4"/>
<circle cx="1071.24" cy="737" r="5.4"/>
<circle cx="1071.36" cy="737" r="5.4"/>
<circle cx="1071.47" cy="737.01" r="5.4"/>
<circle cx="1071.58" cy="737.02" r="5.4"/>
<circle cx="1071.69" cy="737.03" r="5.4"/>
<circle cx="1071.8" cy="737.03" r="5.4"/>
<circle cx="1071.91" cy="737.04" r="5.4"/>
<circle cx="1072.02" cy="737.05" r="5.4"/>
<circle cx="1072.13" cy="737.06" r="5.4"/>
<circle cx="1072.24" cy="737.07" r="5.4"/>
<circle cx="1072.35" cy="737.07" r="5.4"/>
<circle cx="1072.46" cy="737.08" r="5.4"/>
<circle cx="1072.58" cy="737.09" r="5.4"/>
<circle cx="1072.69" cy="737.1" r="5.4"/>
<circle cx="1072.8" cy="737.1" r="5.4"/>
<circle cx="1072.91" cy="737.11" r="5.4"/>
<circle cx="1073.02" cy="737.12" r="5.4"/>
<circle cx="1073.13" cy="737.13" r="5.4"/>
<circle cx="1073.24" cy="737.14" r="5.4"/>
<circle cx="1073.35" cy="737.14" r="5.4"/>
<circle cx="1073.46" cy="737.15" r="5.4"/>
<circle cx="1073.57" cy="737.16" r="5.4"/>
<circle cx="1073.68" cy="737.17" r="5.4"/>
<circle cx="1073.79" cy="737.18" r="5.4"/>
<circle cx="1073.9" cy="737.18" r="5.4"/>
<circle cx="1074.01" cy="737.19" r="5.4"/>
<circle cx="1074.12" cy="737.2" r="5.4"/>
<circle cx="1074.23" cy="737.21" r="5.4"/>
<circle cx="1074.35" cy="737.21" r="5.4"/>
<circle cx="1074.46" cy="737.22" r="5.4"/>
<circle cx="1074.57" cy="737.23" r="5.4"/>
<circle cx="1074.68" cy="737.24" r="5.4"/>
<circle cx="1074.79" cy="737.25" r="5.4"/>
<circle cx="1074.9" cy="737.25" r="5.4"/>
<circle cx="1075.01" cy="737.26" r="5.4"/>
<circle cx="1075.12" cy="737.27" r="5.4"/>
<circle cx="1075.23" cy="737.28" r="5.4"/>
<circle cx="1075.34" cy="737.28" r="5.4"/>
<circle cx="1075.45" cy="737.29" r="5.4"/>
<circle cx="1075.56" cy="737.3" r="5.4"/>
<circle cx="1075.67" cy="737.31" r="5.4"/>
<circle cx="1075.78" cy="737.32" r="5.4"/>
<circle cx="1075.89" cy="737.32" r="5.4"/>
<circle cx="1076" cy="737.33" r="5.4"/>
<circle cx="1076.11" cy="737.34" r="5.4"/>
<circle cx="1076.22" cy="737.35" r="5.4"/>
<circle cx="1076.33" cy="737.35" r="5.4"/>
<circle cx="1076.44" cy="737.36" r="5.4"/>
<circle cx="1076.55" cy="737.37" r="5.4"/>
<circle cx="1076.66" cy="737.38" r="5.4"/>
<circle cx="1076.77" cy="737.39" r="5.4"/>
<circle cx="1076.88" cy="737.39" r="5.4"/>
<circle cx="1076.99" cy="737.4" r="5.4"/>
<circle cx="1077.1" cy="737.41" r="5.4"/>
<circle cx="1077.21" cy="737.42" r="5.4"/>
<circle cx="1077.32" cy="737.42" r="5.4"/>
<circle cx="1077.43" cy="737.43" r="5.4"/>
<circle cx="1077.54" cy="737.44" r="5.4"/>
<circle cx="1077.65" cy="737.45" r="5.4"/>
<circle cx="1077.76" cy="737.46" r="5.4"/>
<circle cx="1077.87" cy="737.46" r="5.4"/>
<circle cx="1077.98" cy="737.47" r="5.4"/>
<circle cx="1078.09" cy="737.48" r="5.4"/>
<circle cx="1078.2" cy="737.49" r="5.4"/>
<circle cx="1078.31" cy="737.49" r="5.4"/>
<circle cx="1078.42" cy="737.5" r="5.4"/>
<circle cx="1078.53" cy="737.51" r="5.4"/>
<circle cx="1078.64" cy="737.52" r="5.4"/>
<circle cx="1078.75" cy="737.53" r="5.4"/>
<circle cx="1078.86" cy="737.53" r="5.4"/>
<circle cx="1078.97" cy="737.54" r="5.4"/>
<circle cx="1079.08" cy="737.55" r="5.4"/>
<circle cx="1079.19" cy="737.56" r="5.4"/>
<circle cx="1079.3" cy="737.56" r="5.4"/>
<circle cx="1079.41" cy="737.57" r="5.4"/>
<circle cx="1079.52" cy="737.58" r="5.4"/>
<circle cx="1079.63" cy="737.59" r="5.4"/>
<circle cx="1079.74" cy="737.6" r="5.4"/>
<circle cx="1079.86" cy="737.6" r="5.4"/>
<circle cx="1079.97" cy="737.61" r="5.4"/>
<circle cx="1080.08" cy="737.62" r="5.4"/>
<circle cx="1080.19" cy="737.63" r="5.4"/>
<circle cx="1080.3" cy="737.63" r="5.4"/>
<circle cx="1080.41" cy="737.64" r="5.4"/>
<circle cx="1080.52" cy="737.65" r="5.4"/>
<circle cx="1080.63" cy="737.66" r="5.4"/>
<circle cx="1080.74" cy="737.66" r="5.4"/>
<circle cx="1080.85" cy="737.67" r="5.4"/>
<circle cx="1080.96" cy="737.68" r="5.4"/>
<circle cx="1081.07" cy="737.69" r="5.4"/>
<circle cx="1081.18" cy="737.7" r="5.4"/>
<circle cx="1081.29" cy="737.7" r="5.4"/>
<circle cx="1081.4" cy="737.71" r="5.4"/>
<circle cx="1081.51" cy="737.72" r="5.4"/>
<circle cx="1081.62" cy="737.73" r="5.4"/>
<circle cx="1081.73" cy="737.73" r="5.4"/>
<circle cx="1081.84" cy="737.74" r="5.4"/>
<circle cx="1081.95" cy="737.75" r="5.4"/>
<circle cx="1082.06" cy="737.76" r="5.4"/>
<circle cx="1082.17" cy="737.76" r="5.4"/>
<circle cx="1082.28" cy="737.77" r="5.4"/>
<circle cx="1082.39" cy="737.78" r="5.4"/>
<circle cx="1082.5" cy="737.79" r="5.4"/>
<circle cx="1082.61" cy="737.79" r="5.4"/>
<circle cx="1082.72" cy="737.8" r="5.4"/>
<circle cx="1082.83" cy="737.81" r="5.4"/>
<circle cx="1082.94" cy="737.82" r="5.4"/>
<circle cx="1083.05" cy="737.83" r="5.4"/>
<circle cx="1083.16" cy="737.83" r="5.4"/>
<circle cx="1083.27" cy="737.84" r="5.4"/>
<circle cx="1083.38" cy="737.85" r="5.4"/>
<circle cx="1083.49" cy="737.86" r="5.4"/>
<circle cx="1083.6" cy="737.86" r="5.4"/>
<circle cx="1083.71" cy="737.87" r="5.4"/>
<circle cx="1083.82" cy="737.88" r="5.4"/>
<circle cx="1083.93" cy="737.89" r="5.4"/>
<circle cx="1084.04" cy="737.89" r="5.4"/>
<circle cx="1084.15" cy="737.9" r="5.4"/>
<circle cx="1084.26" cy="737.91" r="5.4"/>
<circle cx="1084.37" cy="737.92" r="5.4"/>
<circle cx="1084.48" cy="737.92" r="5.4"/>
<circle cx="1084.59" cy="737.93" r="5.4"/>
<circle cx="1084.7" cy="737.94" r="5.4"/>
<circle cx="1084.81" cy="737.95" r="5.4"/>
<circle cx="1084.92" cy="737.96" r="5.4"/>
<circle cx="1085.03" cy="737.96" r="5.4"/>
<circle cx="1085.14" cy="737.97" r="5.4"/>
<circle cx="1085.25" cy="737.98" r="5.4"/>
<circle cx="1085.37" cy="737.99" r="5.4"/>
<circle cx="1085.48" cy="737.99" r="5.4"/>
<circle cx="1085.59" cy="738" r="5.4"/>
<circle cx="1085.7" cy="738.01" r="5.4"/>
<circle cx="1085.81" cy="738.02" r="5.4"/>
<circle cx="1085.92" cy="738.02" r="5.4"/>
<circle cx="1086.03" cy="738.03" r="5.4"/>
<circle cx="1086.14" cy="738.04" r="5.4"/>
<circle cx="1086.25" cy="738.05" r="5.4"/>
<circle cx="1086.36" cy="738.05" r="5.4"/>
<circle cx="1086.47" cy="738.06" r="5.4"/>
<circle cx="1086.58" cy="738.07" r="5.4"/>
<circle cx="1086.69" cy="738.08" r="5.4"/>
<circle cx="1086.8" cy="738.09" r="5.4"/>
<circle cx="1086.91" cy="738.09" r="5.4"/>
<circle cx="1087.02" cy="738.1" r="5.4"/>
<circle cx="1087.14" cy="738.11" r="5.4"/>
<circle cx="1087.25" cy="738.12" r="5.4"/>
<circle cx="1087.36" cy="738.12" r="5.4"/>
<circle cx="1087.47" cy="738.13" r="5.4"/>
<circle cx="1087.58" cy="738.14" r="5.4"/>
<circle cx="1087.69" cy="738.15" r="5.4"/>
<circle cx="1087.8" cy="738.15" r="5.4"/>
<circle cx="1087.91" cy="738.16" r="5.4"/>
<circle cx="1088.02" cy="738.17" r="5.4"/>
<circle cx="1088.13" cy="738.18" r="5.4"/>
<circle cx="1088.24" cy="738.19" r="5.4"/>
<circle cx="1088.36" cy="738.19" r="5.4"/>
<circle cx="1088.47" cy="738.2" r="5.4"/>
<circle cx="1088.58" cy="738.21" r="5.4"/>
<circle cx="1088.69" cy="738.22" r="5.4"/>
<circle cx="1088.8" cy="738.22" r="5.4"/>
<circle cx="1088.91" cy="738.23" r="5.4"/>
<circle cx="1089.02" cy="738.24" r="5.4"/>
<circle cx="1089.13" cy="738.25" r="5.4"/>
<circle cx="1089.25" cy="738.25" r="5.4"/>
<circle cx="1089.36" cy="738.26" r="5.4"/>
<circle cx="1089.47" cy="738.27" r="5.4"/>
<circle cx="1089.58" cy="738.28" r="5.4"/>
<circle cx="1089.69" cy="738.29" r="5.4"/>
<circle cx="1089.8" cy="738.29" r="5.4"/>
<circle cx="1089.91" cy="738.3" r="5.4"/>
<circle cx="1090.02" cy="738.31" r="5.4"/>
<circle cx="1090.14" cy="738.32" r="5.4"/>
<circle cx="1090.25" cy="738.32" r="5.4"/>
<circle cx="1090.36" cy="738.33" r="5.4"/>
<circle cx="1090.47" cy="738.34" r="5.4"/>
<circle cx="1090.58" cy="738.35" r="5.4"/>
<circle cx="1090.69" cy="738.36" r="5.4"/>
<circle cx="1090.81" cy="738.36" r="5.4"/>
<circle cx="1090.92" cy="738.37" r="5.4"/>
<circle cx="1091.03" cy="738.38" r="5.4"/>
<circle cx="1091.14" cy="738.39" r="5.4"/>
<circle cx="1091.25" cy="738.39" r="5.4"/>
<circle cx="1091.37" cy="738.4" r="5.4"/>
<circle cx="1091.48" cy="738.41" r="5.4"/>
<circle cx="1091.59" cy="738.42" r="5.4"/>
<circle cx="1091.7" cy="738.42" r="5.4"/>
<circle cx="1091.81" cy="738.43" r="5.4"/>
<circle cx="1091.93" cy="738.44" r="5.4"/>
<circle cx="1092.04" cy="738.45" r="5.4"/>
<circle cx="1092.15" cy="738.46" r="5.4"/>
<circle cx="1092.26" cy="738.46" r="5.4"/>
<circle cx="1092.37" cy="738.47" r="5.4"/>
<circle cx="1092.49" cy="738.48" r="5.4"/>
<circle cx="1092.6" cy="738.49" r="5.4"/>
<circle cx="1092.71" cy="738.49" r="5.4"/>
<circle cx="1092.82" cy="738.5" r="5.4"/>
<circle cx="1092.94" cy="738.51" r="5.4"/>
<circle cx="1093.05" cy="738.52" r="5.4"/>
<circle cx="1093.16" cy="738.53" r="5.4"/>
<circle cx="1093.27" cy="738.53" r="5.4"/>
<circle cx="1093.39" cy="738.54" r="5.4"/>
<circle cx="1093.5" cy="738.55" r="5.4"/>
<circle cx="1093.61" cy="738.56" r="5.4"/>
<circle cx="1093.72" cy="738.57" r="5.4"/>
<circle cx="1093.84" cy="738.57" r="5.4"/>
<circle cx="1093.95" cy="738.58" r="5.4"/>
<circle cx="1094.06" cy="738.59" r="5.4"/>
<circle cx="1094.18" cy="738.6" r="5.4"/>
<circle cx="1094.29" cy="738.6" r="5.4"/>
<circle cx="1094.4" cy="738.61" r="5.4"/>
<circle cx="1094.52" cy="738.62" r="5.4"/>
<circle cx="1094.63" cy="738.63" r="5.4"/>
<circle cx="1094.74" cy="738.64" r="5.4"/>
<circle cx="1094.85" cy="738.64" r="5.4"/>
<circle cx="1094.97" cy="738.65" r="5.4"/>
<circle cx="1095.08" cy="738.66" r="5.4"/>
<circle cx="1095.19" cy="738.67" r="5.4"/>
<circle cx="1095.31" cy="738.67" r="5.4"/>
<circle cx="1095.42" cy="738.68" r="5.4"/>
<circle cx="1095.53" cy="738.69" r="5.4"/>
<circle cx="1095.65" cy="738.7" r="5.4"/>
<circle cx="1095.76" cy="738.71" r="5.4"/>
<circle cx="1095.88" cy="738.71" r="5.4"/>
<circle cx="1095.99" cy="738.72" r="5.4"/>
<circle cx="1096.1" cy="738.73" r="5.4"/>
<circle cx="1096.22" cy="738.74" r="5.4"/>
<circle cx="1096.33" cy="738.75" r="5.4"/>
<circle cx="1096.44" cy="738.75" r="5.4"/>
<circle cx="1096.56" cy="738.76" r="5.4"/>
<circle cx="1096.67" cy="738.77" r="5.4"/>
<circle cx="1096.79" cy="738.78" r="5.4"/>
<circle cx="1096.9" cy="738.79" r="5.4"/>
<circle cx="1097.02" cy="738.79" r="5.4"/>
<circle cx="1097.13" cy="738.8" r="5.4"/>
<circle cx="1097.24" cy="738.81" r="5.4"/>
<circle cx="1097.36" cy="738.82" r="5.4"/>
<circle cx="1097.47" cy="738.82" r="5.4"/>
<circle cx="1097.59" cy="738.83" r="5.4"/>
<circle cx="1097.7" cy="738.84" r="5.4"/>
<circle cx="1097.82" cy="738.85" r="5.4"/>
<circle cx="1097.93" cy="738.86" r="5.4"/>
<circle cx="1098.05" cy="738.86" r="5.4"/>
<circle cx="1098.16" cy="738.87" r="5.4"/>
<circle cx="1098.28" cy="738.88" r="5.4"/>
<circle cx="1098.39" cy="738.89" r="5.4"/>
<circle cx="1098.51" cy="738.9" r="5.4"/>
<circle cx="1098.62" cy="738.9" r="5.4"/>
<circle cx="1098.74" cy="738.91" r="5.4"/>
<circle cx="1098.85" cy="738.92" r="5.4"/>
<circle cx="1098.97" cy="738.93" r="5.4"/>
<circle cx="1099.08" cy="738.94" r="5.4"/>
<circle cx="1099.2" cy="738.94" r="5.4"/>
<circle cx="1099.31" cy="738.95" r="5.4"/>
<circle cx="1099.43" cy="738.96" r="5.4"/>
<circle cx="1099.54" cy="738.97" r="5.4"/>
<circle cx="1099.66" cy="738.98" r="5.4"/>
<circle cx="1099.77" cy="738.98" r="5.4"/>
<circle cx="1099.89" cy="738.99" r="5.4"/>
<circle cx="1100.01" cy="739" r="5.4"/>
<circle cx="1100.12" cy="739.01" r="5.4"/>
<circle cx="1100.24" cy="739.01" r="5.4"/>
<circle cx="1100.35" cy="739.02" r="5.4"/>
<circle cx="1100.47" cy="739.02" r="5.4"/>
<circle cx="1100.59" cy="739.03" r="5.4"/>
<circle cx="1100.7" cy="739.04" r="5.4"/>
<circle cx="1100.82" cy="739.04" r="5.4"/>
<circle cx="1100.94" cy="739.05" r="5.4"/>
<circle cx="1101.05" cy="739.05" r="5.4"/>
<circle cx="1101.17" cy="739.06" r="5.4"/>
<circle cx="1101.28" cy="739.06" r="5.4"/>
<circle cx="1101.4" cy="739.07" r="5.4"/>
<circle cx="1101.52" cy="739.08" r="5.4"/>
<circle cx="1101.63" cy="739.08" r="5.4"/>
<circle cx="1101.75" cy="739.09" r="5.4"/>
<circle cx="1101.87" cy="739.09" r="5.4"/>
<circle cx="1101.99" cy="739.1" r="5.4"/>
<circle cx="1102.1" cy="739.11" r="5.4"/>
<circle cx="1102.22" cy="739.11" r="5.4"/>
<circle cx="1102.34" cy="739.12" r="5.4"/>
<circle cx="1102.45" cy="739.12" r="5.4"/>
<circle cx="1102.57" cy="739.13" r="5.4"/>
<circle cx="1102.69" cy="739.13" r="5.4"/>
<circle cx="1102.81" cy="739.14" r="5.4"/>
<circle cx="1102.93" cy="739.15" r="5.4"/>
<circle cx="1103.04" cy="739.15" r="5.4"/>
<circle cx="1103.16" cy="739.16" r="5.4"/>
<circle cx="1103.28" cy="739.16" r="5.4"/>
<circle cx="1103.4" cy="739.17" r="5.4"/>
<circle cx="1103.51" cy="739.18" r="5.4"/>
<circle cx="1103.63" cy="739.18" r="5.4"/>
<circle cx="1103.75" cy="739.19" r="5.4"/>
<circle cx="1103.87" cy="739.19" r="5.4"/>
<circle cx="1103.99" cy="739.2" r="5.4"/>
<circle cx="1104.11" cy="739.21" r="5.4"/>
<circle cx="1104.22" cy="739.21" r="5.4"/>
<circle cx="1104.34" cy="739.22" r="5.4"/>
<circle cx="1104.46" cy="739.22" r="5.4"/>
<circle cx="1104.58" cy="739.23" r="5.4"/>
<circle cx="1104.7" cy="739.24" r="5.4"/>
<circle cx="1104.82" cy="739.24" r="5.4"/>
<circle cx="1104.94" cy="739.25" r="5.4"/>
<circle cx="1105.06" cy="739.25" r="5.4"/>
<circle cx="1105.18" cy="739.26" r="5.4"/>
<circle cx="1105.3" cy="739.26" r="5.4"/>
<circle cx="1105.42" cy="739.27" r="5.4"/>
<circle cx="1105.54" cy="739.28" r="5.4"/>
<circle cx="1105.65" cy="739.28" r="5.4"/>
<circle cx="1105.77" cy="739.29" r="5.4"/>
<circle cx="1105.89" cy="739.29" r="5.4"/>
<circle cx="1106.01" cy="739.3" r="5.4"/>
<circle cx="1106.13" cy="739.31" r="5.4"/>
<circle cx="1106.25" cy="739.31" r="5.4"/>
<circle cx="1106.37" cy="739.32" r="5.4"/>
<circle cx="1106.5" cy="739.32" r="5.4"/>
<circle cx="1106.62" cy="739.33" r="5.4"/>
<circle cx="1106.74" cy="739.34" r="5.4"/>
<circle cx="1106.86" cy="739.34" r="5.4"/>
<circle cx="1106.98" cy="739.35" r="5.4"/>
<circle cx="1107.1" cy="739.35" r="5.4"/>
<circle cx="1107.22" cy="739.36" r="5.4"/>
<circle cx="1107.34" cy="739.37" r="5.4"/>
<circle cx="1107.46" cy="739.37" r="5.4"/>
<circle cx="1107.58" cy="739.38" r="5.4"/>
<circle cx="1107.7" cy="739.39" r="5.4"/>
<circle cx="1107.83" cy="739.39" r="5.4"/>
<circle cx="1107.95" cy="739.4" r="5.4"/>
<circle cx="1108.07" cy="739.4" r="5.4"/>
<circle cx="1108.19" cy="739.41" r="5.4"/>
<circle cx="1108.31" cy="739.42" r="5.4"/>
<circle cx="1108.43" cy="739.42" r="5.4"/>
<circle cx="1108.56" cy="739.43" r="5.4"/>
<circle cx="1108.68" cy="739.43" r="5.4"/>
<circle cx="1108.8" cy="739.44" r="5.4"/>
<circle cx="1108.92" cy="739.45" r="5.4"/>
<circle cx="1109.05" cy="739.45" r="5.4"/>
<circle cx="1109.17" cy="739.46" r="5.4"/>
<circle cx="1109.29" cy="739.46" r="5.4"/>
<circle cx="1109.41" cy="739.47" r="5.4"/>
<circle cx="1109.54" cy="739.48" r="5.4"/>
<circle cx="1109.66" cy="739.48" r="5.4"/>
<circle cx="1109.78" cy="739.49" r="5.4"/>
<circle cx="1109.91" cy="739.5" r="5.4"/>
<circle cx="1110.03" cy="739.5" r="5.4"/>
<circle cx="1110.15" cy="739.51" r="5.4"/>
<circle cx="1110.28" cy="739.51" r="5.4"/>
<circle cx="1110.4" cy="739.52" r="5.4"/>
<circle cx="1110.52" cy="739.53" r="5.4"/>
<circle cx="1110.65" cy="739.53" r="5.4"/>
<circle cx="1110.77" cy="739.54" r="5.4"/>
<circle cx="1110.9" cy="739.54" r="5.4"/>
<circle cx="1111.02" cy="739.55" r="5.4"/>
<circle cx="1111.15" cy="739.56" r="5.4"/>
<circle cx="1111.27" cy="739.56" r="5.4"/>
<circle cx="1111.39" cy="739.57" r="5.4"/>
<circle cx="1111.52" cy="739.58" r="5.4"/>
<circle cx="1111.64" cy="739.58" r="5.4"/>
<circle cx="1111.77" cy="739.59" r="5.4"/>
<circle cx="1111.89" cy="739.59" r="5.4"/>
<circle cx="1112.02" cy="739.6" r="5.4"/>
<circle cx="1112.15" cy="739.61" r="5.4"/>
<circle cx="1112.27" cy="739.61" r="5.4"/>
<circle cx="1112.4" cy="739.62" r="5.4"/>
<circle cx="1112.52" cy="739.63" r="5.4"/>
<circle cx="1112.65" cy="739.63" r="5.4"/>
<circle cx="1112.78" cy="739.64" r="5.4"/>
<circle cx="1112.9" cy="739.65" r="5.4"/>
<circle cx="1113.03" cy="739.65" r="5.4"/>
<circle cx="1113.15" cy="739.66" r="5.4"/>
<circle cx="1113.28" cy="739.66" r="5.4"/>
<circle cx="1113.41" cy="739.67" r="5.4"/>
<circle cx="1113.53" cy="739.68" r="5.4"/>
<circle cx="1113.66" cy="739.68" r="5.4"/>
<circle cx="1113.79" cy="739.69" r="5.4"/>
<circle cx="1113.92" cy="739.7" r="5.4"/>
<circle cx="1114.04" cy="739.7" r="5.4"/>
<circle cx="1114.17" cy="739.71" r="5.4"/>
<circle cx="1114.3" cy="739.71" r="5.4"/>
<circle cx="1114.43" cy="739.72" r="5.4"/>
<circle cx="1114.56" cy="739.73" r="5.4"/>
<circle cx="1114.68" cy="739.73" r="5.4"/>
<circle cx="1114.81" cy="739.74" r="5.4"/>
<circle cx="1114.94" cy="739.75" r="5.4"/>
<circle cx="1115.07" cy="739.75" r="5.4"/>
<circle cx="1115.2" cy="739.76" r="5.4"/>
<circle cx="1115.33" cy="739.77" r="5.4"/>
<circle cx="1115.46" cy="739.77" r="5.4"/>
<circle cx="1115.58" cy="739.78" r="5.4"/>
<circle cx="1115.71" cy="739.79" r="5.4"/>
<circle cx="1115.84" cy="739.79" r="5.4"/>
<circle cx="1115.97" cy="739.8" r="5.4"/>
<circle cx="1116.1" cy="739.81" r="5.4"/>
<circle cx="1116.23" cy="739.81" r="5.4"/>
<circle cx="1116.36" cy="739.82" r="5.4"/>
<circle cx="1116.49" cy="739.82" r="5.4"/>
<circle cx="1116.62" cy="739.83" r="5.4"/>
<circle cx="1116.75" cy="739.84" r="5.4"/>
<circle cx="1116.89" cy="739.84" r="5.4"/>
<circle cx="1117.02" cy="739.85" r="5.4"/>
<circle cx="1117.15" cy="739.86" r="5.4"/>
<circle cx="1117.28" cy="739.86" r="5.4"/>
<circle cx="1117.41" cy="739.87" r="5.4"/>
<circle cx="1117.54" cy="739.88" r="5.4"/>
<circle cx="1117.67" cy="739.88" r="5.4"/>
<circle cx="1117.81" cy="739.89" r="5.4"/>
<circle cx="1117.94" cy="739.9" r="5.4"/>
<circle cx="1118.07" cy="739.9" r="5.4"/>
<circle cx="1118.2" cy="739.91" r="5.4"/>
<circle cx="1118.33" cy="739.92" r="5.4"/>
<circle cx="1118.47" cy="739.92" r="5.4"/>
<circle cx="1118.6" cy="739.93" r="5.4"/>
<circle cx="1118.73" cy="739.94" r="5.4"/>
<circle cx="1118.87" cy="739.94" r="5.4"/>
<circle cx="1119" cy="739.95" r="5.4"/>
<circle cx="1119.13" cy="739.96" r="5.4"/>
<circle cx="1119.27" cy="739.96" r="5.4"/>
<circle cx="1119.4" cy="739.97" r="5.4"/>
<circle cx="1119.54" cy="739.98" r="5.4"/>
<circle cx="1119.67" cy="739.98" r="5.4"/>
<circle cx="1119.8" cy="739.99" r="5.4"/>
<circle cx="1119.94" cy="740" r="5.4"/>
<circle cx="1120.07" cy="740" r="5.4"/>
<circle cx="1120.21" cy="740.01" r="5.4"/>
<circle cx="1120.34" cy="740.01" r="5.4"/>
<circle cx="1120.48" cy="740.02" r="5.4"/>
<circle cx="1120.62" cy="740.02" r="5.4"/>
<circle cx="1120.75" cy="740.03" r="5.4"/>
<circle cx="1120.89" cy="740.03" r="5.4"/>
<circle cx="1121.02" cy="740.03" r="5.4"/>
<circle cx="1121.16" cy="740.04" r="5.4"/>
<circle cx="1121.3" cy="740.04" r="5.4"/>
<circle cx="1121.43" cy="740.05" r="5.4"/>
<circle cx="1121.57" cy="740.05" r="5.4"/>
<circle cx="1121.71" cy="740.06" r="5.4"/>
<circle cx="1121.84" cy="740.06" r="5.4"/>
<circle cx="1121.98" cy="740.07" r="5.4"/>
<circle cx="1122.12" cy="740.07" r="5.4"/>
<circle cx="1122.26" cy="740.08" r="5.4"/>
<circle cx="1122.4" cy="740.08" r="5.4"/>
<circle cx="1122.53" cy="740.08" r="5.4"/>
<circle cx="1122.67" cy="740.09" r="5.4"/>
<circle cx="1122.81" cy="740.09" r="5.4"/>
<circle cx="1122.95" cy="740.1" r="5.4"/>
<circle cx="1123.09" cy="740.1" r="5.4"/>
<circle cx="1123.23" cy="740.11" r="5.4"/>
<circle cx="1123.37" cy="740.11" r="5.4"/>
<circle cx="1123.51" cy="740.12" r="5.4"/>
<circle cx="1123.65" cy="740.12" r="5.4"/>
<circle cx="1123.79" cy="740.13" r="5.4"/>
<circle cx="1123.93" cy="740.13" r="5.4"/>
<circle cx="1124.07" cy="740.14" r="5.4"/>
<circle cx="1124.21" cy="740.14" r="5.4"/>
<circle cx="1124.35" cy="740.15" r="5.4"/>
<circle cx="1124.49" cy="740.15" r="5.4"/>
<circle cx="1124.64" cy="740.15" r="5.4"/>
<circle cx="1124.78" cy="740.16" r="5.4"/>
<circle cx="1124.92" cy="740.16" r="5.4"/>
<circle cx="1125.06" cy="740.17" r="5.4"/>
<circle cx="1125.2" cy="740.17" r="5.4"/>
<circle cx="1125.35" cy="740.18" r="5.4"/>
<circle cx="1125.49" cy="740.18" r="5.4"/>
<circle cx="1125.63" cy="740.19" r="5.4"/>
<circle cx="1125.78" cy="740.19" r="5.4"/>
<circle cx="1125.92" cy="740.2" r="5.4"/>
<circle cx="1126.06" cy="740.2" r="5.4"/>
<circle cx="1126.21" cy="740.21" r="5.4"/>
<circle cx="1126.35" cy="740.21" r="5.4"/>
<circle cx="1126.5" cy="740.22" r="5.4"/>
<circle cx="1126.64" cy="740.22" r="5.4"/>
<circle cx="1126.79" cy="740.23" r="5.4"/>
<circle cx="1126.93" cy="740.23" r="5.4"/>
<circle cx="1127.08" cy="740.24" r="5.4"/>
<circle cx="1127.22" cy="740.24" r="5.4"/>
<circle cx="1127.37" cy="740.25" r="5.4"/>
<circle cx="1127.52" cy="740.25" r="5.4"/>
<circle cx="1127.66" cy="740.26" r="5.4"/>
<circle cx="1127.81" cy="740.26" r="5.4"/>
<circle cx="1127.96" cy="740.27" r="5.4"/>
<circle cx="1128.11" cy="740.27" r="5.4"/>
<circle cx="1128.25" cy="740.28" r="5.4"/>
<circle cx="1128.4" cy="740.28" r="5.4"/>
<circle cx="1128.55" cy="740.28" r="5.4"/>
<circle cx="1128.7" cy="740.29" r="5.4"/>
<circle cx="1128.85" cy="740.29" r="5.4"/>
<circle cx="1129" cy="740.3" r="5.4"/>
<circle cx="1129.14" cy="740.3" r="5.4"/>
<circle cx="1129.29" cy="740.31" r="5.4"/>
<circle cx="1129.44" cy="740.31" r="5.4"/>
<circle cx="1129.59" cy="740.32" r="5.4"/>
<circle cx="1129.75" cy="740.32" r="5.4"/>
<circle cx="1129.9" cy="740.33" r="5.4"/>
<circle cx="1130.05" cy="740.33" r="5.4"/>
<circle cx="1130.2" cy="740.34" r="5.4"/>
<circle cx="1130.35" cy="740.34" r="5.4"/>
<circle cx="1130.5" cy="740.35" r="5.4"/>
<circle cx="1130.65" cy="740.36" r="5.4"/>
<circle cx="1130.81" cy="740.36" r="5.4"/>
<circle cx="1130.96" cy="740.37" r="5.4"/>
<circle cx="1131.11" cy="740.37" r="5.4"/>
<circle cx="1131.27" cy="740.38" r="5.4"/>
<circle cx="1131.42" cy="740.38" r="5.4"/>
<circle cx="1131.57" cy="740.39" r="5.4"/>
<circle cx="1131.73" cy="740.39" r="5.4"/>
<circle cx="1131.88" cy="740.4" r="5.4"/>
<circle cx="1132.04" cy="740.4" r="5.4"/>
<circle cx="1132.19" cy="740.4" r="5.4"/>
<circle cx="1132.35" cy="740.4" r="5.4"/>
<circle cx="1132.5" cy="740.4" r="5.4"/>
<circle cx="1132.66" cy="740.4" r="5.4"/>
<circle cx="1132.82" cy="740.4" r="5.4"/>
<circle cx="1132.97" cy="740.39" r="5.4"/>
<circle cx="1133.13" cy="740.39" r="5.4"/>
<circle cx="1133.29" cy="740.39" r="5.4"/>
<circle cx="1133.45" cy="740.39" r="5.4"/>
<circle cx="1133.6" cy="740.39" r="5.4"/>
<circle cx="1133.76" cy="740.39" r="5.4"/>
<circle cx="1133.92" cy="740.39" r="5.4"/>
<circle cx="1134.08" cy="740.39" r="5.4"/>
<circle cx="1134.24" cy="740.39" r="5.4"/>
<circle cx="1134.4" cy="740.39" r="5.4"/>
<circle cx="1134.56" cy="740.39" r="5.4"/>
<circle cx="1134.72" cy="740.38" r="5.4"/>
<circle cx="1134.88" cy="740.38" r="5.4"/>
<circle cx="1135.04" cy="740.38" r="5.4"/>
<circle cx="1135.21" cy="740.38" r="5.4"/>
<circle cx="1135.37" cy="740.38" r="5.4"/>
<circle cx="1135.53" cy="740.38" r="5.4"/>
<circle cx="1135.69" cy="740.38" r="5.4"/>
<circle cx="1135.86" cy="740.38" r="5.4"/>
<circle cx="1136.02" cy="740.38" r="5.4"/>
<circle cx="1136.18" cy="740.38" r="5.4"/>
<circle cx="1136.35" cy="740.38" r="5.4"/>
<circle cx="1136.51" cy="740.37" r="5.4"/>
<circle cx="1136.68" cy="740.37" r="5.4"/>
<circle cx="1136.84" cy="740.37" r="5.4"/>
<circle cx="1137.01" cy="740.37" r="5.4"/>
<circle cx="1137.18" cy="740.37" r="5.4"/>
<circle cx="1137.34" cy="740.37" r="5.4"/>
<circle cx="1137.51" cy="740.37" r="5.4"/>
<circle cx="1137.68" cy="740.37" r="5.4"/>
<circle cx="1137.85" cy="740.37" r="5.4"/>
<circle cx="1138.01" cy="740.37" r="5.4"/>
<circle cx="1138.18" cy="740.37" r="5.4"/>
<circle cx="1138.35" cy="740.36" r="5.4"/>
<circle cx="1138.52" cy="740.36" r="5.4"/>
<circle cx="1138.69" cy="740.36" r="5.4"/>
<circle cx="1138.86" cy="740.36" r="5.4"/>
<circle cx="1139.03" cy="740.36" r="5.4"/>
<circle cx="1139.2" cy="740.36" r="5.4"/>
<circle cx="1139.38" cy="740.36" r="5.4"/>
<circle cx="1139.55" cy="740.36" r="5.4"/>
<circle cx="1139.72" cy="740.36" r="5.4"/>
<circle cx="1139.89" cy="740.36" r="5.4"/>
<circle cx="1140.07" cy="740.36" r="5.4"/>
<circle cx="1140.24" cy="740.35" r="5.4"/>
<circle cx="1140.42" cy="740.35" r="5.4"/>
<circle cx="1140.59" cy="740.35" r="5.4"/>
<circle cx="1140.77" cy="740.35" r="5.4"/>
<circle cx="1140.94" cy="740.35" r="5.4"/>
<circle cx="1141.12" cy="740.35" r="5.4"/>
<circle cx="1141.3" cy="740.35" r="5.4"/>
<circle cx="1141.47" cy="740.35" r="5.4"/>
<circle cx="1141.65" cy="740.35" r="5.4"/>
<circle cx="1141.83" cy="740.35" r="5.4"/>
<circle cx="1142.01" cy="740.34" r="5.4"/>
<circle cx="1142.19" cy="740.34" r="5.4"/>
<circle cx="1142.37" cy="740.34" r="5.4"/>
<circle cx="1142.55" cy="740.34" r="5.4"/>
<circle cx="1142.73" cy="740.34" r="5.4"/>
<circle cx="1142.91" cy="740.34" r="5.4"/>
<circle cx="1143.09" cy="740.34" r="5.4"/>
<circle cx="1143.27" cy="740.34" r="5.4"/>
<circle cx="1143.46" cy="740.34" r="5.4"/>
<circle cx="1143.64" cy="740.34" r="5.4"/>
<circle cx="1143.82" cy="740.33" r="5.4"/>
<circle cx="1144.01" cy="740.33" r="5.4"/>
<circle cx="1144.19" cy="740.33" r="5.4"/>
<circle cx="1144.38" cy="740.33" r="5.4"/>
<circle cx="1144.57" cy="740.33" r="5.4"/>
<circle cx="1144.75" cy="740.33" r="5.4"/>
<circle cx="1144.94" cy="740.33" r="5.4"/>
<circle cx="1145.13" cy="740.33" r="5.4"/>
<circle cx="1145.32" cy="740.33" r="5.4"/>
<circle cx="1145.51" cy="740.32" r="5.4"/>
<circle cx="1145.7" cy="740.32" r="5.4"/>
<circle cx="1145.89" cy="740.32" r="5.4"/>
<circle cx="1146.08" cy="740.32" r="5.4"/>
<circle cx="1146.27" cy="740.32" r="5.4"/>
<circle cx="1146.46" cy="740.32" r="5.4"/>
<circle cx="1146.65" cy="740.32" r="5.4"/>
<circle cx="1146.85" cy="740.32" r="5.4"/>
<circle cx="1147.04" cy="740.32" r="5.4"/>
<circle cx="1147.24" cy="740.32" r="5.4"/>
<circle cx="1147.43" cy="740.31" r="5.4"/>
<circle cx="1147.63" cy="740.31" r="5.4"/>
<circle cx="1147.82" cy="740.31" r="5.4"/>
<circle cx="1148.02" cy="740.31" r="5.4"/>
<circle cx="1148.22" cy="740.31" r="5.4"/>
<circle cx="1148.42" cy="740.31" r="5.4"/>
<circle cx="1148.62" cy="740.31" r="5.4"/>
<circle cx="1148.82" cy="740.31" r="5.4"/>
<circle cx="1149.02" cy="740.31" r="5.4"/>
<circle cx="1149.22" cy="740.3" r="5.4"/>
<circle cx="1149.42" cy="740.3" r="5.4"/>
<circle cx="1149.62" cy="740.3" r="5.4"/>
<circle cx="1149.83" cy="740.3" r="5.4"/>
<circle cx="1150.03" cy="740.3" r="5.4"/>
<circle cx="1150.24" cy="740.29" r="5.4"/>
<circle cx="1150.44" cy="740.29" r="5.4"/>
<circle cx="1150.65" cy="740.28" r="5.4"/>
<circle cx="1150.86" cy="740.28" r="5.4"/>
<circle cx="1151.06" cy="740.27" r="5.4"/>
<circle cx="1151.27" cy="740.27" r="5.4"/>
<circle cx="1151.48" cy="740.26" r="5.4"/>
<circle cx="1151.69" cy="740.26" r="5.4"/>
<circle cx="1151.9" cy="740.25" r="5.4"/>
<circle cx="1152.12" cy="740.25" r="5.4"/>
<circle cx="1152.33" cy="740.24" r="5.4"/>
<circle cx="1152.54" cy="740.24" r="5.4"/>
<circle cx="1152.76" cy="740.23" r="5.4"/>
<circle cx="1152.97" cy="740.23" r="5.4"/>
<circle cx="1153.19" cy="740.22" r="5.4"/>
<circle cx="1153.41" cy="740.21" r="5.4"/>
<circle cx="1153.62" cy="740.21" r="5.4"/>
<circle cx="1153.84" cy="740.2" r="5.4"/>
<circle cx="1154.06" cy="740.2" r="5.4"/>
<circle cx="1154.28" cy="740.19" r="5.4"/>
<circle cx="1154.51" cy="740.19" r="5.4"/>
<circle cx="1154.73" cy="740.18" r="5.4"/>
<circle cx="1154.95" cy="740.18" r="5.4"/>
<circle cx="1155.18" cy="740.17" r="5.4"/>
<circle cx="1155.4" cy="740.16" r="5.4"/>
<circle cx="1155.63" cy="740.16" r="5.4"/>
<circle cx="1155.85" cy="740.15" r="5.4"/>
<circle cx="1156.08" cy="740.15" r="5.4"/>
<circle cx="1156.31" cy="740.14" r="5.4"/>
<circle cx="1156.54" cy="740.14" r="5.4"/>
<circle cx="1156.77" cy="740.13" r="5.4"/>
<circle cx="1157.01" cy="740.12" r="5.4"/>
<circle cx="1157.24" cy="740.12" r="5.4"/>
<circle cx="1157.47" cy="740.11" r="5.4"/>
<circle cx="1157.71" cy="740.11" r="5.4"/>
<circle cx="1157.95" cy="740.1" r="5.4"/>
<circle cx="1158.18" cy="740.1" r="5.4"/>
<circle cx="1158.42" cy="740.09" r="5.4"/>
<circle cx="1158.66" cy="740.08" r="5.4"/>
<circle cx="1158.9" cy="740.08" r="5.4"/>
<circle cx="1159.15" cy="740.07" r="5.4"/>
<circle cx="1159.39" cy="740.07" r="5.4"/>
<circle cx="1159.64" cy="740.06" r="5.4"/>
<circle cx="1159.88" cy="740.05" r="5.4"/>
<circle cx="1160.13" cy="740.05" r="5.4"/>
<circle cx="1160.38" cy="740.04" r="5.4"/>
<circle cx="1160.63" cy="740.03" r="5.4"/>
<circle cx="1160.88" cy="740.03" r="5.4"/>
<circle cx="1161.13" cy="740.02" r="5.4"/>
<circle cx="1161.38" cy="740.02" r="5.4"/>
<circle cx="1161.64" cy="740.01" r="5.4"/>
<circle cx="1161.89" cy="740" r="5.4"/>
<circle cx="1162.15" cy="740" r="5.4"/>
<circle cx="1162.41" cy="739.99" r="5.4"/>
<circle cx="1162.67" cy="739.98" r="5.4"/>
<circle cx="1162.93" cy="739.98" r="5.4"/>
<circle cx="1163.2" cy="739.97" r="5.4"/>
<circle cx="1163.46" cy="739.96" r="5.4"/>
<circle cx="1163.73" cy="739.96" r="5.4"/>
<circle cx="1164" cy="739.95" r="5.4"/>
<circle cx="1164.26" cy="739.94" r="5.4"/>
<circle cx="1164.54" cy="739.94" r="5.4"/>
<circle cx="1164.81" cy="739.93" r="5.4"/>
<circle cx="1165.08" cy="739.92" r="5.4"/>
<circle cx="1165.36" cy="739.92" r="5.4"/>
<circle cx="1165.63" cy="739.91" r="5.4"/>
<circle cx="1165.91" cy="739.9" r="5.4"/>
<circle cx="1166.19" cy="739.9" r="5.4"/>
<circle cx="1166.48" cy="739.89" r="5.4"/>
<circle cx="1166.76" cy="739.88" r="5.4"/>
<circle cx="1167.05" cy="739.87" r="5.4"/>
<circle cx="1167.33" cy="739.87" r="5.4"/>
<circle cx="1167.62" cy="739.86" r="5.4"/>
<circle cx="1167.91" cy="739.85" r="5.4"/>
<circle cx="1168.21" cy="739.84" r="5.4"/>
<circle cx="1168.5" cy="739.84" r="5.4"/>
<circle cx="1168.8" cy="739.83" r="5.4"/>
<circle cx="1169.1" cy="739.82" r="5.4"/>
<circle cx="1169.4" cy="739.82" r="5.4"/>
<circle cx="1169.7" cy="739.81" r="5.4"/>
<circle cx="1170.01" cy="739.8" r="5.4"/>
<circle cx="1170.32" cy="739.79" r="5.4"/>
<circle cx="1170.62" cy="739.78" r="5.4"/>
<circle cx="1170.94" cy="739.76" r="5.4"/>
<circle cx="1171.25" cy="739.75" r="5.4"/>
<circle cx="1171.57" cy="739.74" r="5.4"/>
<circle cx="1171.89" cy="739.72" r="5.4"/>
<circle cx="1172.21" cy="739.71" r="5.4"/>
<circle cx="1172.53" cy="739.7" r="5.4"/>
<circle cx="1172.86" cy="739.69" r="5.4"/>
<circle cx="1173.18" cy="739.67" r="5.4"/>
<circle cx="1173.51" cy="739.66" r="5.4"/>
<circle cx="1173.85" cy="739.65" r="5.4"/>
<circle cx="1174.18" cy="739.63" r="5.4"/>
<circle cx="1174.52" cy="739.62" r="5.4"/>
<circle cx="1174.86" cy="739.61" r="5.4"/>
<circle cx="1175.21" cy="739.59" r="5.4"/>
<circle cx="1175.56" cy="739.58" r="5.4"/>
<circle cx="1175.91" cy="739.56" r="5.4"/>
<circle cx="1176.26" cy="739.55" r="5.4"/>
<circle cx="1176.62" cy="739.54" r="5.4"/>
<circle cx="1176.98" cy="739.52" r="5.4"/>
<circle cx="1177.34" cy="739.51" r="5.4"/>
<circle cx="1177.7" cy="739.49" r="5.4"/>
<circle cx="1178.07" cy="739.48" r="5.4"/>
<circle cx="1178.44" cy="739.46" r="5.4"/>
<circle cx="1178.82" cy="739.45" r="5.4"/>
<circle cx="1179.2" cy="739.43" r="5.4"/>
<circle cx="1179.58" cy="739.42" r="5.4"/>
<circle cx="1179.97" cy="739.4" r="5.4"/>
<circle cx="1180.36" cy="739.37" r="5.4"/>
<circle cx="1180.76" cy="739.35" r="5.4"/>
<circle cx="1181.15" cy="739.32" r="5.4"/>
<circle cx="1181.56" cy="739.29" r="5.4"/>
<circle cx="1181.96" cy="739.26" r="5.4"/>
<circle cx="1182.38" cy="739.23" r="5.4"/>
<circle cx="1182.79" cy="739.2" r="5.4"/>
<circle cx="1183.21" cy="739.17" r="5.4"/>
<circle cx="1183.64" cy="739.14" r="5.4"/>
<circle cx="1184.07" cy="739.11" r="5.4"/>
<circle cx="1184.5" cy="739.08" r="5.4"/>
<circle cx="1184.94" cy="739.05" r="5.4"/>
<circle cx="1185.38" cy="739.02" r="5.4"/>
<circle cx="1185.83" cy="738.99" r="5.4"/>
<circle cx="1186.29" cy="738.96" r="5.4"/>
<circle cx="1186.75" cy="738.92" r="5.4"/>
<circle cx="1187.22" cy="738.89" r="5.4"/>
<circle cx="1187.69" cy="738.86" r="5.4"/>
<circle cx="1188.17" cy="738.82" r="5.4"/>
<circle cx="1188.65" cy="738.79" r="5.4"/>
<circle cx="1189.15" cy="738.76" r="5.4"/>
<circle cx="1189.64" cy="738.72" r="5.4"/>
<circle cx="1190.15" cy="738.68" r="5.4"/>
<circle cx="1190.66" cy="738.65" r="5.4"/>
<circle cx="1191.18" cy="738.61" r="5.4"/>
<circle cx="1191.71" cy="738.57" r="5.4"/>
<circle cx="1192.25" cy="738.54" r="5.4"/>
<circle cx="1192.79" cy="738.5" r="5.4"/>
<circle cx="1193.34" cy="738.46" r="5.4"/>
<circle cx="1193.9" cy="738.42" r="5.4"/>
<circle cx="1194.48" cy="738.38" r="5.4"/>
<circle cx="1195.06" cy="738.34" r="5.4"/>
<circle cx="1195.65" cy="738.3" r="5.4"/>
<circle cx="1196.25" cy="738.24" r="5.4"/>
<circle cx="1196.86" cy="738.18" r="5.4"/>
<circle cx="1197.48" cy="738.12" r="5.4"/>
<circle cx="1198.11" cy="738.06" r="5.4"/>
<circle cx="1198.76" cy="738" r="5.4"/>
<circle cx="1199.42" cy="737.94" r="5.4"/>
<circle cx="1200.09" cy="737.87" r="5.4"/>
<circle cx="1200.78" cy="737.81" r="5.4"/>
<circle cx="1201.48" cy="737.74" r="5.4"/>
<circle cx="1202.2" cy="737.67" r="5.4"/>
<circle cx="1202.93" cy="737.6" r="5.4"/>
<circle cx="1203.68" cy="737.53" r="5.4"/>
<circle cx="1204.45" cy="737.45" r="5.4"/>
<circle cx="1205.23" cy="737.38" r="5.4"/>
<circle cx="1206.04" cy="737.3" r="5.4"/>
<circle cx="1206.87" cy="737.22" r="5.4"/>
<circle cx="1207.72" cy="737.14" r="5.4"/>
<circle cx="1208.59" cy="737.06" r="5.4"/>
<circle cx="1209.49" cy="736.97" r="5.4"/>
<circle cx="1210.42" cy="736.88" r="5.4"/>
<circle cx="1211.37" cy="736.79" r="5.4"/>
<circle cx="1212.36" cy="736.6" r="5.4"/>
<circle cx="1213.38" cy="736.4" r="5.4"/>
<circle cx="1214.44" cy="736.2" r="5.4"/>
<circle cx="1215.53" cy="735.98" r="5.4"/>
<circle cx="1216.67" cy="735.76" r="5.4"/>
<circle cx="1217.86" cy="735.54" r="5.4"/>
<circle cx="1219.09" cy="735.3" r="5.4"/>
<circle cx="1220.38" cy="734.35" r="5.4"/>
<circle cx="1221.74" cy="732.87" r="5.4"/>
<circle cx="1223.16" cy="731.34" r="5.4"/>
<circle cx="1224.66" cy="729.84" r="5.4"/>
<circle cx="1226.25" cy="728.25" r="5.4"/>
<circle cx="1227.93" cy="727.44" r="5.4"/>
<circle cx="1229.73" cy="727.17" r="5.4"/>
<circle cx="1231.66" cy="726.88" r="5.4"/>
<circle cx="1233.74" cy="726.57" r="5.4"/>
<circle cx="1236.01" cy="726.26" r="5.4"/>
<circle cx="1238.49" cy="725.93" r="5.4"/>
<circle cx="1241.25" cy="725.57" r="5.4"/>
<circle cx="1244.36" cy="722.49" r="5.4"/>
<circle cx="1247.93" cy="718.16" r="5.4"/>
<circle cx="1252.14" cy="717.43" r="5.4"/>
<circle cx="1257.3" cy="717.3" r="5.4"/>
<circle cx="1264.01" cy="717.3" r="5.4"/>
<circle cx="1273.82" cy="717.3" r="5.4"/>
<circle cx="1293.6" cy="721.25" r="5.4"/>
</g></g>
<text x="832.8" y="748.2" font-size="27" fill="#7f7f7f" text-anchor="end">0</text>
<text x="832.8" y="777.3" font-size="27" fill="#7f7f7f" text-anchor="end">-2</text>
<text x="832.8" y="806.4" font-size="27" fill="#7f7f7f" text-anchor="end">-4</text>
<text x="953.7" y="840" font-size="27" fill="#7f7f7f" text-anchor="middle">-2</text>
<text x="1079.8" y="840" font-size="27" fill="#7f7f7f" text-anchor="middle">0</text>
<text x="1205.9" y="840" font-size="27" fill="#7f7f7f" text-anchor="middle">2</text>
<text x="1080" y="880.2" font-size="29.2" fill="#474747" text-anchor="middle">Standard Normal Distribution Quantiles</text>
<text x="730.6" y="759.6" font-size="28.7" fill="#474747" text-anchor="middle" transform="rotate(-90 730.6 759.6)">Sample Quantile Deviations</text>
<text x="708.6" y="659.8" font-size="31.5" fill="#000" text-anchor="start">Normality of Residuals</text>
<text x="708.6" y="695.2" font-size="27.2" fill="#000" text-anchor="start">Dots should fall along the line</text>
</g>
</svg>
</body>
</html>
